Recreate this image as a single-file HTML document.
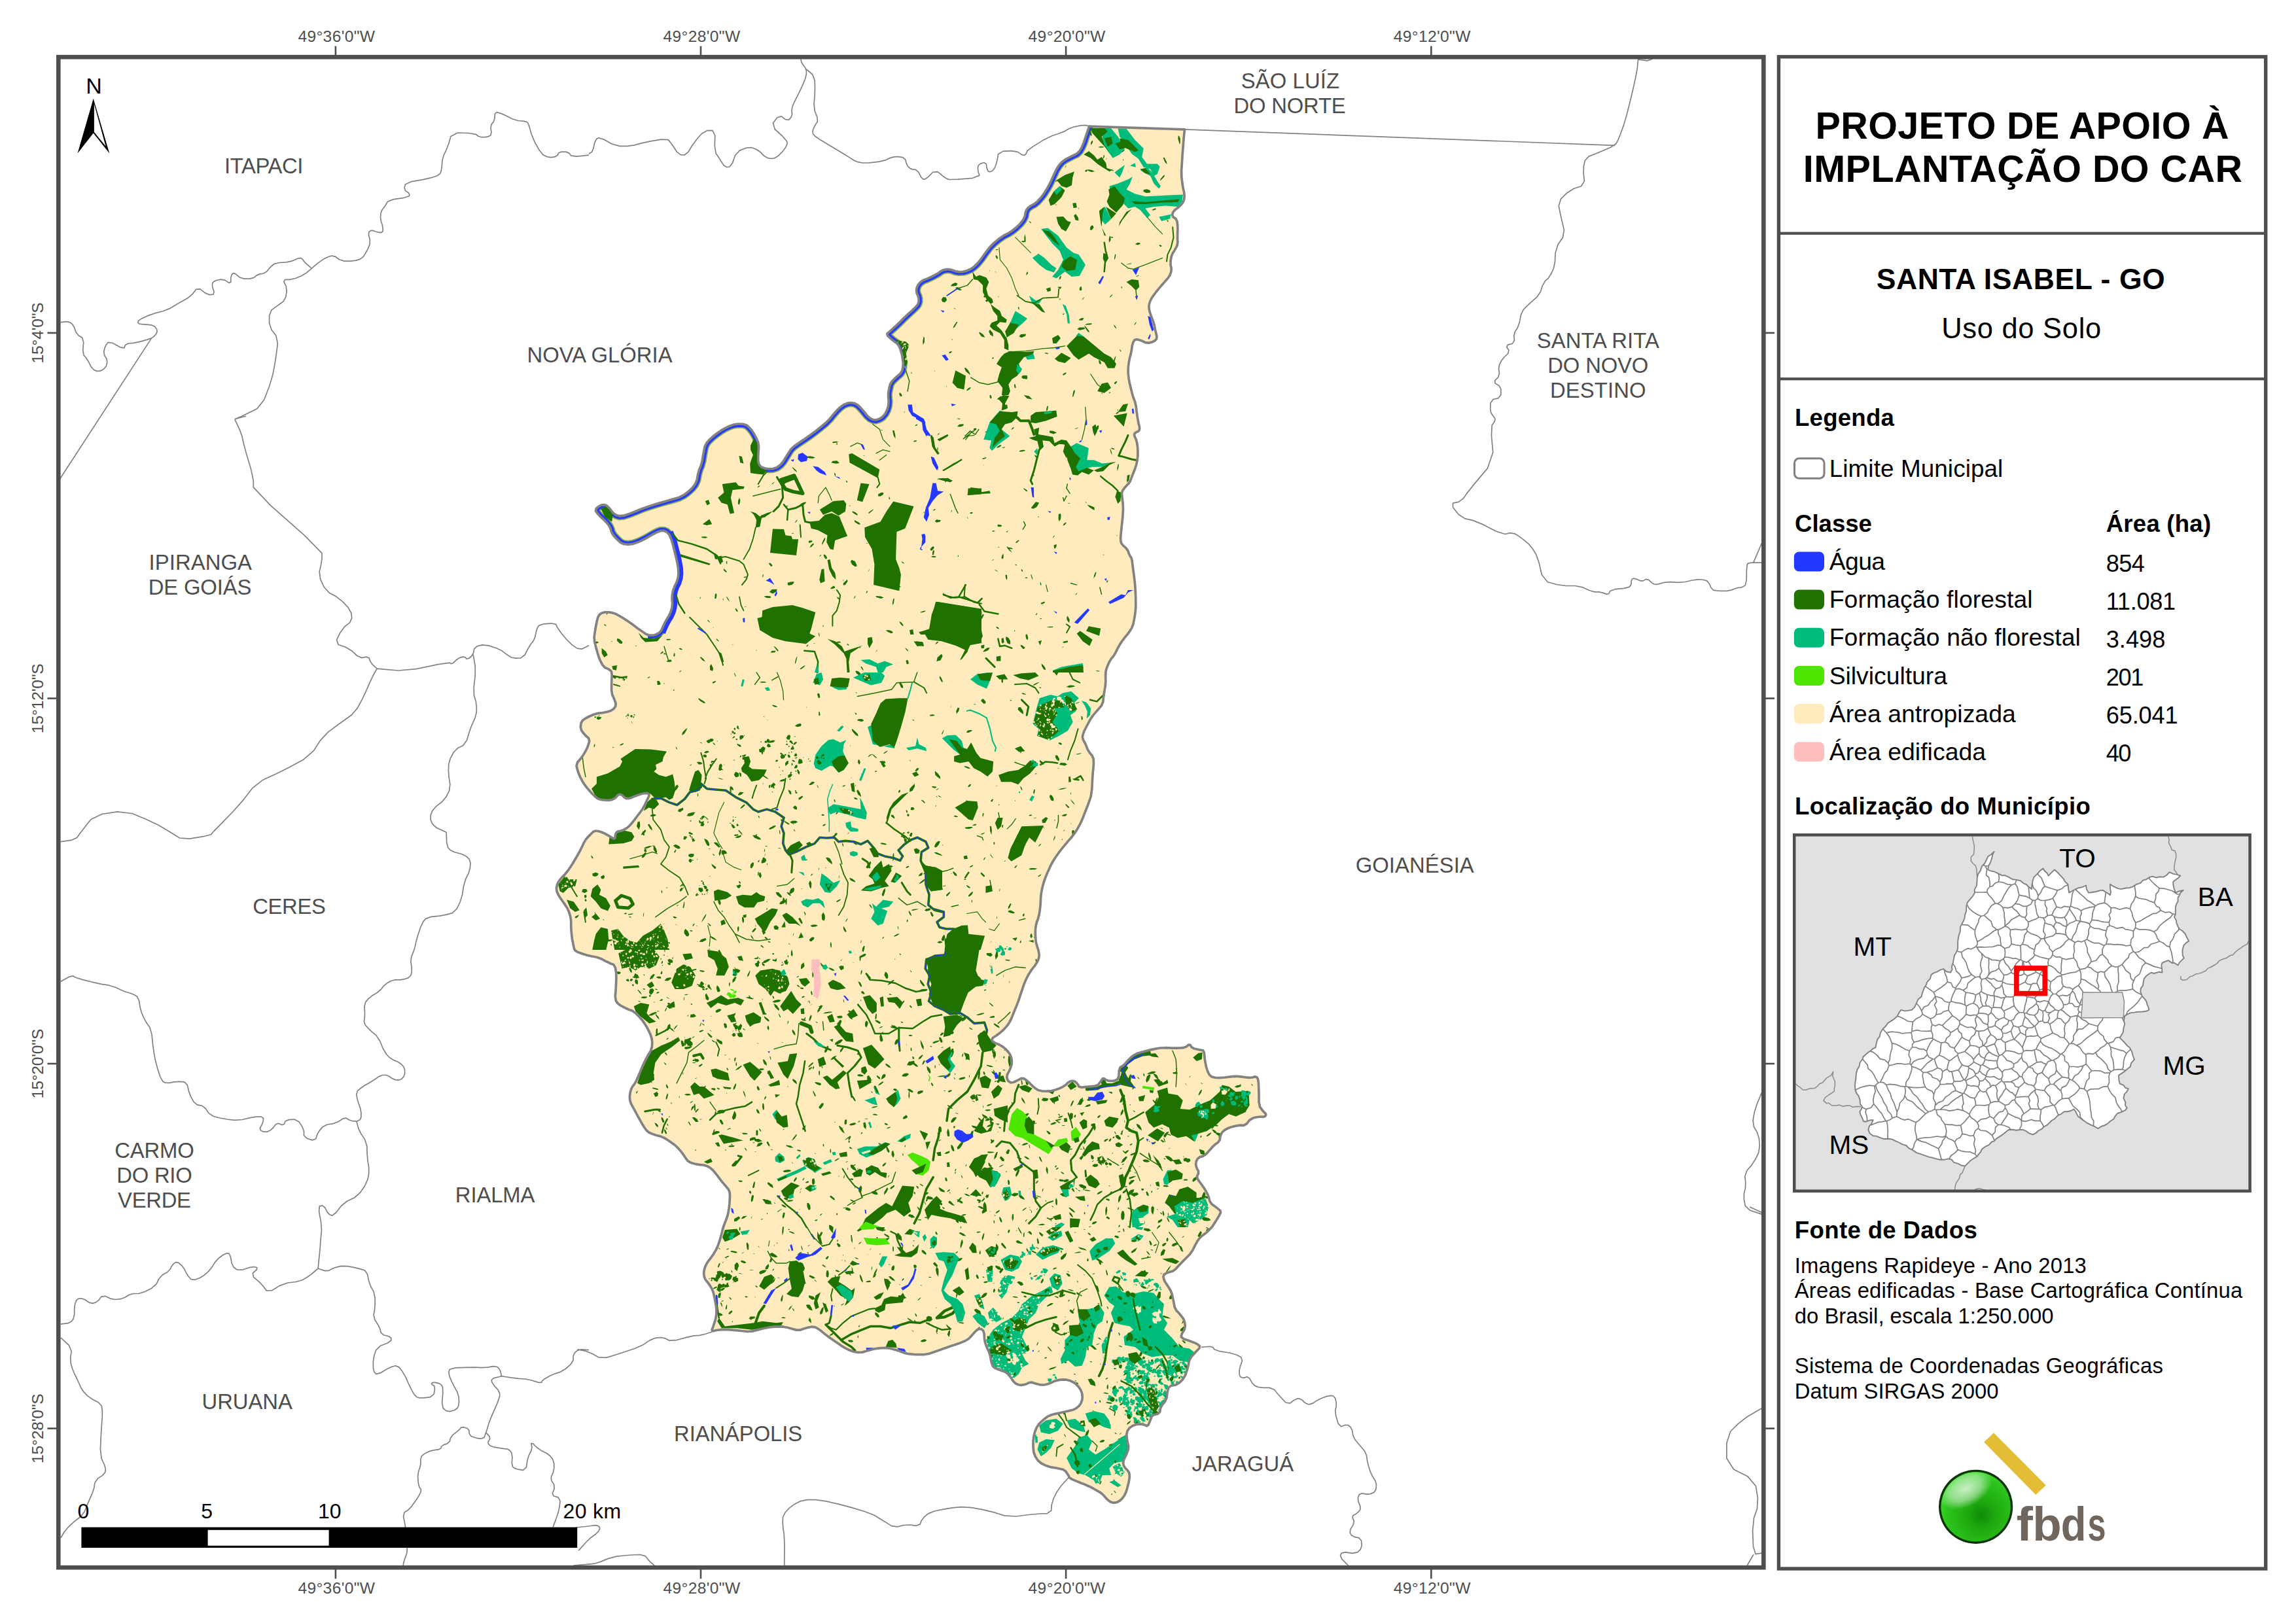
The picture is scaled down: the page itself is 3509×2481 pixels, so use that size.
<!DOCTYPE html>
<html><head><meta charset="utf-8"><title>Santa Isabel - GO - Uso do Solo</title>
<style>html,body{margin:0;padding:0;background:#fff}body{width:3509px;height:2481px;overflow:hidden}svg{display:block}</style></head>
<body>
<svg width="3509" height="2481" viewBox="0 0 3509 2481" font-family="Liberation Sans, sans-serif">
<rect width="3509" height="2481" fill="#fff"/>
<defs><clipPath id="mapclip"><rect x="89" y="87" width="2606" height="2309"/></clipPath>
<path id="bnd" d="M1664.7 193.1l145.8 4.7-1.6 16-.9 11.9-1 13.1-.7 11.7-.7 10.5 .2 9.8 1.1 9.1 1.3 7.9 1.5 6.5 .5 5.9-.7 5.2-2 4.6-3.3 3.9-3.9 3.6-4.5 3.3-3 3.6-1.2 3.9 1.3 3.3 3.9 2.6 2.2 4.2 .7 5.9 .2 6.8-.3 7.9 0 6.5 .3 5.3-.9 4.5-1.9 3.9-2.3 4-2.6 3.9-2 5.3-1.2 6.5 0 5.8 1.2 5.3-.3 5.2-1.9 5.2-3.6 5.5-5.3 6-4.6 5.2-3.8 4.5-4 4.9-3.9 5.3-3 4.5-1.9 3.9-1.3 4-.7 3.9 .3 4.6 1.3 5.2 2 5.9 2.6 6.5 2 6.6 1.3 6.5 1.4 5.9 1.2 5.2-.6 3.9-2.7 2.6-3.9 1.9-5.2 1.3-5.2-.6-5.3-2.6-4.6-1.6-3.8-.7-3 1.3-1.9 3.3-1.5 4.9-.8 6.5-1.3 6.6-1.8 6.5-1.3 7.2-.9 7.9 0 7.8 .9 7.8 1.1 6.5 1.3 5.3 1.3 5.4 1.4 5.6 1.8 6.1 2.5 6.5 1.7 7.1 .9 7.8 1 7.2 1.1 6.5 1 5.3 1.1 3.9 .3 3.3-.4 2.6-1.8 1.9-3.3 1.4-1.9 1.6-.7 1.9 .7 3 1.9 3.9 1.4 4.9 1 5.9 .4 6.8 0 7.9-.8 7.2-1.5 6.5-2.1 6.5-2.6 6.5-2.3 5.9-1.9 5.3-2.7 4.2-3.2 3.3-3.1 3.6-2.9 3.8-1.3 4.3 .3 4.6 .6 5.6 .8 6.5 .3 7.9-.5 9.1-.8 9.2-1.1 9.1-.8 8.4-.7 7.9 .4 5.6 1.2 3.3 2.7 3.2 3.9 3.3 2.9 4.2 2 5.2 1.8 3.6 1.5 2 1.2 4.6 .8 7.1 1.1 8.2 1.2 9.1 1 8.5 .7 7.9 .4 7.8 .3 7.9 .1 7.2 0 6.5-.5 6.6-.8 6.5-1.2 6.5-1.2 6.5-2.2 5.9-3.1 5.2-3.8 5.2-4.5 5.3-3.9 5.2-3.3 5.2-3.3 5.9-3.2 6.5-3.3 5.3-3.3 3.9-2.9 4.9-2.6 5.9-1.8 4.7-.9 3.7-.4 6.3 .2 9.2-.7 8.4-1.5 7.9-1.1 7.5-.7 7.1-2.6 6.2-4.6 5.3-4.3 4.9-3.8 4.5-3.7 5.3-3.2 5.9-3.3 6.2-3.3 6.5-1.9 5.3-.7 3.8 1 4.3 2.6 4.6 2.3 4.9 1.9 5.2 3 4.9 3.9 4.6 2.1 5.2 .3 5.9-.4 6.8-.9 7.9-.7 11.1-.7 14.3-1.6 11.1-2.7 7.9-2.6 7.2-2.6 6.5-2.3 5.9-1.9 5.2-2.6 5.9-3.3 6.5-3.6 6.3-3.9 5.8-4.6 5.9-5.2 5.9-5.2 6.2-5.3 6.5-4.9 6.6-4.5 6.5-4 6.6-3.2 6.4-3.3 7.2-3.3 7.9-2.6 7.2-1.9 6.5-1.5 6.5-1.1 6.5-.6 7.2-.3 7.9-.8 7.8-1.2 7.9-1.7 6.5-2 5.2-1.3 5.2-.7 5.3-.2 6.5 .4 7.9 .6 5.8 1 3.9 1 3.5 1.1 3 1 4.1 .8 5.2-.6 5.2-2.3 5.2-3.7 5.9-5.2 6.5-4.6 7.2-3.9 7.9-3.3 7.8-2.6 7.8-2.6 7.8-2.6 7.9-2.9 7.8-3.3 7.9-2.9 7.2-2.7 6.5-3.2 5.9-3.9 5.2-4.6 4.9-5.3 4.6-5.2 3.9-5.2 3.3-1.9 2.9 1.2 2.6 4 2.6 6.5 2.6 5.6 3.3 4.5 3.9 3.6 4 2.6 3.8 1.8 4.6 .9 5.3-.3 5.2-1.6 5.2-2.1 4.9-2.6 4.6-1 4.2 .7 4 1.9 2.9 3.3 1.9 4.2-.3 5.3-2.6 4.2-2.1 3.3-1.5 3.6 .6 3.9 2.9 4.3 3.7 4.5 4.6 4.3 3.6 3.9 2.6 5.9 1.5 7.8 .4 7.2-.6 6.5-1.8 5.9-2.1 5.3-2.6 4.2-2.9 3.3-3.4 3.6-1.9 3.9-.7 3.2 1 2.7 2.6 2 2.6 1.2 2.7 4.3 1 7.1-.7 6.9-.6 6.5-.7 4.6-1.9 2.6-3.4 2.3-3 1.9-2.9 2.3-.3 2.7 2.2 3.9 1.3 5.2 .4 4.6-.7 3.9-1.6 2.2-5.2 .4-8.5 1.9-5.2 3.6-1.9 3.7-3.3 3.8-4.6 4.3-4.3 4.6-3.8 5.6-3 6.5-1.9 7.2-2 7.8-1.9 7.2-1.5 6.5-1.1 8.5-.3 10.5 .4 8.8 0 7.2-.4 5.2-1.7 3.3-2.8 2.6 .1 1.9 3.4 4 2.3 5.8 1.2 4.6 1 3.3 .7 1.8 3.6 .4 6.5 1 7.1 1.6 7.9 2.1 6.5 2.6 5.3 3.9 3.3 5.2 1.2 6.5 .4 7.9-.7 7.2-.8 6.5-.8 6.6 0 6.5 .8 5.8 .7 5.3 .4 4.6-.3 3.8-1.1 2.8 .8 1.6 2.6 1 5.9 .4 9.1 .2 9.8 0 10.5 1.6 7.5 3.3 4.6 2.8 3.3 2.3 1.9 .7 2.2-1.1 2.3-2.5 1-3.9-.4-5.2 .5-6.5 1.3-5.6 3.4-4.6 5.6-4.6 2.6-4.5-.3-6.2 .8-7.9 1.9-6.2 2.3-4.5 2.6-3.3 2.9-1.9 3.3-1.3 3.9-.7 4.6-2.6 3.9-4.6 3.3-3.9 3.6-3.3 3.9-3.6 3.9-3.9 4-4.3 2.6-4.5 1.2-3.3 2.7-1.9 3.8-.7 4 .7 3.9 1.3 3.6 1.9 3.3 0 3.6-1.9 3.9 .3 3.9 2.6 4 3.3 4.5 3.8 5.3 3.3 5.2 2.7 5.2 2 5.2 1.2 5.3 3.3 4.6 5.2 3.8 4.3 3.3 3.2 2.6 .7 3.3-2 3.9-2.6 4.6-3.3 5.2-2.6 4.1-1.9 3-3 3.4-3.9 3.9-4.5 3.9-5.3 3.9-3.9 4-2.6 3.8-3.3 5.9-3.9 7.9-4.3 6.2-4.5 4.5-4.6 4.6-4.6 4.6-4.2 4.6-4 4.5-4.5 3-5.3 1.3-4.2 1.7-3.3 1.9-1.3 3 .7 3.8 1.6 4 2.6 3.9 3 4.6 3.2 5.2 2.3 5.9 1.4 6.5 1.3 6.6 1.2 6.5 2.7 5.2 3.9 3.9 3.5 4.3 3.4 4.5 1.9 5.3 .7 5.8-1.3 5.6-3.3 5.2-1.3 3.9 .7 2.7 3.2 2.3 5.9 1.9 5.5 2 5.3 1.9 4.2 2.3 3.3 2.6-.7 3.6-4.5 4.6-4.3 4.6-3.9 4.5-2.7 5.6-1.2 6.5-2 7.2-2.6 7.9-3.9 6.5-5.3 5.2-5.9 3.3-6.5 1.2-3.9 2.7-1.3 3.9-1 5.3-.7 6.5-2.6 5.8-4.5 5.3-2.6 5.2-.7 5.2-3.2 3.3-6 1.3-3.6 2.6-1.2 4-1.7 4.2-1.9 4.5-2.3 1.7-2.6-1.3-3.6-1-4.6-.7-5.2 .7-5.9 1.9-4.6 3.3-3.2 4.6-1.4 5.6 .7 6.5 .9 5.9 1.4 5.2-.4 5.2-1.9 5.3-2.3 5.2-2.6 5.2-1 4.6 .7 3.9 2.3 3.9 3.8 4 2.4 3.8 .6 4-.3 5.2-1.3 6.5-1.7 6.6-1.9 6.5-2.6 5.6-3.3 4.5-3.6 3.4-3.9 2.3-3.9 1-3.9-.4-3.6-1.4-3.3-2.6-3.2-3.2-3.3-4-4.3-3.6-5.2-3.2-5.9-3.3-6.5-3.3-6.6-2.9-6.5-2.6-6.5-2.6-6.5-2.7-4-2.6-1.3-2.6-1.9-3.3-2.6-3.8-3.9-2.7-5.3-1.2-6.5-1.4-7.9-1.2-7.1-2.4-6.5-3.2-5.3-4.6-3.9-5.9-2.5-6.8-.8-7.9 0-7.8 .8-7.9 1.8-7.2 2.6-6.5 3.6-5.6 4.6-4.5 4.6-3.9 4.5-3.3 5.6-2.4 6.5-1.6 6.6-1.4 6.5-1.4 6.5-1.5 6.6-1.6 5.2-2.5 3.9-3.3 3-4.2 1.9-5.3 .5-5.2-.8-5.2-2-4.9-3-4.6-3.8-3.9-4.6-3.3-4.9-2.3-5.2-1.3-5.9-.3-6.5 .7-5.9 1.6-5.3 2.6-5.2 2-5.2 1.2-5.2 0-5.3-1.2-4.5-1.4-4-1.2-3.9 .3-3.9 1.9-4.3 1.3-4.5 .7-4.3-.7-3.9-1.9-3.2-2.9-2.7-4-2.9-3.9-3.3-3.9-4.2-3-5.3-1.9-5.1-2-4.9-1.9-3.3-3-1.5-3.9-1.3-5.2-1.1-6.5-1.8-5.9-2.6-5.3-2.1-5.2-1.6-5.2-.9-5.9-.3-6.5-1.3-4.4-2.3-2.2-2.8-.6-3.3 .8-3.2 2.5-3.4 3.8-3.6 4-3.8 3.9-5.3 3.3-6.5 2.6-7.2 2.6-7.8 2.6-8.5 3-9.1 3.2-8.5 3-7.9 2.6-7.8 1.3-7.9 0-7.7-.3-7.5-.7-7-1.6-6.5-2.6-7.2-2.3-7.9-2-7.8-.8-7.9 .4-7.2 1-6.4 1.6-6.6 1.8-6.5 1.9-6.6 .3-6.5-1.2-6.6-2.4-6.5-3.2-6.5-4-6.5-4.5-6.6-4.6-6.5-4.6-5.6-4.3-4.5-3.8-4.6-3.3-4.6-2.6-5.6-.7-6.5 1.3-5.8 1.7-5.3 1.9-5.9 0-6.5-1.9-6.5-1.7-6.5-1.3-7.2-.4-7.9 .4-7.8 1-7.9 1.5-7.8 1.9-7.9 2.2-8.5 .7-9-1-8.5-.9-7.9-.8-7.8-.4-7.9 .3-6.5 .8-5.3 1.3-1.6-2 2-5.2 2-5.9 1.9-6.5 1-6.6 0-6.5-.7-6.6-1.2-6.5-1.3-6.5-1.4-6.5-2.3-5.9-3.2-5.3-3.3-4.6-3.3-3.8-1.9-4.6-.7-5.3 .7-5.5 1.9-5.9 3.3-5.9 4.5-5.8 4.3-6.2 3.9-6.5 3.3-7.2 2.6-7.9 2.3-7.8 1.9-7.9 1.8-6 1.7-4.3 1.8-4.7 1.9-5.2 1.5-5.9 1.1-6.5 .7-6.6 .5-6.5 .2-5.9-.3-5.2-1.4-4.3-2.6-3.2-3.3-4-3.9-4.5-4-4.9-3.8-5.3-3.7-4.6-3.3-3.8-3.9-3.3-4.5-2.6-5.6-1.6-6.5-.7-5.9-1-5.2-1.3-3.9-1.7-2.6-1.9-2.9-3.6-3.4-5.2-3.9-5.2-4.5-5.3-4.9-4.6-5.3-3.8-5.2-3.7-5.2-3.2-6.2-2.7-7.2-1.9-5.9-2-4.5-1.9-3.9-3.3-3.3-4.5-3.3-5.3-3.3-5.8-3.6-6.6-3.9-7.2-3.4-6.2-2.9-5.2-1.6-5.2-.4-5.3 .5-5.2 1.2-5.2 2.3-4.9 3.4-4.6 2.9-5.2 2.6-5.9 2.9-6.8 3.3-7.9 3.3-7.2 3.3-6.5 3.2-5.9 3.3-5.2 1.8-5.9 .4-6.5-.7-5.9-1.6-5.3-2.5-5.8-3.4-6.6-3.6-5.8-3.8-5.3-4.6-5.2-5.3-5.2-5.2-3.6-5.2-1.9-5.9-2.7-6.5-3.3-4.6-3.6-2.6-3.8-1-6.6 .7-9.1 .5-9.2 .4-9.1-.3-8.5-1.1-7.9-2.7-4.8-4.6-1.7-6-2.9-7.4-4-7.8-2.8-8-1.4-6.5-1.6-5-1.4-4.5-1.6-4-1.4-3-1.5-2.1-1.5-1.3-2.2-.7-3-.9-4.8-1.4-6.5-.9-7.1-.7-7.9-.3-7.2 0-6.5-1-6.6-2-6.5-2.6-5.9-3.3-5.2-3.6-5.2-3.8-5.3-3.1-5.2-2.3-5.2-.6-4.9 .9-4.6 1.8-4.2 2.6-3.9 3.6-4.3 4.5-4.6 4.3-5.2 3.9-5.9 4-6.2 3.8-6.5 3.6-6.2 3.3-5.9 2.9-5.9 2.7-5.8 3.2-5.3 4-4.5 3.7-3.9 3.5-3.4 3.9-1.3 4.4 .7 4.4 1.3 4.5 2 4.4 2.3 4.2 2.6 3.4 1.9 2.6 1.4 1.5-1.4 .4-3.8 .8-3 1.4-2 2.6-1.3 3.9-.7 4.3-1.6 4.5-2.6 4.3-3.6 3.8-4.5 4-4.9 3.9-5.3 4-5.2 3.9-5.3 3.2-5.5 2.7-5.9 2.3-4.9 1.9-3.9 0-2.6-1.9-1.4-2.6-.4-3.4 .4-4.2 1-5.2 1.6-5.2 2-5.3 2.3-4.2 1-3.3-.4-2.9-1.7-2.6-3-2.6-1.3-2.7 .3-2.3 1.5-1.9 2.7-3 2.1-3.8 1.8-5.6 .6-7.2-.4-5.2-.9-3.3-1.2-3.9-3-4.6-4.6-4.2-4.6-3.9-4.5-3.7-4.9-3.3-5.3-2.9-5.5-2.6-5.9-1.9-5.9-1.4-5.8 1.4-5.3 3.8-4.5 3.3-4.3 2.7-3.9 2.6-4.6 2.6-5.2 1.9-5.2 1.4-5.3-1.3-4.2-4-3.3-3.5-3.9-3.4-4.6-1.3-5.2 .7-5.9 2.6-4.4 4.6-3 5.6-3 6.5-2.8 6.6-1.8 6.5-.7 6.5-1.3 6.5-1.9 4.6-3 2.6-3.8 .6-4-1.3-3.9-1.8-4.6-2.3-5.2-1.2-6.5 0-7.9 .2-7.8 .4-7.9-.8-5.1-2-2.3-3.3-2.1-4.6-1.9-3.9-4.3-3.3-6.5-2.6-6.6-1.9-6.5-2-7.1-2-7.9-.7-6.8 .7-5.9 1-6.6 1.3-7.1 1.3-6.2 1.4-5.3 2.2-3.9 3.3-2.6 4.9-1.3 6.5 0 5.9 1 5.2 1.9 7.2 4 9.1 5.8 8.5 5.9 7.9 5.9 6.9 4.9 5.8 3.9 5.6 2 5.2 0 4.9-1.3 4.6-2.7 3.3-3.6 1.9-4.5 2-4.3 1.9-3.9 2.6-4.6 3.3-5.2 2.6-5.9 1.9-6.5 .7-6.6-.7-6.5 .4-6.5 1.3-6.5 2.3-6.6 3.3-6.5 1.9-6.5 .7-6.5-.4-7.2-1.3-7.9-1.6-7.8-1.9-7.9-2-7.8-2-7.9-2.3-6.8-2.6-5.9-3.6-3.9-4.5-2-4.9 0-5.3 2-5.9 3-6.5 3.8-6.5 3.6-6.5 3.3-6.6 2.6-6.5 2-6.2 .7-5.9-.7-4.9-1.9-3.9-3.4-4-3.9-3.9-4.5-2.6-4.6-1.2-4.6-2.3-4.6-3.3-4.5-4.6-4.9-5.9-5.3-4.2-4.5-2.7-4 .7-3.5 3.9-3.3 4-2 3.8-.6 3.3 .6 2.7 2 3.6 3.9 4.5 5.9 4.9 3.5 5.3 1.4 6.5-.7 7.8-2.6 8.5-3.3 9.1-3.8 9.8-3.6 10.5-3.4 9.8-2.9 9.1-2.6 9.2-2.6 9.1-2.6 8.2-3.9 7.2-5.3 5.9-5.5 4.5-5.9 2.9-6.8 1.3-7.9 2-7.2 2.7-6.5 2-7.2 1.2-7.8 1.4-7.2 1.2-6.5 2.7-5.6 3.8-4.6 5.3-4.9 6.5-5.2 6.6-4.6 6.5-3.9 6.6-3.1 6.5-2.2 6.8-1 7.2 .3 5.6 1.7 3.9 3.4 4 4.5 3.8 5.9 3.3 6.2 2.6 6.5 1 7.2-.7 7.9-.3 6.8 0 5.9 1 4.6 1.9 3.2 3.3 2.5 4.6 1.5 5.5 .7 6.5-.3 5.9-2.1 5.3-3.9 4.5-5.3 3.9-6.4 3.7-5.9 3.2-5.3 4-4.2 4.5-3.3 6.2-4.2 7.9-5.3 7.8-5.5 7.9-5.9 7.8-6.2 7.9-6.5 6.5-6.6 5.2-6.5 5.2-5.9 5.3-5.2 5.5-3.8 5.9-2.3 5.5-.7 5.3 1.1 4.9 2.8 4.5 4.5 4.6 5.3 4.6 5.8 4.6 4.2 4.5 2.3 4.9 .4 5.3-1.8 4.6-3.1 3.9-4.6 2.9-5.5 1.9-6.5 .7-6.6-.7-6.5 0-5.4 .5-4.3 1-4.7 1.2-5.2 2.7-4.6 3.9-3.9 4.3-4 4.5-3.8 3-4.6 1.2-5.3 .4-5.9-.7-6.5-.9-5.8-1.4-5.3-1.6-4.9-1.9-4.5-3.3-4-4.6-3.2-4.6-3.8-4.5-4.1-1-3.3 2.6-2.3 4.3-3.8 5.8-5.3 6.3-5.9 6.4-6.5 6.9-6.5 7.2-6.5 4.9-4.9 2.6-3.4 1.3-3.9 0-4.5-1-4.3-1.9-3.8-.7-4.3 .7-4.6 1.9-4.3 3.3-3.8 4.2-3 5.3-2 5.9-2.6 6.5-3.3 5.6-3.2 4.5-3.3 4.9-1.9 5.3-.7 5.5 .8 5.9 2.2 5.9 1 5.9-.3 5.8-1.4 5.9-2.6 5.5-3.9 5.3-5.3 4.9-5.9 4.5-6.5 4.6-6.2 4.6-5.9 6.2-6.2 7.9-6.5 7.2-4.9 6.5-3.3 6.5-4.2 6.5-5.3 5.6-5.5 4.5-5.9 2.6-5.5 .8-5.3 1.6-4.2 2.6-3.3 3.9-2.9 5.2-2.6 5.2-4.2 5.3-6 4.9-6.5 4.5-7.2 3.9-7.2 3.4-7.1 3.2-7.2 3.3-7.2 3.9-6.2 4.5-5.3 5.6-4.2 6.5-3.3 5.9-2.9 5.3-2.6 4.2-4.2 3.3-5.9 2.9-6.9 2.6-7.9 2.4-7.2z"/><clipPath id="muni"><use href="#bnd"/></clipPath></defs>
<g clip-path="url(#mapclip)">
<g fill="none" stroke="#828282" stroke-width="1.7" stroke-linejoin="round">
<path d="M900 237.2l-6.5 .7-12.8 1.3-8-1.3-2.9-3.8-4.9-2-6.9 0-4.2 1.7-1.6 3.5-3.9 2.3-6.3 1-6-1-6-2.9-6.3-7.9-6.9-12.7-4.9-11.8-2.9-10.7-2.5-6.1-1.9-1.4-4.9-1-7.9-.6-8.8-2.7-9.8-5-7.8-3.4-5.9-1.9-3.1 2.4-.4 6.9-1.8 5.4-3.1 3.9-1.1 5.4 1 6.9-1.2 4.4-3.3 1.9-4.7 1-5.8 0-5-1.5-3.8-2.9-10.6-1.8-17.3-.5-10.3 5.4-3.3 11.3-3.7 9.6-3.8 7.9-2.3 8.3-.6 8.8-1 6.6-1.3 4.2-5.1 3.7-8.9 2.9-13 3-17.3 2.9-9.3 4.3-1.3 5.5 1.4 4.2 4.4 2.9 1.9 2.8-.4 2.5-8 2.5-15.7 2.3-9.3 3.6-2.9 5-3 4.4-2.9 3.8-1.7 4.9-.4 5.9 .8 5.9 2 5.9 .9 5.1-.2 4.5-2.3 2-4.3-.5-4.3-1.1-4.3-1.6-3.5 .3-2.5 2.1-.3 4.7 1.9 7.3-.4 7-3 7-3.2 6.1-3.5 5.5-4.9 3.7-6.3 2-8 1-9.8 0-7.8-2.3-6-4.5-5.8-1.3-5.9 2-5.9 2.9-5.9 4-5.3 4-4.9 4.3-2.5 2.2M476.3 410.4l-2.4-2.2-5-4.3-3.9-4-2.9-4-3-1.6-2.9 .5-4.4 1.7-5.9 2.7-8.3 1.7-10.8 .6-7.4 1.8-3.8 2.9-4 3.9-3.9 5-4.9 2.9-5.9 .9-4.9 2.2-3.9 3.3-6.4 1.7-8.8 0-7.1-2.4-5.6-4.9-3.9-1.2-2.3 2.5-1.2 4.5 0 6.5-2.9 1.3-6-4-6.3-1.2-6.9 1.3-4.4 2.2-1.9 2.9 .3 5.2 2.5 7.5-1.4 3.9-5.6 .4-6.6-2.7-7.9-6-6.3 .5-5 7-6.8 5.8-8.8 5-9.3 5.3-9.8 5.9-10.8 4.4-11.7 2.9-10.8 3.7-9.8 4.5-5.2 3.7-.6 2.7 2 1.7 4.4 .6 6.2 .6 7.9 .6 5.4 2.4 2.9 4.4 .5 3.8-1.9 3.6-2.5 2.9-2.9 2.3-7.4 2.9-11.7 3.3-9.8 2-7.9 .6-4.6 2.4-1.4 4.4-6.4-1-11.3-6.3-7.2-1.1-2.9 3.8-2.2 5-1.3 5.8 1 5.5 3.2 4.8 .9 5.4-1.5 5.9-3.5 4.4-5.2 2.9-5.2 .5-4.8-1.9-4.4-4.9-4-7.9-3.7-5.9-3.5-3.8-1.3-7.9 1-11.8-2.2-7.3-5.3-3-4.1-5.3-2.9-7.9-3.4-5.1-3.9-2.3-4.7-.8-5.5 .7-2.8 .4M231.3 517.4l-140.3 215.6M476.3 410.4l-2.9 2.4-6 5-7.3 4.2-8.8 3.5-8.1 1.8-7.5 0-1.9 3.4 3.4 6.9 1 7.8-1.5 8.8-3.5 6.4-5.3 3.9-6 4.4-6.9 5-3.4 8.3 0 11.7 3.4 10.3 6.9 8.8 2.4 12.2-1.9 15.7-2.5 15.7-2.9 15.8-5.4 18.1-7.9 20.5-10.8 13.7-13.7 6.9-10.2 4.9-6.9 2.9-3.4 1.5M900 235.2l1.5-1 2.9-1.9 2.5-5.4 1.9-8.9 2.7-5.4 3.3-1.9 7.9 2.4 12.3 6.9 12.1 3.4 11.7 0 10.8-1.5 9.8-2.8 13.7-3 17.7-2.9 10.4 .4 3.3 4 4.5 6.1 5.5 8.5 5.7 4.4 5.8 .4 5.9-4.7 5.9-9.8 6.8-9.3 7.9-8.9 8-4.6 8.3-.4 3.9 7.9-.4 16 1.7 11 4 5.9 3.9 6.1 3.9 6.2 4.4 3 4.9-.4 4.4-5.9 4-11.3 6.8-7.7 9.8-3.9 8.3-.7 6.9 2.5 6.4 4.2 5.8 6 5.9 3.4 5.9 .9 5.4-1.2 4.8-3.2 5.5-5.4 5.8-7.5 2.5-5.7-1-3.9-6.4-7.4-11.7-10.7-2.7-9.5 6.3-8.3 6.3-1.8 6.5 4.8 5 .4 3.5-4 1.5-4.6-.6-5.3 .7-5 1.9-5 3.9-8.3 6-11.7 4.7-10.3 3.5-8.9 1.7-6.9 0-4.9-1.7-4.7-3.5-4.5-2.2-3.8-.8-3.4-.4-1.6M1232.4 105.8l3.2 2.7 6.2 5.5 3.4 8.9 .3 12.1-.4 12-1.1 11.7 1.2 10.8 3.8 9.8 .3 6.9-2.8 3.9-2.5 4.7-2 5.5 .5 4.5 2.9 3.2 8.8 6.1 14.8 8.9 12.2 7.3 9.8 5.9 7.9 4.9 5.9 3.9 6.3 2.7 6.9 1.3 10.8-.2 14.7-1.7 9.7-2.2 4.9-2.5 4.9-1.8 5-1 5.5 0 6.3 1 3.9 3.4 1.6 5.9 2.3 4.4 2.9 2.9 4 1.7 4.8 .4 4.5 3.9 3.8 7.5 3.5 3.5 2.9-.4 4.9-3.7 6.9-7.1 7.3-.3 7.9 6.5 5.9 3.9 3.9 1.4 13.2-.3 22.5-1.9 10.3-4.2-1.9-6.2-.5-5.1 .9-4 3.2-2.7 5.5-1.6 3.3 2.4 1 6.5 1.7 4 2.3 1.3 2.7-.5 2.9-2.3 2.5-3.7 1.9-4.9 1.8-6.8 1.5-8.8 7.4-4.6 13.1-.4 9.5 1.7 5.9 4 3.9 1.1 2-1.5 1.5-2.3 .9-2.9 8.4-6.4 15.6-9.8 13.8-6.8 11.7-4 8.9-3.7 5.8-3.5 7.9-2.8 9.8-1.9 6.8-.5 4 1 1.9 .5M1810.5 197.8l657.9 24.5M2503.6 90.9l-.5 4.7-.9 9.5-2.5 13.5-3.9 17.6-4.4 18.6-5 19.6-4.8 16.7-5 13.7-3.8 9.5-3 5.4-7.8 5.3-12.7 5.5-11.3 4.7-9.8 3.9-5.9 6.4-1.9 8.8-.3 10.5 1.3 12.1-4.9 7.9-11.1 3.5-10.3 6.4-9.5 9.2-3.4 10.8 2.5 12.3 2.8 12.4 2.9 12.3-2.1 11.6-7.3 10.8-3.9 12.3-.6 13.6-2.3 11-3.9 8.3-4.1 6-4.5 3.9-4 6.9-3.3 9.8-5.6 8.3-7.9 6.9-6.8 6.3-5.9 6-3.9 8.3-1.9 10.7-3 8.4-3.9 5.9-1.7 6.6 .6 7.5-3.1 4.6-6.9 1.7-1.7 3.4 3.2 4.8-1.2 5.2-5.9 5.5-4.4 5.8-2.9 5.8-1 6.4 1 6.9-1.9 5.9-5 4.8 .5 4.3 5.9 3.5 2.9 5.8 0 8.3-3.9 5.1-7.9 1.9-4.1 5.4-.3 8.9 1 6.2 2.3 3.5 1.2 1.7M2503.6 90.9l13.8 2 7.8-2.7M358.7 640.7l2.7 5.7 5.2 11.3 3.5 9.6 1.5 7.9 4.5 16.7 7.5 25.5 3.7 17.6 0 9.8 26.2 27.9 52.3 46.1 26.2 26.9 0 7.9-1.3 9.3-2.5 10.7 1.4 11.5 5.5 12.1 8.1 9 10.8 5.9 9.6 7.5 8.5 9 4.7 8.4 .9 7.9-3.2 6.9-7.5 5.8-6.6 8.8-5.9 11.5 2.5 7.6 10.7 3.5 9.6 5.7 8.5 7.8 7.5 3.1 6.7-1.5 4.1 1.7 1.5 4.8 3.3 4.8 4.9 4.5 2.4 2.2M358.7 640.7l17.6-4.7M576.2 1022.1l10.8 1 21.6 1.9 27.4-2.4 33.4-6.9 17.8-2.6 2.3 1.6 3.5-1.5 4.5-4.5 4.7-3.1 4.8-1.5 3.7 .5 2.3 2.5 3.5-.6 4.5-4 2.7-4.9 1-5.8 4.4-4 7.9-1.9 9.8 1 11.7 3.9 8.4 3.9 4.9 3.9 4.9 3.4 4.8 3 6.4 1.2 7.9-.3 6.4-4.9 4.8-9.5 4.5-7.2 3.8-4.8 2.7-6.4 1.4-7.8 2-5.7 2.5-3.5 7.2-2.3 11.7-1 6.9 1.8 1.9 4.5 5.4 7.7 8.8 10.7 8.3 8.1 7.9 5.5 7.4 1 7.1-3.5 3.5-1.8M576.2 1022.1l-2 3.4-3.8 6.9-4.9 10.3-6 13.7-6.3 13.3-6.9 12.7-8.8 10.3-10.7 7.8-12.1 8.8-13.3 9.8-11.8 12.7-10.2 15.8-15.9 13.7-21.5 11.7-20.6 10.3-19.6 8.9-16.2 12.7-12.7 16.7-16.7 18.9-20.5 21.1-10.3 10.6M723.2 1000.6l1 5.9 2 11.7 0 14.7-2 17.7 .3 12.7 2.5 7.8 1.3 8.3 0 8.9-2.3 9.3-4.5 9.8-4.2 11.3-3.8 12.7-5.9 8.4-7.9 3.8-6.4 6.4-4.8 8.8-2.7 9.3-.4 9.8 .7 10.3 1.7 10.8-1.2 9.8-4.4 8.8-6.5 7.9-8.8 6.8-5.9 6.9-2.9 6.9 0 6.8 2.9 6.9 6.4 5.7 9.8 4.5 4.9 2.2M92.9 1286.7l5.7-.9 11.3-1.7 7.7-3.6 3.9-5.5 7.1-9.3 10.2-12.9 16.9-8.3 23.5-3.7 22.8 2.7 22.1 9.2 17.5 8.3 12.7 7.5 11 6.7 9.2 5.8 15.2 1.2 21.1-3.5 11.6-3 2-2.3 1-1.2M2282.2 636l1 1.5 1.9 2.9-1 4.1-3.9 5.4-.8 15.6 2.3 26.1-8.3 24.3-19 22.5-12.4 15.5-5.9 8.4-7.1 5.1-8.5 1.8 0 6.3 8.5 10.7 10.1 6.7 11.7 2.5 15.9 6.5 20 10.4 13.7 4.2 7.5-1.9 7.1 1.2 6.9 4.3 7.1 5.3 7.5 6.5 6.1 7.3 5 8.3 4.6 13.1 4.2 18.1 9 11 13.8 3.8 13.9 2 14.1 0 12 2.4 9.8 4.6 8.1 2.4 6.5 0 6 1.2 5.5 2.3 3.7-.9 1.9-4 7.7-2.8 13.5-1.4 7.9-1.9 2.2-2.3 1.1-3.2 0-4.1 1.2-2.6 2.3-1 4.1 .9 5.9 2.7 4.9 .1 3.9-2.5 4.3 .9 4.5 4.3 3.9 2.4 3.2 .3 5.1-.9 7-2.1 9.3-.7 11.7 .8 11.3-.9 10.7-2.5 8.4-1.2 5.9 .2 4.7 .8 3.5 1.3 3.2 3.9 3 6.5 3.6 3.7 4.3 .7 6.6 .4 8.8 0 7.4-1.2 5.9-2.3 4.9-1.4 3.8-.3 3.7-1.3 3.3-2.2 1.8-8.5 .2-14.6 .8-8.4 1.3-1.9 5.8-1 10.2 0 5.1 0M2680 859.4l12.6-29.4M682.1 1272l.2 5.4 .4 10.8 1.9 7.3 3.5 4 6.7 3.2 9.8 2.5 7.4 3.5 4.8 4.2 2.2 6.1-.6 7.9-2.4 8.3-4.4 8.8-3.1 10.8-1.9 12.7-3.5 11.5-4.9 10.2-6.8 6.4-8.8 2.5-10.8 2-12.7 1.3-8.4 3-3.9 4.5-4 8.2-3.8 11.7-3 10.3-1.9 8.8-2.5 7.8-2.9 6.9-.8 7.8 1.3 8.9 0 6.9-1.3 4.8-3.7 3.6-5.8 2.1-6.9 1.1-7.8 0-6.9 1.9-5.8 3.6-5 4.4-3.8 4.8-5.9 5-7.9 4.8-5.9 4.9-3.9 4.9-1.7 6.9 .6 8.9-.2 7.3-.9 5.9 1.6 5.4 4.4 4.8 5.5 5.5 6.9 5.8 5.9 8.9 4.8 11.7 5 8.3 4.8 5 5.9 3.9 6.9 2.9 5.2 3.5 3.5 3.8 1.8 4.9 0 6-1.8 4.7-3.5 3.5-4.3 1.5-4.8-.6-5-2.1-4.8-3.5-4.9-1.7-5 .2-5.8 2.4-6.9 4.8-7.3 4.5-7.9 4.6-6 4.2-4.4 3.9-1.4 5.4 1.3 6.9 2 6.8 2.5 6.9 1.3 6.8 0 6.9-1.8 4.2-3.5 1.6-1.7 .8M544.9 1714.2l-2.4-.3-5-.6-4.4-1.6-3.9-2.5-5.4 1-6.9 4.5-7.8 2.9-8.8 1.4-6.9 3.4-4.8 5.5-3.7 6.1-2.3 7-5.4 1.9-8.5-2.9-4.2-4.5 0-5.8-2.4-6.9-5-7.9-6.8-3.7-8.8 .4-5.4 2.4-1.9 4.5-3.4 1.1-5-2.3-4.4 1.5-3.9 5.2-4.4 3.9-5 2.3-4.9 0-4.9-2.3-.9-3.7 2.9-4.8 1.8-4.9 .6-5-3.4-2.4-7.5 0-9.6 1.5-11.7 2.9-11.8 .8-11.8-1.3-10.8-2-9.8-2.5-7.4-4.9-4.8-7.3-5.9-4.2-6.9-1.2-5.5-4.7-4.4-8.3-3.1-8.5-1.9-8.8-4.7-4.7-7.5-.6-7.6 .5-7.9 1.6-5.8-.2-4-2-3.9-6.9-3.9-11.7-3.2-11.8-2.3-11.7-2-13.8-1.5-15.6-3.2-11.3-5-6.9-4.1-7.3-3.3-7.9-2.5-8.8-1.5-9.8-2.8-6.2-3.9-2.5-5.9-2.5-7.8-2.3-7.8-3.2-7.9-3.8-9.8-3-11.7-1.9-13.7-3-15.8-3.9-9.8-3.2-3.8-2.3-6.2 1.3-8.5 4.8-4.2 2.5M544.9 1714.2l1 3.6 1.9 7.3 4 8 5.8 8.8 3.2 10.3 .3 11.7 1 10.8 1.6 9.8 0 9.3-1.6 8.9-4.4 9.8-7.3 10.7-9 7.8-10.7 5-9.3 7.5-7.9 10.2-5.8 4.4-3.9-1.3-3.8-4.1-3.5-6.9-3.9-2.9-4.4 .9-.6 8.4 2.9 15.6 1 12.8-1 9.8-.7 8.1-.4 6.5-.2 3.2M2692.6 1669.9l-2.7 6.4-5.2 12.7-3.7 12.3-1.9 11.7 1.5 9.8 4.8 7.9 3 9.8 .9 11.7-1.9 10.8-5 9.8-5.8 8.8-6.9 7.9-2.9 8.8 1 9.8-.5 8.8-1.9 7.8 0 8.8 1.9 9.8 7.1 6.9 12.1 3.9 6.1 2M489.2 1907.7l-3.1 31.4M486.1 1939.1l-3.4 2.9-6.9 5.9-6.9 4.9-6.8 3.9-9.9 2.8-12.6 1.5-12.3 4.4-11.8 7.3-8.3 .2-5-6.9-6.5-6.8-8.2-6.9-1.2-6.1 5.9-5.2 .7-3.3-4.5-1.2-7.7 1.2-10.7 3.5-7.8-.2-5-3.8-3.2-6.7-1.6-9.5-2.4-4.9-3.4-.3-5 2.2-7 5-5.8 6.3-5 7.8-5.3 6.6-5.9 5.2-6.8 4.3-7.9 3.1-5.8-.6-4-4.5-3.4-5.2-2.9-6-3.9-5.2-5-4.5-4.2-.9-3.5 2.5-3 3.8-2.3 4.8-4.6 4.5-6.9 3.8-5.3 5.9-4 7.9-7.3 6.6-10.8 5.6-9.3 2.7-7.9 0-6.8 2-5.9 3.8-6.8 2.4-7.9 .8-7.8-1.4-7.9-3.8-5.8 .8-4 5.3-4.3 3.4-5 1.6-5.4-1.3-5.9-4.1-5.3-2-5 .2-3.4 2.8-1.9 5.2-1 7.1 0 8.9-1.5 6.6-2.9 4.2-5.2 2.7-7.5 .9-3.7 .5M486.1 1939.1l3.4 1.2 6.9 2.3 5.8-.2 5-2.7 6.3-2.4 7.9-1.9 9.8 .2 11.7 2.3 8.9 2.2 5.8 1.9 4 5.9 1.9 9.8 3.1 8.8 4.4 7.9 2.1 9.3 0 10.7-.7 8.8-1.3 6.9 1.8 7.4 4.9 7.8 3.1 6.5 1.3 5.4 4.4 3.6 7.5 1.9 3.7 2.8 0 3.5-5.4 4-10.8 4.2-6.8 6.4-2.9 8.5-1.5 9.1 0 9.8 1.5 6.4 2.9 2.9 6.3-1.4 9.8-6 7.9-3.7 5.8-1.5 5.4 2.4 5 6.5 4.9 8.6 4.9 10.8 4.4 8.8 3.8 6.9 4 4 3.9 1.1 6.9 0 9.8-1.1 5.6-4.5 1.3-7.9-.9-4.9-3.4-1.9-.6-1.7 1.9-1.4 3.9 0 5.9 1.4 3.7 2.6 1.6 4 .2 8.8-1.2 13.7 1.6 8.9 4.6 3.9 5.7 .9 6.8-1.9 4.5-3 1.9-3.9 .8-5.9-.4-7.8-2.5-7.8-4.5-7.9-3.9-7.8-3.3-7.9-1-6 1.4-4.4 9-2.4 16.7-.6 13.2-.1 9.8 .4 9.3-.5 8.8-1.4 5.9 .8 2.9 2.9 2 3.9 1 4.9 .5 2.5M766.4 2103.7l-3.9 1-7.9 1.9-3.4 3 .9 3.9 3.3 4.9 5.5 5.9 2.7 5.3 0 5-3.7 10.7-7.5 16.8-5.2 13.2-2.9 9.8-2.5 7.3-1.9 5-4.4 1.9-6.9-1-5.4-1.5-3.8-1.9-2.2-3.5-.4-4.8-2.9-3.3-5.5-1.6-3.8 .5-1.9 2.5-4.1 3.7-6.4 5-3.7 4.8-1.1 5-3.6 3.4-5.8 2-3.4 2.5-.7 2.8-4.1 2-7.5 1-6.2 1.7-4.9 2.3-3.9 2.5-2.9 2.5-1.5 4.7 0 6.9-1.2 6.3-2.3 6-.8 7.8 .7 9.8 1.7 6.4 2.5 2.9-.7 4.9-3.8 6.9-5 7.3-5.8 7.9-5.4 5.4-4.9 2.8-1.3 6.9 2.3 10.8 2 14.2 1.6 17.7-.7 12.7-2.9 7.9-1.8 5.7-.6 3.4-.3 1.8M766.4 2103.7l5.4 .8 10.7 1.6 10.3 1.2 9.8 .7 9.8 2 9.8 3.1 5.4 .3 1-2.5 3.9-3.2 6.9-3.9 7.8-3.5 8.8-2.9 8.3-4.9 7.9-6.9 3.9-6.4 0-5.9 2-4.9 3.9-3.8 6-1.7 8 .5 4 .3M742.8 2190l1.8 1.9 3.5 4 .5 3.9-2.5 3.9 .2 3.4 2.9 2.9 5.9 2.2 8.8 1.4 6.9 1 4.8 .5 3.8 2.3 2.5 3.9 1 6.4-.6 8.8 1.2 5.6 2.9 2.3 5.4 1.8 7.9 1.2 4.7-4.6 1.5-10.4 2.5-8.2 3.3-5.9 1.2-5.8-1-5.9 2.5 0 5.8 5.9 6.9 4.9 7.9 3.9 5.9 4.5 3.9 4.9 1.9 6.3 0 7.9-1.5 6.8-2.9 5.9 .5 5.8 3.9 6 .5 6.3-2.9 6.9 1.9 4.4 6.9 1.9 2.9 5.4-.9 8.9-2 8.8-2.9 8.8-2.5 6.8-1.9 5-1 2.4M92.9 2044.9l4.2 3.9 8.5 7.9 3.5 8.8-1.4 9.8 .5 8.8 2.3 7.9 3.2 7.8 3.9 7.9 3.4 7.3 3 6.9 4.3 6.3 5.9 5.9 7.4 5.2 8.8 4.5 4.9 5.4 1 6.3 0 9.9-1 13.8-1 16.6-.9 19.6 1.7 14.2 4.2 8.9 2 6.8-.4 4.9-3.9 4.9-7.5 5-4.4 6.3-1.3 7.9-2.7 8.3-3.9 8.8-4 9.3-3.9 9.8-5.8 7.8-7.9 5.9-6.8 5.9-5.9 5.9-4.7 5.8-3.5 6-1.8 2.9M1088.2 2035.9l-3.9 1.3-7.9 2.5-7.8 1.6-7.9 .6-11.7 2.5-15.8 4.3-10.7 .4-5.9-3.3-6.8-1.3-7.9 .8-8.8 3.6-9.8 6.5-12.8 5.8-15.6 5.3-14.8 4.8-13.6 4.1-11.8-.6-9.8-5.6-9.3-3.7-8.8-1.9-4.4-1M1635 2256.6l-4.4 4.9-8.8 9.8-6.8 9.8-5 9.8-2.7 9.3-.6 8.8-6.4 4.6-12.1 .4-15.9 1.5-19.6 2.5-17.6-1.1-15.8-5-16.6-4.1-17.7-3.2-15.7-1-13.6 1.3-13.7 2.2-13.8 2.9-9.7 3.9-6 5-4.1 5.3-2.3 5.9-5.9 2.2-9.4-1.3-9.6 .5-9.8 2.3-8.8-1.2-7.9-5-8.8-5.4-9.8-5.9-14.7-5.8-19.6-5.9-19.6-5.2-19.6-4.5-16.2-2.2-12.7 0-10.8 2.2-8.8 4.5-7.6 5.7-6.5 6.9-3.5 7.3-.3 7.9 .6 8.8 1.5 9.8 .7 15.5-.2 21.1-.1 10.6M880.4 2335l4.9-.5 9.8-1 7.9-1 5.8-.9 4.4 .5 2.9 1.9 .5 2.9-1.9 4-4.4 4.3-6.9 5-7.3 6.8-7.9 8.9-3.9 4.4M876.5 2393l5.9-.5 11.7-.9 8.9-.8 5.8-.6 8.9-2.8 11.7-4.8 11.8-3.2 11.7-1.4 12.3-1 12.7-.5 8.3 2.1 3.9 5 4 4.2 3.9 3.4 2 1.8M1836.1 2059.4l4.2-.4 8.4-.7 5.2 1.3 1.9 3.2 8.4 2.9 14.6 2.3 10.9 3 6.8 3.5 2 5.7-2.9 7.9-1.5 6.8 0 5.9 1.5 3.7 2.9 1.6 3.5 0 3.8-1.6 4 2.6 3.8 6.9 4.4 4.4 5 2 7.3 1 9.8 0 7.4 2.9 4.8 5.9 5.9 6.5 6.9 7.3 6.4 1.2 5.9-4.7 4.9-2.3 3.9 0 4 2 3.8 3.9 4 2.2 3.8 .3 5-1.7 5.8-4 6.9-3.4 7.9-2.9 6.1-1.2 4.3 .6 2.9 3.4 1.5 6.3 0 6.1-1.5 5.9 1 8.8 3.5 11.7 4.7 4.6 5.9-2.5 4.7 .2 3.5 2.9 2.5 5.2 1.3 7.5 3.1 6.7 5 5.9 4.9 5.8 4.9 5.9 2.9 6.8 1 7.9 2 8.3 2.9 8.8 3.4 7.4 4 5.8 1.6 6.4-.6 6.9-3 4.6-5.2 2.3-6.1 .5-6.9-1.3-4.4 1.8-1.9 4.8 .5 5.9 2.9 6.9 0 5.4-2.9 3.8-3.7 3-4.2 2-1 3.4 2.3 5-1 5.8-4.2 6.9-1 5.3 2.3 4 4.6 2.6 6.9 1.4 3.7 4.4 .6 7.5-2 5.9-4.5 4.2-7.7 1.5-10.7-1.4-6.2 1.3-1.6 3.9 2.4 5.2 6.5 6.5 3.3 3.2M2692.6 2152.7l-7.5 4.4-15.2 8.9-13.4 10.3-11.7 11.7-5.9 17.7 0 23.5 10.8 17.1 21.5 10.8 12.3 14.7 2.9 18.6-1 16.2-4.8 13.7-2 19.1 .9 24.5 3.7 11.8 6.2-1 3.2-.5M2680 2376.2l-9.8 16.8M2674.2 1845l18.4 8.6"/>
</g>
<use href="#bnd" fill="#ffebbe"/>
<g clip-path="url(#muni)">
<polyline points="1664.7,193.1 1663.6,196.3 1661.3,202.8 1658.9,210.0 1656.3,217.9 1653.4,224.8 1650.1,230.7 1645.9,234.9 1640.6,237.5 1634.7,240.4 1628.2,243.7 1622.6,247.9 1618.1,253.2 1614.2,259.4 1610.9,266.6 1607.7,273.8 1604.3,280.9 1600.4,288.1 1595.9,295.3 1591.0,301.8 1585.7,307.8 1580.5,312.0 1575.3,314.6 1571.4,317.5 1568.8,320.8 1567.2,325.0 1566.4,330.3 1563.8,335.8 1559.3,341.7 1553.7,347.2 1547.2,352.5 1540.7,356.7 1534.2,360.0 1527.0,364.9 1519.1,371.4 1512.9,377.6 1508.3,383.5 1503.7,389.7 1499.2,396.2 1494.3,402.1 1489.0,407.4 1483.5,411.3 1477.6,413.9 1471.8,415.3 1465.9,415.6 1460.0,414.6 1454.1,412.4 1448.6,411.6 1443.3,412.3 1438.4,414.2 1433.9,417.5 1428.3,420.7 1421.8,424.0 1415.9,426.6 1410.6,428.6 1406.4,431.6 1403.1,435.4 1401.2,439.7 1400.5,444.3 1401.2,448.6 1403.1,452.4 1404.1,456.7 1404.1,461.2 1402.8,465.1 1400.2,468.5 1395.3,473.4 1388.1,479.9 1381.2,486.4 1374.8,492.9 1368.5,498.8 1362.7,504.1 1358.4,507.9 1355.8,510.2 1356.8,513.5 1361.3,517.6 1365.9,521.4 1370.5,524.6 1373.8,528.6 1375.7,533.1 1377.3,538.0 1378.7,543.3 1379.6,549.1 1380.3,555.6 1379.9,561.5 1378.7,566.8 1375.7,571.4 1371.2,575.2 1366.9,579.2 1363.0,583.1 1360.3,587.7 1359.1,592.9 1358.1,597.6 1357.4,602.0 1357.5,607.4 1358.2,613.9 1357.6,620.4 1355.7,626.9 1352.8,632.4 1348.9,637.0 1344.3,640.1 1339.0,641.9 1334.1,641.5 1329.6,639.2 1325.0,635.0 1320.4,629.2 1315.8,623.9 1311.3,619.4 1306.4,616.6 1301.1,615.5 1295.6,616.2 1289.7,618.5 1284.2,622.3 1278.9,627.5 1273.7,633.4 1268.5,639.9 1262.0,646.5 1254.1,653.0 1246.3,659.2 1238.4,665.1 1230.6,670.6 1222.7,675.9 1216.5,680.1 1212.0,683.4 1208.0,687.6 1204.8,692.9 1201.1,698.8 1197.2,705.2 1192.7,710.5 1187.4,714.4 1181.5,716.5 1175.0,716.8 1169.5,716.1 1164.9,714.6 1161.6,712.1 1159.7,708.9 1158.7,704.3 1158.7,698.4 1159.0,691.6 1159.7,683.7 1158.7,676.5 1156.1,670.0 1152.8,663.8 1149.0,657.9 1145.0,653.4 1141.1,650.0 1135.5,648.3 1128.3,648.0 1121.5,649.0 1115.0,651.2 1108.4,654.3 1101.9,658.2 1095.3,662.8 1088.8,668.0 1083.5,672.9 1079.7,677.5 1077.0,683.1 1075.8,689.6 1074.4,696.8 1073.2,704.6 1071.2,711.8 1068.5,718.3 1066.5,725.5 1065.2,733.4 1062.3,740.2 1057.8,746.1 1051.9,751.6 1044.7,756.9 1036.5,760.8 1027.4,763.4 1018.2,766.0 1009.1,768.6 999.3,771.5 988.8,774.9 979.0,778.5 969.9,782.3 961.4,785.6 953.6,788.2 947.1,788.9 941.8,787.5 936.9,784.0 932.4,778.1 928.8,774.2 926.1,772.2 922.8,771.6 919.0,772.2 915.0,774.2 911.1,777.5 910.4,781.0 913.1,785.0 917.3,789.5 923.2,794.8 927.8,799.7 931.1,804.2 933.4,808.8 934.6,813.4 937.2,818.0 941.1,822.5 945.1,826.4 949.0,829.8 953.9,831.7 959.8,832.4 966.0,831.7 972.5,829.7 979.1,827.1 985.6,823.8 992.1,820.2 998.6,816.4 1004.5,813.4 1009.8,811.4 1014.7,811.4 1019.2,813.4 1022.8,817.3 1025.4,823.2 1027.7,830.0 1029.7,837.9 1031.7,845.7 1033.6,853.6 1035.2,861.4 1036.5,869.3 1036.9,876.5 1036.2,883.0 1034.3,889.5 1031.0,896.0 1028.7,902.6 1027.4,909.1 1027.0,915.6 1027.7,922.1 1027.0,928.7 1025.1,935.2 1022.5,941.1 1019.2,946.3 1016.6,950.9 1014.7,954.8 1012.7,959.1 1010.8,963.6 1007.5,967.2 1002.9,969.9 998.0,971.2 992.8,971.2 990.2,971.2" fill="none" stroke="#1f7200" stroke-width="13" stroke-linejoin="round" opacity="0.55"/>
<polyline points="1664.7,193.1 1663.6,196.3 1661.3,202.8 1658.9,210.0 1656.3,217.9 1653.4,224.8 1650.1,230.7 1645.9,234.9 1640.6,237.5 1634.7,240.4 1628.2,243.7 1622.6,247.9 1618.1,253.2 1614.2,259.4 1610.9,266.6 1607.7,273.8 1604.3,280.9 1600.4,288.1 1595.9,295.3 1591.0,301.8 1585.7,307.8 1580.5,312.0 1575.3,314.6 1571.4,317.5 1568.8,320.8 1567.2,325.0 1566.4,330.3 1563.8,335.8 1559.3,341.7 1553.7,347.2 1547.2,352.5 1540.7,356.7 1534.2,360.0 1527.0,364.9 1519.1,371.4 1512.9,377.6 1508.3,383.5 1503.7,389.7 1499.2,396.2 1494.3,402.1 1489.0,407.4 1483.5,411.3 1477.6,413.9 1471.8,415.3 1465.9,415.6 1460.0,414.6 1454.1,412.4 1448.6,411.6 1443.3,412.3 1438.4,414.2 1433.9,417.5 1428.3,420.7 1421.8,424.0 1415.9,426.6 1410.6,428.6 1406.4,431.6 1403.1,435.4 1401.2,439.7 1400.5,444.3 1401.2,448.6 1403.1,452.4 1404.1,456.7 1404.1,461.2 1402.8,465.1 1400.2,468.5 1395.3,473.4 1388.1,479.9 1381.2,486.4 1374.8,492.9 1368.5,498.8 1362.7,504.1 1358.4,507.9 1355.8,510.2 1356.8,513.5 1361.3,517.6 1365.9,521.4 1370.5,524.6 1373.8,528.6 1375.7,533.1 1377.3,538.0 1378.7,543.3 1379.6,549.1 1380.3,555.6 1379.9,561.5 1378.7,566.8 1375.7,571.4 1371.2,575.2 1366.9,579.2 1363.0,583.1 1360.3,587.7 1359.1,592.9 1358.1,597.6 1357.4,602.0 1357.5,607.4 1358.2,613.9 1357.6,620.4 1355.7,626.9 1352.8,632.4 1348.9,637.0 1344.3,640.1 1339.0,641.9 1334.1,641.5 1329.6,639.2 1325.0,635.0 1320.4,629.2 1315.8,623.9 1311.3,619.4 1306.4,616.6 1301.1,615.5 1295.6,616.2 1289.7,618.5 1284.2,622.3 1278.9,627.5 1273.7,633.4 1268.5,639.9 1262.0,646.5 1254.1,653.0 1246.3,659.2 1238.4,665.1 1230.6,670.6 1222.7,675.9 1216.5,680.1 1212.0,683.4 1208.0,687.6 1204.8,692.9 1201.1,698.8 1197.2,705.2 1192.7,710.5 1187.4,714.4 1181.5,716.5 1175.0,716.8 1169.5,716.1 1164.9,714.6 1161.6,712.1 1159.7,708.9 1158.7,704.3 1158.7,698.4 1159.0,691.6 1159.7,683.7 1158.7,676.5 1156.1,670.0 1152.8,663.8 1149.0,657.9 1145.0,653.4 1141.1,650.0 1135.5,648.3 1128.3,648.0 1121.5,649.0 1115.0,651.2 1108.4,654.3 1101.9,658.2 1095.3,662.8 1088.8,668.0 1083.5,672.9 1079.7,677.5 1077.0,683.1 1075.8,689.6 1074.4,696.8 1073.2,704.6 1071.2,711.8 1068.5,718.3 1066.5,725.5 1065.2,733.4 1062.3,740.2 1057.8,746.1 1051.9,751.6 1044.7,756.9 1036.5,760.8 1027.4,763.4 1018.2,766.0 1009.1,768.6 999.3,771.5 988.8,774.9 979.0,778.5 969.9,782.3 961.4,785.6 953.6,788.2 947.1,788.9 941.8,787.5 936.9,784.0 932.4,778.1 928.8,774.2 926.1,772.2 922.8,771.6 919.0,772.2 915.0,774.2 911.1,777.5 910.4,781.0 913.1,785.0 917.3,789.5 923.2,794.8 927.8,799.7 931.1,804.2 933.4,808.8 934.6,813.4 937.2,818.0 941.1,822.5 945.1,826.4 949.0,829.8 953.9,831.7 959.8,832.4 966.0,831.7 972.5,829.7 979.1,827.1 985.6,823.8 992.1,820.2 998.6,816.4 1004.5,813.4 1009.8,811.4 1014.7,811.4 1019.2,813.4 1022.8,817.3 1025.4,823.2 1027.7,830.0 1029.7,837.9 1031.7,845.7 1033.6,853.6 1035.2,861.4 1036.5,869.3 1036.9,876.5 1036.2,883.0 1034.3,889.5 1031.0,896.0 1028.7,902.6 1027.4,909.1 1027.0,915.6 1027.7,922.1 1027.0,928.7 1025.1,935.2 1022.5,941.1 1019.2,946.3 1016.6,950.9 1014.7,954.8 1012.7,959.1 1010.8,963.6 1007.5,967.2 1002.9,969.9 998.0,971.2 992.8,971.2 990.2,971.2" fill="none" stroke="#2438ff" stroke-width="9.5" stroke-linejoin="round"/>
<polyline points="1021.5,814.4 1022.8,817.3 1025.4,823.2 1027.7,830.0 1029.7,837.9 1031.7,845.7 1033.6,853.6 1035.2,861.4 1036.5,869.3 1036.9,876.5 1036.2,883.0 1034.3,889.5 1031.0,896.0 1028.7,902.6 1027.4,909.1 1027.0,915.6 1027.7,922.1 1027.0,928.7 1025.1,935.2 1022.5,941.1 1019.2,946.3 1016.6,950.9 1014.7,954.8 1012.7,959.1 1010.8,963.6 1009.8,965.9" fill="none" stroke="#2438ff" stroke-width="15" stroke-linejoin="round"/>
<path d="M1648.5 319.9l-.6-.8-.1-1.4 .4-.6 .4 1.7zM1175.8 905.1l4-4.1 7.8-.3-.6 3.6-6 3.2zM1655.1 722.1l-.8-1.5-.9-2.8 .2-2 1.1 2 .8 3zM1592.7 925.4l.8-.2 1.5 0-.3 .4-1.3 .1zM1269 900l1.4-1.9 3.7-2.6 1.8 1.2 .3 2.1-4.9 1.5zM1313.2 990.9l.9-1.2 1.9-.4-1.3 1.4zM1410.6 527.3l-.4-5.2 1.4-7.8 1.4 2.1-.1 6.7zM1033.2 887.3l.3-.8 1.1-1.3 1.9-.4 .5 .9-1.3 1.4-1.6 .3zM1502 996.4l3.1-3.6 3.6-2.6 4.1-.1-2.2 3.6-4 2zM1645.4 402.9l-1.7 .3-2.5-1.6-1.2-1.6 1.8-.2 2.4 1.5zM1350.7 913.5l-4.4 1.4-7.1-1.9-.8-2.1 7.6 .6zM1477 597.4l1.1-2.5 3.2-2.5 2.5-.3-1.2 2.4-2.8 2.1zM1682 557.2l-2.1-1.7-.8-4.9 2.1 .4 1.8 3.7zM1646.2 503l3.7-2.5 7.6 0 .4 2.4-7.8 1.9zM1452.9 1082l-.1-1.6 .5-1.8 .1 1.8zM1446.9 592.5l-.4-1.3 .1-2 .5 1.9zM1516.1 857l.9-1.4 1.8-.7-1.1 1.6zM1317.6 747.3l1.4-2.3 2.6-2.2 .1 1.9-1.6 2.1zM1370.1 572.3l-1.8-1.1-2-3.4 1.4 .3 2.2 2.1zM1734.8 373.3l3.6-2.2 3.3 0 1.2 1.6-4.2 1.7zM1157.6 745l.4-.8 1.5-1.7 1.2 .1 1 0-1.3 1.5-2.1 1.1zM1455.6 519.9l-.7-.5-.7-1.3 .5-.1 1.1 1.2zM1430.2 960.9l-1.3-.5-.6-5.8 1.2-2.6 1.2-2.5 .6 5.5 .4 5.9zM1285.4 982l-2.6 .8-4.9-.1 1.1-1.7 4.3-.5zM1566.1 369.5l-1.9 1-2.7-.7-.2-1.3 3.3-.5zM1611.4 838.7l-.5-1.9-.5-3.1 2.1-1 2.1-1 .1 3.4-1.6 2.8zM1499.4 945.5l-.6-1.5 3-5.1 1.9 .2-.6 2.5-2.1 4.1zM1078 1011.4l-4.3-2-3.8-4.4 1.1-1.1 4.1 3.4zM1115.1 919.7l-2.6-2.7-2.3-4.2 .3-1.3 3.2 4.7zM1627.7 256l-.2-.4 .8-1.5 1-1.2 .5-.1-.8 1.7-.8 1.2zM1027.5 898.5l1.1-1.4 2.6-1.3 2.4 .4-2 1.7-2.6 1.3zM989.5 955.9l1.5-2.3 4-2.2 2.3-.5 1 .6-2.1 2-3.9 2.3zM1686.3 849.6l-.3-.9 .2-1.8 .5 .2 0 1.7zM1500.5 702l2.1-1.8 4.7-1.1 .2 1.2-3.9 1.4zM926.8 957l-1.7-.5-1.1-.6-.6-.9 .1-.9 1.4 .3 1 1.2zM1565.6 991.7l-2 .4-3.3-3.7-.8-2.7 2.8 .9 4.2 3.2zM1456.3 501.7l1.5-3.8 4.1-6 1.6 .3-4.3 7.6zM1110.6 862.4l-.7-1.2 .1-2.9 .7-.7 .6 .7 .1 3zM1703.7 215.3l-2.1-1.9-1.8-5.9-.3-3.2 .8-.8 2.2 2.5 1.7 6.4zM907.3 987l-1.9-3.8-1.8-7.2 1.6 1 1.9 5.9zM1546.7 844.9l-3.6-3-2.9-2.8-1.7-3 .6-.9 2.8 2.6 2.3 3zM1658 496.7l2.4-1.8 4.7-.7 3 0 1.2 1-3.6 1.3-3.3 .1zM1542.8 493.5l2.3-1.6 3-1.2 1.9 .4-1.5 1.3-3 1zM1641.7 656.5l2.5-1.8 3.7-1.3 .2 .6-3.1 1.6zM1526.9 662.3l-2.1-.4-2.9-2.4-2-2.9 1.4-.7 2.6 1.9 1.8 2.1zM1580.3 727.9l-1.3-1-.6-2 .7-.5 1.3 1.9zM1294.8 737.4l-1.1 .2-.8-2 .1-1 1 .4 1.5 1.5zM1664 1091.3l-.7-1.6 0-1.4 .6 1.2zM1772.7 276.8l1.3-3.6 3.4-4.3 2.6-1.7-.5 2.9-3.3 3.4zM1506.9 460.7l-1.1-1.3 3.9-2.8 3.6-2.6 .6 1.5-2.1 3-3.8 3.3zM1409.7 784.7l1.6-1.2 2.2-1.2 .4 .5-2.4 1.3zM933.5 981.2l.7-.6 1.6-.9 .3 .4-1.7 1.1zM1482.1 784.5l1.4-1.4 2.8 0 .3 1.4-2.8 1.1zM1527.4 961.5l-2.9-.4-2.4-2.2 1.2-.8 2.4 1zM1717.5 307l1.4-1.2 2.6-.6 .1 1.3-2.4 .9zM1672.3 779.9l-.9-.6 .1-2.1 .1-2 .9 1.4 .3 2.3zM1272 676.4l1-1.1 4.9-.5 3.5 .4-2.4 1.4-5.8 .6zM1387.5 1015.3l-1.9-.3-1.1-4.5 1.3-1.7 2 .8 1.2 4.6zM1503.1 453.6l.9-1.8 3.3-1.1 3.5 .1-2.9 2.2-3.4 2zM1681.6 430.8l-.7 .4-2-.8 .7-.4 1.5 .1zM1088.5 1044.3l1-2 4.7-1.6-.7 2-2.7 1.8zM1591 895.2l-1.1-1.4-.3-2.2 .2-2.3 1.1 1.7 .6 2.6zM1237.4 837l1.3-2.5 2-2.6 2.9-1.4 .4 1.5-1.9 2.1-2 1.8zM1681.3 1026.1l-2.5 .4-3.8-.7 .4-.7 3.6 .1zM1557.4 514.3l2.7-3.3 7.8-.5-.6 3-6.1 2.8zM1617 679.1l6-2 6.3-.9 1.9 1-8.3 1.9zM1001.9 847.6l-2.3-3.5-1.4-2.8-.8-2.6 .7-.1 1.6 1.5 1.3 3.8zM1319.1 696.8l1-.7 1.9-.2-1.7 .9zM1562.7 873.9l-.8-.1-.8-1.5-.4-1.7 .7-.7 1.3 1.6 .5 1.8zM1376.5 889.7l-2.9 0-5.5-2.3 2.3-1.1 4 1.3zM1720.6 404.5l3.3-1 3.8-1 2.6 .3-3.1 1-3.1 .4zM1283.1 708l-5.7 .7-7.1-1.5 2.3-2.4 6.6-.5zM1546.5 1070.8l-1.4 .7-1.3-.6-.4-.8 1.7 0zM1702.3 260.7l-1.2 .7-2-1.1 0-.8 2 .4zM1384.3 792.6l-4.1 .6-5.8-3.2-1.9-4.2 5.1 .8 4.1 2.3zM1644.4 408.3l-2 .3-1-.8 1.2-.4zM1431.1 851.2l-3 1-4.3-.4-.4-1.4 5.1-.6zM1701.6 362.9l-1.2 .8-2-.1-.7-.8 .5-1 2 .4zM1566.1 883.3l1.9-.7 2.3 0-.2 1.2-2.1 .3zM1523.8 610.6l2.1-2.6 3.7-2.4 1.4 2.2-3.9 3zM1452.6 437.3l2.7-3.1 4.7-2.1 3.6 1.3-1.8 3.3-4.9 .8zM1099 980.8l-1.7-.7-1.7-1.6-1.2-1.7 .5-.6 1.8 1.2 1.3 1.6zM1309.6 865.6l-2.7 .6-4.5-3-2.4-4.5 1.4-2.9 5.3 2.3 2.3 4.6zM1199.1 774.3l.4-.6 3.1-.8 1.7 .1 .1 .5-1.5 .8-3.5 .6zM1288.9 894.8l-.2-3.1 6.2-5.9 .6 2.9-3.6 5.4zM1525 395.5l-1.5 .2-1.7-2.6-.3-2.4 1.3-.4 1.6 1.6 .4 1.8zM1310.1 1059.4l-1.6 0-1-.9 1.4-.2zM1758.4 292.2l-.9 2.3-5.9 .5-4.5-2.5 1.1-2.6 4.6-.6 4 1.1zM1783.6 251.1l-3-2.9-3-6.9 1.7-.8 3.4 6.3zM1252.6 1094.6l-1.4-1.6 .1-4.7 1.2-.8 1.1 5.3zM1629.4 1050l5.2-2.6 6.2 .4 2.5 1.5-8.3 1.9zM1554.4 864.2l-1.3 .4-1.6-1 .2-.9 1.8 .4zM989.1 1036.8l1.5-1.6 2.5-.9 .3 1-2.2 1.2zM1218.5 722l-3.5-2.2-4.4-5.1 1.2-.3 4.6 4.1zM966.7 1106.8l-1-1.6-.9-2.2 .6 .3 .9 1.7zM1398.3 651.1l.6-1.2 1.9-1.1 1.4 0 0 .7-.8 .9-1.5 .5zM1608 1104.7l1.8-1.5 2.5-1.5 .2 .5-2.5 1.8zM1628 1089.5l-.6-1.1 .1-1.4 .4-.4 .3 1.7zM1705.1 632.5l1-1.6 2.2-1.3 1.1 .4 .5 1.2-2.8 1.2zM1105.3 918l-.7-.8 .3-2.3 .7-.3 0 2.3zM1531.3 684.8l1.5-1.1 2.9-.5 .2 .9-2.8 1zM1359.3 615.8l.7-1.3 1.1-1.2-.6 1.5zM1564.1 1092.1l-4.8-3.5-3.8-4 .9-3.3 3.4-.4 3.9 6zM1127.6 935.4l-2.4-1.1-1.6-3.6 .8-1 2.9 3.1zM1658.3 262.4l.4-2.3 3-.8 .8 .9-1.9 2.2zM1362.4 608.4l-5-.6-5.6-5.5 2.3-.9 4.7 2.7zM1564.6 303.1l2.1-3.2 5.3-.9 3.2 1-1 3.1-5.9 1.5zM1570.7 978.6l-2.4-2.1-.9-4.4 .4-2.7 2.3 .5 1.2 5.4zM1517.9 514.6l-4.5-2.8-2.2-5.4 1.9-2.5 4.5 5.5zM1093.4 915.8l-1.2-1.6 .6-5.8 1.8-1.7 .9 2.8-.6 4.6zM1124.8 1034.3l-1.1-.5-1.5-3.6-.3-1.5 .8 .3 1.7 3.5zM1566.6 370.5l-1.2-1.2 0-6.6 .9-4.9 1.1 4.6 .2 6.4zM1486.3 980.6l2.2-3.3 4.5-3.3 3.9-2 .1 1.5-2.4 2.7-3.7 2.1zM1245.9 699.4l-3 1.4-5.6-.4-5.3-.8 .7-1.7 4.5-.7 4.9 .8zM1505.4 661.4l1-1.6 4-2.6 .7 .7-3.7 2.8zM1297.3 986.4l-1.1 .3-2.1-1.8 .9-.8 2.2 1.2zM1377.2 606l-1.4-.3-1.4-2.6 0-2.7 1.4 0 1.7 1.5 1.3 3.7zM1690.2 244.2l.5-1.8 1-.9-.4 1.3zM1042.2 1124l.6-3.9 4.5-5 3.3-2.3-1.9 4.1-2.9 4.8zM926.6 939.9l.4-2.3 2.8-3.4 .5 .8-1.7 3.4zM1570.3 576.7l-.8 3-6.4-1-1.9-2.3 1.6-2.5 6.8-.2zM1712.9 221.3l-2.3-.3-2.3-1.2 1.1-.6 1.9 .5zM1001.8 941.1l-.2-.5 .1-1.6 .5-1.5 .2 .4 0 1.3-.3 1.4zM1478.8 406.5l.1-.7 2.5-1.7 1.7-.8-.2 .6-.9 1.1-2.6 1.6zM1368.5 670.8l-2.8-4.9-1.8-8.1 2.8 .5 1.6 6.6zM1674.2 659.9l-2.2-.5 2.8-5.5 2.5-3.3 2.1 0-.6 4.7-2.8 3.5zM1701.4 557.3l-.6-2.4 1.7-5.4 1.3-3.5 1.7-2.1-1.2 5.9-1.3 4.3zM967.3 894.6l-4.9-3.3-5.7-5.7 1.8-.5 5.9 4.8zM1029 1056.5l0-1.5 1.1-1.7 .5 .8-.3 1.6zM1136.1 882.7l1.9-1.1 2.5-.4 .4 1.3-2.6 .4zM1552.3 830.3l.4-2 3.5-2.5 1.8 .3-3.6 3.3zM1283.6 916.4l-2-.2-1.7-1.8-1-1.8 1.9 .3 1.7 1.6zM1624.5 1109.9l-1.1-1.2-.3-3 1.1-2.6 1.9 1.7-.5 3.9zM1030.2 1004.1l-1-1.7 .8-3.7 1.5-.3 0 4.2zM1203.5 892.8l.5-2.3 4.7-1 4.7-.4-.4 2.4-2.7 2.6-5.4 .8zM1713.4 233.3l1.5-2.7 3.5-2.2 .4 1.1-2.4 2.5zM1327.2 784.6l.3-1.3 3.8-2.8 3.5-2.2-.5 1.4-2.1 2.1-4.1 3.3zM1357.4 879.5l1.6-1.8 2.6-1.8 .9 .1-2.9 2.3zM1315.1 801.8l-3.4-.2-5.7-3.8 0-2.7 7.3 3.9zM1453.4 783.5l.2-1.6 .6-1.9 .7-.2 .2 .7-.8 1.7zM1691 890.6l0-1.7 1.4-1.7 1.4 .4-1.3 2.3zM1160.9 1042.8l3.1-1 5.3 .3 2.1 1.5-7.2 .1zM1631.4 769.7l1.4-.5 2.1-.4 .7 .3-.9 .5-2.3 .3zM1242.6 983.6l1.8-.6 1.6 .1-1.5 .6zM1568.5 1061.8l-2.4-.1-2.7-.5-2-1.3 .6-.7 2.1 .2 2.7 1.1zM1672.4 777.6l-1.6 1.6-5.6-3.8-3.9-4 5.5 1.5 5.7 2.6zM1557.8 689.3l1.8-.8 3.2-.7 4.2 .3-.9 1.2-3.1 1-5.2 .2zM1137.3 928.3l.6-.6 2-.7 .9-.2 .2 .2-1 .6-1.3 .5zM1478.6 936.4l1.9-1.1 3.3-1-.3 .7-2.7 1zM1651.5 444.6l-1.9-1.6 .8-4.1 2.2-1.1 .9 5.2zM1263.4 854l-1.5 .7-2.5-3.5-.8-3.2 1.5-.5 2.4 1.9 1.7 3.3zM1544 985.1l-4.5-1.8-2.4-6.2 .4-4.2 3.7 2 3 5.2zM1523.1 684.9l.9-1.8 3-2.3 2.5-.8 .8 .7-1.7 2.2-3 1.3zM1522.7 417.2l-1.3-1.4-.4-1.2 1 .8zM1596 1082.4l0-3.1 .7-3 2-2.6 .7 2.8-1.6 3.7zM1335 1115.5l1-1.5 1.5-1.5 2.2-1.3 .4 .8-1.6 1.8-1.9 1.2zM1578.4 886.5l-1.5-2.6-1.7-5.4 1-.6 1.9 5.6zM1577.4 313.5l1.1-1.2 2.4-1.4 1.8-.7-.1 .6-1.1 1.1-2.1 .9zM1460.7 472.8l-2-.7-1.3-1.4 1.9 .5zM1531.4 854.5l-.9-2 .7-2.9 1.9-3.3 .7 3.5-.4 3.8zM1667.3 221.7l-.2-2.2 .6-3.1 1.4-1.2 1-.1 0 2.3-1.3 2.6zM1643.8 909.3l-.3-.4 1.2-1.6 1.1-.7 .8-.2-1.2 1.6-1.2 1.6zM1582.9 940.4l.2-1.5 1.7-2 .5 1.1-1 1.7zM1284 823.2l-3.4 .9-4.7-.9-2.7-2 3.1-.9 6.3 .3zM1341.9 758.6l.3-3 4.2-2.5 2.8-.4 1.3 1.2-1.4 2.9-3.9 1.9zM1188.5 1080.7l-2.9 .3-2.9-.8-1.7-1.2-1.2-1.6 3.5 .5 2.8 1zM1717.4 245.4l-1-.3-.5-1.5 .6-.3 .8 1zM1616.8 420.4l-.6-1.7 .4-1.7 .5 1.7zM1612.3 313.2l1.7-1 1.2 .7-1.1 .7zM1708 627.9l-.3-1.3 .8-.9 .7 1.2zM1551.7 593.6l-1.1-1.5-.7-2.2 .2-2.5 1.3-.4 .7 2.6 .6 2.8zM1165.4 883l-.1-2 .5-2.8 .7-.5 .4 1-.5 2.8zM1177.5 997.2l2.1-2.2 3.6-.3 2.5 .6-1.6 1.9-3.5 .6zM1252.6 1067l-1.9-.3-1.8-5.3 1.3-2 2.2 1 .9 4.6zM1479.9 793.4l-1-.8-1.3-2.5 .5-.1 1.4 2.2zM1802.9 221.1l-1.3-4.7-1.3-4.4 .5-5 1.5 1.4 1.5 3.2 .1 6.4zM1429 1093.7l-3.8 .9-4.3-.1 .5-1.8 4.5-.8zM1735.7 423.1l1.7-1.3 2.8-1.1 .8 .5-3.3 1.6zM1461.6 1091.2l-.2-4.7 2.4-4.8 2.7 .7-1.7 5.3zM1258 958.7l-.6-1.2 .4-1.8 .8-.1 0 1.9zM1081.6 821.8l-4.1 1-5.1-.9-.4-1.5 6.1-.3zM1209.9 815.9l1.1-.8 1.4-.4 1 0 .6 .4-1.4 .5-1.6 .5zM1703.2 586.7l-.4-1.5 2.7-2.3 1.6-.1-.2 1.6-2.2 2.9zM1380.8 956.8l-2.2-.4-2.9-3.5-1.3-3.2 3 1.5 2.6 3.2zM1235.5 828.9l1-2.3 4.1-.4 1.5 1.4-4.4 2.4zM1648.5 337.2l-4.8-.7-2.6-7 2.8-2.5 3.9 5.5zM1550.4 965.6l-.4-1.5 1-.9 .5 1.3zM1624.1 573.4l.5-1.9 3.8-2 1.5 .3-.7 1.5-3.1 2.3zM1232.4 988.4l.3-1.1 1.1-1.3 1.5-1 .2 .8-.7 1.2-1.5 1.4zM1718.7 215.8l-.2-1.1 .6-1.6 1-1.2 .4 1.4-.9 2.1zM1620.2 1097.8l.7-2.8 3.8-4.4 3.3-2.4 1 .7-2.5 3.7-3.6 3.9zM1591.4 1051.2l-.9 .7-2.2-.4 0-.9 2.4-.2zM1586.1 701.9l-2-1.9-2-2.1-1.4-2.9 1.4 .7 1.6 1.1 1.5 2.7zM1708.2 819.5l-.8-.2-1.4-1-.1-.5 1.7 1zM1444.3 737.3l-.1-1.6 1-2.2 1.1-1.5 1-.1-.3 2.2-1.4 2.7zM1585.7 790.4l1.2-.7 1.2-.1 .2 .6-1.3 .6zM957.9 1037.4l-1-.1-1.9-1.2 .1-1.4 1.5 .2 1.7 1.5zM1380.3 1051.7l-3.1-.5-3.4-7.9 2.5-.9 3.7 6zM1785.5 339.2l-1.2-.3-1.1-2.5 .7-.7 1.8 2.2zM1376.6 897l-.6 .4-2.3-.2-1.3-.9 1.6-.5 2.3 .5zM1553.9 641.9l.9-.7 1.4-.7-.1 .4-1.1 .6zM1439.4 1122.6l-.1-1.3 1.4-2.9 1.8-3.2-.2 2-.6 1.8-1.3 3.3zM1381.5 631.6l.3-1.9 1.1-1.4-.3 1.7zM1620.6 376l-2.1 .6-3.5-.5-1.6-2.3 2.6-1 4 1.2zM1467.9 640.5l-1.4 .5-2.9-.5-.6-1.1 3.5 .4zM1311 787l-1.3 .8-3.9-2.2-3.4-2.7 .6-1.4 4.1 1.5 2.7 2.2zM1003.9 932.9l-1.5-.7-2-2.7-.2-1.5 1.3 .5 1.7 2.6zM1686.4 242.5l-.9-.7 1.3-4.3 1-.6 .4 1.4-.9 2.8zM1388.3 996l-2-1.4-2.6-2.8 .2-1.3 1.5 .9 2.2 2.4zM1516.2 548.2l.1-.7 1-1.4 1 .2 .5 .4-.4 1.1-1.8 1.1zM1428.1 568.6l0-1.2 1-1.1-.3 1.4zM1323.7 907.3l0-1.5 .7-1.7 1-.6 .8-.1-.3 1.5-1 1.1zM1667.1 352l-1.4-1.4 .8-4 2.4-2.3 1.7 .9 .9 3.1-2.6 2.9zM1707.5 228.2l1.6-.7 1.6-.5 1.4 .6 0 .7-1.4 .5-2.2 .2zM1233.4 1081.7l-.7 0-1.1-1.1 .2-.2 1.1 .7zM1618.6 427.9l.4-3.5 1.5-2.7 1.4 .2-.8 3.9zM1703.9 686.7l-1.9 .5-2.7-1-1.7-1.2 1.7-.5 2.8 .9zM1623.5 390.9l-.4-1.8 .2-2.6 .4 .3 .2 2.2zM1365.1 967.1l-3.2 1.2-4.4-2.1-4-2.5 4.3-.7 4.9 1.4zM1393.1 571.7l-.6-1.3 0-1.7 .6-.2 .4 1.9zM1162.2 789.9l1-2.2 4.1-1.2 3.4 0 1 1.7-2.6 2.6-4.4 0zM1178.6 912.9l-1.7 1.3-5-.3-3-1.2-.8-1.4 4.2-.2 4.7 .2zM1599.2 958.6l5.3-.8 4.9-.1-.3 1.2-4.7 .4zM1267.2 809.6l-1.9 .3-2.6-.8-.7-1.2 4 .4zM1705.8 501.7l-.3 .6-2.6-3.3-.8-2.2 .5-.2 1.6 1.6 1.9 2.9zM1664.7 508.2l-2.3-1.3-4.3-6.2-.9-3.5 3.5 3.7 3.6 4.8zM1577.7 1048.5l3.2-3.1 5-2.2 2.7-.1-6.5 4zM1297.5 773.9l.9-.9 1.2-.4 .8 .2-1.8 1zM1488 655.9l.4-.9 2.1-.6 2 .5-.2 1.1-1.5 1-2.9 .1zM1634.1 952.2l-3.2-3.9-.8-4.1 1.5-2.9 3.2 6.1zM1588.8 946l1.1-.8 1.9-.2-.1 1-1.6 .5zM1451 971.8l-.8-.9-.6-1.6 .6 .2 .9 1.2zM1619.8 459l-.7-1.5 .6-1.4 .6 .1 .3 1.3zM1668.7 207.8l-2.8-1.3-1.7-5.9 .7-3 3.5 6.8zM1482.9 573.3l-3.4-2.9-3.2-2.7-2.5-4.9 1.9-.8 3.7 3.6 2.3 3.8zM1531.2 347.9l-1.7-1-1.8-1.5 .7-.1 1.9 1.1zM1319.7 1024.6l-.8 .2-2.9-3.7-.3-1.9 0-1 2 1.8 1.6 3.2zM1462.9 652l3.2-3.2 6.4-.6 .2 2.3-5 1.9zM1349.3 819.8l-.6-.7 .3-1.6 .8-.5 0 2zM1096.4 855.3l-3.6-.8-1.4-6.3 1.8-2.8 3.4 6.3zM1673.2 261.9l-5 1-5.4-2-.4-1.9 5.8 .7zM1535.6 568.7l-.4-1.1 1.5-1.7 1.4 .1 .4 .7-.5 1-1.4 1.5zM1279.1 680.5l-.8-.8 .3-2.3 .7-.6 .6 .7-.3 1.9zM1189.3 995.2l-1 .4-3-3.9-3-4 2 .8 2.3 1.9 3 3.7zM1505.4 515.8l-5.3-1.4-3.8-5.1 .7-1.8 5.4 3.4zM1214.9 1015.1l.2-3.2 1-4.2 1.3-3.2 1.2-1.3-1 4.9-1.2 4.9zM1252.4 973.6l-1-2.3-.6-3.5 .7-.9 1.2 4.5zM1069.4 915.4l0-1 .8-1.8 .8 .4-.7 1.9zM1089.3 960.7l.8-1.8 .8-.7-.3 1.1zM1156.2 995.7l-.5-1.2 .3-2 .4 2zM1121 985.8l-1.3-.1-1.4-.3 .2-.2 1.6 .1zM1491.8 1077l-1.4 .2-2.5-.2 .3-.5 2.5 0zM1426 849.3l-1.1-1.6 .3-4 1.3-2.5 1.3-.1 0 3.2-.6 2.7zM1538.7 886.8l-1.5-2.5-.7-4.8 1.3-1.3 1.4 1.3 .1 4.1zM1406.9 936.4l-.3-.7 4.6-1.8 3-.3 .7 .5-3 1.6-3.9 .9zM1395.7 675.3l1.8-1.7 3.3-.6-.1 1.6-2.6 1zM1624.5 803.6l.8-2.6 3.3-2.6 1.3 .9-2.8 3.4zM1623.9 982l2.3-1.7 5.6-.7 .4 2.1-5.8 1.4zM972.7 942.9l1.8-2.1 4-2.5 3.4 .9 1.7 1.4-4.1 2.2-5 1.6zM1179 740.8l1.5-2.1 2.9-2.3 .2 .7-2.3 2.3zM1397.7 1101.3l-1 .5-2.4-1 .2-.9 2.3 .7zM1476.9 1119.7l1.8-2.9 4.8-1.1 2.8 1-5.9 3.2zM1526 455.2l-.4-1.4 0-1.5 .4 .1 .3 1.4zM1287.7 888.1l.6-1.2 1.1-1.2 .3 .6-.9 1.1zM1736.2 536.1l-.6-.8 1.8-1.2 1.9-.9 .5 .9-1.3 1.4-1.6 1.2zM1374.1 574.7l-.6-1.6 1-1.5 .4 1.7zM1714.5 441.1l-.9-1.2-.1-2 .8 .1 .7 1.7zM1287 1112.5l-1.1-.3-1.3-.7-.5-.7 .8 0 1.4 .9zM1171.6 1101.9l.9-1 1.3-1.1 .1 .5-1.2 1zM1432.6 665.1l.8-1.5 2.4-1.9 .3 .6-2 2.2zM1504.7 712l-1.4-.7-.8-.9 1.1 .5zM1660.7 769.5l-1.3-1-.7-1.7 1.6 1.1zM1349.1 657.8l-1.9 .4-1.2-.7 1.3-.5zM1320.6 1101.6l-3.9 1.6-6.9-2 2-1.9 5.5-.4zM1527.9 836.8l-1.2 .2-1.9-.6 .5-.3 1.4 .1zM1733.6 497.3l.3-2.1 1.8-2.4 1.3-.2-1.8 3.1zM1432.9 689.4l-.6-2.5 .4-2.6 .9-1 .1 3.8zM1179.9 865.5l-1.4 .5-3.1-3.5 0-2.1 2.2 .4 3 3.4zM1545.4 657.2l.9-1.9 1.7-1.7 1.3-.4 .9 .1-1.2 1.5-1.4 1.1zM1619.6 1070.4l-.8-.9-.6-1.7 .1-1 1.2 2.5zM1323.8 831.1l.8-.9 1.9-.2-.1 .5-1.4 .6zM1368.8 1108.1l-2.2-.1-1.8-4.6 1.8-.4 2.6 3zM1365.2 585.8l-.9 2.1-5.8 .1-3.7-2.6 1.1-2.1 3.7-1.3 4.3 1.9zM1683.7 602.4l0-1 .9-1.5 .4 .9-.4 1.2zM1602.5 540.5l-1.3 .7-2.6-.4-2.3-1 2.1-.8 2.6 .7zM1382 861.4l-1.8-.1-2.8-2.5 1.1-.4 2.3 1.4zM1525.8 874.4l-2.4-1.1-1.8-1.1-1.8-1.8 2.3 1.1 2 1.2zM1215.3 799.2l-.2-.7 1.4-2.3 1.4-1.6 .8-.1-1 2.3-1.4 1.6zM1237.9 969.1l-2.3 .1-4.2-3.2-.4-2.2 5.6 3.3zM1431.3 1011l1.4-6.1 6.3-5.5 1.6 3.7-3.3 6.3zM1570.4 751.2l-2.2-.2-4.5-4.3 2 .1 3.5 2.3zM1422.5 841.4l-1.1-1.6 2.4-3.2 2.5-1.4 1.5 .9-.9 2.9-2.5 2.5zM1256.4 833l-.3-2.6 2.2-5 1.7-3 1.3-.6-.6 3.9-2.2 3.7zM1598.2 1024.1l-2.9-.7-3.2-5.1-.6-3.9 3.4 2.7 2.5 3.6zM1613.5 277.7l-.5-.8 1.6-1.2 1.3-.9-.2 1.4-1.4 1.6zM1639.6 607l-.6-1.8 1.5-7.2 1.8-2.6 .5 3.2-2 6.6zM906.6 983.7l2.5-1.7 2.5-1.4 2.6 .4 .6 1.2-2.6 1.2-2.6 .5zM1537.8 813.5l.4-1.1 2.4-1.1 0 .8-1.7 1.6zM1224.8 967.9l0-2.1 1.2-2.2 .6 1-.2 2zM1692.2 222.8l-1.5 .4-2.6-2.6 .3-1.5 1.6 .5 1.8 1.6zM1516 812.3l.7-.8 2.1-.6 1.4 .3 .5 .6-1.6 .8-2.1 .1zM1111.3 875l-2.9-.8-2.7-3 .4-1.9 3.5 3zM1008.9 1000l1.6-2.5 2.4-1.9 1.3 1.3-2.6 2zM1678.3 224.9l3.7-1.2 4.6 .2 .3 1.4-4.9 .5zM1531.7 803.8l-2.5 1.4-3.8-.2-1-1.4 .5-1.8 4.4 .4zM1521.4 382.3l1.4-1.3 2.1 .1 1.1 .5-2.6 .8zM1222.7 1023.2l.6-1.7 4.2-3 3.1-1.5-.6 1.4-1.8 1.8-3.5 2.6zM1364 925l-.1-3.8 1.3-5.8 1.2-1 .4 1.9-1 6.2zM1707.4 720.1l0-5 1.2-5.3 1.4-.4-.7 6.4zM1531.3 1043.8l-.9-1.5 .2-4.2 1.3-4 1.2 3.5-.3 5.8zM1618.6 797.1l-1.1-4.2 .3-6.6 2.6-1.6 1.3 3.1-.7 5.9zM1623.9 481.3l.6-1.3 1.8-.9 .5 .8-1.5 1.1zM950.4 984.1l-3-.3-4.5-4.2 .3-3.5 3.6 .6 4.7 4.7zM1723.4 211.5l-2.7 .6-4.4-2.1-1.6-2.2 .8-.9 2.5 .1 4.5 2zM1671.3 883.9l.8-4.4 2.1-4.9 1.4 .3-1.7 5.8zM1643.2 1075.6l2.3-1.4 4.8-1.5-1.2 1.4-3.3 1.5zM1359.9 763.3l-1-.1-.5-1.8 .2-1.2 .6-1 .8 1.7 .3 1.4zM1615 661.6l-4.9 1.9-6.4-2.3 .8-3 5.8 .7zM1085.4 952.2l-1.9-1.4-1.9-1.8-.3-1.5 1.4 .5 1.6 2.2zM1490.1 980l-4.4-2.4-4.5-2.6-2-4.9 3.5 .6 3 .7 4 4.5zM1506.2 1075.3l-2.7 .5-4.3-4.4 1.3-2.6 2.7-.2 3.2 3.9zM1252 850.7l.7-1.2 1.1-1.1 1-.5 .3 .3-.3 1-1.8 1.4zM1037.9 1027.6l.8-1.1 1.2-1.2 .9-.2 .5 .2-.8 .9-1.6 1.3zM1576.4 341.1l-1.4-.1-2.1-2.1-.4-1.3 3 2.2zM1425.6 780.7l.9-1.1 1.8-1.3 1.4-.2 .1 .5-.8 1.1-2.1 .9zM970.8 988l.8-.7 1.6-.5 .5 .2-2 .9zM1775.2 376.8l-1.4 .8-2-2-.5-1.3 1.4-.1 2.5 1zM1713.8 537.9l-1.4-.6-1-1.7-.4-1.5 1.3 .7 .9 1.4zM1568.3 421.2l.2-2.1 .3-2.2 1.6-1.7 .5 1.2 .3 1.6-1.5 1.6zM1169.3 1096.2l-1.5 0-1.1-.5-.1-.5 1.5 .2zM1470 443.2l-2.6 .9-5-1.9-2.3-2.2 1.3-.8 2.5-.1 3.2 1.8zM1621.6 1084.5l4.6-1.4 6.7-.1 1.4 1.4-8.4 1.1zM1623.2 990.1l.4-.7 1.6-1.1 .4 .5-1.6 1.3zM1214.8 1109.5l3.9-2.4 4.4-1.4 1.6 1.9-.7 2.3-5.5 1.4zM1221.8 773.3l2.2-3.4 4.7-2.2 3.8-.2-2.5 3-4.3 3zM1326.5 874.1l.2-.9 1.1-1.8 1.1-1.7-.2 1-.4 1-.8 1.3zM1532.2 983.7l-1.5-2.4-.1-5.4 3-1 1 7.1zM1089.1 1025.7l-3.9-1.5-.4-5.9 2.1-3.4 3.2 6.8zM1653.6 458.7l.6-1.6 2-2.1 1.2-.9-.7 1.4-1.4 1.8zM1018.1 999.9l-1.3 .6-1.7-.2-1-.7-.1-.7 1.2-.6 1.6 .7zM1694.8 601.5l.3-1.4 1.4-1 .7 .4-1.1 1.4zM1695 370.7l-.4-4.7 1.3-5.8 1.5 1.9 .2 5.2zM1450.3 540l.5-1.9 2.5-1 1.8-.1-.9 1.6-1.8 1.5zM1590.9 923.6l-.1-1.8 4.4-2.1 1.8 .2-.3 1.7-3.6 1.9zM1760.6 321.4l1-1.4 4.1-1.5 1.4 .7-1.2 1.3-3.4 1zM1599.5 628.9l-.5-3.5 1.4-4.7 1.5-.1-.6 5.3zM1428.8 796.7l2.3-2.5 6.5 .8-.6 2.5-5.6 1.3zM1286.3 1114.6l-.8 .1-1.3-1.6 .8-.2 1.2 .8zM1557.3 473.2l-.7-.3-.7-2 .1-1.7 .7-.3 .9 1.6 .2 2zM1538.8 625l-1.4-1.7-.6-4 1.1-1 1.3 .8 .9 4.4zM1627.1 226.5l2.9-3.9 4.4-3.5 2.8 .6 .2 2.7-6.2 4.3zM1464.4 851.3l-.8-.7 .4-1.8 .7-.2 .3 1.9zM1609 822.3l.1-1 1.6-2.1 1.2-1.1-.2 1.4-1.7 2.1zM1365.3 1112.9l0-1.1 1.5-1.3 1.2-.4-.3 1.2-1.3 1.3zM1703 397.5l0-3.4 1-4.8 1.2-1.3 .1 2.4-.8 4.2zM1512.5 415.3l-.2-1.5 .5-1.7 .1 1.8zM1548.1 839l-1.3 .5-3.8-.8-1.9-1-.1-.7 2.3-.2 3.4 1.2zM1440.3 1043.2l-1.9-1.6-2.8-5.8 .8-2.4 2.2 2.8 2.1 4.8zM1315 1032l-2.4 .1-3.1-2.2-2.3-3.3 1.7-1.3 3.4 1.3 3 3zM1304.6 915.5l.8-2.3 1.9-2.7 .3 .9-1.2 2.5zM991.3 970.7l-.8 .5-1.3-1.8 0-1.2 .2-1 1.3 1.4 1.3 1.5zM1311.7 1125.7l-4.1-2.3-3.2-3.5-2.7-3.9 .8-2 4.2 3.8 4.3 4.2zM1042.7 993.3l-1.3 .1-2.1-.6-1.8-1.5 .8-.5 1.8 0 2.5 1.5zM1699.8 696l-2.2-4.3-1.4-5.6 1.2 .8 1.6 4.1zM1129.2 772.1l-1.4-2.6 .4-4.6 1.7-4 1.6 3.8-.8 4.5zM1277 728.3l-.9-1.3-1.1-1.9 .2-1.8 .8-.3 1.1 1.7 .1 2zM1077.9 1075l-2.2 .1-5-3.1-3.1-3.1-.2-1.9 5.1 3.1 4 2.5zM1695.6 455.1l.9-2 2.9-2.6 1.2 0-3 3.3zM1429.4 984.8l.8-1.8 1.5-1.4 1.8-.9 .8 .8-1.5 1.6-1.5 1.2zM1648.6 489.2l1.7-1.8 3.1-1.5 3.2 .3-1.1 1.8-1.2 1.7-3.3 .1zM1018.3 1011.1l2.7-1.8 3.7-1.1 1.8 1.2-.3 2.2-5.2 .5zM1309 1092.4l-1.3-.1-1.4-2.7 1.4 .1 1.6 1.4zM983 867.4l0-1.9 1.2-3 2.7-2.9 .4 2.1 .5 2.6-3 2.3zM1653.9 1100.7l-1.2-.7-.1-2.4-.2-2.8 1.4 .3 1 2-.1 2.4zM1017.8 977.8l2.1-1 3.6 0 2.1 .9-2.5 .8-3.3 .3zM1495.9 427.2l-.6 .1-.8-1.9 .4-.9 .3-.9 .8 1.4 .4 2zM1338.6 996.9l.4-1.5 1.3-1.9 .8-.3-1.5 2.6zM1514.4 609.5l-1.6-1.5-.4-3.1 1.1-1.5 1.4 1.3 .8 3.1zM1586.7 1339.9l-.1-.8 2.4-1.7 2.1-1.1 .1 .7-1 1.6-3.1 1.9zM1315.4 1490.3l.1-2.8 .3-2.6 1.4-2.6 .4 1.4 .2 1.8-1 3.1zM1083 1253.3l-2.8-1.9-2.4-1.9-1.1-1.5 1.6 .6 3.2 2.6zM934.7 1445.8l-1.1-.8-.4-1.9 1-.4 .9 1.8zM1086.3 1339.8l-1.1 .1-1.5-.7 .1-.3 1.4 .3zM979.5 1276.8l2.1-4.2 4.5-4.5 1.3 2.1-3.8 4.8zM1373 1211.7l-.2-1.4 1.4-2.2 1.8-.5 .1 1.8-1.6 2.1zM1031.1 1209.4l0-3.9 1.6-4.2 2.9-2 1.3 3.1-2.8 4.5zM1209 1369.4l-1.8-.3-2.8-2.2-2.1-2.8 1.4-.4 2.5 1.2 2.1 2.6zM1315.3 1441.6l0-1.3 .7-2.4 .7-.8 0 1.1-.6 2.6zM1085.8 1451.6l-1.5 .2-1.7-.6 .1-.7 1.8 .3zM1540.6 1390l.4-3.9 3.2-5.4 1.4 1-2.2 5.5zM1105.5 1177.5l-3.2-.8-3.4-2 1-.9 3.6 1.3zM1616 1175l1.8-.7 1.1 0-1 .7zM1108.1 1169.6l-.9 0-1.2-.8 .2-.3 1.3 .4zM1142 1493.7l.6-3.9 3.4-6.3 .5 1.5-1.9 6.1zM960 1398.4l.3-1.1 5-.9 2.2 .1 .2 .6-2.3 1-3.1 .4zM983.2 1401.6l-.4-1.3 .3-2.3 .3-2.1 .7-.6 .1 2.4-.5 2.2zM1519.5 1291.6l-.8-1.2-.3-1.7 .5-1.8 1 .3 .5 1.6-.3 1.5zM1609.9 1285.5l.1-1.8 .9-3.2 1.6-3.7 0 2 0 2-1.6 3.1zM889.3 1243l-2 .5-3.8-.4-3-1-.2-1 3.8 .4 2.6 .6zM1259.6 1480.9l-1.3-1.1-2.9-3.5-1.6-3.8 .6-.9 3 3.4 3.4 5.7zM1123.1 1280.5l4-2.6 6.2-1.3-1.6 3.1-3.8 1.3zM1340.5 1159.5l-3-1.7-3.2-3.1-1.7-2.2 2.1 .9 4.3 3.5zM997.1 1269.7l-3.8-3.3-3.4-6 2.2-.8 3.9 5.3zM1024.4 1442.6l-1.6-.1-1.7-1 .1-1 .8-.7 1.8 1.3zM985.3 1491.5l-1.5-.4-.5-1.8 1.7 .8zM1492.1 1551.5l3.7-1.6 3.8-1.1 5-.6-1.3 1.5-3.2 1.3-5.7 1.3zM1429.5 1208.5l1.4-1.2 1.3-1 2.3-1.3 .4 .5-2.1 1.6-1.9 1zM1579.6 1251l1.4-.8 3.2-.7 0 .6-3.3 1zM1437.1 1190.7l-3.7-2.5-3.8-3.1-.8-3.5 .1-3 4.4 3.7 3.8 5.1zM1288.7 1294.5l-1.2-2.4-.5-3.7 1.1 .6 1.1 2.9zM1044.3 1388.1l-.8-.6 1.1-5.3 .9-4.2 .6 1 .1 3.2-.9 5.5zM1094.1 1327.5l-1.8 .7-3.6-4-1.6-4 4 2.7 3.2 2.6zM1310.7 1221.6l-1.4 .7-3.2-.8-1.2-1.9 2.3-.6 2.5 1.3zM984.7 1277.2l-2.1-.4-.8-3.7 .3-2.5 2 1.6 .9 2.7zM1075.9 1151l2.2-2.8 4.1-.4 1.6 1.6-4.3 2zM1121.6 1276.7l2.1-1.1 4.8-.1-.7 1.7-4.4 .9zM933.6 1257.7l-1.6 .2-1.4-.5 1.4-.3zM1040 1296.3l-3 1.5-4.7-2-3.5-3.4 4.1-1.7 5.2 2.8zM1162.4 1342.6l-2.5-3.1 .6-5.4 2.1-.3 1.3 5zM1518.1 1312.4l-2.4-2.4-2-2.4-.9-1.9 1.6 1 2.4 3.1zM916.1 1444l2-1.2 2-.5 1.5 .2-1.1 1-2.3 .7zM1172.9 1293.6l-1.2 .7-2-.5 .2-.9 1.9 0zM1100.9 1294.9l-2.5 .6-4.2-3.8-3.3-3.2 1.5-1 3.6 .6 3.1 3.9zM1531.8 1265.5l-.7-1.1 .4-2.8 .9-.9 .9 .6-.6 3.1zM1515.3 1276.2l-2.2-5.8-.3-8 2.3 1.2 .8 6zM1052 1431.3l-2.9-.1-3.6-4.6 .2-4.2 1.7-2.7 4 3.7 2 5.2zM1433.1 1218.5l-1.6-.3-1.3-1.1 1.7 .2zM1128 1215.6l.2-1.9 2.9-3.1 2.7 .3 3 .2-3.4 3.3-3.3 1.3zM1127.6 1424.6l-.5-2.9-.3-2.7 1-2.7 1.2-.1 .6 2.9-.7 3.8zM1473.4 1344.3l.1-.6 1.8 .1 1.6 .2-.1 .6-1.4 .4-2.1 0zM1585.2 1471.5l-1.3 0-1.4-3.7 .1-2 1.6 .8 1.9 3.9zM1293 1424.7l-1.4-.1-2.6-4-.2-2.7 .3-2.1 2.6 3.7 1.9 3.9zM1115.2 1507.4l-.8 .4-.4-4 .6-1.4 .5-1.4 .8 2.6-.4 2.8zM1193.6 1475.9l.5-1 2.4-.9 1.2 .5-.9 1-2.1 .8zM1429.9 1233.5l-.3-1.6 .9-1.5 .3 1.7zM1038.6 1355.4l2.5-2.8 3.4-2.5 .7 1.6-3.2 2.7zM1386.1 1409.1l-.3-.7-.1-1.5 1.2-1.7 .5 1.3 .4 1.1-.8 1.8zM1194.2 1519l-5.2-1.6-2.9-5.6 1.4-2.7 4.6 4.6zM906.5 1403l-.2-.5 1-1.9 .5-.4 0 .6-.7 1.7zM1404.4 1514.2l4.9-2.1 6.8-.3 1.9 1.7-8.2 1.4zM1525.7 1230.3l.6-.7 1.5 .3 0 .6-1.5 .5zM1224.1 1481.5l-.1-2.7 .6-4.4 3.5-3.2 1 2.6 .5 3.2-3.1 3.2zM1347.6 1349.7l-1.7-1.6-2.3-6.3 1.5 0 2.3 5.3zM1445.6 1447l-1.5-3.3-.7-7.1 1.1-3.6 1.7 3.5 .1 6.6zM1229.5 1400.1l.7-1.4 1.1-1.8 .5 .1-1.2 2.3zM996.1 1211.7l-2.8-1.8-2.2-4.4 .5-3.5 3.4 .1 2.1 6.6zM1592.9 1257.8l-.5-4.4 5.9-4.5 3.3 1.8-4.2 7.2zM1228.2 1511.3l-1.2 .9-3-.6-1.8-1.5 2.3-.6 3 .6zM1348.4 1369.7l-.7-2.2 2-6.2 3-3.8 .3 4.5-2.5 7.4zM868.5 1356.8l-5.9-2-4.6-4.1 1.7-1.3 5.8 2.3zM1548.5 1436l2-1.3 1.8-.9 1.3 .4 .4 .6-.9 1.3-2.1-.2zM1306.6 1202.4l-.1-.6 .8-1.8 .7-.8 0 1-.9 1.9zM1572.4 1246.7l.6-.8 1.9-.6 1.9 .1 .2 1-1.7 .8-2 .1zM1468.2 1459.3l-1.2-.6-.6-1.7 .6 0 1 .9zM1055.2 1483.7l3.9-1.8 3.8-.9 1.9 .4-1 1.3-4.9 1.4zM1210.3 1462.2l-1.5-2.5 .1-5.2 1.2-2.9 1 3.6 .6 4.2zM1627.7 1304.4l-2.7-.4-3.8-2.3 .9-1 4 1.6zM1428.3 1205.8l-.6-1.8 .3-1.9 .7-.7 .1 2.5zM1030.7 1303.3l-.6-.7 1.2-2.3 1.6-1.9 .5 1.1-.6 1.8-1.2 2.4zM1480.1 1370.6l-.2-1.7 2.8-3.2 3.6-2.9 .7 1.7-2 3.3-3 2.5zM1086 1298l-1.4 0-1.4-.5 .1-.6 1.8 .2zM1528.2 1571.7l-4.6-1.9-3.7-2.7-1.5-2.4 2.1-.3 5.7 3.9zM1313.5 1169.1l-2.5-3.3 .4-4.4 1.9-.2 1.6 4zM1168.4 1308.9l.2-1.5 .9-2.4 .5 .3-.8 2.5zM911.4 1398.4l-.6-.1-1.8-2.1-.7-1.5 .3-.4 1.4 1.4 1 1.6zM936 1143.2l.5-.9 1.5-.8 .3 .8-1.2 .9zM1365.2 1324.7l-3.7 1-3.7-.4 .8-1.7 3.5-.8zM983.7 1297l3.3-2.2 4.8-1.5 5.3-.5-4.4 2.6-5.6 2zM1588.9 1390.1l1.1-2.4 3-3.4 1 .7-3 4.3zM1100.4 1384.1l-2.5-3.4-.7-3.8 .7-2.9 2.4 1.4 1.5 5.2zM1086.3 1415.4l-1.3 0-2.4-2.3-1.3-2.3 2.3 1.2 3.1 2.4zM1236.1 1200.1l2.2-2.8 3.1-2.5 2.4 .4 1.3 .8-2.2 2.2-3.5 1.9zM1195.5 1371.6l-3.2 .3-5-4-1.8-4.2 4.4 .3 4 4.4zM1287.4 1202.4l.5-1.1 1.9-.8 1.5-.3 .9 .5-1.5 1.3-1.7 .3zM1073 1136.5l-.8-.1-1.5-.6-.9-1-.2-.6 1.8 .8 1.5 .9zM1277.8 1245l-.6-1.2 1.5-2.2 1.4-1.2 1.2 0-1 2.2-1.1 1.7zM976.6 1268.5l-3.6-5.2 1.5-6.8 3.2-1.1 .7 6.8zM1272.3 1279.3l.4-1.2 1.8-1 .5 .8-1.4 1.4zM1595.8 1168.8l-4.2-.9-2.8-3.6 .4-2.6 4.4 3.3zM1001.7 1469.5l-2.8 .5-5.2-1.2-1.6-2.6 3.4-.5 5 1.6zM923.7 1406.2l-1.6 .4-1.1-1.2 1.5-.1zM1600.1 1381.9l-.8-1.6 .5-6.1 1.1-1.7 .3 3.1-.4 3.7zM1644.3 1153.1l2-.9 4.1-.8 2.6 .1-1.8 1.1-5.6 1zM1253.7 1544.8l-1.1 .5-1.9-.9 .4-.8 1.8 .3zM1151.9 1436.2l-1.8-1.2-2.2-2.9-.9-2.6 2.1 1.2 2 3.4zM1367.7 1467.4l-.3-.8 .2-1.4 .5 .1 .2 1.5zM1207.3 1256.4l3.3-1.7 5-.3 3.8 1.9-3.6 2.1-6 .3zM1190.9 1381.4l2.1-3 4.4-2.3 3.5-.2 .7 1.5-2.4 2.5-5.4 2.7zM1016.1 1456.2l-.6-1.7-.5-2.9 .1-3 .7 .3 .7 2.4-.1 3.2zM965.6 1486.9l-2-1-1.6-3-.6-2.6 .8-1.7 2.4 2.6 1.2 3.4zM1650 1192.2l-1.2 1.2-7.4-.9-2.5-2.1 4.1-.5 5.8 .9zM1503.8 1514.1l.1-.9 1.8-.8 1.7 .3-.4 1-1 .6-1.4 .3zM1382 1290.3l.6-3.3 1.4-3.6 .8 .1-1.2 4zM1177.9 1440.5l-2.1 .3-2.3-.7 .4-1.2 2.5 .2zM1439.3 1219.3l-2.2-.7-2.4-1-1.2-1.4 1.7 .1 2.5 1.6zM1217.5 1494.3l.5-.9 1-1.2 1.5-.5 .5 .5-1.4 1.2-1.2 .8zM1373.1 1420.9l-.9-1.4-.3-2.7 .2-1 .7 .1 .4 3zM1503.4 1314.7l-.1-1.2 1-1.9 1.1-.8 .9-.2-1 1.8-.8 1.8zM1149.1 1425.1l1.3-3 3.6-3.5 1.7 .4-.7 1.9-3.1 3.8zM1226.1 1358.9l-1.2 .2-1-.5 1.1-.3zM1456.2 1534.1l-.8-.4 .5-2.7 1.1-1.6 .6 .5 .1 1.7-.6 2.4zM1099.7 1178.2l-1.6-1.9 1.2-7.2 2.7-1.8 1.9 2.7-1.7 7.4zM879.3 1228.5l0-2.2 5.2-3.4 3.6-.1 2.8 .7-4.5 3.5-5 2.3zM1610.5 1224.6l-4.1-1.2-2.6-5.8 1.2-2.6 2.7 .9 2.4 4zM936.3 1280l-.1-1.2 .7-2 .6-1 .2 1-.7 2.4zM1514.5 1225.4l-.1-1.9 2.6-2.3 1.1 1.1-1.7 3.1zM1067.5 1440.8l-1.1-.7-1.3-1.3 .5-.1 1.2 1.1zM959.8 1247.3l-1.7 .3-4.1-4.2-.7-2.6-.4-2.3 3.6 2.8 4.2 4.6zM1220.1 1222.6l.8-3.1 4.8-3 1.8 1.2-4.3 4.4zM910.7 1335.4l-.6-1.1-.6-1.7 .5 .3 .5 1.3zM1362.9 1521.1l-1.4-.1-1.8-.2-1.3-1.1 .9-.4 1.2 0 1.3 .8zM1168.1 1302.5l-.4-1.1 .8-3.3 .8-.3-.4 3.8zM1035.2 1145.8l-1.4-.8-.8-2-.4-1.8 1.3 1.4 .8 1.3zM1163.4 1283.6l-4.4-.3-5.6-2.6-3.4-4 4.9-.1 6.1 3.6zM1234.3 1532l.6-1.6 1.4-.5-.6 1.3zM1259.2 1156.4l-.7-.8 1.1-3.1 1.2-.6 .5 1.2-1.1 3zM1313.9 1246.8l1.9-.9 1.6 .7-1.6 .6zM1120.9 1208.2l-3.2-1.5-1.5-3.6 1.4-1.1 2.9 2.7zM1034.3 1385.3l.1-1.1 2.1-1.5 .1 .8-1.2 1.4zM888.3 1143.2l1.8-2.4 3.1-2.6 2.7-.9-1.3 2.4-3.9 2.8zM1250.1 1415.1l-3.7 1.3-5.3 .6-2.6-2.1 3.7-1.4 4.7-.1zM982.3 1221.5l1.7-.5 1.4 .3-1.4 .4zM1231.1 1398.8l-1.2-1.3-1.3-3.3 1.1-.5 1.7 3.4zM1077.6 1485.1l-3.6 .9-4.4-1.2-.2-1.8 4.9 .4zM1206 1191.1l.8-.6 1.5-.2 .9 .4 0 .4-.9 .4-1.9 .3zM1215.5 1270.8l-1.7-.5-1-1.7 .4-.7 1.5 1.2zM1206.6 1366.1l.2-2.7 1.5-4.5 4.4-2.2 1.4 2.2-.8 4.2-4.2 3zM1310.5 1291.8l-2.4-.4-3-2-1.7-2.1 2.3 .3 2.9 2.2zM1059 1423.4l-1.4 .3-1.6 0-1.8-.9 .7-.9 1.6 0 1.2 .6zM1403.7 1339.6l1.2-2.5 1.8-2.2 2.7-1.1 .4 1.7-.4 2.3-3 1.3zM973.4 1223.3l-2.1 0-2-.3-.4-.5 2.5 .2zM1183.1 1527.1l-1.9-1.4-.7-2.7 1-1 1.6 2.8zM1011.9 1365.6l-1.1-1.7-.2-3 .9 .2 1 2.6zM1501.8 1248.9l-.4-3.1 .6-2.7 1.6 0-.4 3.2zM912.3 1405.2l-1.5 .7-1.3-.7 1.3-.7zM1431.5 1204l-2.3 .4-3.7-.4-1.9-1.7 2.8-.4 3.9 .5zM1271.9 1321.2l-3.9-2.7-3.4-3-2.5-4.6 2.4-.2 3.6 1.4 3.3 5.3zM879 1403.3l-.4-1.8 3.2-1.8 3.1-1.4-1.1 2.7-3 2.6zM989.7 1206.7l-2.6-1.5-2.6-2.7 1-1 2.9 2.6zM1068.4 1439.7l3.2-3.8 6.6-1.8 1.4 2.7-6.2 3.1zM1309.1 1249.1l-1-2.4-.7-4.8 1.1-2.9 1.2 3.7 .8 5.1zM1316.2 1218.3l-4.8-3.5-2.3-5.9 2-1.8 3.7 5.3zM1026.3 1467l.9-1.5 1.3-1.5 1.2-.9-.7 1.3-1.4 1.7zM1461.8 1521.5l-2.2 .3-2.4-5.4-1.2-5.3 2.1-1.5 3.3 4.9 2.1 5.5zM1355.6 1496.4l-1.9-1.5-2.3-4.6 1.7-5.1 2.7 2 1.4 3.3 0 4zM1622.4 1247.1l2.2-1.7 3.1-.8 3.3-.2-1 1.5-1.3 1.7-3.6 .1zM1564.3 1179.4l-.1-.4 1.4-1.2 1.3-.8 .4 .2-1.1 1.2-1.4 1zM1035.2 1403.1l-1.6 0-2.4-1.1-1.9-.8 .3-.3 1.7 .2 2.1 .9zM1010.1 1494.3l.2 1.4-4.1 0-2.3-1.1-.9-1.3 3.4-.7 3.8 .5zM1058.5 1415.7l.3-1.4 .6-1.3 1.3-1.3 1 .5-1 1.7-.9 1.7zM1413.7 1227.4l-.7 .7-2.7-2.5-2.8-2.6 1.6 0 2.1 .7 2.3 2.5zM1053.9 1255.3l1.6-1.4 1.6 .5-1.1 1.3zM1353.4 1166.3l-2.7 1.3-3.8-1.1-3.1-2.2 3.4-1.1 5.1 .3zM1623.4 1284.6l-.7-1.1 .4-1.8 .8 1.7zM1621.4 1318.1l-1.5-2.3 1.8-4.5 1.9-1.4-.7 5.6zM924.1 1223.9l1.3-1.7 2.1-.8 1.7-.1 .9 .8-1.6 1.4-2.3 .8zM917.5 1268.5l-1.2 .3-2.1-.2-2.1-1.6 .5-1.4 2.7 .2 2.3 1.6zM1582.9 1435l-.9-.4-1.4-1-.6-.9-.1-.6 1.3 .6 1.4 1.4zM1483.5 1175.2l-4.4-.5-5.9-2.7 2.2-1 4.7 1.4zM1171.6 1391.1l-.3-.9 .7-2.7 .8 .3-.4 2.9zM1636.8 1215.1l-.6-1.2-.2-2.1 .3-.6 .5 .6 .4 2.1zM1154.8 1417.1l-.4-1.3 .4-1.7 .5 .5 0 1.1zM1251.1 1204.5l-1.4-1.1-1.2-2.8 .4-.6 1.6 2.6zM1262.6 1327.6l-.7-.4-.7-1.3 .1-.7 1.2 1.6zM1512.2 1555.6l1.5-1.6 5.1-1.2 1.5 1-.6 1.6-4.9 .6zM1292.4 1409l-.2-.8 1.5-2.7 1.6-1.7 .2 .7-.9 1.9-1.5 2.4zM1235.4 1161.6l-.3-.8 .3-1.8 .8 .1-.2 1.9zM1307.6 1348.5l-2.5-.4-4.7-2.1-2.2-2.9 .7-1 3.6 1.1 3.8 3.1zM1524.8 1201.9l-1.2 .2-1.8 0 .4-.4 1.6-.3zM1172.9 1436l-2.1-.5-1.7-1.3-.6-1.4 1.2-.9 3 2.2zM1390.3 1210.7l-.2-4.6 4-4.7 3.8-3.3 .3 4.2-3.7 6.4zM1641.6 1278.8l-2.8-1.1-.7-6.7 1.1-2 2.3 .1 .4 5.8zM1496.9 1579.9l.9-.9 2.5-.6 .6 .5-.8 .6-2.1 .8zM1482.4 1357.5l-1.2-.1-2.7-1.3-1.3-2.1 .1-1.2 2.8 1.8 3.2 2.1zM1303 1189.1l-1.8 .2-1.6-.4 1.6-.2zM1229.7 1314.4l.9-.8 2.5 0 1.2 .6-1.1 .6-2.2 .2zM1642.9 1230.3l-2.5-1.7-2.8-3.5-2-3.5 3.2 3 2.5 2.8zM981.1 1311.4l0-2.9 2.9-3.8 2.8-1.9 1.1 1.2-1.3 2.9-2.8 3.9zM872.4 1300.7l.1-1.8 .9-1.7-.2 1.9zM1367.3 1251.4l-2.2-1.2-2.7-1.7-.8-2.8 1.5-.2 2.2 .5 2 3.2zM1078.9 1506.4l-.4-1.3 0-1.5 .4 .1 .2 1.3zM1003.8 1303.7l-2.1 0-2.9-5.2 0-3.4 .4-3.2 3.4 4.6 1.6 4.9zM1284.2 1469.1l.8-1.1 1-1 .8-.4 1.1-.5-1.5 1.4-1.4 1.4zM1364.5 1316.5l-.5-4.2 .6-6.3 1.4-2.4 .4 3.4-.3 6.6zM1543.5 1468.5l-1.7 .3-3.5-.3-1.9-1.1 .1-.6 2.4 0 4.7 .6zM1239.2 1358.7l-1.8-2.6-1.4-5.5 1.2-3 1.2-1.5 1.9 4-.2 5.4zM1083.9 1293.3l-3.2-1.1-2.5-4.9-2.3-5.2 3.1 .9 2.9 1.9 2.2 4.8zM1119.6 1502.4l-.2-4.3 3.7-5 2.5 .7-2.5 5.8zM1013.4 1413.6l.5-1 .8-1.1 .3 0-.8 1.3zM1290.1 1532.9l-.7-1.4-.8-3 .5-1 .7 1.6 .4 2.1zM1532.9 1494.5l.3-2 .7-2.5 .4 .4-.6 2.4zM1049.5 1247.2l2.4-3.6 5.3-1.7 4.9-.5-.9 2.7-2.3 2.5-4.7 1.1zM1167.5 1448.9l-1.7-.4-1.8-1.3-1.8-1.8 .7-.9 2.2 1.3 1.2 1.3zM1207.2 1260.2l-3.1 .1-5.1-3.7-1.5-2.6 7 3.7zM1105.2 1191.7l-2.3-.1-3.7-1.3-1.9-1.2 2.1 .2 3.7 1.2zM1165.2 1529.7l-.5-1.9 .4-1.7 .4 1.6zM1480.7 1157.8l-1.3-1.2-2.4-2.7-2-3.8 1.7 1.2 1.8 1.9 2.8 3.9zM958.2 1396.5l-1.3 .7-2.1 .2-1.1-1.1 1.6-.7 1.9-.1zM1610.2 1317.6l1.2-.8 1.5-.4 0 .7-1.3 .6zM1237.4 1438.5l-.4-2.5 3.5-3.3 2.5-.1 1.5 .7-.9 2.9-3.8 3zM1439.5 1292.8l.6-.9 1.4-.6 .3 .3-1.2 .8zM1033.3 1403.2l-1 .7-2.5-.6-.9-1.3-.5-1.2 2.3 .4 2 1zM1158.7 1338.9l-.6-1.6 .1-2.3 .5-2.1 .9-.6 .2 2.7-.2 2.8zM1295.2 1275.3l.5-1 1.7-1.8 1-.5-.7 1.1-1.5 1.6zM1256.9 1262.7l1.4-2.3 3-.9 .9 .8-2.5 2.1zM948.4 1202.1l-.9 .2-1.6-.8 .5-.7 1.5 .6zM1063.8 1415.8l1-.9 1.6-.2-1.3 1.1zM1446.1 1369.9l-.1-1.9 4-3.7 2.6-1.3-1.1 2.7-3.3 3.8zM1471.5 1554.4l-1.8-.3-2.8-1.2-1-1.3 1.8 .2 3.1 1.4zM1499.3 1498l-2.1-.8-2.5-2.1-.3-2.4 1.1-.5 1.8 1.5 1.9 2.2zM1239.7 1163.5l-1.5 .2-2.1-.3 .2-.5 2.3-.1zM1518.4 1504.4l-.9-1.2 .1-2 .5-.3 .5 1.9zM1279.4 1555.3l.1-2.1 6.3-.7 2.1 1.9-2.2 2-4.8 .2zM1092.1 1308l-.9 .1-1.5-1.4-.8-1.4 1.4 .2 1.6 1.6zM1035.2 1413.3l-.7 .3-1.8-.3-1.2-.2 .1-.2 1-.2 1.4 .3zM1190.8 1194.2l3.1-2.3 4.2-1.2 1.7 .9 .1 1.9-5.6 1.2zM1576 1434.2l-1.7-2.6 .6-3.5 1.8-1.2 1.3 4.8zM1391.4 1164l-.8-.8-.4-1.4 .6-.4 .8 1.5zM1173.6 1135.2l3.6-2.8 3.8-1 3.8 .7-2.6 2.7-4 .7zM1603.9 1389.2l.7-.8 1.6-.5 1.8-.1-.5 .9-.8 .8-2.1 .4zM1480 1446.7l-2.7-.9-5.1-3.3-3.1-3.2 1.9 .4 2.9 1.6 4.1 2.9zM1462.6 1339.2l-3.5-.9-2.9-4.5 .8-2.1 4.8 4zM1622.8 1137.9l-1 .5-2.2-.4-1.8-1.6 .3-1.4 2.6 .2 2.1 1.5zM1259.9 1246.1l-.8 .6-2 .2-2-.9 1-.9 1.3-.6 1.9 .8zM886.4 1152.8l.1-3.1 1.6-5 2-.5 .5 2.1-1.8 6.1zM1333.5 1389.1l-2.6-2.4-2.4-3 .3-1.4 1.5 .9 1.7 2.6zM946.7 1185.7l-1.2 1.4-4.1-1.4-.7-1.7 1.4-1.1 3.5 1.3zM1225.4 1524.5l.2-1 3-.9 1.1 .7 .2 .6-1.3 .6-2.7 .9zM1393.3 1400.5l-2.9-2.6-1.7-4 .8-1.8 2.7 4.4zM1550.6 1326.9l0-1.3 2-2 2-1.4-.5 2-2.3 2.5zM1505 1507l.9-.4 1.8-.1-.1 .3-1.5 .2zM1317.3 1508.5l-2.2-.6-2-3.5-1.7-4.4 3.4 1.7 2.1 4.2zM1226.6 1378.6l-.1-1.2 1.5-.8 .4 .6-.7 1.1zM926.3 1438l3.3-1.8 6.6 .1-1.3 2-4.9 .9zM1438.9 1333.6l-1.4-1.4 .3-1.7 .9 1.3zM1487.7 1439.1l-1.7 1.7-5-1-.5-1.6 5.6-.9zM1196.8 1179.9l-.9-1.4-.4-1.7 .7 .3 .8 1.3zM965.6 1402.2l-1.3 .1-1.7 .1-.9-.7-.7-.7 1.8-.1 1.5 .7zM1160.4 1250.9l-1.1-1.5-.5-2.3 1.2 0 .8 2.1zM1276 1483.5l-3.4 .5-4.3-2.3-2.5-2.3 3.3 0 3.4 1.6zM993.4 1247.2l1.2-1.4 4.3-1.2 3.4 .7-.1 1.4-3.1 1.3-3.6 0zM1559.8 1152l-.6-2.1 1-2.8 1.1-1-.5 3.7zM1326.3 1156.9l1.3-1.5 2.4-1.8 1.8-.7 1.6-.2-2.7 2-2.9 2.1zM1321.5 1518.6l-.9 1.5-3.3-1.6-1.2-1.6 .2-1.2 2.2-.7 2 2.1zM1366.2 1431.7l.3-1.3 4.6-2.7 2.5-.5 .7 .5-2.4 2-3.3 1.5zM1303.1 1471.7l.8-.3 1.6 .1-.3 .3-1.5 .2zM1207.8 1443.4l-1.3 .2-1.5-.6-.1-.7 1.9 .3zM1165 1179.7l1.3-.7 2.2-.2 1.6 .1-1.4 .7-2.1 .3zM1191.9 1513.6l1.3-1.4 4.5 0 1.9 1.2-1.9 1.2-4.1 .2zM1481.5 1325.5l1.7-1.6 2.7-1.5 1.4 .3-.7 1.4-3.1 1.6zM1625 1270.5l.7-1.3 2-.7-1.3 1.7zM1440.9 1308.4l-5.6-1.3-4.5-1.6-3.4-2.6 3.6-.1 6.3 2.6zM1201.6 1383.5l-1.2-2.8 .4-7 1.6-.1 .2 6.8zM1124.8 1482l-1.1-1-1.1-1.4-.7-1.5 1.2 1 1.2 1.7zM1093.6 1370.3l.9-1.4 1.5-1.6 .7 .1-1.8 2zM1166 1199.8l-.3-1.8 .5-1.7 .3 1.7zM1300 1141.5l-.5-1.6 .1-1.2 .5 1.1zM1517 1460.1l-3.3 2.4-5.6-2.5-.4-3 7-.3zM1412.8 1391.7l2.8-2.4 6.8-1.1-.7 3-5.4 1.7zM1440 1354.9l1.7-.7 2.5-.7 1.8 .2-.6 .6-1.4 .4-1.9 .2zM1617.2 1207.2l3.9-1.6 4.9-1 4.8-.2-4.6 1.6-4.4 1zM1522.8 1405.2l.1-1.6 .3-1.7 .7-1.3 .1 1.4-.5 1.9zM1410.8 1336.3l1.3-1.6 2-1.8 1.3 .5 1.4 .2-1.7 1.5-2.4 1.2zM1475.3 1266.2l-.5-1.4 6.2-.8 5.6-.1-.8 1.6-4.1 1.6-4.7-.2zM1133 1141.2l-2.8 .2-3.4-2.6-.6-2.1 5.6 2.1zM1349.8 1152.4l1.6-2.1 3.3-2 2.3-.8-1.8 1.9-2.9 2.2zM1631.1 1168.6l-3.8 2-8.4-1.6 2-2.9 6.6 .1zM1196.6 1257.1l-2.1-1.5-1.4-2 .3-1.1 1.1 0 1.7 2.2zM1174.7 1190.9l-3.3-.8-4.9-3.3-4-3 0-1.4 5 2.8 4.2 2.8zM930.3 1226.4l1.1-.6 1.3-.2 1.1 .3 .8 .7-1.9 .3-1.6 .2zM1521.7 1467l-1-6.1 2.1-7 2.3 2.6 .1 5.4zM1054.4 1170.3l0-.7 2.2-1.2 .6 .2-.2 .7-1.7 1zM1324.7 1327l-1.3-1.6 3.3-5 3.6-3.8 1 2-1.3 3.9-3.3 4.9zM1099.6 1308.6l-1.2-3.6 1.5-4.7 1.8-4 .3 4.3-.4 4.3zM1367.6 1571.5l-1.1 .7-3-3-1.4-2.7 2.8 .9 2.5 2.7zM1445.7 1535.1l.5-1 2-1.1 1.5-.4-1 1.2-1.8 1.1zM920.1 1240.9l-1.2 .1-1.5-.9 .7-.5 1.4 .3zM1374.3 1537.3l2.1-3.3 5.8-5-.1 2.5-4.3 4.5zM1523.4 1583.1l-1.1-1.8 .7-1.3 1 1.1zM1611.9 1255.5l-.5-1.5 .6-1.7 .6 1.7zM1276.7 1226.6l-1.1-.8-1.3-3 .7-.9 1.1 .5 .6 2.6zM1587.3 1293.7l.1-1.2 2.4-2.3 1.5-.6-.6 1.5-2.1 2.1zM1527.4 1362.8l-.2-1.1 .4-2.2 .8-.9 0 1.5-.3 1.9zM1580.2 1214l-1.2-2.6 1.3-4.7 1.5 .3-.3 4.1zM1467.7 1466.2l-2.8 .4-2.7 .4-3.3-.4 .4-.8 3.2-.1 3-.1zM1359.4 1327.9l.3-1.2 2.1-.4 1.4 .1-.8 1-1.7 .7zM1565.9 1292.7l.7-.7 1.4-.6 .3 .4-1.4 .8zM1563.6 1400.9l-1-1.8 1.6-2.4 1.6-.2-.4 3.4zM1559.4 1442l-.8-1.9 .6-1.9 1.2-.8 .3 3.1zM1282 1342.7l-.2-1.4-.1-1.3 .4-1.7 .5-.1 0 1.9-.1 1.6zM1173.2 1379.4l-1.3-.7-.6-1.2 1.3 .5zM905.9 1312.4l-1.2-.4-1.1-2.5 0-2.4 1.7 2.1 1.3 2.1zM1211.9 1430.7l.2-1.9 1-2.6 .3 .7-.6 2zM1581.3 1183.7l1.2-1.2 1.5-.8 .7 .7-1.8 1.2zM1551.1 1225.3l.1-1.4 .8-1.1 0 1.4zM1437 1583.1l.1-1.7 1.7-2.3 2-.5 1.8 .1-1.6 2.6-2.3 1.7zM1342.9 1571.8l2.4-1.9 3-1.1 1 .6-3.5 1.9zM1384.2 1326.4l1-1.3 1.7-1 2-.3 .8 .8-1.9 1.4-2.3 1zM1251.7 1330l-.8-1.8 .3-1.7 .9 1.5zM1464.5 1248.9l-2.8 .1-2.6-.2-1.3-1.6 2-.6 2.5 .7zM1175 1267.5l1.2-1.9 3.5-1.9 4.9-2.1 1.2 1.5-4.4 3.1-4.3 1.7zM1192.3 1275.9l-1.1-2.1-.2-3.6 .3-2 .8 1.7 .3 2.9zM1152.9 1281.2l-.2-1.6 1.3-2.5 1.5-1.4 1.8-.9-1.1 3.3-1.9 2.2zM1479.9 1202.9l-.5-1.4 2.4-2.4 2.4-.4-.8 2.4-2 2zM1459.6 1484.8l-.7-1.8 2.9-2.8 2.4-.9-.1 2.4-2.5 2.5zM1392.4 1391.4l3.2-1.3 4.2-.6 4.3-.1-3.5 1.3-5.4 1.2zM1439.6 1438.5l-.7-3.1 1.5-3.6 2.3-3 1.5 1.6-.2 3-1.5 4.5zM927.9 1233.8l-.8-.6 .2-1.9 .1-2 .9 0 .3 1.9 0 2zM1165.7 1472l1.5-3.1 5.8-2.6 4.8-.6-3.2 3.6-5.2 2.8zM1095.9 1437.7l-3.4-.9-4.2-2.1-3.1-2.8 .1-1.5 4.4 2 3.5 2.6zM1270.4 1448.9l-.8-1.2-.9-4.1 .6-2.9 .8-.9 .8 3.9 0 3.4zM1018 1357.4l.6-.9 1.4-.1 .5 .5-1.4 .5zM1196.9 1382.1l-1.3-4 1.4-6.6 2.1 2.6 .6 4.9zM947.7 1446.7l2-4.3 5.3-4.2 3.4 1.1-2 3.4-3.7 2.8zM947.7 1139.4l-.3-1 2.5-1.4 2.6-.9 .6 1-2.1 1.7-2.1 .7zM1240.9 1521.2l-1-1-.7-2.9 .4-2.6 1 .6 .7 2 .4 2.8zM1562.2 1208.6l-1.6-2.1-1.7-4.5 1.8 1 1.6 3zM1315.6 1530.4l-.6-.6 .4-1.6 .6-.4 .2 2zM907.8 1142.2l-.2-1.5 .4-2.5 1-.9 .6 1.1-.8 3.2zM978.1 1213.1l.3-.7 2.3-.7 2.2-.3 .4 .6-1.9 1.1-2.2 .1zM1241.8 1494.5l-.7-4.5 .7-6.7 3.1-3.4 .6 5.3-1 6zM1182.2 1266l-.6-1-.6-2.3 .1-1.3 .7 1.7 .6 1.9zM1131 1357.1l-1.9 .1-2-1.5-1.6-1.5 .4-1.1 2.2 1 2.4 1.3zM1222.6 1509l-1.5-.2-2.5-1.4-.7-1.3 .5-.3 1.3 0 1.9 1.7zM894.2 1271.3l-3 .4-5.5-1.7-4.8-1.7-.3-1.4 5.7 1.3 4.6 1.2zM1225.9 1412.7l-2.4-2.2-3.4-6.1 1.4-1.1 1.7-.1 3.4 7.1zM1636.3 1260.5l0-.7 .8-1.8 .3 .2-.6 1.8zM1238.9 1339.3l.8-2.1 1.6-2 .8 1.2-1.2 1.7zM1590.4 1455l.4-1.5 1.1-.6-.3 1.2zM983.8 1151.3l1.6-1.3 3.4-1.1 2.4 .6-1.3 1.7-4.5 1zM927.9 1447.5l-4.6-1.1-3.8-3.8-.9-3.7 6.8 4.6zM1356.4 1506.1l2.8-4.4 5.8-3.6 2 .3-5.6 5.3zM1486.1 1262.1l1.5-1.4 2-1 1.9 .1 1.2 .8-2.4 1.3-1.9 .2zM1035.9 1240.3l1.5-3.4 6.3-2.1 .8 2.9-5.1 3.7zM1240.8 1482.4l1.4-3.7 6.9-.5 2.7 1.9-1.2 3.2-6.9 1.9zM950.2 1189.6l-1.8-.8-2.5-2.7 1.3-1.1 2.9 2.7zM1348.4 1435.2l.6-2 1.4-1.7 .5 .8-.7 1.9zM1071.9 1409.9l1.9-4.4 2.1-4 3.1-4.4 .4 1.2-1.6 4-3.1 4.4zM1486.8 1574.1l-1.9-.1-2.8-1.9-1.1-1.1 .9-.5 3.4 2.1zM1001.3 1293.9l-1.4 .1-1.6-.2-1-.7 0-.5 1.3-.1 2 .6zM1093.2 1138.9l-1.9-.7-1.6-1.9-.3-1.1 1.1 .2 1.8 1.6zM1518.4 1538.5l-2.3-.8-4.3-4.1 .4-1.1 4.9 3.8zM1314.7 1469.6l-1.1-1.8 0-3.4 .3-2.1 1-1.8 1 3.3-.5 3.2zM1066.9 1217.9l-1-1.9 .1-3 .9-.2 .4 2.9zM1303.6 1546l0-.9 .7-1.5 .6 .3-.6 1.6zM1104.1 1394.2l-.7-.6-.4-1.8 1-.1 .9 1.7zM1618.2 1163.8l-3.2-2.5-2.1-3.6 .3-3.2 3 .3 2.9 5.5zM1412.5 1507.7l-1.6-.1-3.8-4.8-1.3-3.9 .7-1.3 3.4 3.6 3.4 5.1zM1425.5 1401.6l-2.1-1.5-1.9-6 2.4 .1 2.9 5.2zM1259.4 1407.7l-3.2-2-.5-6.9 2.5-4.4 2.5 4.9 .2 4.6zM1103.6 1464.4l-2.6-2.3-1.7-3.6-2-5.3 2.2-1.4 2.9 5.3 2.5 4.9zM1131.2 1236.6l1.7-3.4 3.1-2.8 1.9-.8 .8 1.5-4.1 3.6zM1432.3 1440.4l3.3-1.8 3.3 .4 1.6 1.8-4.8 1.1zM1392.9 1486l-.7 .2-.8-1.6-1-1.8 1.1 .6 .8 .7 .9 1.3zM1135.3 1276.7l-3.4-2.6-3.6-4.3 .8-1.2 4.2 4.5zM1455.1 1336.1l-.8 .2-1.4-.6-.1-.3 1.6 .1zM1398.5 1178.4l.9-2 2.2-2.5 2 .4 .9 .8-1.3 1.8-3 2.3zM1147 1326.7l-.3-1.8 .4-3.7 3.3-3.2 1.8 1.4-.7 4.2-2.9 4zM1634 1235.1l-1.7-.2-3.7-4.2-.4-1.9 2.1 1.2 3.7 3.4zM1551.3 1395.2l-2.7 1.4-4.3-1-3.8-1.7 1-1.8 3.5-.5 3.1 1.6zM1073.7 1167.1l-2.4 1.4-3.8 .1-1.2-1.8-1.3-1.7 3.1-.7 3.3 .9zM1355.3 1290.7l-1.8 .7-6.2-.8-2.1-1.7 2.8-.7 5.5 1.3zM1353.5 1259.4l.1-2.3 1.8-3.6 1.2 .4-1.3 4.1zM962.7 1193.5l-.3-.9 1.6-1.3 1.8-.1 .3 .9-1.3 1.1-1.6 1.1zM1534.8 1316.7l.4-.8 1.3-.3 .6 .3-1.5 1.1zM1452.1 1504.6l.5-1 1.6-.6 1.1 .5-2.1 1.2zM950 1251.3l.7-.8 1.8-.6 .5 .2-2.1 1.4zM1135.7 1411.1l-1.1-2.3-.6-3.1 .1-4.1 1.5 .2 1.5 3.1-.2 4.7zM1404.3 1351.5l2.1-2.8 4.1-3.5 3.7-1.9 1.4 .4-3.7 3.6-4.3 3zM1318.3 1454.6l-.8-1.1 .5-4.3 2.3-3.5 1.3 .8-.5 4-1.5 4.8zM1278.1 1378.6l.4-1.2 3.1-2 3.4-.9-.3 1.3-2.3 1.7-3.5 1.8zM1212.2 1260.4l-.4-.9-.1-1.8 .4-1.6 .7 1.2 0 2.4zM1572.2 1327.9l3.9-1 4.7 0 4.7 .9-3.4 1.5-7.5 .2zM899.7 1224.1l.4-1.2 1-1.5 .8-.6 .5 0-.5 1.2-1.2 1.7zM1439.8 1593.9l-2.4-.9-2.2-5.1 .4-2.7 2.4 1.1 2.6 5.2zM1477.4 1226.6l-.6-.2-.3-2 .6-1.2 .6 .3 .5 .9-.3 1.6zM1194.4 1297.4l-1.9-.1-3.4-.9 .4-.6 3.1 .8zM1513.4 1440.2l1.2-.6 1.1 .1-1 .5zM1438.4 1512.3l.2-1.6 .4-1.6 .2 .5-.2 1.2zM1634.5 1305.6l-1.8 .5-4.7-1.9 .1-1.4 5 1.4zM1543.2 1503.1l-.3-.3-.4-1.8-.1-1.2 .2-.5 .6 1.4 .1 1.5zM1499 1275.8l1.3-1.5 4.6-1.8-.5 1.3-3.4 1.9zM1117.2 1215.2l-.9-3-.9-4.5 .2-5.3 1.1-.4 .9 5.8-.1 3.9zM992.8 1497.3l1.7-4.5 3.8-3.8 2.7 .8-3.9 5.9zM1272.4 1279.9l2.3-3.1 2-3.3 2.4 .1 .9 .6-1.3 2.3-3.5 3zM1393.8 1540.6l-1.7 0-2.2-2.9 1.2-1.1 2.3 2.4zM1352.1 1172.1l-1.7 1.1-3.7-5.2 .2-3.3 1.5-.4 2.3 2.2 3.1 4.7zM1312.7 1463.7l2.6-2.8 6-3.1 2.8 1-2.3 2.6-5.3 2.3zM1336.8 1179.3l.9-.8 2.5-.2 .1 1.2-2.6 .6zM895.9 1231.9l-5.3-3-2.8-4.3 1.2-2.8 4.6 4.5zM1227.6 1159l-.2-.7 .6-1.4 .3 .1-.2 1.6zM1429 1295.7l-1-2.5 2.5-4.6 3.7-3 2.8 .9-2.6 5.1-2.5 2.8zM1485.4 1379.9l-.7-1 .1-2 .3-1.1 .5-.4 .5 1.4-.3 1.5zM1376.9 1460.1l-.8-.1-1.2-.9-.1-1.1 .4-.5 1 .6 .7 1.2zM1351.6 1134.7l.9-2.2 2.7-1.9 .4 .8-1.8 2.4zM1315.7 1184.5l1-1.2 1.1-.5-.6 1.1zM1596.5 1266.5l-1.2-.8-1.2-1.3 .5-.3 1.2 1.3zM1469.5 1561.5l1-3.6 3.2-4.5 3.8 .2-1.2 3.8-3.2 2.8zM1026.9 1687.8l-1.5-1 0-1.9 1.3 1.2zM1390.1 1629.3l-2-1.8 1.2-5.1 2 1.8 .9 3.5zM1003.9 1582.7l-1.5-2.9 .1-5.1 .8-2.6 1.8 .7 0 7.2zM1456.3 1695.1l-3.3-.8-5.1-4 .9-1.2 5.3 3.2zM1247 1792.4l-2.5-.2-3.8-3.7 .2-3.4 1.5-.9 3.2 1 1.8 4.7zM1104.4 1594.6l-1.5-.5-1.8-3 .7-.6 2.1 2.4zM1194.2 1594l1.2-1 1.7-.1-1.4 .9zM1045.9 1587l0-1.3 .8-1.5-.1 1.7zM1203.6 1566.2l-.1-2.2 .4-2.4 .9-1.3 .6 1.1-.9 2.9zM1051.4 1599.6l-1-3 .3-4.1 2-3.6 .9 4.3-.4 4.1zM1415.2 1837.3l-.1-2.7 2.4-4.2 1.7-1.3-2 6.4zM1111.1 1726.9l1.2-1.1 1.6-.9 1.4-.3 .1 .4-1 .9-2.4 1.4zM1497.4 1606.8l-1.1 .1-1.3-.6-.7-.9 .3-.5 1.2-.2 .9 1.1zM1411.6 1604.6l-3-3.9-1.6-6-.4-5.1 2.7 4.6 2.4 5.5zM967.6 1655.2l-1.4-.7-.9-3.3 1-1.1 1.2 1 .4 2.4zM1516.1 1714.4l-2.4-.3-1.2-4.1 1.1-2.3 2.6 4.3zM1307.5 1837.4l-1.8 0-4.3-1.3-1.8-1.5-.5-1 3.1 .7 4.2 1.9zM1005.4 1723.2l-2.5-1.8-2.7-5 2.7 .6 3 3.3zM986 1602.8l-1.9-.3-1.4-1-.4-1.2 2.3 1.2zM1185.1 1840l-.8 .2-1-1.3 .1-.8 1.4 1.1zM1029.2 1592.6l-1.7-.9-.8-1.5 1.6 .7zM970.3 1562.8l-3.6 2.3-6.6-2.5-1.3-3.3 8.2 .8zM1289.7 1801.7l-.5-1.8 .5-2.6 .7-2 .3 2-.2 2.5zM1061.7 1648.8l.9-.6 2.4-.7 .1 .5-2.5 1zM1223.1 1848.2l-1.3 .3-1.4-.3 1.4-.3zM1364.3 1769.2l-.6-1.2 .2-2.2 .5-.4 .2 2.3zM1196.4 1727.6l.6-1.7 1.3-.3-.3 1.3zM1452.4 1824.7l-1.2-.9 .1-2.1 1.2 1.6zM1519.6 1653.7l1.1-1.1 3.5-.7-.1 .7-3 1.4zM1468.8 1746.4l-1.1-1.6-1-3.5 1.2 .7 1.3 2.7zM1379.7 1710.3l.8-2.5 4.1-3.3 2.2 1.5 0 2.6-4.4 1.8zM1421.9 1756.3l-.3-.9-.2-1.3 .3-.2 .3 1.5zM979.9 1524.4l1.6-1 3.4-.1 4.1 .3-.2 1.4-3.3 1.2-5.1-.4zM973.7 1638.1l-.9-.4 .6-2 1.1-1.3 .8 .4-.3 1.6-.5 2zM1475.9 1621.3l-.1-2.1 .6-4.5 1 .4-.6 4.3zM1459.3 1794.2l-.3-1.4 1-1.5 .8 .2-.3 1.9zM1141.5 1759.6l-2.2-2-1.7-2.7 1.1-.2 2.2 2.2zM1027.1 1542.1l-1.5-.5-.6-1.7 1.5 .9zM1305.7 1817l.4-1.8 1.1-.9-.1 1.5zM1505.4 1829.3l1.9-1.7 2-1.1 2.5-.7-1.1 1.7-3.2 1.7zM1018 1681.3l-.5-2.8 1.2-4.3 1.5-3.3 .9 2.5-1.4 5.9zM1172 1628.9l-4-2.3-2.2-5.8 1.5-1.7 4 5.2zM1445.2 1667.6l-1.9 .7-1.4-.7 1.4-.6zM1242.5 1811.7l-1.6-3.5 .1-5.5 3-1.8 1.2 3.6 0 4.7zM1382 1839.6l-2.2-1.1-2.4-2.7 1.5 0 2.4 1.6zM1304.4 1802.5l-1 1.5-3-.6-2-1 2-1 2.3 .2zM1140.2 1555.8l2.2-3.5 3.5-2.5 4.4-.7-1.3 3.8-5 3.1zM1459.7 1650.4l-1.3-1.3-.8-1.9 .5-.5 1.5 2zM1380.5 1766.7l-.8-.3-.4-2-.2-1.4 .7 .2 .5 .9 .6 1.7zM1120.6 1666l.3-3.4 3.4-6.8 .9 2.3-2 6.2zM1179.1 1644.3l-1.1 .2-3.7-2-1.7-2.3 0-1.2 3.3 2.1 2.8 2zM1201.6 1836.2l3.8-1.6 6.6-.3-.8 1.7-5.3 .9zM1112.5 1752.5l3.1-1.6 7 .2-.9 2-5.7 .5zM1209.8 1744.1l2.7-4.8 5.1-6.1-.1 2.7-3.4 4.8zM1162.6 1864.5l.8-1.1 1.9-.4 1 .3-2.2 1.1zM1357.3 1719.2l-1.3 .9-2.7-.5-1.3-1.4-.3-1.4 2.5 .3 1.7 .9zM1112.6 1556.7l2.3-3.6 4.5-2.5 5.3-2.3-1.4 3.2-1.6 2.7-4.1 1.3zM1106.8 1613l.9-.5 2 .1 0 .6-1.8 .1zM1438.5 1601.4l.7-.4 1.5-.5 1.3 .2-.5 .5-.8 .4-2.1 .4zM1464.7 1702.6l-.7 .4-3.1-1.1-1.3-1 2.1 .3 2.4 .7zM1302.8 1558.6l-3.7-1.9-2.4-2.9-.5-2.1 1.8-.7 4.2 4.1zM1516.2 1746l-1.2-.9-1.1-2.1 .6-1.8 1.6 .8 1.2 2.9zM1007.2 1665.5l-3.2 .5-7.5-2.3 1.6-1.1 5.9 1.1zM997.2 1704.5l.1-1.3 .7-1.8 1-1.7 .2 .6-.4 1.5-.7 1.3zM1313.5 1823.5l-1.5-3.4 1.2-4.9 2.7-3.2 1.6 3.6-1 5.8zM1093.4 1546.6l1-2.3 5.2-2.2 3 1.4-2.3 2.6-4.9 2.2zM1058.3 1536.1l-1.6-.1-1-1.3 .1-1 1.9 .9zM1490.1 1684.2l-1.1 .4-2.7-1.1-1.4-.7 1.4-.1 2.6 .6zM1249.4 1548l-.1-2.7 2.3-4.8 3.1-4.2 1.4 1-1.9 4.8-2.3 3.6zM1172.9 1856.6l-1.1-1.1 .2-1.7 1.3 1.2zM1019.9 1613.7l-1.8-1.3-1.4-1.4-1.4-2.4 1.5 .5 1.5 .4 1 2.3zM979.5 1531.2l-1.4 .3-2.7-.6 .5-.8 2.3 .4zM1346 1564.2l-2 .8-5.1-3.1-1.6-3 4.1 1.2 3.6 1.9zM1120.8 1711.9l-2.2-3.4 2-5.3 1.7-5.2 1.9 2.8 1.1 3.1-1.2 5.6zM1205.4 1631.9l-1.6-3.6 .4-6.4 1.5-.6 1.1 7zM1222.1 1824.1l.3-1.2 1.4-2.2 .4 .3-1.3 2.4zM1111 1672.7l-.6-1.2-.1-1.3 .4 0 .5 1.2zM1237.6 1849.5l-2.2-.3-2-5.2 0-5.1 2.4 0 2.5 3.8 .4 4.9zM1434.9 1744.5l.5-1.4 1.8-1.2 1.1 0-1.9 2.1zM1302.9 1841.6l1-1.9 3.3-1.8 .8 1.3-2.9 1.9zM1160.1 1635.2l1-1.8 3.5-.2 2.7 .4 .1 1.5-2.5 .9-2.6 .1zM1087.9 1733.6l2-2.5 4.8-2 4.5 .2 .7 2.2-4.6 1.8-4.5 1.5zM1291.8 1719.3l-1.3-1.9 .5-5.1 2-1.3 1.4 1.8-.6 5.5zM1215.7 1582.5l-1.8-.5-2.8-3.8-.7-3.4 1.2-.9 2.5 2.9 1.3 3.2zM1453.4 1716l.2-3.1 3.2-4.2 3.1-.8 2.4 .2-2.4 3.9-3.4 3.7zM1361.7 1632.7l-3.9-1.3-4.1-3.2-.6-2.4 2.7 .8 3.9 2.6zM1112.8 1726.2l.9-.7 2.7-1 .7 .4-.2 .7-2.9 .6zM1520 1640.1l-1.4-.8-.7-3 .7-.8 1.8 3zM1301.2 1784.5l2-2.4 3.5-2.4 1.3 .3-4 3.4zM1168.2 1680.9l-.2-1.2 .7-2.1 1.6-2 .9 .7-.6 2.3-1.3 1.5zM1055.4 1721.1l-1.7-2.3-2-3.1 .4-1.5 1.4 1.2 2.1 3.8zM1159.8 1666.7l-1.5-.2-1.5-3.1 .1-2.7 1.3-.7 1.7 2.3 1.3 3.7zM1347.7 1579.1l.2-.8 1.4-1.1 .8 .6-1.5 1.6zM1348.5 1783.4l.8-3.3 3.5-2.7 2 .4-3.2 4.1zM1242.2 1634.4l-.3-1.7 1.3-3.2 1.1 1.5-.7 2.5zM1016 1546.3l0-1.2 1.2-2.5 1.8-3.1 0 1.6-.3 1.9-1.7 2.5zM1297.1 1743.2l-.6-2.3 2.4-4.7 1.6 1.3-1.7 3.9zM1380.2 1563.4l-1.5 .4-1.8-1.1-.1-1.2 2.8 .4zM1499.5 1788l4.9-3.4 6.5 1.1 1.6 3-7.5 1.8zM1116 1835.1l-1.9 .1-3.9-1.7-1.3-.9 1.3-.2 4.4 1.5zM1470.9 1801.2l-.7-.8-1-2.1-.7-2.4 .8 .8 1 .9 1 2.9zM1368.8 1571.8l-2 .2-4.8-1.1-1.4-2 3.4 .3 3.9 1.1zM1283.7 1609.1l.4-3.5 2.6-3.6 2.4-2.8 .3 2.7-2.9 5.1zM1187.5 1853.2l1.3-1.6 2.6-1.9 2.7-1.7 .9 .1-3 2.4-2.6 2zM1378.4 1645.1l.8-2 3.6-2.4 4-.1 2.5 1.6-4.2 3.4-4.5 .2zM1449.7 1737.5l-1.7-1.1-.9-5.5 .7-2.8 1.1-3.4 1.9 5.3 .5 6.4zM1211.6 1779.1l-.4 0-.7-1.9-.2-1.1 .3 .1 .5 .8 .7 1.7zM1044.7 1529.4l-.1-1.4 .7-3.1 .7-1.1 .2 1.2-.7 3.3zM1341.8 1659.6l2.5-3.3 4.5-3 1.9 .7-5 4.2zM1139.8 1677.5l-2-2.8-2-5.2 .1-1.9 1.3 .8 1.9 5.5zM1134.6 1860.3l1.4-1 3.5-.6 1.9 0 .7 .4-2 1-3 .2zM1428.9 1633.5l-.5-2.3 0-2.3 .7-.8 .6 .9 .2 2.7zM1396.1 1669.5l-2.6 .4-4.7-2.1-2.1-3.1 3.6-.3 4.2 2.8zM1095.8 1699.5l3-2.5 6-.4 4.1 2.2-3.5 2.9-6.1-.2zM1228.6 1560.2l-.2-1.4 1-2.4 1.6-1.9 .1 2-1.5 3.2zM984.1 1641.1l-1.5 .3-2.9-2 .1-1.4 1.6 .3 2.2 1.2zM1193 1555.7l-1.7-1.5-1.4-3.7 .2-1.6 2.7 4.6zM1457.8 1724.5l-.8-.8 .8-2.4 1.3-.1 .8 .9-1 2.3zM1454.6 1616.2l-2.9-2.5 .7-6.3 1.8-4 2.7-.7 .9 5.2-1.2 4zM1023.5 1527l-1.8-.5-2.2-1.3-1.5-1.2 1.8 .6 2.1 1.1zM1462.6 1837.6l1.1-3 4.6-4.4 2.1 .2-5.1 6.8zM1236.7 1560.9l-.2-2.7 1.2-4.1 1.7-2.6 1 .5-.1 3-1.8 4.2zM1463.5 1757.3l-.9-3.3 3.8-5 3.6-3.4 2.3 1.2-2.5 4.8-2.7 3.6zM1413.3 1826.6l.7-2.8 3.9-1.6 1.4 1.2-3.1 2.8zM1247.5 1764.2l-1.3-.4-1.3-1.1 0-.4 1.7 .9zM1050.8 1554.5l-.1-1.6 .7-1.4 .9-.1-.5 1.8zM1468.5 1859l2.9-2.5 4-.8 1.5 1.1-4.3 1.6zM1315.4 1733.6l.5-1.1 .8-1.4 1.1-.2 .8 .2-.9 1.3-1.4 1.2zM1020.4 1664.2l-1.6-2-1.2-2.7 .7-2.2 1.7 2 1.3 2.8zM1087.9 1576.5l-1.7-.2-1.9-1.1 .2-.3 2.1 .5zM1022 1707.8l.7-1.3 1.9-.2-1.3 1.4zM1409.6 1627.9l.1-2.9 2.4-4.2 2 .9-2.3 4.3zM1507.7 1722.4l2.7-2.5 4-1.4 4.4-.5-2.7 2.8-4.8 1.6zM1099.1 1702.5l-.1-.9 1.2-1.8 1.5-.6 .6 .6-.2 1.6-2.1 1.5zM1474.8 1870.1l-3.3-2.2-2.3-4.1 1.1-1.7 4.3 4.3zM1088.2 1553.9l-1.8 .1-1.2-.5 1.3-.1zM1085.1 1672.4l.6-1.3 1-1 .4 .2-.9 1.4zM1122.5 1623l-.3-2.1 .1-2.6 1.2-1.7 1 .1 0 2.3-.7 2.8zM1278.8 1574.2l.3-1.8 .9-1.7-.2 2zM1483 1741.3l-.8-6.2 2.5-5.6 3.2-1.5-1.3 8.3zM1504.8 1697.1l4-1.1 4 .1 .8 1.6-5.2 .7zM1536.6 1635.9l-1.8 .5-2.4-.3 .2-.8 2.4-.2zM1178.3 1620.8l-1.3-2.6-.7-2.9 .9-.9 1.1 3.6zM1269.3 1762.2l-.8-.9 0-3.2 .5-2.6 1 1.9 .2 4zM1527.4 1648l-1.7-3.2 .9-5.5 1.6-.8 1.6 .9-.6 4.8zM1238 1534.5l-1.2-1.9-.4-2.9 .6-.2 .9 2.7zM1213.5 1806.9l-.2-2.8 1.6-2.7 2.2-2.4 .7 2.7-2.1 3.3zM1500.4 1674.7l-2.2 .6-2.5-.4-2.3-1 2.2-.8 3.2 .4zM1459.6 1790.6l-.3-1.5 1-2.2 .8-.4 .3 .8-.6 2.3zM1246.5 1676.2l-1.5-.7-2.4-5.7-.1-2.9 2.1 3 2.1 4.3zM1174.7 1575.2l-2.1-3 .1-3.3 1.7-1.1 1.2 3.9zM1068.4 1577.6l1.2-1.5 2.4-1.4 2.1-.2 1.8 .4-3 1.8-2.8 1.2zM1205.1 1662.1l-1.3-.8-.6-1.4 1.3 .9zM1156.1 1760.8l-1.6 .1-1.4-.7 1.5 0zM1148 1862.9l-.1-.9 .7-1.9 .8-.9 .1 .9-.9 1.9zM1428.6 1838.4l-.8-.8-.2-1.9 .6 0 .6 1.6zM1359 1762.5l-2.7-1.9-2.8-8 2.9 1 3 5.6zM1145.8 1741.7l1-1.8 3.5-1.3 4.2 .1 .5 2.3-3.9 1.8-4.9 1.3zM1408.3 1864.8l-1.2 .7-3.4-.2-1.2-.9 1.8-.5 2.7 .1zM1146.9 1524.6l-1.6-.5-1.3-1.9 .9-.7 1.5 1.5zM1176.1 1561.6l-3-.8-3.4-3.1-2-2.6 .3-1.5 3.4 2.1 3.5 2.9zM1336.9 1792.3l-.6-2.1 .9-3.2 1.4 .1-.4 3.4zM1201.6 1846.3l-2.7-.8-2.7-1.5-2.1-2.3 1.3-.5 2.4 .8 2.8 2.1zM1447.5 1822.1l0-1.2 2-1.9 2.1-1.1 .2 1-1 1.6-1.8 1.1zM1459.7 1592.4l-1 .9-2.2 .2-1.2-.7-.3-.9 1.6-.5 2.1 .1zM1508.5 1786.5l2.5-1.5 4.2-1.2 2.9 1.8-.8 1.6-2.5 1.3-3.3-.7zM1329.7 1866.7l-2 0-3.7-.8-.2-.8 .7-.6 3.9 1.2zM1001.4 1532.2l-1.6 .4-1.3-.6 1.4-.6zM1404.9 1849.7l-1.8-1.2-1.4-3.7 .8-.3 2.5 3.1zM1152.5 1557.9l-1.1-.2-.7-2.8 .2-2 1.2 1.8 1.1 2.4zM1123.3 1636.3l4.5-4.2 5.6-3.6 .1 1.8-4.9 4.2zM1274.1 1715.8l1.8-.5 1.2 .2-1.1 .6zM1415.4 1841.8l-1.4-1.3-1.7-3.1 .5-.7 2 3.3zM1494.9 1651.2l-.5-4.7 1.1-6.4 2.4-3.9 0 5.4-.7 5.3zM1125.1 1563.1l-3.3-3.5-2.1-6.6 1.2-1.7 3.1 6.5zM972.1 1671.5l-.2-1.3 1.6-2.2 1.2-.8-.3 1.5-1.1 2.5zM1481.2 1647.6l-.3-1.3 .1-1.5 .6-1.8 .4 1.6-.2 1.9zM1082.2 1529.6l-3.4-2.1-1.2-6.2 1.9-3 4.1 7.6zM1403.6 1619.4l1.2-3.4 4.4-3.6 1.6 .5-3.9 5.4zM1422.2 1640.4l-1.9 0-3.2-5.1-.9-5.6 2.7 1.7 2.4 2.6 1.1 4zM1031.4 1577.8l-5.1-3.1-3.9-4.4 1.1-.4 4.1 3.1zM1389.3 1679.4l-1-3.6 .5-6 1.2-2.2 .3 8.4zM1523.3 1719.2l1.4-1.4 2.3-.2 .3 .9-2.1 1.3zM1309.5 1790.1l-5.3-1.9-3.9-3.7-.8-3.4 3.2-.9 4.3 4.9zM1382.5 1754.3l.1-1.4 .2-1.4 .7-1.1 .5 .2 .2 1.2-.9 1.4zM1147.9 1824.7l-1.1-.2-1.9-1.3 .2-1.9 .6-1.2 2 1.2 .5 2.3zM1148 1837.6l-.4-3.9 1.3-5.6 2.1-1.9 1 2.6-1.4 7zM1492.3 1597.5l.5-3 3.7-2.3 1 1-2.3 2.8zM1044.7 1599.5l-2.3 .3-1.3-4.6-.5-4.6 2.6 .2 1.8 3.4 1.5 4zM1018.8 1588.8l-.4-.5 1.5-1.3 1.5-.7 .5 .6-1.2 1.3-1.6 1.2zM1252.2 1694.2l-1-1.9 4.6-5.9 3.1-.2-.5 3.2-4.2 5.7zM1424.4 1600.2l-.9 .2-1.5-.4-1.3-.8 1.4-.3 2.1 .5zM1467.2 1868.5l-.9-1.8 .7-3.2 1.1-.8 1.1 .8-.6 3.4zM1062.3 1699l-1.3-1.9-.4-7.7 1-2.7 1.2 2.8 .1 6.1zM1132.9 1862.3l1.3-1.4 2.1-1.9 2.6 .4 .5 1.4-2.2 1.5-3 1zM1455.3 1863.4l-.2-1.7 .7-2.8 .5-1.3 0 1.6-.3 2.4zM1120.7 1566.3l.4-.8 2.8-1.4 2.3-.6-.5 .9-1.6 1-2.2 .9zM1346.6 1650.2l.9-3.8 1.5-3.5 2.9-1.1 1.6 1-.5 3.2-3 2.4zM967.2 1566.9l-3-.7-3.2-3.7 1.6-.7 3.5 2.2zM1089.5 1735.2l-.8-.6 1.1-4.2 1.5-3.8 1.3-.4-.8 4.7-1.2 4.1zM1077.6 1510.5l-4.3 .1-6.7-3.1 3.4-1.7 5.3 1.1zM1347.4 1592.7l-2.6-2-.5-6.5 1.6-4.5 2.2 4.6 1.5 6zM1055.8 1697.9l.8-3 .8-2.6 2.3-2 1.1 1-1 2.6-1.6 1.9zM1161 1702.7l-3.7-1.6-1.5-4.6 1.2-1.6 3 3.7zM1104.1 1596.7l-3.7-1.1-4.8-4.4-.5-3 3.2 .8 5.1 4.2zM1365.5 1769.5l-3-3.9 .3-5.1 2.1-1.8 2 6.1zM1404 1816.5l-1.4 .5-1.7-2.2-.8-2 2 .2 1.6 1.9zM981.1 1520.9l-3.9-3.7-2.8-3.7 .8-.8 3.8 3.9zM1003.4 1545.9l.8-.4 3-.3 .6 .6-1 .4-2.7 .1zM1061.9 1759.1l.6-1.2 1.5-1 .3 .8-1.1 1.3zM1333.6 1670.7l-1-.2-1.5-2.3 .9 0 1.4 1.4zM1043.6 1643l-.3-.7 0-2.2 .5-.8 .3-.3 .2 1.2-.2 2zM1521.4 1718.2l1.4-.8 1.5-.3 .1 .6-1.5 .8zM1307.2 1683.6l-1.4-.9-2.5-3.8-.9-3.9 1.4 .6 1.9 2.4 2.1 4.5zM1500.3 1714.2l-1 .1-3.1-2.9-1.6-2.7 .9-.3 2.4 1.3 3.1 3.8zM1447.3 1806l-2.4-1.1-.8-4.4 2.1-.4 1.6 3.4zM1196.7 1863l-1.1-3.2 1.5-6.3 2.6 .6-1 6zM1125.6 1630l-1.2-1.8 .2-3.7 1.2-.5 .4 3.7zM1018.4 1733.4l-1.2 .1-2-4.7 0-2.7 1.1 .4 1.3 1.8 1.6 3.9zM1456.9 1759.9l-1.6-1.4-1.7-4-.3-4.6 1.9 .6 2 3 1.5 5.7zM1007.8 1558.5l-3.4-2.8-2.7-4.4 .4-1.5 4.4 4.8zM1067.8 1630.6l.6-2.1 4.5-2.5 .9 1.5-3.8 3.1zM1176.6 1839.2l-3.2 .5-6.2-3.8-1.9-2.9 3.4 0 5.5 3.2zM1019.9 1576.1l-.6-3.5 1.6-5.7 2.9-1.7 1.1 3.1-2.4 5zM1448.4 1669.1l2-2 3.7-1.1 .4 1.8-3.4 1.9zM1152.1 1527.1l-2.7 .3-4.9-.9-4.8-2 2.6-.5 2.9-.3 4.2 1.7zM1258.9 1752.9l-1-1.1-.4-1.9 .4-1.1 .5-.1 .8 .8 .1 1.9zM1350.9 1826.8l.6-4.8 4.3-7 1.7 2.4-3 5.9zM1292.4 1776.8l.5-.9 2.2-1 .6 .8-2.2 1.1zM1311.2 1715.9l.3-1.1 1.6-1.3 1.1-.1 .6 .3-1 1-1.1 .6zM1395.2 1583.3l-2.3 .4-2.1 .6-2.2-1.2 .8-1.1 2-.3 1.9 .5zM1176.5 1753.1l-2.5-2.2-2.4-4.1 .6-1.7 1.8 .1 2.1 4.6zM1112.8 1636.4l-1.5-.9-.9-2.6 .5-1.1 2 2.8zM1157.5 1635.9l-1.8 1.9-4.7-.9-2.5-2.1 2.5-2 6 .3zM1230.7 1808l1.5-1.6 2.7-.9 1.2 .5-.1 1.4-3.2 1zM1504 1848l-3.9 0-5.9-3.6 2.3-.9 4.8 1.4zM958.7 1613l.3-1.4 2.1-1.8 1.8-1.4 .6 .5-1.6 1.8-1.5 1.3zM1323.2 1726.3l-3.2-3.6-.7-6.3 3.1-1 1.5 6zM1236.1 1635.9l-.2-1 .5-1.6 1.2-1.3 .9 .3-.5 1.8-1 1.4zM1257.7 1549.2l3.5-1.7 5.5-.9 3.8-.1 2.1 .8-5.8 1.2-4.2 .7zM1302.9 1756.4l-2.3-.3-2.5-.9 .1-1.1 .8-1 2.5 1.6zM1054.2 1686.3l1.5-1.7 3-1.7 .3 .8-2.7 2zM1252.9 1857.9l1-1.4 1.3-.9 1.8-.7-1.1 1.5-1.5 1.6zM1062.8 1700l-.4-.8 2.8-3.2 1.8-1 1.5-.5-1.7 2.8-3.6 3.7zM1201.3 1635.1l-.9-2.1-.4-3 .6-.1 .8 3.1zM1153.6 1747l-1.6 .3-1.8-.2 .5-.7 1.6-.3zM1371.3 1572.2l-2.4 .4-5-1.4-.4-3.1 3.2-.5 3.8 2.3zM986.6 1613.1l.1-1.5 2.2-3 1.6-.9 1.5-.5-1.3 2.6-2.6 2.6zM999.8 1644.5l-2-.8-.6-2.2 .7-.9 1.8 1.8zM1093.7 1665.8l-2.1 1.1-5-2.2 1.5-1.5 4.5 .4zM957.9 1479.8l-.9-.4-1-1.6 .7 0 1.2 .9zM1182 1816.3l-5-2.5-4.4-4.5 1.5-2.4 6.4 4.3zM1319.8 1644.5l-2.3 1-3.6-.1-3.3-.9-.2-1.6 3.4-.9 4 1.1zM1212.7 1754.8l-5.8-.5-5.9-2.8 1.3-1 6.2 .9zM1105 1719.3l-2.3-.8-2.7-4.2-.1-2.5 1-.5 2.1 1.3 2.5 4.3zM1069.5 1569.4l.1-2.5 2-4.4 .2 1.5-.8 3.2zM1110.1 1758.9l-1.1-.1-1.3-1.2 .6-.7 1.4 1zM1190.3 1544.9l-1.8-1.6-1.1-2.6 .8-1.5 1.5 1 1.3 2.5zM1020 1726.8l-1-.4-1.6-1.9 0-1 1 .3 1.1 1.8zM1324.1 1570.7l-2-2.3-.1-4.5 1.2-2.8 1.8-.5 1.8 2.9-1.1 4.2zM1443.9 1822.6l-2.8-.4-4.2-1.8-1.9-3.2-.2-2.5 4.8 2.8 4.1 2.8zM1180.4 1841.1l-.7 .2-2-.6-.8-.5-.3-.4 1.4 .3 1.9 .4zM1007.8 1529.9l1.2-1.2 1.7-1.4 2 .1 .5 .9-1.7 1.4-2.1 .3zM1413.2 1786.9l-1.7-1.4-1.5-2.2-.4-1.1 .9 .4 2 2.4zM1371.8 1775l-1.2 0-2.1-1-.5-1 1.3 .3 1.4 .7zM1385.8 1598.6l-.4-1.3 .2-1.7 .5 1.7zM1279 1857.4l-.7-.4-.1-1.6 .7-1.1 .7 .1 .5 1.1-.3 1.9zM1459.3 1643.8l-.2-1.4 .4-1.6 .6-.2-.1 2.1zM1252.4 1644.2l-1-1.7-.3-4.3 1.1-2 1 2.1-.2 3.9zM1190 1545.1l-2.5-2.5-3.2-3.4-1.8-5.4 2.7 1.6 2.6 1.9 2.4 5.2zM1179 1839.5l-2.9 1.6-5.9-.9-2.2-3.4 .5-2.4 4.2-.7 5.4 2.6zM1467.9 1877.9l-.2-.9 .4-1.6 .9-1.1 .2 1.3-.5 2.2zM1092.8 1706.5l-.5-3.5 .6-4.3 1.6 .5-.1 4.3zM1443.4 1763.8l2.6-2.9 5.5-1.3-.4 2.3-3.7 1.9zM1045.6 1673.3l4.5-1.6 4 .5 1.9 1.8-6 .7zM1047.3 1598.6l-1.2-1.6-.5-2.7 .9-1.9 1.3-.3 .8 2.2-.3 2.5zM988.8 1540.6l-.4 1.1-2.5-.3-.3-1 .3-1 2.3 .3zM1456.6 1580.4l-2.5 .6-4.2-3.3-.9-4.2 2-1.1 3.6 1.5 3.2 4.3zM1297.7 1719.7l2.6-2.1 4.8-1.4 3.6 .9-2.6 2.4-5.1 .9zM1360.1 1817.6l1-2.3 4.4-3.3 1.8 .1-.6 1.8-4.2 3.6zM1401.7 1670.9l1.6-2.6 4.6-1.4 3.2 .3-1 2.7-6.1 2.8zM1238.3 1536.5l1.2-.8 1.1-.5 .5 .1-1.5 .9zM1010.3 1700.3l-2.8-.6-3.3-3.1-1-2.1 2.3 .7 2.9 2.4zM997 1656.2l-3.5-2.6-3.4-5.2 .8-.7 4.1 4.3zM1459.1 1843.5l-3.9-1.2-5.5-3.6 .1-2.5 2.2-.8 4.3 4.6zM1142.6 1733.7l-2.2 .4-3.5 .1-2.4-1.3-.2-1.1 3.3 0 4.3 .5zM1280.1 1568.4l-.8-3.7 4.9-5.9 2.3 2-2.6 7.1zM1238 1635.6l.3-2 1.1-2.5 1.1 0 .6 .9-1.6 2.1zM1201.9 1827.6l-2-.3-2.9-1-1.6-1.2 1.6-.2 4.2 1.6zM1487.6 1724.3l-.8-1.5 .5-1.3 .7 1.2zM1330.4 1652.1l1-1.5 1.7-.7-.9 1.7zM1275.9 1597.2l.7-3.3 5-3.4 3.9-1.7 2.9 .6-3.7 4.5-4.9 2.5zM1134.4 1806.6l-1.7 .5-2.9-.7-1.7-1.8 2.6-.2 3.8 .4zM1297.9 1747.2l-.7-.7-.9-1.5 .7-1.1 .7-.9 1 1.6-.1 1.9zM1029.5 1573.7l.7-1.5 1.9-2.9 1.9-1.5 2.1-1.4-2.6 3.8-2.9 3.3zM1269.3 1620.4l1.5-2.5 4.2-3.5 3.7-.3-2.9 3.4-3.5 2.3zM1465 1870.1l-3.5-2.1-1.2-4.3 1.8-1.2 2.8 3.5zM1122 1867.3l.1-4 6.9-4 2.4 2.6-5.5 4.8zM1415.3 1831.6l2.5-3.3 6.7 1.8 2.4 3.3-7.9 0zM1470.1 1615.9l-.2-1.9 1.5-3.4 1.1 .4-1.1 3.4zM1204.4 1834l-2.7 .8-3.8-2.3 1.1-2 4.4 .9zM1393 1607l-1.3-1.5-.1-3.8 1.2-.2 .9 3.6zM1110.2 1571.6l-2.5-.2-1.8-5.9 2.1-1.7 2.1 1.6 1.1 4zM1204.2 1879.9l1.1-1.1 1.8 .3-.1 .7-1.3 .4zM1477.3 1818l.6-1.7 1.4-1.1 .9-.2-.1 .9-1.2 1.7zM984.3 1546.9l-2.4-2.1-2-4.5 1.4 .5 2.2 2.8zM1105.7 1533.6l-.8-.5-.3-1.6 .4-.3 .6 1.3zM1186.9 1772.1l-1.3 .3-1.7-.1 .5-.5 1.4-.3zM968.7 1561.5l-2.4-2.6-.7-5.9 1.8-3.1 2.1-1.9 2.2 4.4-1.4 5.1zM1196.2 1790.5l3.3-1.7 5.9-.9 3.5 1.2-.5 1.3-3.4 1-6.1 .7zM1159.8 1595.6l-1.6-.2-1.7-.9 1.9 .2zM1249.8 1563.8l-.6 .2-1.4-.7-1-1.1 0-.8 1.7 .8 1 1zM1379.5 1857.5l-1-1.1 0-1.5 .6-.1 .6 1.2zM1331.3 1693.4l4.1-1.9 5.1-.6 1 .8-5.9 1.9zM1068.9 1711.9l.9-.7 1.7-.8 .9 0 .8 .1-1.5 .7-1.6 .5zM1072.6 1507.5l-3.6-.3-3.7-1.9 0-1.3 4.2 1.3zM1396.1 1619.3l-1.4-1.4-.5-2.7 1.5-.3 1.8 2.8zM973.6 1573.6l.6-2 1.6-2.7 1.4-.1 .1 1.5-2 2.3zM1347.8 1751.6l-1.7-.3-2.8-2.2-.9-2.4 2.7 1.3 2.9 2.1zM1139.5 1575l-1.9-.4-1.3-.8-1.5-1.4 1.8-.1 1.5 1.3zM1273.3 1885.7l-3-3.4-2.9-3.8-.5-5.9 3.3 .6 3.5 2.8-.5 4.9zM1045.4 1520.9l2.3-1 3-.2 .8 1.1-3.5 .4zM1482.9 1828.7l-2.2-.2-3.4-.7-3.2-2.3 .6-1 3.8 .9 3.1 1.9zM1356.6 1800.2l.7-1.5 .7-1.4 .9-.6 .6-.2-.6 1.4-1.3 1.5zM1257.1 1633.1l-.7-.5-1-2 .6-.5 .8-.1 .7 2.4zM1494.4 1838.2l1.1-.6 1.3-.5 1.9 .3-.7 .9-1 .8-1.7-.3zM1077.1 1567.8l-2.1-.8-2-2-.4-1.1 3.2 2.1zM1275.3 1775.4l1.8-2.6 4.9-2.6 .8 .8-4.2 3.1zM1333.6 1793.3l-1.6-.4-2.2-.9-1.5-1.4 .1-.7 2.2 .7 2 1.5zM1056.2 1496.2l-2 .2-3.3-3.5-.8-2.5 2.2-.5 4.4 4.3zM1119.9 1750.5l-1.4 0-1.6-1.3 .7-.8 1.6 .9zM1038.7 1678.9l-.9-1.4-.1-2 .4-.7 .6 2.3zM1471.6 1839.4l-2.8 0-4.7-3.4-2.1-2.8 3.4 .7 5.5 2.9zM1398.9 1825.7l-1.9-1.1-.5-2.3 .8-.9 1.7 2zM1341.7 1826l-3.6 .3-4.5-1.5-2-3.1 3.5-.9 5.5 2zM1417.8 1861.2l-1.5 1-2.7-.5 0-1.4 2.6 .1zM1354.7 1725l1.4-1 2.1-1.1 2.4-.3 .3 .8-2.1 1.2-2.6 .6zM1217.3 1692.6l-.5-.7 .3-1.4 .5-.2 .4 1.7zM1231.9 1560.4l-1.9 .1-3-.3-2.7-2 .5-1.3 3.5 .8 2.9 1.4zM1255.1 1657.9l-2 1.4-4.2-1.5-2.1-1.4-1.9-2.3 4.7 .5 4.7 1.1zM985.8 1512.5l-.9 .4-1.6-.4-1-.8 1.1-.7 2.4 .5zM1276.2 1834.2l-2.3 0-5.5-4.5 .1-1.7 1.7-.3 4.9 4.1zM1475.5 1783.5l.2-1.6 .6-1.3 .7-.5 .6 .6-1.1 1.9zM1446.5 1646.8l.9-3 2.7-3.2 2.6-.1-.3 2.7-3 3.1zM1321.4 1710.4l1.5-.4 2.9-.2 .5 .5-.8 .4-2.4 0zM1227 1727.5l-1-2.4 3-3.7 2.7-1.5-2.1 6.8zM1497.5 1725.2l-2.9 .9-5.3-1.4-3.6-2.3-.7-2.2 5.7 1.4 5.8 1.1zM1180.3 1531.5l3.6-2.2 5.9-1.4 3.9 1.1-2.7 2.6-7.1 1.1zM1224.2 1759.5l-1.5 .7-3.2-.9-1.4-.9 .8-1.1 4.2 1zM1330.3 1649l-2.3-1.1-1.8-1.4-.2-1.1 1-.4 2.1 2zM1286.3 1725.9l1.1-1.5 1.7-1.1-1.1 1.8zM1046 1603l.5-2.4 5.9-.7 5.5-1-1.3 2.3-3.3 1.8-4.4 .9zM976.3 1633.5l-4.4-.3-5.9-6.1 3.4-1.9 6.9 3.8zM1367.7 1597.2l-.4-3.2 2-4.2 3.1-1.7 .8 3.4-2.5 4.6zM1018.2 1628.1l-1.4-.7-2.2-2.8 1-.3 2.6 2.3zM1223.3 1819.6l.1-1.5 .8-1.5 .7-.2-.7 1.8zM1128.1 1575.7l-.8-4.7 4.4-6 2.5 2.6-1.8 6zM1076.1 1663.9l-.4-1.6 1.6-2.4 1.6-.1-1.4 3.1zM1182.2 1758.4l-2.2-.3-1.8-.7-.5-.8 2.5 .7zM1300.2 1850.1l-2.8 .8-5.5-1.8 .6-2.3 1.7-1.4 5 2zM1015.3 1499l3.7-4.1 6.2-1 .7 2.2-5.1 3.4zM1488.1 1728.1l3-2.4 5.1-2.3 2.4 .3-1.2 1.9-5.7 2.2zM1108.9 1743.4l-.2-.8 .7-1.8 .8-1.9 .5 .5-.4 1.7-.7 1.7zM1295.6 1788.6l-.7-1.6 .8-2 .7 2zM1218 1657.4l-4.6-3.1-2.4-3.4 1-2 4.9 3.5zM1166.7 1697.1l-1.1-2.2-.6-3.5 .4-4.6 1.7 0 .8 4.5 0 4.5zM1341.9 1704.6l-2.3 .5-3-.4-3.2-.8 1.4-.8 2-.5 3.1 .8zM1290.8 1742.8l2.6-2.4 2.9-2.2 3.2-1.7 .9 .4-3.4 2.5-3.4 2.4zM1087.9 1585.9l-1.2 .4-3.4-3.1-2.5-3.9 1.7-.1 3 2.3 3.3 3.6zM1424.9 1594.5l2.2-2.3 5.7-1.4 4-.5-2.7 2.1-6.1 2.5zM1302.8 1549.1l-3-.1-3.9-3.8 2-.8 3.3 2zM1130.5 1881.6l-1-2 .6-3.7 1.4 .4 .2 3.3zM1315.3 1611.6l-2.1 1-3.6-.6 .6-1.7 3.3-.2zM1099.1 1516.6l-2.9-.7-1.4-5.6 1-4.2 3.1 3.1 1.9 5.1zM1335.2 1612.2l-1.1 .8-2-4.5-1.3-3.6 1.3-.2 2.1 2.7 1.1 3.1zM1329.7 1656.1l-2.4-1-2.1-4.9 .1-5.2 2.5-1.1 3.2 4.4 .2 5.6zM1165 1744.2l-5.9 1.9-5.8-1.9-.6-3.4 7 .2zM1300.7 1655.9l-1.9 0-1.5-.5 1.6-.1zM1373.6 1851.8l.1-1.4 .3-1.5 1.2-1.2 .5 .7-.1 1.4-.9 1.3zM1335.8 1823.3l.8-2.2 .7-2.1 2-1.1 .3 1.4-.5 1.5-1.5 2zM1403.2 1631l-3.3-.7-3.8-3-3.1-2.9 .7-1.3 3.8 1.6 4.2 3.4zM1411.3 1813.3l-1.6-.2-2-1.2-2.1-1.6 .3-.8 2.4 1.1 2.3 1.5zM1226.2 1804.5l.5-1.8 1.9-2.1 1 .1-1.8 3zM1508.9 1761.5l1-1.3 4.9 .2 3.2 .3 1.6 1-4.4 .8-4.5-.1zM1260.6 1609.6l-.6-3 2.1-4.4 1.9-2.9 1.9-.6 .1 4.2-3 5zM1245.2 1866.2l.4-1.1 2-.8 1.9-.1-.4 1-.9 .9-1.7 .4zM948.3 1487.6l-.7 1.1-3 .5-1.7-1.5-1.6-1.8 3.5-.8 3.8 .8zM1425.9 1660.4l-1.4-.9-1.6-2.4 .2-2 1.8 1 1.6 2.9zM1291 1732.8l-3.5-2.2-3.2-3.8-2-4 .5-2.3 4.2 3.7 2.3 4.5zM1288.7 1846.9l-.2-.5 2.6-.7 1.8-.1 1 .4-2.6 .8-2.5 .6zM1093.1 1593.2l-2.4-.3-2.6-1.9-.2-1.6 3.7 2zM1151.3 1816.2l-1.3-1.1 1.3-5.5 1.5-3.6 1.1 .5-.2 3.8-.9 4.8zM1163.1 1729.8l-.7 .2-2-2.9-.3-1.6 .4-.4 1.3 1.2 1.6 2.9zM1235 1631.5l1.1-2.3 4.3-4.1 2.8-1.3-.6 2.3-5.4 4.7zM1507.7 1691l2.2-2.5 6.2-1.6-.4 1.6-4.2 2.1zM1129.9 1737.3l-.7-1.3-.3-1.3 .7 1.2zM1436.2 1628.6l-1.3-1.1-.2-1.3 1.1 .7zM1156.2 1752.9l2.1-4.8 5.1-1.8 2.5 1.7-4.5 3.8zM1338.4 1558.5l-1.1-2.1 1.1-6.9 1.5 .2-.2 6.6zM1345.1 1649.7l-2.3-.7-2.8-3.3 .1-2.1 2.1 1.3 2.8 2.4zM1057.4 1587.4l.9-1.7 2.4-1.5 1.3 0-2.7 2.3zM990.4 1552.6l5.2-3.7 6.3-2.1 2.3 1.5-8 4.1zM1021.1 1721.1l-.6-.2-1-1.4-.3-1.9 .9 .2 .8 1.4 .5 1.4zM1398.5 1860.9l-5.1 .9-5.6-3.3 2-2.5 5 1.2zM1010.7 1489.2l-1.3-.6 .9-2.8 1.2-1.6 .8 1.8-.4 2.8zM1281.8 1799.6l-.2-1.7 .6-1.1 .4 1.2zM1309.2 1787.7l1.1-1.4 1.7-.7-1.2 1.3zM1247.2 1597.3l.9-1.8 1.4-.9-.7 1.5zM1014.6 1716.2l-2-.6-2.2-5.7 .9-2.3 2.1 1.8 1.8 4.5zM1371.3 1666.8l-2.3 1.2-4-2.1 1.2-1.8 3.7 .5zM1465.2 1649.5l2.7-1.9 5.7-1.3 1.8 1-1 1.6-6.8 1.8zM1077.6 1672l-.7-3.8 .9-4.3 2 .7-.4 3.9zM1432.6 1732.8l.1-.7 1.4-.7 1.7-.6-.4 .9-.5 1-2 .8zM1100.6 1664.9l-2.2 .7-2.3-1.4-.6-1.6 3.2 .8zM1057.8 1624.8l.9-.6 2.4-.1 2.3-.1 0 .6-1.9 .6-2.4-.1zM1067.4 1714.9l-4.4 0-5.3-6.6 3.4-.6 4.4 3zM1385.9 1628.2l3-5.1 8.4-1.7 .6 4-6 3.4zM1116.3 1619.1l-1.2 .3-1.4-.5 1.4-.3zM1432.1 1646.1l3.8-1.3 5.1-.7 4.6 0-.6 1-4.1 .8-3.7 .3zM1164.6 1550.2l2.7-1.5 3.7 .1 .4 2-3.8 .3zM1902.1 1699.6l.8-.5 2.2-.4-.2 .4-1.7 .6zM1813.9 1659.5l-1.2-1.2-1.4-1.8 .2-.4 .5 .2 1 1.5zM1615 1843l-1.7-2.4-.3-6.1 1.2-3.6 1.5 3.7 .3 5.2zM1574.5 1846.9l-1.2-1.1-.2-1.3 .9 .9zM1760.9 1749l1.3-2.4 3.7-1.6 .5 1.5-2.8 2.8zM1534 1605.9l1.3-1.4 2.6-1.3 .1 .6-2.2 1.7zM1725.7 1737.1l-1 .6-1.4-.6-.2-.6 1.8-.2zM1674.4 1636.9l-1.4-1.1-1.5-3.1 .3-1.4 1.3 1.2 1.3 2.6zM1519.5 1618.7l-2.2-5 1.4-6.6 2.8 .2 .5 6.5zM1826.6 1870.7l-.8-2.1-.4-3.6 .9 .9 .7 2.8zM1731.1 1821.4l-1.4 .7-2.2 0-1.4-.6-.6-.8 2-.4 2.5 .3zM1887.8 1703.4l-2.2-2.2-1.3-6.7 .5-2.7 1.7 2.6 2.1 6.1zM1735.1 1700.1l-1.4-.3-1.9-1.8-.3-1.3 2.9 2.1zM1859 1732.9l-3.1-1.1-4-5.1 3.5 .3 3.5 2.7zM1680.8 1766.2l-.6-1.6 .2-1.4 .5 1.2zM1505.5 1712.8l1.3-1.8 3.6-1.7 3 1.2-2.2 2.5-3.6 .6zM1930.8 1682.4l-1.7-.5-2.8-4.1-.8-2.5 .5-.6 2.1 1.9 2.4 3.7zM1851.8 1726.2l.1-3.7 3.7-5.5 1.8 .6-2.8 5.8zM1862.3 1721l-2 .7-5.9-.5-2.4-1.5-.1-.9 3.3-.2 5.2 1.1zM1592.5 1776.9l-2.1-2.4-2.2-4.2 0-2.6 2 1.6 2 4.7zM1832.6 1803.2l-1.8-2 4.9-3.2 4.2-2.2 1.7 2-2.3 4-4.7 2.7zM1792.7 1801.5l-1-3.9 1.5-3.8 1.9-.2-.3 4.4zM1795.7 1639.1l.9-1 1.8 .4-1.5 .9zM1853 1700.8l-1.1-.7-1.2-2-.3-1.3 1.1 .2 1.4 2.5zM1888.5 1696l.3-2.1 3.4-2.5 1.5 1.2-3.1 3.1zM1727.1 1766.3l1.1-2.1 5.4-2.3 5.5-1.6-3.1 3.3-6.3 2.7zM1574.2 1755.8l-1.1-1.9-.7-4.5 .8 .4 1 3.5zM1719.2 1716.6l-.8-1.5-.1-2.3 .5-.8 .4 2.8zM1641.6 1667.1l.7-1.1 2-1.8-.3 1-1.3 1.3zM1640.2 1870.3l-.6-.8 .6-1.8 .6 .5 0 1.3zM1870.1 1801.6l-.5 1.2-5.2-2-3.9-1.9-.7-1.7 5.4 1.7 4.3 1.4zM1791.2 1695.8l-1.9-.4-2.7-1.7 0-1.1 1-.4 2.4 1.9zM1566.1 1706.2l-.8-1.7 3.3-2.1 2.5-.8 1.5 .9-2.1 2.5-3 2.4zM1727.7 1786.2l-1.5-.2-1.5-1.8 .6-.3 1.3 .9zM1612.8 1878.4l-2 0-2.6-1.4 .9-.9 3 .4zM1726.6 1689.9l.2-1.3 1.4-.6-.5 1.4zM1872.2 1737l-3 1.5-5.6-1.7-5.2-3 1.1-2.8 5.9 1.4 5.6 1.4zM1762.1 1857.1l-2.5-4.4-.3-6.1 1.9-3.2 2.7 2.3-.5 5.9zM1769.4 1869.8l.8-3.8 5.4-2.7 .9 2.2-3.2 3.1zM1869.7 1684.3l-.2-.4 .4-1.6 .7-1.5 .5 .1-.4 1.8-.6 1.5zM1615.3 1649.5l3.5-1.5 4.7-1.1 1.8 .5-2 1.1-4.8 1.3zM1615.3 1802.7l-1.5-.1-1.3-.4-.2-.4 1.8 .3zM1777.9 1726.2l-1.2 0-2.1-1-1.5-1 .4-.4 1.6 .5 1.8 .9zM1519.2 1772.7l.7-5.7 2.9-5.8 2.1-.1-2.1 7.7zM1696 1863.1l-1.2 .8-3.9-1.9-.1-1.7 1.3-1.1 3.7 2.4zM1644.8 1873.2l-1.1 .5-1.8-1 .5-.7 1.7 .2zM1592.7 1821.7l0-1.4 .4-2 .9-2.1 .3 .8 .2 1.5-1 2.7zM1522.2 1859l-1.8-.5-1.4-1.6 1.9 .7zM1793.6 1774.3l-4.3 1.2-5.7-4-3-4.6 5.5 .4 4.3 3zM1727.8 1826l4.3-2.5 5.9-.6 2.1 2.6-2.7 2.1-5.6 1zM1853.7 1758.1l1.7-1 2.1 .1-1.8 1zM1613.1 1712.6l2.3-1.2 3.7-1 3.7-.1-2.4 1.8-5.6 1.3zM1656.6 1748.2l-.6-1 1.4-3.1 1.9-1.4 .7 .7-.6 2.2-1.7 3.1zM1606.8 1867.3l-1-1.1-.2-2 .8-.2 .6 1.8zM1576.6 1851.3l-1-.6-1.2-.8-.6-.9-.2-.7 1.4 1 1 1.1zM1643.1 1853.6l-2.5-.7-3.4-2.5-3.9-3.9 1.7-.7 3.9 2.7 3 2.7zM1501.8 1653.9l1.3-1 1.7-.6-1.4 1.2zM1610.3 1845.3l-.9 0-1.4-.9-.9-.9 1.1 0 2 1.1zM1776.2 1856.6l-1.5-.5-1.8-2.7 1-.1 2 1.8zM1649.9 1689.2l-2.3-2.3 3.1-6.1 4.3-3.3-.1 5.7-2 5.1zM1758.3 1745.6l-1.9-.3-1-1.2 1.5 .2zM1697.5 1650.3l-.9-.2-1.5-1.8 .2-.7 .9 .5 1.2 1.3zM1530.1 1724.6l-1 .3-1.7-.5-1.1-.9-.2-1 1.9 .3 1.7 .9zM1611.3 1688.7l-.7-1.8 0-3.5 .4-2.6 .6 .7 .5 1.8-.2 3.5zM1759.3 1773.6l-1.9-1.8-2-4.9-.5-4.2 1.2-.8 2 4.3 1 3.9zM1549.2 1715l-.7-.9-.6-1.3-.3-1.5 .6 .1 .8 .9 .6 1.9zM1652.8 1813.6l0-.8 1-1.3 1.5-.2 .3 .9-.4 1.3-1.9 1zM1734.8 1828.2l-.4 1.5-3.4-2-.9-1.8-.6-1.9 3.1 1.5 2.2 1.5zM1576.3 1854.4l-.4-1.5 .7-2.6 .5 .9 0 1.8zM1505.8 1850.3l-2.8-1.1-.5-7.6 2.2-4.5 2.7 4.5 .5 6.6zM1556.6 1767l1.1-1 1.6 0-1.3 .8zM1900.6 1673.1l1.8-2.1 3.4-2.5 1.2 .2-.5 1.2-3 1.9zM1729 1791l-1.1 0-2.9-2-1-1.6 1.9 .6 2.2 1.8zM1569 1738.5l.9-2.1 3-2.2 2.9-1.4 0 1.3-1.7 1.9-3.5 3.1zM1724.7 1867.2l1.5-.5 1.8-.2 .3 .6-2.1 .4zM1803.1 1824.5l-.6-1.3 .5-3.1 2-1.5 .8 1.1 .1 2-1.4 2.2zM1711.2 1787.2l1-1.2 1.9-.8 1 .6-2.3 1.2zM1536.6 1792.1l.7-1.2 1.7-1 .1 .9-1.1 1zM1800.2 1640.4l-3 1.3-3.4-.3-2.1-1.3 2.2-1.1 3.4-.1zM1562.4 1620.3l-1.5-3.5-.5-7.2 1.3-1.7 1.5 1.5 .4 7.5zM1573.6 1772.3l-3.2-.4-2.7-1.4-2.7-2.4 2.9-.3 3.6 2.2zM1785.2 1860.2l-.3-2.2-.1-2.9 .5-1.3 .6 1.3-.1 3.5zM1620.7 1717l-2-.2-3.9-2.5-3-2.7 3.7 1.3 3.7 2.4zM1776.3 1657.1l-1.5-.6-.7-3.6 1.5-.4 1.7 3.3zM1636.2 1692.1l.5-4.3 2.5-5 2.1-.2-2.4 6.1zM1834.8 1739.2l-.6-1.2 1.2-2.1 1.3 0-.7 2.7zM1770.7 1649.9l-1.9-.4-3.5-3.2-2.8-4.5 1.8-.6 3.8 2.1 1.9 4.3zM1634.8 1757.1l1-1 2.2-.4 1.3 .4-1 1-2.3 .6zM1805.5 1727.8l-.1-1.2 .7-1.4 1-.9 .4 .6-.1 1-.9 1.9zM1634.6 1779.5l.8-1.6 1.4-.4-.6 1.4zM1547.6 1866.5l-1.3-4.7 .8-5.5 1.7-.9 .5 6.6zM1654.7 1757.2l-1.3 .1-1.9-.4-1.2-.7 1.3-.3 2.3 .6zM1887.5 1647.9l-1-1-.7-1.4 .5-.7 1.3 1.7zM1655.7 1819.6l-.3-1.6 1-2.9 1-2.1 .8-.1 0 2.3-1.3 3.7zM1572.1 1818l1.2-1.3 1.2-.4-.9 .9zM1519.4 1611.3l-1.7 .3-1.5-3.5-.4-2.9 2.4 1.7 2.2 2.9zM1521.4 1809.3l1.1-1 1.8-.2-1.4 1.1zM1599.2 1837.4l-1.6-1.4 .3-1.7 1.1 1.1zM1566.1 1834.1l-3.2-1-4.1-2.1-2.2-3.4 1.3-1 3.5 1 3.5 3.7zM1707.6 1640.8l-1 0-.4-2.6 .9-.6 .8 .7 .5 2.1zM1570.8 1659.2l-2.4-1.2-.9-4.2-1-4.2 2.2 .3 2.6 2 .3 4.4zM1631 1827.8l-1 2.2-6.3-1.5-3.9-3.3 3-1.1 3-1.2 6.1 2.6zM1878.3 1796l-1 .6-2.2 .7-2.4-1.3 .2-1.6 2.9 .1 2.6 .1zM1524.2 1655.1l-.8-2.1 3.9-4.8 2.6 .1-.6 2.8-2.9 4.1zM1696.5 1835.2l-2.7 .2-4.2-1.8 1.8-1.7 3.5 1.1zM1781.5 1772.2l-1.2 .2-1.8-1.1-.3-1 2.7 .9zM1678.4 1781.5l-1.6 1.8-3.9 .6-3.6-1.3 1.1-2 2.6-1.3 4.5 .1zM1578.8 1724.5l-.3-1.6 .4-1.2 .5 1.3zM1642 1708.6l-.7-2.2 2.1-2.9 .9 1.2-.3 2.6zM1832.2 1674.6l-.8-.9 2-4.9 2.3-2.7 1.4-.3-1.1 4.2-2.3 3.1zM1544.9 1826.8l4.8-3.4 6.6 .5-.8 3-5.2 2.2zM1799 1638.1l-1.5-2.2-.7-2.8 .5-.5 1.2 2.7zM1540 1700.4l1.5-.7 2.8-.5-.3 .6-2.3 .6zM1779.8 1692.7l1.2-.7 3-.6 1.4 .2-.2 .4-1.2 .5-2.4 .3zM1553.7 1647.8l1-3.6 3.1-4 2-1.2 .2 1.9-3.2 4zM1657.4 1856.6l-.6-.9-.1-2.1 1-.8 .8 .9-.3 2.2zM1639.6 1861.1l-2.2-1.7-2.5-2.8-.6-2.3 .2-1.2 2.5 1.7 2.7 4.5zM1715.4 1734.6l-1.1 0-2-1 0-1.2 1.3 .3 2 .8zM1601.4 1657.4l3.6-1.1 3.6-.3 3.9 .8-4 1.1-3.9 .5zM1779.7 1746l-2.2 .2-3-1.9-.8-2.1 2.4 .3 1.9 1.5zM1582.3 1832l.9-1.6 2.8-.4-.4 1.3-1.6 1.2zM1787.5 1868.7l-2-1.8-1.6-3-.9-3.3 2.2 1.7 1.7 3.6zM1819.2 1705.6l.5-2.1 1.1-2.5 .1 1-.5 1.8zM1625.9 1794.4l-.6 .5-2.6-1.6-1.8-1.9 1-.2 1.8 .8 2.4 1.6zM1721.8 1763.8l-2.6-.6-3-3.1 .2-1.6 4 2.9zM1647.1 1818.6l-1-.3-2.4-1.9 0-.7 .7 0 2.1 1.9zM1589.7 1876.5l1.9-.6 1.1 0-1 .5zM1770 1850.2l-1.1-.7-1.2-1.4 .7 0 1 .9zM1601.5 1629.3l.5-1.7 4.7-3.8 4.2-2.7-2.4 3.5-4.6 3.5zM1822.1 1805.8l.8-2.7 1.8-2.7 2.9-1.1 2.3 .6-1.9 3.6-3.6 3zM1605.4 1733.9l-2.7 0-2.3-3-1.3-2.4 2.6 .5 3.2 2.2zM1651.2 1820.7l-.8 .5-1.9-1.1-1.5-1.2 1.8 .1 1.6 .8zM1672.4 1640.2l-.9 .7-2.8 .1-1-1.1 1.5-.8 2.5 .3zM1802.8 1839l-.6-1.5 0-2.4 .5-.4 .3 2.5zM1888.6 1753.6l-4.3-2.1-3.3-1.9-4.3-3.5 1.6-.6 3.9 1.4 4 3.6zM1718.7 1762.6l1.8-2.7 4.2-2.1 .1 1.8-2.9 2.8zM1562 1659.1l-.9-2.7-.5-3.3 .7-2.9 1 3 .7 3.9zM1660.9 1682l2.2-3 5.2-.9 2.1 2.3-6 2.7zM1637.1 1711.6l-3.2-2.2 .8-6.3 2.3-2.2 2.8 1.5-.2 6.3zM1559.9 1635.2l-.7-.9 .5-1.8 .6 .3 0 1.4zM1886.3 1759.8l-3.1-2.8-1.6-5.5 2.7-3.3 2.8 7.5zM1709.3 1838.8l-.4-4.5 1-4.9 1.7-2.5 1.6-1 .3 4.1-1.7 5.5zM1726.5 1750.8l.5-1.3 1.8-1.3 1.7-.1 0 1-1 .9-1.5 .9zM1875.1 1693.4l-1.2-2.2 .7-4.8 2.1-1.4 1.3 2-.2 6.5zM1514.1 1783.7l-2.1-.4-1.7-4.1 .5-2.2 1.9 1.5 1.8 3zM1745.1 1728.3l-3.5-2.3-3.5-3.7-1.6-4.5 2.5 .8 2.6 1.4 2.5 4.2zM1740.5 1858.1l-1.1-1.3-.8-1.6-.1-.7 .4 .2 .9 1.6zM1510.3 1697.1l.3-.7 2 .1 2 0-.9 .6-1 .4-1.7 .1zM1850.8 1865.3l-5.1 1.3-6-.5-3.3-3.3 3.7-2.5 7.3 1.6zM1676.3 1825.7l1.5-2.5 4.8-2.5 2.1-.1-.5 1.7-5 3.1zM1740.4 1783.7l1.1-.6 1.3-.3 .1 .3-1.3 .7zM1778.8 1859.6l-1.9-3.4-.4-4 1.4-1.4 1.6 5.2zM1862.8 1739.7l-.5-1.6 .4-2 .6-1.3 .5 1.1-.3 2.1zM1709.7 1876.5l-.2-1.6 .3-1.7 1-.7 .9-.1-.2 1.6-.6 1.4zM1777.8 1677.9l0-1.8 1.1-2.1 1.2-.8 1.4-.8-1 2.5-1.3 2.1zM1791.3 1691l-.4-.9 1.1-2.3 1.3-1.6 .5 .7-.3 1.7-1.2 2.4zM1712.6 1705.8l.2-4.6 2.8-5.7 1.6 2.3-1.4 4.5zM1778.7 1737.7l-.4-2.2 3.1-3.5 2.5-1.7 2.8-.6-2.7 4.3-3.3 5.1zM1562.1 1771.7l-2.8 .4-4.4-1.9-.9-1.5 5.5 1.3zM1731.4 1726.7l.1-1.5 1.3-1.3-.5 1.7zM1622.3 1720.6l1.8-.7 3.5 .2-.3 .7-3 .3zM1679.3 1684.9l-1 .7-2.1-.2-1.8-.9 1.3-1.1 3.1 .4zM1501.1 1855.2l-.5-3 2.6-4.7 4.5-3.5 .2 3.9 .5 3.4-4.1 2.8zM1645.8 1689.6l2.5-3.6 4.7-3.1 3.8-2-1.4 2.8-4.9 3.5zM1730.5 1665.7l.2-2 1.1-2.4 1.4-.5 .7 .3-.2 1.5-1.5 1.8zM1782.6 1792l.4-.6 2-1.1 .6 .2-.3 .5-2 1zM1612.2 1871.5l1.1-1.4 1.5-.4-.8 1.3zM1603.3 1864.5l.7-1.5 3.5-1.3 3.4-.7-1.3 1.7-1.5 1.1-3.1 1.3zM1534.5 1775l-3-.1-3.8-5.1 2.2-2.6 4.8 4.8zM1767.9 1878.9l.4-2.2 2.5-3.3 1.7-.3 1.1 0-.9 2.2-2.3 1.8zM1502.9 1693.8l-.5-1.1-.5-2 .4-1.3 .6 1.6 .2 1.5zM1790.7 1736.3l-3.8-.8-3.3-1.5 .2-1.2 3.9 1.3zM1684 1778.3l.2-1.3 2.6-1.4 1.6-.2 .5 .6-1.5 1.1-1.9 1.2zM1581.9 1833.9l-1.7-1.5-1.5-3.1 .2-1.2 2.5 3.6zM1586.4 1831.6l-.5 .4-2.9-.3-1.9-.5 .3-.3 1.7-.2 3.5 .3zM1555.9 1749.3l1.3-.8 1.8-.5 .1 .4-1.6 .6zM1591.6 1681.5l3-3.5 7.9 1.3-1.6 3.4-5.4 .8zM1699.8 1714.2l2.5-1.6 2.7-.8 .6 .8-3 1.5zM1518.5 1631.1l-4.4 .2-6.4-2.3 .3-1.2 6.7 1.1zM1905.5 1739.9l-2.2-4.2-1.3-4.3 .6-5.2 2.8-.1 1.5 4.9 .4 5zM1632.6 1634l-.2-1.6 .5-2.3 .7 0-.2 2.6zM1891.2 1762.2l-1.2-.5-1.6-1.1-.6-1.2 1.4 .7 1.8 1.1zM1843.7 1736.8l.7-1.5 2.9-2.3 4.1-1.9-.8 2-2 2.1-3.6 2.1zM1526.7 1784.3l1.2-1.5 3.7-2 2.4-.6-1.7 1.6-3.3 1.8zM1677.2 1709.1l.2-2.3 2.5-1.8 2-.6-.4 2-2.1 2.4zM1521.7 1643.7l-1.9-.6-2.3-1.9-2.2-2.7 1-.8 2.8 1.5 1.8 2.6zM1607.4 1864.8l-3.5-.6-4.5-1.9 1.1-1.2 4.1 1.6zM1782.6 1687.6l.9-1.5 1.5-1.9 1.6-1.2-.1 .7-.8 1.4-2 2.1zM1765.3 1686.7l-.5-1.4 1.7-4.4 1.8-3.3 .6 .9-.4 2.9-1.8 4.9zM1909.4 1724l3.1-.9 3.6-.8 2.5 .5 1 .6-3.2 1-4.4 0zM1725.4 1801.3l.5-1.6 6-1.7 4.9-.3-4.6 2.6-5.6 2.3zM1725.7 1875.3l-.9 .6-1.4-.9 .2-.7 1.6 0zM1642.3 1822.4l-2.5-1.6-2-2.8-1.4-2.7 .3-1.9 3 2.7 2 3.5zM1601.1 1795.2l-1.7-3.4-.9-3.4 .2-2.8 1-2.3 1.9 4.1 0 4.2zM1846.6 1831.8l-2.6 .4-3.9-3.1 2-1 3.8 1.2zM1664.1 1875.8l.1-.5 1.8-.7 1.1 .1 .9 .2-1.8 .7-1.4 .4zM1903.6 1744.5l-.4-1.6 .4-1.8 .7-.2 0 2.1zM1741.6 1649.7l-1.7-1-1.3-1.2-.6-1.5 1.5 .7 1.3 1.3zM1736.9 1793.4l-1.2 .1-1.7-.6-.8-.6 .9-.1 1.9 .5zM1758.1 1813.5l-.5-1.2 .7-1.7 .3 1.7zM1802.4 1861.7l-1.6 .7-2.9-.3-1-.8 1.3-.5 2.9-.1zM1803.3 1731.8l.6-1.7 1.2-1.6 .6-.1-1.2 2zM1786.4 1756.2l.5-1 1.3-.7-.7 1.4zM1712.7 1741.8l-3 .2-3.6-2.5-1.5-2.7 .8-1.6 3.4-.3 3.8 4zM1521.4 1854.7l1.5-2.4 4.6-2.7 .2 1.7-3.4 2.9zM1604.2 1664.4l.9-4.7 5.1-4.7 1.3 2.6-2.8 5.4zM1667.2 1720.6l.6-2.3 4.5-1.3 1.8 1.2-.2 2.2-4.7 1.7zM1786.5 1813.6l-3.5 .8-5-.7 .2-2.1 5.5 .1zM1542.5 1811.2l-1.7-.3-.5-3.7-.3-3.1 1.5-.7 1.6 2.8 .1 3.1zM1815.7 1840.7l-.1-2.8 3.7-5.4 2.6 1.8-3.7 5.1zM1566.8 1867.8l.3-1.7 1.9-2.2 1-.2-1.7 3.1zM1650.8 1772.1l-1.4-1.6 4-3.9 2.1 0-.1 2.3-2.8 4.4zM1833.2 1831l1.3-.9 2.1 .3 .3 .6-2 .4zM1757.4 1775.8l-4.1 1-5-.8-2-2.7 3.3-1.1 4.5 .9zM1567.4 1710.5l0-1.7 .8-1 .1 1.3zM1685.8 1779.9l-.9-3.3-.1-4.1 .6-2.5 1-1.5 .4 4 .2 4.9zM1520 1606.4l-1.2 .2-2.5-1-1.3-2 2.4 .1 2.8 1.4zM1892.3 1691.5l-.3-1.4 2.7-1.1 1.3 .4 .5 1.5-3.2 1.7zM1583.9 1849.3l.4-.9 1-1.1 1-.6-.4 1-1.3 1.7zM1570.4 1634.2l.5-1.7 4.3-2.5 2.4 0 2.6 .1-3.3 2.8-3.7 .8zM1533.9 1618.1l-.7-1.2 .8-1.9 1.3-.5-.1 3zM1812.4 1860.4l-3.5-1.6-3.5-2.3-3.6-3.1 .8-.8 4 2.3 4.9 3.3zM1713.3 1777.9l2.3-5.5 4.9-4.7 2.6 1-4.7 6.7zM1585.3 1629.3l-1.3 .5-1.9-.2-1.4-.3 1.2-.5 2.4-.1zM1829.6 1691.1l1.2-1.2 2.3-1.1 1.5-.3 .7 .3-1.9 1.1-2.1 1zM1586.9 1616.5l-.3-1.1 .4-1.2 .4 0 .1 1.4zM1505.3 1643.5l-1.9-1.3-.8-2.3 .1-1.8 1.6 .2 1.4 3zM1894.2 1658.4l1.7-1.1 1.2 .8-1.1 .7zM1707.9 1849.6l.1-1.6 1.4-2.6 .9 .6-1.1 2.8zM1753 1642.1l2.7-2.3 5.2-2 3.8 0 1.9 1-4.3 2.6-4.9 .4zM1620.1 1676.8l-1.1 0-1.2-1.4-.2-1.1 .3-.8 1.3 .5 1 1.7zM1700 1671l-.8 1-2.6-1.2-2.3-1.5 2.3-.6 3.3 .9zM1521.2 1622.4l.6-.7 1.4-.9 .5 .1-1.6 1.2zM1838.6 1656.5l-1.5 .2-2-1 .2-.4 1.8 .4zM1531.5 1868.8l-2.1-.9-2-4.4-.2-2.2 .4-1.5 2.2 2.4 1.5 3.9zM1693.6 1640.5l-2.2-.1-2-1.5 .9-.7 1.7 .7zM1586.3 1872.3l3.2-.9 3.8-.8 2 .6 2.3 .7-4 1-4.7 .1zM1694.8 1745.1l.1-2.3 2.4-2.9 1.2 1.3-1.4 3.2zM1604.8 1715.7l-1.5-1.7-1.1-2.8 .7 0 1.5 2.3zM1519.5 1870.2l-1-1.5 0-3.5 1.1 .6 .7 2.8zM1612.3 1784.6l-.1-1.4 1.2-1.5 1.3-.8 .2 1.5-1.2 2.1zM1907.3 1743.6l-3.3-3.4-3-6.4 2.3-1.4 2.2 1.4 1.5 4.5zM1695.1 1827l.6-2.4 2.5-3.5 1-.2-.2 1.2-1.8 2.9zM1713.8 1734.9l-.4-1.8 .5-3.5 1.2-1.2 1.4-1.6-.7 3.7-.7 3.5zM1538.8 1764.3l-1.5-2.5 3.2-4.7 2.8 .4-1.6 6.3zM1567 1687.8l-2.7-2.9-2.2-2.6-.9-2.9 .1-2.2 3 3.6 1.8 3.7zM1582.6 1809.5l1-2.7 2.6-2.4 1 .6-2.1 3.3zM1773.5 1652.2l-.9 .2-1.7-.9 .3-.5 1.6 .4zM1667.3 1820.5l-3.3 .2-4.8-.5-2.2-1.1 2.1-.6 5.7 .9zM1561.8 1851.1l2-2.4 2.8-1.9 2.4-1-.9 1.7-3.7 2.8zM1699.4 1764.2l0-.7 1.1-1.6 .8-.5-.3 1-.9 1.4zM1618 1804.2l1.8-1.6 3.4 .3 3.3 1.2-2.3 2.1-4.4-.4zM1687.3 1744.6l.5-1.9 3-1.5 1.9-.4 1.3 .6-2.1 1.7-2.8 2.3zM1625 1806.1l1.3-2.2 3.5-1.3 3.1 .1 .7 1.6-2.5 2.1-4 .9zM1712.9 1809.3l-1.4-2.4-.5-2.3-.1-3.4 1.8-.3 1.2 3.1 0 3zM1609.9 1657.7l-1.3-1.5-1.1-2.5-.2-1.2 .7 .4 1.2 2.6zM1852.4 1815l1.6-.7 1.6 .5-1.5 .6zM1567.1 1667.5l2.3-1.5 3.1-1.2 2.7-.3-1.7 1.5-4.2 1.5zM1551.5 1618l-4.3-1.4-5.1-3.5 2.9-.4 4.6 1.6zM1668.4 1871.5l1.9-3.5 4.8-1 1.5 1.2-4.1 3zM1820.2 1832.6l-1-.7-.3-2 1.2 1.6zM1575.8 1736.9l-1.6-.3-1.5-.7-.4-.6 .8-.1 1.7 .7zM1752.2 1655.1l-1.1-3.6 1.7-6.1 3.8-3.5 1.9 1.8-1.3 4.5-1.7 3.8zM1690 1858.5l-.6-3.5-.2-5.1 1.1-5 1.4-.1 .6 5.2-1 6zM1548.7 1688.2l-.7-.6-.6-1.3 .5-.4 .9 1.4zM1696.8 1812.9l-.8 .5-1.5-.5 0-.6 1.6-.1zM1666.4 1635.1l.5-2.2 2-2.2 2.3-.8-.9 2.3-1.8 2.6zM1619.8 1705.7l-1.5-.8-1.2-1.7 .6-.8 2.1 1.7zM1513.4 1747.6l2-3.1 2.5-2.2 1.6 .5-.3 1.7-2.6 2.9zM1668.9 1775.4l.6-.9 1.6-.2 .6 .5-1.7 .9zM1724.3 1730.1l1-1.7 3-2.1 .9 1.4-3 2.1zM1721 1833.7l1.7-1.5 2-.8 2.7-.2-1.4 1.9-3.3 1.4zM1500.1 1837l.4-1.8 2.1-2.4 2.8-1.7-.9 2.7-2.7 2.7zM1723.1 1814l-1.5 .4-1.4 .5-1.3-.6-.1-.7 1.3-.7 2.1 .3zM1705.5 1734.2l-1.4-1.6-1.1-2.3 1-.6 1.5 2.5zM1657.5 1758.3l-1.4-1.8-1.3-4.6 1.4 1 1.3 3zM1715.8 1823.7l0-1.8 3-2.5 2.4-.6 .7 1-1.4 2.1-3 2.4zM1672.8 1728.7l-1.8-4.5 .6-4.3 2-2 1.2 6.7zM1518.5 1712.7l-1.7 0-4.6-3.9-.5-1.7 2.1 .5 3.8 3.2zM1672.1 1754.4l1.1-.9 1.7 .1-1.4 .9zM1710.9 1685.6l1.5-4.6 1.9-4.7 4.4-3.4 .7 2.9-1.6 3.8-3.4 5.2zM1561.1 1750.8l3.4-2.9 4.9-1 2.2 1.3-5.9 2.5zM1591.7 1830.3l-1.6 .2-3.8-1.2-2.5-1.1 .1-.6 2.7 .5 2.6 1zM1851.3 1811.5l2.1-3.6 4.8-4.2 1 2.1-4.1 4.1zM1797.8 1711.1l-.4-1.1 0-2 .5 .1 .4 2zM1635.5 1877.5l.7-2.3 2.5-3.1 1.1 .8-2.2 3.9zM1514.1 1783.9l-.6-1.2 1.1-1.5 .9 0-.1 2.3zM1534.4 1707.5l-3-3.6-2.4-6.4 2.6-2.9 2.7 3.5 1.1 4.6zM1725.8 1654.6l-1.7-2.3 1-5.6 1.4-3.1 2.2-2.2 0 5.6-.7 5.8zM1511.7 1852.2l1.5-.7 1.2 .2-1.1 .6zM1700.7 1740l-.3-1 1.6-1.7 1 .2 .4 .9-1.8 1.9zM1646.8 1656.6l1.8-4.8 3.9-5.2 2.5 .2 1 2.3-4.9 5.8zM1817.6 1647.2l.2-1.2 1.1-1.6 .5 .3-.8 1.8zM1605.1 1718.9l2.2-1.8 4.3-1.9 3.2 .7-2.6 2.3-4.7 1.4zM1886.7 1661.6l3.5-2.3 5.9-.9 .7 2.4-6.1 1.9zM1852.3 1809.8l-1.3-.7-.3-1.1 .9 .5zM1715.9 1688.7l-.3-1.4 2.5-3.2 2.6-1.2-1.2 2.9-2.1 3zM1808.3 1804l1.8-1.6 3.8 0 1.5 .7-.9 1.3-3.8 .4zM1767.8 1688.9l-1.8-.5-2.2-3-2.3-3.5 1.1-.8 2.8 3 2.8 3.3zM1510 1709.3l-3.8 .7-4.5-3.9-1-3.3 6.8 3.3zM1637 1765.5l-.5-1-.4-1.8 .4 .5 .5 1.3zM1800.7 1838.3l-1-.7 1.8-4.7 1.9-3.2 1 .4-.3 3.4-2.1 4.3zM1580.6 1657.2l-.6-.9 .6-1.5 .8-.4-.2 1.9zM1636.6 1626.4l-2.3-2-.1-5.1-.1-6.3 2.5 2.7 1.4 3.2 1 5.9zM1735.9 1851.9l-6.2-1.9-7-3.2 2-1.1 6.2 2.5zM1657.9 1691.9l2.8-2.3 5-1.9 1 1.3-.5 1.5-4.6 1.6zM1768.3 1818.3l.2-.9 1.5-1.2 1.1-.2-.6 1.1-1.3 1.2zM1833.3 1772.3l-1.6-1.4 .3-1.4 1 .8zM1617.3 1708l1-.9 2.2-.9 3.7-.8 0 1.3-2.7 1.6-4.1 .8zM1808 1718.8l-.9-.6 .2-2.3 1-1.3 1.1 0 .3 1.8-.5 2.3zM1715.4 1865.4l-2.1-3.2 0-5.9 1.6-5.3 2.6 .5 1.2 5-.6 6.5zM1660.2 1816.5l-3.3 .4-5.9-2.1-2.4-3.8 4.4-.7 6.9 3.2zM1777.4 1701l1.6-2.1 2.2-2 .4 .6-2 2.1zM1858.6 1816.1l-.5-.6 0-1.8 .4 .1 .4 1.6zM1838.5 1833.3l-2.7-1.5 2.1-6 2.3-4.4 2.3 3.5-1.5 6.7zM1857.8 1761.6l-.4-1.3 1.7-2.5 2.2-.5 2.1 .1-2.4 2.7-2.1 2.6zM1588.1 1751.5l-.7-.9 .3-2 .9 .1 .1 1.8zM1660.6 1803.6l.5-1.7 1.5-1.4-.7 1.9zM1722.1 1826.5l2.1-3.5 4.1-3.9 5.1-1-.6 3-2 2.9-5.1 2.9zM1714.2 1780.8l1.4-1.3 2.2-.7-.2 .9-1.6 1.1zM1914.4 1659.9l-.8-.4-1-1.6-.3-1.2 1 .5 1.4 1.9zM1552.5 1799.3l-.4-3.6 3-7.3 2.6-1.5 .3 3.3-2.6 6.1zM1791.4 1805.9l-2.3 .3-3.8-1.1-1.8-1.4 2.7 .1 3 .7zM1884.3 1765.1l1.1-1.6 1.4-.4-.6 1.5zM1748.7 1645.2l-.9-.9-.6-1.9 .5-1.6 .8 .1 .7 1.3 .3 2.2zM1796.6 1720.5l-.2-2.9 1.9-3.3 1.8 .8-1.5 3.3zM1780.6 1746.5l-.9-1.6-1.1-3.1-.4-3.1 1.4 2.1 1.3 4.4zM1667.4 1631.5l-1.4-.4-.6-4 .9-2.8 1.5-.7 1.1 3.3-.7 3zM1547.4 1688.1l-1-1.2-.7-1.4-.2-1.2 .8 .5 .9 1.9zM1733.7 1861.7l-.5-1.4 .5-2.1 1.1-1.1 1 0 0 1.9-.9 1.5zM1613.8 1788.1l.2-1.7 2.8-1.7 1.4 .7-2.7 2.3zM1632.3 1641.2l-3.1 .5-4.9-.7-1.8-1.1 1.3-1 5.6 .9zM1679.5 1655.7l2-3.1 5.9-3 1 1.4-5.2 4.1zM1524.2 1731.8l.7-1.4 1.3-1.3-.8 1.6zM1725 1809.6l.8-2.2 2.8-2.9 3.8-1.1 1.6 1.4-3.2 3.2-4.5 3.5zM1571.1 1727.6l-1.8 .3-1.7-.4-.1-.6 1.9 0zM1779 1685l-5.3-1.4-3.7-3.2 1.2-2.4 5 2.4zM1617.5 1634.3l-4 .7-3.8-.8-2.1-1.8 2.2-1.5 5.6 .7zM1680.5 2269.5l-.2-2 1.5-2.6 1.7-1.4-.1 2.1-1.2 2.4zM1756.6 2031.1l-.8 .7-1.8-1.3-.9-1.1 .4-.7 1.4 .1 1.7 1.2zM1432 1887.2l-1 .3-1.4-2.2 .1-1.9 .7-1.3 1.5 2.3 1.3 2.5zM1632 1989.4l.6-1.3 1.4-1.4 .8 .4-.2 .9-1.3 1.2zM1717.5 1883.2l-.7-1.2-.7-2.8 .7-1.8 1.1 1.7 .5 3.6zM1778.6 2118l-.8-.9-.5-1.8-.1-1.4 .7 1.2 .5 1.5zM1618 1978.5l-1.3 .1-1.9-1 .4-.6 1.9 .6zM1696.3 2184.3l-1.2-2.4 .2-4 .8-1 1.2 .5 .1 4.7zM1457.5 2000.4l2.7-2 4.4 .4 4.4 .3-.1 2.2-4.2 .6-4.5 .4zM1284.2 1905.9l-2.9 .4-2.4-4.4 1.1-2.1 4.5 3.3zM1262.5 1925l-.8-1.8 2.7-2.7 1.5-.5 .7 1.3-2.1 3.5zM1235.4 1916.9l-.9-.3-.9-1.7 .7-1 1 .4 .5 1.8zM1103.8 1998.2l-1.6-3.1-1.5-3.5 1.1-.7 1.1 1 .9 3zM1193.9 1990l-.8-3 1.1-4.1 1-2.2 1.6-1.6-.4 4.2-.5 4.7zM1140.5 1930.4l-2.8 .9-4.2-1.6-1.8-1.9 2.1-1.1 4.6 1.4zM1608.3 2066.5l-3.1-2-4.2-4.9 1-1.2 4.1 4.7zM1776.2 1904.5l.1-1.9 3.1-2.3 3.4-.5-1 2.2-1.1 1.6-2.9 1.7zM1291.4 1985.5l-.7-.1-1-1.9-.2-1.6 .6-.2 1 1.2 .3 1.5zM1231.4 1962.6l-1.2-.7-1.7-1.9-.1-1.9 1.7 1.3 1.8 2.2zM1240.7 1954.9l.2-1.6 .7-1.7 1-1.1 0 1.4-.8 1.8zM1492.5 1883.9l1.1-1.2 2.7-.3 2.2 .3-.2 1-2 .5-2.4 .5zM1575.3 2008.7l-.6-1.4 .3-2 .7 1.9zM1378.5 1896.8l-5.9-2.5-2.5-7.2 2.7-2.6 5 5.9zM1630.3 1888l-.9-1.2 .3-1.5 .9 1.2zM1564.7 1890.7l-.8 0 0-3.8 .9-3 .9 .1-.1 3.5-.2 3.1zM1666.1 2058.9l.2-2.3 .8-2.9 .9-.4-.8 3.8zM1276.1 1997.3l-.9-.1-1.3-1.4 .6-.2 1.2 .8zM1711.4 2148.3l0-1.5 3.2-2.5 2.6-.5-1.7 2.5-2.4 2zM1540.1 1954.2l-2.3 .7-2.8-.6-.3-1.1 3.1 .1zM1621.3 1925.7l-.4-3.5 4.8-4.8 4.7-2.4-1.5 5-4.1 4.9zM1143.2 1982.5l-1.3 .8-2 .3-1-1-.7-1 2-.2 1.7 .3zM1712.1 2040.2l-1.2-.1-1.1-1.1-.6-1-.2-1.1 1.7 .9 .9 1.2zM1109.9 1910.3l.6-.8 1.9-.9 1.8-.4-.5 .7-.8 .8-1.7 .5zM1658.2 2245.9l-2-3.3-.6-4.4 1.7-.9 1.4 4.7zM1361.9 1961.7l-2.4 1.5-5.4-3.1-2-3.3 1.4-1.5 3.6 .4 3 3.1zM1476.7 1889.6l-5.3-.6-6.1-4 2.3-1.2 5 2zM1650 1979.8l-1.9-.2-2.4-1.4-.3-1.8 .2-1.4 2.2 .9 1.6 2zM1364.2 1942.3l-1.8-.8 .3-4 1.5-2.2 2.1-1.3 .9 3.8-1.2 3.7zM1702.3 2092.9l-.1-.9 1.7-.9 1.1 .2 .2 .5-.3 1.1-1.6 .1zM1264.1 1952.8l-1.5-2 0-4.1 .8-4.5 2.2-.2 1.2 4.5-.6 5.5zM1584.2 2056.8l.3-1.8 1-2.3 1.3-1.4 0 1.8-1.3 2.8zM1786.8 1985.3l.6-3.1 3-4.2 3.1-.2 2.1 .5-1.1 3.8-5.1 4.1zM1545.3 2049l-.2-.5 1.7-1.9 2-1.7 .5 .4-1.9 2.1-1.5 1.5zM1686.2 1930.9l-4.2-1.1-5.6-3.5-2.9-3.7 4.7 1.4 5.6 3.5zM1634.2 1944.7l-1.9-.2-1.4-1.3 1.9 .2zM1661.1 1911.7l-4.4-.9-5.7-1.6-3.4-3.1 5.7 1.3 4.7 1.7zM1783.3 2134.2l-1.2-.1-1.8-5.7-.3-2.9 .4-1.2 1.6 3.7 2.2 5.5zM1364.9 1913.7l-.7-2.8-.2-3.3 .8-3.2 1.1 2.7 .1 4.7zM1279.7 1898.2l-.6-1.2 .4-1.8 .9-.3 .4 2.5zM1092.9 1957.1l0-1.6 1.6-3.3 1.4-2.7 .3 .8-.4 2.1-1.6 2.9zM1757.5 2151.8l.4-1.2 1.4-1.4-.8 1.8zM1775.8 1947.7l-1-.3-1.6-1.1 .9-.2 1.3 .6zM1619.2 2053.7l-.9-.2-.8-1.1 .4-.3 1.1 .8zM1649.2 2034.6l-.6-4.8 0-4.9 .8-3.3 1.2 1.8-.2 7.8zM1563.5 1900.8l-3.2 .5-5.7-1-1.6-2.3-.2-1.3 3.2-.8 4 2.7zM1234.9 2044.4l-.7-1.3-.4-2.3 .5-1 .6 1.4 .5 2.1zM1692.1 2023.3l-1.1-1.9 .1-2.5 1.2-.8 .8 3.5zM1169.5 1940.6l.5-3.9 4.2-4.8 1.2 3.2-2 4.8zM1653.4 1981.5l-1 .1-1.2-1.3-1.2-1.5 1.2 .2 1.1-.1 1.2 1.7zM1834.3 1973.8l0-1.1 1.4-1.3 1.2-.5-.4 1.3-1.1 1.5zM1334.9 1951l1.1-5.3 4.2-7.2 .3 3.1-2 4.7zM1625.3 1909.9l-1.7 .6-2.4-.7-.8-1.2 .8-1.2 3.2 1zM1721.9 2178l1-2.7 3-2.6 2.6-.9-1.4 2.7-2.2 1.9zM1790.6 2092l-1 .3-2.6-.3-1.1-.6 1.5-.2 2 .3zM1368.4 1958.4l-4.7-1.4-3.7-3-1.9-2.9 3-.1 4.3 3.4zM1724.9 2207.4l-2.6 0-2.6 0-.6-.6 .8-.4 2.6 .4zM1246.1 1953.7l-3.5 .8-5.9-3 .6-2.5 5.7 2.3zM1731.7 2046.7l-.1-.9 .7-1.9 .6-.7 .5-.3-.5 1.4-.6 1.3zM1768.9 1979.4l.5-.9 2.1-1.2 1.2 .1 0 1.1-2.8 1.2zM1359.1 1890.8l-1.1 1-3.6-2.1-2.6-2-.7-2.2 4.4 2 3 1.7zM1105 2010.3l-3.7 1.5-4.5-2.1-3.7-2.2 3.6-1.1 5 1.2zM1761.7 1988.6l-.5-2 1.1-1.7 .2 1.9zM1531.8 1958.3l.7-3.2 2.9-4.6 1.8-.3-.1 2.1-2.6 4.1zM1659.3 1880l-1.9 .1-1.8-.9 2-.3zM1728.2 2211.5l-.2-.7-.2-1.9 .4 .5 .2 1.4zM1730.9 2110l-2 0-3.7-2.1-1.6-1.7 2.2 .2 3.5 1.9zM1660.2 2063.6l-.4-1.3-.4-1.9 .6-1 .5 1.3 .2 1.9zM1432.7 2039.2l-1.2-.7-.4-2 1.7 1.2zM1206 1912.7l-.9-1 0-2 1-.3 .4 2.1zM1556.2 1983.4l-2.3 .4-3.6-.2-2.8-1.2 .7-.7 2.7 .1 3 .5zM1224.5 1968.4l-1.3 .2-2.5-.9-1.9-1.1 0-.8 2.5 .7 1.6 .8zM1252.5 1891.1l-.3-2.8 2.6-5.1 2.7 .5-2.6 5.9zM1241.1 1920.3l1.1-1.5 1.6-.5-1 1.3zM1177.7 1929.8l-1.7-1.1 1.4-4.8 1.7-2.2 1.5 2-1.3 4.5zM1432.7 1936.4l-2.3-.2-4.2-3.9 .5-2.1 2.1-.6 4.1 4.5zM1645.1 2111.5l-1.5 .2-1.3-1.4 1.9 0zM1554.7 2041.3l.9-1.9 1.4-1.4 1.8-1.3 1.3 .4-1.9 2.1-1.7 1.6zM1101.8 1989.7l1.4-1.3 2.8-.7-.2 1-2 .8zM1806.1 1892l1.2-1.3 1.6-.9 1.2-.2-.7 .9-1.8 1.3zM1309.5 1881.7l2.1-2.4 4.3-3 4.7-.8-.2 1.9-3.2 2.6-5.3 2.4zM1522.8 1916l-.7-1-.3-1.2 .7 1zM1692.5 1949.8l-1.3-1.4-1.1-5.3 .3-2.7 1.4 2.6 1.5 5.3zM1660.4 2210.9l-1.6-.4-2.4-2.2 .4-.6 2.4 1.7zM1608.2 2199.4l-.6-.3-.6-1.6 .1-.6 .9 1.7zM1453.2 2048.6l-1.2-.6-.5-1.6 1.3 1zM1420.6 2025.6l-1-.3-.4-2.9 .2-1.3 .8 .8 1 2.8zM1304 1947.7l-1.6-2.5-.7-4.8-.3-3.8 1.6 2.4 1.1 5.4zM1500 2010.5l-6.4-2-5.1-6.1 3.1-1.8 6.5 3.5zM1178.4 1963.1l.5-2.2 2.5-3.6 3.7-3.7-.7 2.7-1.2 2.6-2.7 2.7zM1736.8 2110.4l1.1-.8 1.3-.7 1.2 .1 0 .5-.8 .8-2 .7zM1154.6 1984.6l-.9-1.5-.1-1.5 .8 1.3zM1337.7 1898.2l-.1-3.4 2.6-3.8 1.4 .1-1.4 4.5zM1843.1 1880.4l1.9-1.7 3.5-1.5 3.8 .7 .1 2-3.3 1.6-4.8 .7zM1803.9 2035l.3-3.2 4.9-4.2 2.5 1.8-4.4 5.3zM1107.6 1922.9l.9-1.4 2.9-1.3 2.4-.7 .5 .7-1.7 1.6-2.7 .6zM1617.7 1983.5l-.7 .9-2.6-1.1-2.2-1.1 .2-1.1 2.5 .6 1.9 .8zM1618.9 2071l-.9-.9-.5-1.1 .9 .9zM1740.9 2098.8l-1.4 .2-2.2-1.1 .3-.9 2.3 .8zM1108.4 1881.6l.7-1 1.4 .1-.9 .9zM1652.5 1970l-1.7-.5-1.2-.7 1.4 .3zM1641.7 1915.6l2.4-1.2 4.4-1 2.4 .2 1.8 .5-3.8 1.2-3.5 .1zM1286.4 1927.7l.1-.9 .8-1.5 .2 .2-.4 1.6zM1728.4 2024.4l1.1-.8 1.5-.1-1.2 1zM1663.2 2064.5l-1.3-1-.3-5 0-4.4 1.5 3.4 .7 4.9zM1564.2 1964l-3.9 1.6-6.3-5.5 3.5-1.6 4.9 1.9zM1129.7 1887.4l-4.1-.3-5.6-4.6-.4-2.5 6.7 4zM1611.6 2032.1l.8-1.3 1.4-1.4 2.2-.8 .1 1.1-.9 1.5-2.6 1.6zM1558.2 1991.4l-1 .6-2.1 0-.7-1.1 1.1-.6 2.2 .2zM1608.7 1940.5l1.7-2 3.5-1.1 1.7 .7-4.3 2.3zM1150.5 1916.4l1.7-.5 1.6 .5-1.6 .4zM1432.6 1999.4l-1.6 0-1.6-.4 1.6-.2zM1214.5 1886.2l-3.2-.7-5.5-2.5 1.2-1 5.9 2zM1736.5 2193.3l-2.7-4.5-1.7-6.8 2.6-1.5 3.2 8.2zM1593.6 1889l-.9 1.4-3.5-3.4-1.2-2.6 .6-1.2 2.7 1.9 3.4 2.7zM1183.7 1905.6l-.3-1.8 .4-1.6 .3 1.6zM1602.5 2093.7l2.5-2.1 5-1.7 3.9-1 .4 .8-3.1 2.1-5.7 1.9zM1528.4 1946.7l-1.2-2.6 2.1-3.8 2.4-2 2 2.3-2.9 4.1zM1739.3 2060.8l-1.9-1.6-1-6.2 1.3-2.3 1.8 2.3 .5 4.9zM1173.7 2029.4l-.4-1.4 .1-1.2 .5 1.1zM1762.2 1905.1l1.8-2.1 3.5-1.4 .2 1.6-2.7 1.4zM1571.6 1914.4l-2.1-2.2-1.1-3 .8-1.3 2.6 3.7zM1465.5 1927.6l-.8 .2-1.7-.1-.8-.2 .5-.3 2.3 0zM1680.3 2204.6l1.5-2 3.1-1.6 2.9 .2 .6 1.4-2.4 1.8-3.2 .7zM1312.2 1924.7l-1.7 .1-2.6-1-1-.9-.7-.9 2.3 .5 2.5 1zM1498.8 1984l1.6-3 3.5-3.9 4.5-1.2 0 2.4-2 3-4.6 3zM1635.6 1951.6l-3-.3-3.4-4.4 2.2-.7 3.9 2.4zM1145.9 2018l1.5-2.4 4.3-2.7 2.7-.8-1.2 2-4.4 3zM1450.4 2044l-2.6-4.1 1.7-5 2.6-2-.2 6.2zM1676.4 2063.1l-3.7-.2-5.2-4.3-1.1-3.1 3.6 1.1 3.5 2.8zM1531.3 1977.4l-2.3-.8 1.1-4.9 1.5-4.8 2.8 .1-.2 5.3-.6 4.7zM1420.6 2013.8l-1.1 .3-2.3-.6-.8-.6 1.3-.1 2 .2zM1762.4 1911.7l-1.2 .1-1.4-.5-.8-.6-.4-.7 1.5 .1 1.6 .7zM1599.6 1996.4l2.3-1.9 4.3-2.6 2.7 .1 1 .5-2.9 2.2-6 2.5zM1765.8 2031.6l-4.9-1.8-2.2-6.9 2.5-1.8 3.8 5.2zM1569.2 1982.9l-1.8 .6-2.7-1.1-.1-1.3 1-.6 2.6 .8zM1675.1 2055.8l1.1-1 2.4-.9 1.8-.6 0 .6-1.5 .8-2.2 1zM1681.7 2086.7l-.4-1.3 .5-1.3 .4 1.4zM1769.8 1987.2l-2-5 2.9-7.6 3.3 .1-.3 8.6zM1502.8 1960.2l2.4-1.5 3.6-.2 1.3 1-1.3 1.1-3.6 .9zM1678.5 2254.6l1.2-1 3.5-1.4 3.2 .3-.3 1-2.5 1.4-3.7 .2zM1573.7 1948.9l-.3-1.9 1.7-1.8 .7 .8-.6 1.6zM1213.9 2004.2l-1.3-.7-1.3-1.9-1-2.4 1.9 1.5 1.6 2.1zM1242 2003.3l-4.2-.7-4.1-3.6-1.9-3.9 2.3-.8 3.6 .1 2.3 4.4zM1650.3 2180.1l-3.2-.9-2.4-4 1.6-.8 3.1 2.4zM1583.6 1908.5l-.2-1.7 1.1-.9 .2 1.3zM1588 1909.4l-1.5-.4-2.3-2.3 .9 0 2.1 1.3zM1577.2 1887.5l-3.5-.9-1.8-3.9 1.2-1.1 3.3 2.3zM1234.5 1904.6l.8-.7 1.6-.7 .9 0-.8 .7-1.8 1zM1537.6 1909.2l-3-1.7-4.4-5 .2-2.4 2.4 .3 4.4 5.8zM1749.2 2029.5l-2.1-.6-1.4-2.4 0-1.6 2.4 2.4zM1239.9 2022.8l-2.3-2.1-2.1-2.5 .8-2 .7-2.2 2.2 2.7 .5 2.9zM1128.2 1937.1l-1.6-.5-1.3-2.7-.6-3.6 2-.3 2 2.5 .5 3.4zM1644 2100.7l-.9 .7-2.2-.6 .2-.7 2-.2zM1228.7 1943.2l-4.2-3.7-3.6-5.7 1.4-4.7 4.5 2 3.2 7.1zM1495 1955l-1.3-.4-1.9-2.8 .2-3.2 1.5-.3 1.7 2.6 .7 3zM1304.1 2051.1l-2.8 .7-3.4-.4-1.9-2 .9-1.2 2.3 .1 3.7 .5zM1119.1 1945.2l-.8-.3-.9-1.7-.1-1.6 1.2 1 1.1 1.8zM1605.8 2182l1.8-3 6.2-1.6 0 2.3-4.6 3.4zM1266.9 2043.1l1.5-2.6 2.1-1.7 1.6-.8 1.6 0-1.3 2.4-2.5 1.1zM1754.2 1975l1.5-2.1 7-2.7 1.2 .9-6.4 3.3zM1673.9 2161.9l-2.9 1.5-5.8-1 .6-2.7 5.4 .4zM1418.5 1952.7l1.9-.9 2.7 .3 .2 .9-2.6 .1zM1377.6 1913.9l-.8-3.3 1.5-4.4 1.6-2.5 .3 3.1-.6 4.2zM1679 2170.7l.3-1.3 1.5-1.5 1-.1 .5 .3-.5 1.1-1.3 .9zM1812.3 2053.6l-2.6-.7-3.7-3.8 2.2 0 3 1.9zM1700.3 1900.6l-.2-1.4 0-1.7 .4-1.7 .3 1.8-.1 1.5zM1704.2 2262.8l-.5 .2-1.6-.3-1-.6-.2-.4 1.3 0 1.9 .7zM1281.1 2060.6l-.8-1.3-.5-4.4 .7-2.3 .9 2.6 .4 4.2zM1677.4 1992.4l.4-.3 1.6 0 1.2 .2-.2 .2-.8 .4-1.9-.2zM1829.7 1983.8l-.6-.4 1.8-2.2 1.3-1 .9-.1-.9 1.9-1.7 1.6zM1408.7 1965.7l-.8-.1-1.6-1.2 .9-.1 1.4 .5zM1520.9 1920.8l-4 .8-5.3-2.2 .6-1.5 5.5 .4zM1744.1 2195.5l3-2.1 3.5-1.7 3.7-1.1-.5 1.2-2.7 1.5-2.9 1zM1574.4 1999l-.6 0-1.1-3.3-.3-2.8 .6-.1 1.2 2.4 .9 3.8zM1248.3 1959.6l-.6 0-1.9-1.7-1.3-1.4 .1-.5 1.7 1.1 1.4 1.6zM1415.4 1918.3l-3-1.5-3.7-3.1 0-3.1 3.2 .9 3.7 3.9zM1501.1 1896.5l-.5-4.4 2.4-6.6 1.5 .1-1.2 6.6zM1460.9 1985.3l.4-6 1.5-5.8 .9 .6-.5 6.4zM1204.6 2003l1.5-3.1 2-2.8 1.5-.3-.1 1.5-2.2 3zM1195.8 1888.6l-.6-5.5 .8-7.9 2 .3-.6 7.9zM1641.7 1973.5l-3.7-.1-5.9-1.9 1.4-.7 4.5 1zM1658.7 2197.1l-.6-2.4 2.1-5.7 3.6-4.1 .6 2.7-1.1 3.7-2.3 5.1zM1567.9 2011.4l.2-2.1 .7-2.4 1.5-.5 1.2-.3-.2 2.2-1.7 1.4zM1278 1955.1l-.8-.5-1.4-3.3-.1-2.5 .7-.1 1.1 2.3 .9 3.2zM1514.7 1942.7l-1.2-3.3 1.5-4.8 2.4 .6-.3 4.9zM1803.3 1996.7l.5-1.1 2.7-1.9 1.8-.6-.5 1.3-3.8 2.7zM1134.1 1947.4l-1.4 .2-2.5-.5-1.4-.6 .1-.3 1.3-.2 2.4 .7zM1706.6 2192.2l-.8 0-1.5-1-.9-1.2 1.3 .1 2 1.4zM1654.7 2127.4l-4.8 .1-6.1-1.9-.1-1.7 6.9 1.2zM1792.5 2111l-1.7 .5-1.2-.6 1.2-.4zM1188.7 1901.5l-1.1-.6-1.2-1.6 .1-.6 1.9 1.7zM1754.5 2171.5l-1.6-.8-1.2-2.6 1.1-.5 2.2 2.3zM1245.9 1985.9l-4.4 1.2-5.2-3.5-.2-3.5 7.4 1.9zM1586.4 2067.3l.4-1.5 1.8-1.9 .1 .8-.9 1.6zM1089.5 1970.6l2-2.7 3.2-1.3 1.9 .9-3.7 2.2zM1692.7 2253.8l2.8-.7 3 .1-.1 .6-2.7 .3zM1681.6 2143.8l-.8 .1-.7-1.8-.1-1.6 .9-.1 1.1 1 .4 2.1zM1555 1881.9l-1.5-.2-1.6-.9 1.9 .2zM1574.3 1884l-1.1 .6-2.6-.1-.5-.8 1.2-.3 2.1-.2zM1752.1 1969.8l-1.7 .1-3.5-.7-3.8-2.8 2-.8 3.3 .5 3.5 2.3zM1720.7 2218.7l.6-1 1.8-1.1 1.5 .1 .2 .5-1 1.1-1.6 .2zM1101 1909.5l-1.3-.1-2.3-1.7 .6-.4 1.9 1.1zM1693.8 2001l-.9-.4-.7-1.7-.6-1.8 .7-.2 1.1 1.2 .7 1.9zM1734 2032.5l3.1-4.1 4.8-3.8 .6 1.9-3.9 3.6zM1395.4 2020.3l-4.1-1.1-4.1-3.1-.7-1.8 5.7 3zM1133.2 1916.4l1.3-1.4 2.1-1 .7 .1-2.3 1.6zM1757.2 2015.2l-1.6 .2-4.1-5.6-2.1-4.2 3.8 3.3 4.3 4.6zM1692.6 2123.7l-.9-1.1-.1-3.5 .9-2.2 1-.6 .4 3-.2 3.5zM1097.4 1937.8l-.6-1.3 1.8-4.8 1.6-1.3 .4 2-2 4.6zM1459.9 1927.6l3-2.6 3.7-1.6 4.1-.6-.4 2-2.4 2.1-4.8 1.6zM1710.5 1892.3l-3.2 .4-4.3-2.1 1.4-2.1 4.5 1zM1180.6 1942.5l-.1-.9 1-1.5 1.3-1.2-.1 1 .1 .9-1.3 1.4zM1311.1 2045.6l-.5-1.3 .1-1.8 .7-1.8 .5 1.9 .1 2zM1667.1 1888.1l-.9 .5-2.2-1.5-1.6-1.9 .7-1 2.3 1 1.2 1.7zM1689.6 1904.3l-4.7-.3-6.3-1.1-2.1-2.6 4.1-.1 5.1 1.7zM1311.9 2028.3l0-1.2 1.9-1.2 .7 .7-1.4 2zM1540.7 1884.8l-.6-1.5 1-3 1.9-.8 .5 2-1.2 3zM1696.6 2138.1l-1.6-2.6-1.2-3.1 1.1 .3 1.3 2.5zM1672.1 2157.1l-1.5-.1-1.3-.5-.1-.5 1.8 .3zM1759.1 1881.2l-4.7 1.3-6.2-2.3 .2-2.8 7.3 .5zM1110.5 1924.7l-1.1-1-.9-1.2 .4 0 1.1 1zM1817.1 2008.1l-2.1-.1-3.4-1.4-1.3-1.6-.5-1.1 3 1 2 1.4zM1206 1979.4l-1.2-.8-.7-2 .6-.3 1.1 1.6zM1253.7 2009.6l-.7-3.6 2.7-5.8 3.2-3-.5 4.7-1.7 6.1zM1375.9 1964.9l-1.5-1.1-.5-1.6 1.3 1.1zM1711.3 2192.4l0-.5 1-1 1.1-1 .4 .3-.7 1.2-1.6 1.6zM1458.3 1938.8l-.2-1.3 .3-1.7 1-1.4 .4 1 .2 1-.7 1.9zM1113.6 2008.7l0-1.8 3-2.8 2.5-.9 .1 2.2-3.8 3.6zM1757.3 2122.5l-.6 .3-1.7-.9 .2-.5 1.6 .5zM1669.5 1947.8l.6-.8 2.2-.6 1.3 .3-1 .9-2 .5zM1323.1 1959.3l2.8-1.2 3.2-.7 2 .9-1.1 1.7-4.7 .3zM1347.3 1880.7l1.9-.9 2.7-.6 2.1 1-2.2 1.3-2.8 0zM1502 2040.5l.7-1 1.3-1.1 0 .5-.9 .9zM1624.2 2024.9l.8-1.6 2.9-2.7 3-1.3 2.9-.7-4 4-4.5 2.9zM1451.2 1923.2l.3-1 2.9-1.2 3.5-.7 .4 1.2-3.2 1.5-3.3 1.1zM1733 2184.7l4.9-2.1 4.4 .1 1.3 1.8-5.7 1.7zM1680 1975.3l-2.4-1.9-2.9-5.4-.6-4 1.7 .9 2.1 1.6 1.3 4.7zM1504.6 1952.5l-1.2 .7-1.4-.8-.5-1 2 .1zM1275.4 1957.5l.4-1.1 1.6 0 .8 .6-1.7 .8zM1781.2 1946.8l1.8-4.3 3.5-5.3 3.3-3.1-2.2 4.7-2.8 4zM1753.9 1923l-.6-.5 .1-2 .9-1.1 .6 .6 .1 1.1-.2 2zM1160 1946l1.4-2.7 4.8-1.7 5.5-.2-2.8 3.9-6.6 2.6zM1708.5 2002l-1.3-1-.6-1 1.1 .6zM1765 2094.9l3.1-5.3 4.8-5 1.8 0-5.1 6.6zM1201.1 2014.6l-2 .6-2.3 0-2.5-.4 .5-.9 1.8-.6 2.5 .5zM1343.7 1918.2l.7-1.3 1.4-.8 .3 .3-1 1.3zM1292.6 1929.3l-.8-1.1-.8-1.5-.2-1.1 .7 .7 .9 1.9zM1396.2 2036l-.5 0-1.3-1.4-1.1-1.4 .8 .4 .8 .3 1.3 1.6zM1620.1 1983.8l-.5-6.5 4.1-7.1 2.1 3.3-1.2 5.3zM1526.3 1976.1l-1.3-4.1 2.9-4.4 2.7-.2-.9 6.1zM1326.8 1918.2l-.9-.7-.4-1 .8 .7zM1385.4 1984.1l-4.8 1.6-8.2-2.6 .9-3.1 8.3 .8zM1531.7 2017.4l.7-1.9 1.5-2 .4 .4-1.1 2.1zM1759.7 1903.4l-1.7 .1-1-3.5-.9-2.9 1.3-.5 1.9 2.1 1.4 3.3zM1118.9 2021.5l-.3-1.4 1.3-.8 .1 1.5zM1596 2076.5l1-1.6 2.3-.4 .8 .9-2.2 1.4zM1579 1951.5l1.7-1.2 2.1-.7 2.3-.3 .2 .9-1.9 1.1-2.5 .5zM1246.4 2038.9l-.6-.2-1-1.4 .3-.1 1.2 1zM1638.5 2006.6l.3-2.1 2-3.4 1.3-1.3 .1 1.5-2 3.3zM1300.2 1950.3l-.9-.7-.9-1-.8-1.8 1.1 .4 1 .4 .7 1.8zM1288.9 1920l-1-1.3 0-1.2 .8 .8zM1517.3 1962.2l.9-.6 1.9-.2-.5 .5-1.3 .4zM1210.4 1997.6l-.2-1.5 .5-1.4 .2 1.5zM1431 2037l-.5-2.1 1.3-3.8 1.6-.4-.7 5.2zM1746 2185.1l-.9-2.7 .6-5.6 1.1-3.3 .8 3-.6 5.3zM1523.2 1913.2l-2.2-2.5 .7-4.8 .5-4.8 2 1.8 1.7 2.6-.5 5zM1703.6 2235.2l.1-2.8 1.4-4 1.1-.4-1.3 4.6zM1502.3 1934.3l-.6-1.4 .3-1.7 .6 1.7zM1360.8 1933.1l-.3 .3-1.6 0-.9-.3-.9-.5 1.9 .1 1.4 .1zM1262.8 1937.4l-3.1-.9-3.5-2.3 1.1-1.2 3.3 1.9zM1607.8 2185.6l-1.1-.9 1-3.3 1.3-.2 1.2 .6-1.3 2.8zM1144.8 1941.7l2.5-.5 2.6-.3 2.1 .3-2.2 .5-2.8 .3zM1713.4 1973.6l-1.7-1.5-1.9-3.6-.9-2.3 .1-.9 1.9 2.1 1.9 3.9zM1331.8 1942.4l0-3.1 .8-3.5 .6 .6-.3 3.1zM1806.5 1912.8l-1.5-1.2-1.8-3.1 .8-.5 2.2 3zM1117.4 1986.9l-1.2-.7-.8-1-1.1-1.7 .8-.8 1.4 1.6 1.4 1.5zM1144 1910.9l-2.3-1.3-.8-5.8-.2-4.1 1.5-.2 2 3.1 .1 4.4zM1661.9 1928.3l-.9-1.7 1.3-3.3 1.1 1.3 .3 2.8zM1372.2 1920.8l2.2-3.5 5.8-5.6 .7 2.1-5.2 5.7zM1700.2 2145.1l-2.8 .8-4.8-.7-2.7-1.3 2.3-.9 5.4 .8zM1305.1 1909l.3-1.1 1.2-.7 .4 .4-.8 1zM1789.7 2015.4l-5.5-.2-5.3-1.3-3.4-2.1 3.5-.8 5.5 1.9zM1689.4 2108.5l.8-1.3 1.3-1 1.4-.4 .5 .5-1 1.2-1.5 1zM1758.2 2131.6l-2.8-1.3-1.2-7.6 1.9-2.1 2 2.8 1.6 5.3zM1531.5 2051.1l.8-1 1.9 .1-1.4 1.4zM1708.1 2200.4l1.1-.9 2.5-.9 .2 1-2.6 1.2zM1420.7 1908.8l1.2-1.6 1.7-.9 1.1 .8-2.1 1.4zM1682.8 2048.1l-1.7-.5-2.3-1.6-.5-1.6 1.8 .4 2.3 1.7zM1668.9 2015.6l-1.1 1.7-5.3 .1-2.1-1.8 1.8-2 4.9 .8zM1105.9 1951.5l-.3-.7 3.9-2.2 4.1-1.8-.2 1-3.3 2.2-3.3 1.6zM1218.2 1918.3l2.2-2.1 2.2-1.9 2.3-.6 .2 .8-1.8 1.5-2.8 2zM1644.9 1884.8l-1.9-.4-1.3-.9 1.7 0zM1669.3 2082.1l-1.2 .3-1.7-.5-.9-.7 1-.4 1.9 .5zM1809.9 2074.2l1.4-1.3 1.1-.3-.6 1zM1719.1 1987.9l1.3-2.5 1.9-1.6 1.3-.4-2.3 3.1zM1273.9 1962.3l-.7-3-.2-2.3 .6-3.5 1.7 .6 .6 2.9-.7 2.7zM1710.8 2087.8l-2.5-1.5-2.2-3.4 .1-1.4 3.6 3.6zM1832.4 1891.3l-2-2.1 2.3-4.7 2.3-2.8 1.9 2.5-2.2 5zM1401.4 2012.7l-1.8-.7-1.4-3.4 1-1.1 2 3.2zM1434.1 1951.4l-2.8-4.2-1.3-6.3 1.3-4.8 3 3.8 .2 5.8zM1562.1 1886.9l-3-2.8-3.3-6.8 .5-1.6 4 6.6zM1559.2 2064.3l-.2-4.1 1.2-5.3 1.2 0-.7 5.4zM1617.1 2027.5l-2.1 .6-5.4-3.1-1.1-2.4 2.8 0 5.9 2.8zM1742.3 2073.6l-1.5-1.5 1.8-4.5 2.1-2.9 .9 1.7 .4 2.4-1.7 4zM1305.8 1945.9l-5.4 1.4-6.5 .7-3.2-3.5 5.3-1.5 6.6-.6zM1598.5 1916.4l-.8 .1-1.4-1 .1-.4 1.5 .6zM1508.1 2025.6l.6-1.3 1.5-1.4 1.2-.6 1 0-1.2 1.6-2.1 1.8zM1568.7 2068.7l-2.3 .1-3.6-.6-1.8-1.2-.2-.9 2.7 .4 2.6 .9zM1707.6 1883.6l1.2-1 1.9-.6 1.5-.1 .1 .6-.9 .9-2.1 .2zM1283.8 1943.8l-2.5 .6-4-1.2-.3-1.2 .8-.9 3.6 1.1zM1468.3 1908.5l-.8-3.7 1-6 1.7-4.3 1 1.6 .6 3.2-1.6 4.7zM1262.1 2057.1l.6-1.6 3.1-3.7 2.4-.5 1.5 0-2.3 2.9-3.6 2.6zM1537.2 1968.7l.9-.5 2.1-.1 .7 .4-2.7 .4zM1634.2 2158.4l-1.4-.4-1.5-.8 .5-.1 1.2 .5zM1525.2 1971.2l1.1-1.9 2.3-2 1 .4-.4 1.2-2 1.8zM1704.1 2252.8l-.1-.7 1.5-1.6 1.7-1.1 0 .9-.9 1.3-1.6 1.6zM1627.1 2041.7l-1.3-1.3 0-2.4 .6-1.7 1.3 1.2 .2 2.4zM1806 2024.1l.8-2.9 1.5-3.2 1.8-1 .5 1.8-2.5 3.5zM1643.6 2050.1l1.2-.8 1.1-.2-.9 .7zM1783.2 2138.8l-2.1-1.6-2.2-3.7 1.8-1.6 3 4.3zM1555.9 2058.9l-.8-.9 2.1-4.8 3.1-5 1 1.4-2.2 5-1.9 4zM1285.6 1995.2l-.2-.6 2.4-1.3 1.8-.8 .9 .2-2.3 1.5-2.2 1.5zM1497.7 1917.6l-1.1-1.2 .3-2.6 .5-1.5 1.1-1.1 .1 2.6 .1 2.5zM1627.2 2013.8l.7-1.1 1.1-.3-.5 1.2zM1406.8 2050.5l1.6-1.7 4.2-1.8 2.6 .9 1.3 1.1-2.9 2.1-4.7 .3zM1226.2 1911.1l-.9-1.6-.7-2.4-.2-2.3 .5-.9 1 2.8 1 3.6zM1842.7 1896.5l-.3-1.4 .3-3 .7-1.3 .3 1.7-.4 2.4zM1473.6 2022.8l-2.3 .6-6.8-1.5 1.8-.8 4.9 .4zM1704.6 1996.5l-1.9-1.3-1.8-1.5-.4-1.7 .2-1.3 2 1.6 1.5 2.3zM1318.7 1960.7l-2.3-2.4-2.1-5.3-.4-2.9 .1-2.3 2.6 3.7 2 5.9zM1791.1 2105.3l-.8-1.1 .4-3 1-.5 .9 .6-.5 3.2zM1160.5 1907.2l-.5-.2-1.3-1.9 .1-.6 .6 .4 1 1.5zM1530.8 1941l-5.2-.2-4.3-3.7 .3-2.9 6.6 2.4zM1622.6 1915.4l-1.2-1.4-.2-2.8 1.1 .6 .8 1.7zM1126.6 1943l-3.8-3.1-.2-6.6 1.9-2.1 3.3-.1 .2 6.7zM1648.9 2208.6l-4.4-.2-4-5.1 2.3-1.6 6 2.3zM1710.5 2041.7l-.6-1 .5-1.8 .6 .5 .2 1.4zM1760.4 2140.8l-.9-1.2 .6-1.9 1-.9-.1 2.5zM1127.1 1914.9l-3.1 .5-7.2-1.6 .5-2 7.7 1.2zM1597.1 1916.6l-3 .7-1.4-5.7-.3-3.4 1.5-2.7 2.8 4.2 1.6 4.3zM1343.8 2014l-3.3-.7-3.1-3.7-.2-2.6 1-.9 2.3 1.1 2.9 3.2zM1329.8 1911.6l-.2-1 .6-2 .6-.8-.5 2.7zM1587.3 1901.8l-1.8-1-.9-6 1.1-2.6 1.5 3.3 .9 3.9zM1648.3 2115.5l-1.1 .3-1.8-.8-1-1 0-1 1.8 .2 1.8 1.2zM1452.2 2031.1l-1 1-3.5-3.5-1.1-2.2-.8-2.5 3.6 3.3 3.5 2.9zM1539.8 2039.1l1.1-2.5 2.7-3.3 1.9-.8-3.7 5.6zM1803 2044.7l.9-1.3 2-1.2 2.2-1.2-1.6 1.7-2.1 1.7zM1191.5 1954.1l-.5 .1-1.6-.7-1.2-.7 0-.3 1.3 .2 1.3 .9zM1311.9 1902.3l1.2-2 1.7-1.4 1.8-.7-.7 1.6-1.9 1.5zM1399.7 2022.4l-1-.6-1.5-2.5 0-1.8 1.5 1 1.2 2.8zM1398.3 1896.9l-1.6 .5-2-.7 2-.4zM1741.8 2071.1l1.2-1.2 2 0-1.5 1.5zM1188.5 1921.4l-3.6 .8-6.6-1.9-2.1-3.7 3.9-1.5 5.7 3.4zM1698.2 2285.1l0-1 1.7-1.1 .2 1-.9 1.3zM1104.4 1931l0-.8 .6-1.7 .7 .1-.6 2zM1809 2063.4l-2.2 .2-4.6-5.3-1.1-4.5 4.3 3.1 4.7 4.7zM1731.1 2022.8l-1.5-1.7-.4-5.6-.2-5.1 1.4-.9 1.3 5.3 .3 5.7zM1847.3 1877.7l-1.3 .3-2.3-.5-.8-1 1.2-.4 1.9 .8zM1757 1918.2l-1.1 .1-2.7-3.3-1.1-2.2 .4-.6 2.1 1.6 2.2 2.9zM1591.5 1962.1l-1-1.5 1.4-3.8 2-2.6 1 1.2-.2 2.6-1.5 2.6zM1640.4 2007.9l-2.1-.2-3.6-3.4 .5-2.6 2.7 .7 3.2 3.6zM1806.8 1912l-1.2 1-1.4-4.6-.9-3.9 1.6 .6 1.6 2.4 .9 3.3zM1798.8 1994.4l-1.5-.7-1.1-1.5 1.6 .9zM1790.6 1904.2l1.5-2.8 7.9-2.7 .4 3.2-7 3.7zM1783.9 1897.9l-1.2-.8-.1-2.8 1-1.9 1.3-.5 .7 2.5-.6 2.5zM1333.8 1953.2l1-3.5 2.8-4 1.4 2.2-1.9 4.1zM1829.3 2051.6l-2.1-1.2-1.9-1.2-1-2.1 .9-.7 1.9 1.3 2 2.1zM1630.7 2083.2l-2.3 .7-3.9-2-.9-1.7 1.5-1 3.8 2zM1523.9 1888.4l.9-1 2-.7-.1 1-1.4 .7zM1348.1 1900.4l2.9-3.8 3.3-3.3 3.6-1.4 1.6 .8-3.3 3.4-4.7 4zM1683.1 1933.4l-2.6-.7-1.7-4.3 2.3 0 1.9 2.4zM1773.7 1919.9l.7-5.4 3.4-4.9 3.4 .9-2.5 7.4zM1402.6 1987.9l.6-1.5 3.2-2.9 1.1 .3-3.4 3.7zM1629.4 2079.2l1.7-1.3 3.1-.3 3.4-.2 0 1.2-2.5 1.3-3.7 .1zM1742.5 2021.5l.8-1 1.4-.1-.9 1zM1688 1895.2l1.4-1 2.9-.3-.3 1-2.6 1.3zM1694.4 2209l2.8-1.6 6.1-1.5 3.9 2.6-4.7 2.2-6.3 .5zM1723.4 2243.7l-.2-2.1 1.4-3.7 .7 .8-.3 3.9zM1109.6 2002.2l-.9-2.4 1.6-5.2 .9 .4-.1 5zM1732.6 2175l.5-2.3 5.6-.5 2 1.3-1.2 2-4.5 .4zM1628.8 2196.9l-1.3-1.4-1.2-2.3 .2-.8 .8 0 1.4 2.9zM1302.7 1900.4l-1.8-3.8-.7-8.9 1.6 .5 1.1 7.2zM1626.8 2162.4l-1.8-1-.5-2.8 1.2-.9 1.4 2.6zM1750.5 1947.9l-1.7-1.8-1.6-3.1 1.3-1.1 1.9-.5 1.3 4.5zM1694.7 2130.6l-2.8 .3-3.3-.7-2.7-1.2 2.7-.5 3.5 .8zM1459.7 1916.1l1.1-1.6 2.6-1.7 .9 .7-2.8 2.2zM1801.5 2076.4l-2-2.3-2-3 .6-1.6 1.5 1.1 2.1 3.4zM1493.5 2031.4l.9-1.2 2.1-1.9 1 .3-.1 1-2.5 1.5zM1619 1982.5l-.9-1.7 4.5-2 3.5-.4 2.1 1.1-4.1 2.7-3.2 .7zM1157.6 1968l-.9-.1-1.3-.7-1.2-1.6 .9-.5 1.6 .8 1.3 1.3zM1518.3 1975.6l-.5-1.3 .3-2.6 1.4-1.9 .9 .9 .8 1.8-1.5 3.3zM1624.3 2069.6l.5-.5 1.8-.2 .8 .5 .5 .4-1.3 .5-1.8-.2zM1378.4 1958.3l.3-2.2 1.8-2 1.3 .2-1.5 2.8zM1631.3 2036.7l1.3-.6 1.8 .4-1.7 .8zM1689.2 2046.5l.8-.5 2.2 .1 0 .8-2 0zM1529.8 2016.9l.1-1.2 .7-1.5 .7-.7-.1 1-.6 1.3zM1712.1 1917.7l-1.2-1.3 .5-2.8 1.1-.5 .4 3zM1636.9 2064.4l-2.4 .9-5.5-2.5-2.9-2 .2-1.3 3.5 0 3.7 2.6zM1396.6 1905.5l-1.2-.2-.4-1.7 .6-.5 1.1 1.3zM1728.6 1915.1l.6-2.1 3.7-3.1 5-2.8-1.6 3.1-1.1 2.4-4.7 2.8zM1742.6 2058.3l-.6-2.1 1.6-4.6 3.3-3.4 .8 2.4-.2 3.2-2.8 5.4zM1715.6 2059.2l-2.3 .1-3.4-1.7 .7-.9 3 1.1zM1675.7 2169.2l-5.2-1.5-4.8-5.7 2.9-1 5.5 3.1zM1658.4 1950l-1.6-1-1.2-1.5 1.8 .9zM1733.5 2209.7l-.6 .7-1.6-.5-1.7-.8 1.5-.6 1.8 .5zM1691.9 2175.2l-1-.7-1-1.8 .6-.1 1 1.4zM1522.4 1928.8l.2-1.8 .7-1.3-.1 1.5zM1648 1960.7l-1-.7-1-1.2-.5-1.3 .5-.1 1 .8 .8 1.4zM1705.7 2282.7l-1.8-1.2-1.6-2.6 .5-.4 2.2 2.2zM1144.3 2016l2.5-3.6 5.6 .2 1.7 2.4-5.3 1.4z" fill="#1f7200"/>
<path d="M1687.7 195.7l10.4 .5 10.5 12.5 10.4 18.3-7.8 9.2-10.5 5.2-7.8-10.4-9.2-14.4 1.4-10.5z" fill="#00bc7b"/>
<path d="M1666.8 195.7l20.9 0 5.2 5.2-9.2 7.8 4 13.1 7.8 10.5-11.8-13.1-14.3-15.7zM1687.7 211.4l10.4-2.7 2.6 10.5-7.8 5.2z" fill="#1f7200"/>
<path d="M1708.6 196.2l13 .8 13.1 17 13.1 13-2.6 13.1 7.8 10.5 15.7 0 3.9 3.9-3.9 11.7-5.3 2.7-5.2-10.5-10.4-2.6-7.9-13.1-10.4-7.8-10.5-15.7-7.8-10.5z" fill="#00bc7b"/>
<path d="M1711.2 211.4l13.1 2.6 15.6 15.7-5.2 2.6-13.1-5.3-7.8-5.2zM1704.7 219.2l9.1-2.6 7.8 9.1-10.4 2.6zM1656.3 236.2l7.8-5.2 7.9 6.5 5.2 6.5 6.5-3.9 6.6 9.2 1.3 7.8 9.1 2.6-5.2 2.6-10.4-6.5-7.9-5.2-10.4-9.2z" fill="#1f7200"/>
<path d="M1703.3 263.6l15.7-11.7-3.9 11.7-3.9 7.9zM1726.9 253.2l7.8-3.9 1.3 6.5zM1742.5 259.7l10.5-3.9 7.8 7.8 7.9 13.1 5.2 7.8-2.6 3.9-7.9-7.8-5.2-11.7-10.4-5.3z" fill="#00bc7b"/>
<path d="M1742.5 258.4l7.9-1.3 7.8 9.1-7.8-1.3zM1614.5 275.4l13.1-7.9 14.3-5.2-2.6 9.2-1.3 11.7-7.8 3.9-7.9-2.6-3.9-5.2zM1602.7 305.4l7.9-13 9.1-7.9 7.9 6.6-5.3 10.4-10.4 10.5-6.6 2.6z" fill="#1f7200"/>
<path d="M1610.6 292.4l9.1-7.9 3.2 4.7-7.9 8.9z" fill="#00bc7b"/>
<path d="M1639.3 310.7l5.2-.8 1.4 7.3-5.3 .8z" fill="#1f7200"/>
<path d="M1695.5 284.5l13.1-3.9 15.7-6.5 6.5-3.9-3.9 10.4-5.3 9.2 13.1 6.5 15.7 3.9 26.1-1.3 31.4-1.3-1.3 10.4-6.6 7.9-18.3-1.3-18.3 1.3-13 2.6 7.8 10.5-5.2 3.9-10.5-11.8-7.8-5.2-10.4 2.6-10.5-10.5-5.2-5.2-10.5 0z" fill="#00bc7b"/>
<path d="M1694.2 289.8l9.1-5.3 7.9 10.5 7.8 7.8-2.6 10.5-10.4 11.7-10.5-9.1-3.9-7.9 3.9-10.4zM1729.5 307.5l20.9 1.6 26.1-2.4 26.1-2.3-2.6 4.7-23.5 .5-26.1 2.4-15.7 0z" fill="#1f7200"/>
<path d="M1682.4 321.1l6.6-5.2 6.5 13.1 2.6 5.2-9.1 9.1-5.3-6.5z" fill="#00bc7b"/>
<path d="M1690.3 315.9l15.7 10.4-15.7 17 7.8-9.1-5.2-11.8zM1679.8 322.4l7.9-6.5-2.6 10.4-1.4 20.9 6.6 13.1-2.6 0-5.3-18.3zM1729.5 319.8l-5.2 5.2-9.2 11.8-5.2 9.1 1.3-6.5 10.4-15.7z" fill="#1f7200"/>
<path d="M1771.3 331.6l18.3-4-1.3 6.6-13.1 3.9z" fill="#00bc7b"/>
<path d="M1614.5 331.6l10.4-.6 6.6 7.1 5.2 1.3-3.9 7.8-3.9 6.6-6.6-3.9-5.2-7.9z" fill="#1f7200"/>
<path d="M1591 349.9l10.4-1.3 15.7 11.7 13.1 18.3 10.4 7.8 7.9 2.7 10.4 15.6-9.1 17-11.8 1.3-10.4-7.8-13.1 10.4-6.5-2.6 9.1-10.4 7.8-15.7-5.2-13.1-10.4-10.4-10.5-13.1z" fill="#00bc7b"/>
<path d="M1593.6 351.2l10.4 2.6 7.9 9.1 7.8 13.1-10.4-7.8-10.5-10.5zM1624.9 399.5l10.5-7.8 10.5 5.2-2.7 15.7-13 1.3-7.9-6.5z" fill="#1f7200"/>
<path d="M1577.9 394.3l9.2-6.5 9.1 6.5 10.5 10.4 7.8 5.3-3.9 6.5-11.8-3.9-10.4-7.9z" fill="#00bc7b"/>
<path d="M1687.7 370.8l2.1 13 3.1 10.5-3.9 6.5-1.3 14.4" fill="none" stroke="#1f7200" stroke-width="2.5" stroke-linejoin="round" stroke-linecap="round"/>
<path d="M1686.4 386.4l5.2 2.7 1.3 6.5-4.7 5.2-2.6-5.2z" fill="#1f7200"/>
<path d="M1678.5 432.2l6.6-10.5 2 1.3-6 11.8zM1730.8 412.6l10.4-3.9-5.2 11.7z" fill="#2438ff"/>
<path d="M1713.8 402.1l10.5 7.9 7.8 1.3 18.3-6.6 26.1-10.4" fill="none" stroke="#1f7200" stroke-width="1.3" stroke-linejoin="round" stroke-linecap="round"/>
<path d="M1721.6 430.9l7.9-3.9 10.4 1.3 1.3 10.4-5.2 5.2-6.5-6.5z" fill="#1f7200"/>
<path d="M1736 443.9l1.3 13.1" fill="none" stroke="#1f7200" stroke-width="1.5" stroke-linejoin="round" stroke-linecap="round"/>
<path d="M1734.7 453.1l4.7-1.3-2.1 6.5z" fill="#2438ff"/>
<path d="M1438.9 457.5l2.6-3.6 4.2 .5 1.5 4.2-3.1 3.6-4.2-1zM1486.4 415.2l5.3 7.8 5.2-2.6 10.5 3.9 3.9 6.6-3.9 10.4 2.6 10.5 6.5 5.2 1.3 5.2-3.9 2.6-6.5-7.8-5.3-10.4 0-10.5-7.8-7.8-6.5-1.3zM1513.9 464.8l6.5 5.3 7.9 5.2 2.6 7.8 7.8 5.3-1.3 5.2-9.1-1.3-5.3 5.2 7.9 7.8 7.8 11.8 2.6 10.5 0 7.8-6.5-2.6 0-13.1-6.5-10.4-10.5-5.3-5.2-5.2 2.6-5.2 9.1-3.9 0-6.6-6.5-7.8z" fill="#1f7200"/>
<path d="M1572.7 451.8l10.4 7.8 10.5-3.9-5.2 7.8-10.5 1.3z" fill="#00bc7b"/>
<path d="M1554.4 451.8l13.1 9.1 13 2.6 13.1-7.8 23.5-1.3 1.3-13.1" fill="none" stroke="#1f7200" stroke-width="1.8" stroke-linejoin="round" stroke-linecap="round"/>
<path d="M1598.8 441.3l6.5-2.1 .8 5.3-5.2 1.5zM1615.8 438.7l6.5-.5-1.3 3.6zM1577.9 463.5l10.5 1.3 9.1 13.1-5.2-1.3z" fill="#1f7200"/>
<path d="M1551.8 475.3l18.3 11.8-6.6 6.5-9.1 7.8-10.5 7.9-5.2-2.6 5.2-13.1z" fill="#00bc7b"/>
<path d="M1543.9 493.6l13.1 2.6-7.8 13.1-10.5 6.5-2.6-9.1z" fill="#1f7200"/>
<path d="M1623.6 464.8l5.3 2.7 5.2 15.6 .8 11.8-3.4-1.3-1.3-13.1z" fill="#00bc7b"/>
<path d="M1754.3 483.1l3.9 1.3 5.2 19.6-2.6 2.7-3.9-10.5zM1754.3 517.1l3.4-6.5 1 2.6-2.6 6z" fill="#2438ff"/>
<path d="M1630.2 528.9l18.3-18.3 7.8 3.9 15.7 13.1 15.7 13 10.4 5.3 7.9 10.4-2.7 6.5-10.4 0-5.2-9.1-15.7-7.8-7.9-5.3-15.6 9.2-7.9-6.6z" fill="#1f7200"/>
<path d="M1644.5 513.2l4-4.5 7.8 5.8z" fill="#00bc7b"/>
<path d="M1611.9 548.5l10.4-9.2 14.4 7.9-9.1 7.8-10.5-2.6zM1608 517.1l9.1-5.2 3.9 5.2-6.5 7.8-5.2 0z" fill="#1f7200"/>
<path d="M1613.2 531.5l6.5-1.3-.5 3.1-5.2 .8z" fill="#2438ff"/>
<path d="M1534.8 540.6l9.1-3.9 23.6 1.3 13-1.3-2.6 6.5-13.1 2.7-7.8 10.4 3.9 10.5-6.5 7.8-7.8 5.2-5.3 7.9 2.6 10.4-2.6 6-10.4 0 1.3-11.2-7.9-10.5 2.7-10.4 3.9-10.5-7.9-5.2 6.6-10.4z" fill="#1f7200"/>
<path d="M1567.5 545.9l11.7-5.3 2.6 7.9-11.7 1.3zM1554.4 556.3l7.8 7.8-5.2 7.9-3.9-5.2z" fill="#00bc7b"/>
<path d="M1460.3 566.2l15.7 8.4-2.6 20.9-10.5-2.6-7.3-7.8z" fill="#1f7200"/>
<path d="M1439.4 543.2l5.2-1.3 5.3 7.9-4 1.8zM1437.3 474l6 1.3-1.8 2.6z" fill="#2438ff"/>
<path d="M1683.7 586.4l9.2-1.9 5.2 8.4-10.4 7.8-10.5-2.6zM1368.9 519.7l15.6 2.6 5.3 5.3-5.3 13 2.6 13.1-3.9 10.4-2.6-18.2-2.6-15.7z" fill="#1f7200"/>
<path d="M1379.1 533.8l-.6-.6 .9-1.9 .8-1 1-.5-.3 1.9-.9 2zM1384.3 562.9l-.6 .2-.8-.5 .3-.6 1 .3zM1382 529.5l1.3-.8 1.5 .6-1.4 1zM1385.6 550.2l-1.4 .4-1.3-1 1.1-1 1.3 .1zM1384 532.9l-.9-1.3 1.1-1.1 .5 1.3zM1382.2 560.4l.6-.8 .8 .1 .4 .6-.9 .4zM1378.7 523.5l-.6-1.9 2.1 0 .5 2.2zM1377.6 525.5l0-1 1-1.1 0 1.6zM1386.4 547.2l-1.2 .2-.8-1.3 1.5 .1zM1382.6 562.2l.2-.8 1-.3-.3 1zM1379.9 523l.1-.8 .7-.2-.1 .8zM1371.8 523.2l.2-1.1 1 .4-.1 1zM1385.4 550.2l-1.7-.6-.1-1.6 1.1-.4 1.6 .8zM1380.4 526.5l1.3-1.2 1.4-.3 1.8-.1-.3 1.3-.8 1.3-1.9-.3zM1384.5 538.2l-.7-.5 .2-1 .7 .6zM1387.2 528.9l.6-1.2 1.9-.7-.1 1.4-1.1 1.3zM1382 528.5l-1 0-.8-.6 .3-.5 1.1 .1zM1379.7 546.8l.1-1.2 1.3-1.5 .2 .9-.5 1.4z" fill="#ffebbe"/>
<path d="M1447.2 451.8l15.7-10.5 15.7-5.2 7.8-9.1" fill="none" stroke="#1f7200" stroke-width="1.5" stroke-linejoin="round" stroke-linecap="round"/>
<path d="M1447.2 451.8l15.7-10.5" fill="none" stroke="#2438ff" stroke-width="1.5" stroke-linejoin="round" stroke-linecap="round"/>
<path d="M1527 378.6l1.3 18.3 10.4 13.1 7.9 15.6 5.2 15.7 5.2 10.5M1551.8 362.9l10.4 10.5 13.1 13" fill="none" stroke="#1f7200" stroke-width="1.2" stroke-linejoin="round" stroke-linecap="round"/>
<path d="M1541.3 538l26.2-1.3 26.1-3.9 18.3-1.3 15.7-2.6" fill="none" stroke="#1f7200" stroke-width="1.3" stroke-linejoin="round" stroke-linecap="round"/>
<path d="M1483.8 577.2l13.1 7.9 13.1 2.6 15.6-4" fill="none" stroke="#1f7200" stroke-width="1.5" stroke-linejoin="round" stroke-linecap="round"/>
<path d="M1666.8 572l10.4 15.7 10.5 7.8" fill="none" stroke="#1f7200" stroke-width="1.3" stroke-linejoin="round" stroke-linecap="round"/>
<path d="M1753 331.6l13.1 15.6 10.4 10.5" fill="none" stroke="#1f7200" stroke-width="1.2" stroke-linejoin="round" stroke-linecap="round"/>
<path d="M1792.2 347.2l1.3 15.7-3.9 15.7-5.2 10.5-1.4 10.4" fill="none" stroke="#1f7200" stroke-width="2.0" stroke-linejoin="round" stroke-linecap="round"/>
<path d="M1384.5 566.8l5.3 15.6-2.7 15.7" fill="none" stroke="#1f7200" stroke-width="1.5" stroke-linejoin="round" stroke-linecap="round"/>
<path d="M918.3 777.8l9.1-3.9 9.2 13-1.3 10.5-10.5-6.6zM1103.8 739.9l20.9-2.6 4 5.2 9.1 1.3-1.3 3.4-17 1.8-2.6 11.8 5.2 23.5-6.5 1.3-3.9-14.4-9.2-2.6-5.2-7.8 9.1-7.8zM1073.8 801.3l10.4-7.8 4 7.8-7.9 1.8zM1147 681.1l5.2-10.5 6.5 9.2-.5 10.4-.8 17 3.9 7.9 10.5 3.9-5.2 6.5-11.8-1.3-7.8-1.3-.8-14.4 4.7-13-3.9-7.9zM1129.4 696.8l4.5 1.3 2.6 10.4-5.2-1.3zM1077.7 766l5.2-2.1 2.1 6-4.2 2.7z" fill="#1f7200"/>
<path d="M1194 733.4l19.6-6.6 13.1 27.5-14.4-2.7-11.8-3.9-5.2-7.8-1.3-6.5" fill="none" stroke="#1f7200" stroke-width="5.5" stroke-linejoin="round" stroke-linecap="round"/>
<path d="M1191.4 732l22.2-7.3 3.9 7.3-17 6.6-5.2 5.2zM1297.2 694.2l5.2-1.3 41.9 24.8-2.7 13-43.1-23.5zM1315.5 738.6l13.1 1.3-10.5 27.4-8.3-2.6zM1252.8 779.1l20.9-13.1 15.7-1.3 3.9 5.2-1.3 11.8-10.5 6.5-10.4-6.5-13.1 5.2zM1237.1 797.4l14.4-1.3 9.1-9.2 10.5-2.6 11.7 5.2 12.3 30.1-18.8 6.5-2.6 14.4-5.2-1.3-5.3-10.5 1.3-10.4-14.3-7.9-10.5-2.6zM1365.2 766.5l31.3 7.4-13.1 33.9-6.5 2.6-6.5 2.7-1.3 41.8 5.2 13 2.6 10.5-2.6 24.8-39.2-9.1 1.3-31.4-3.9-23.5-10.5-18.3-.7-14.4 24.3-9.1 9.1-15.7zM1180.9 808.4l17 .7 2.6 9.2 9.2 1.3 1.3 4.7 9.1 0-3.1 24.6-40-4zM1180.9 928l30.1-3.1 15.7 4.4 19.6 6.6-6.6 26.1-2.6 6.5 9.2 4-14.4 11.7-31.4-3.9-19.6-5.2-19.6-11.8-3.9-18.3 7.1-1.8 .7-9.9zM1431.8 919.7l68.2 11 0 52.2-19.9 3.9-1.3 9.2-9.1 11.7-2.6 1.4 7.8-15.7-15.7-7.9-20.9-7.8-20.9-2.6-3.9-10.5 6.5-2.6 4-23.5zM1039.8 847l45.7 14.4-1.3 2.6-44.4-13zM1255.4 870.6l3.9-1.4 1.3 19.6-6.5 2.7-1.8-5.3zM1264.5 856.2l4-1.3 2.6 13 5.2 7.9 1.3 10.4-5.2-5.2-5.2-10.4zM1147 781.7l7.8 2.6 6.5 5.2 10.5-5.2 9.1-2.6-6.5 5.2-10.5 5.3-2.6 13-6.5 1.3 1.3-11.7-3.9-7.9z" fill="#1f7200"/>
<path d="M1187.5 729.4l7.8 13.1 1.3 18.3-6.5 13.1-7.9 7.8" fill="none" stroke="#1f7200" stroke-width="3" stroke-linejoin="round" stroke-linecap="round"/>
<path d="M1028 815.7l7.9 10.4 20.9 5.3 23.5 7.8 15.7 10.4 5.2 11.8" fill="none" stroke="#1f7200" stroke-width="2.5" stroke-linejoin="round" stroke-linecap="round"/>
<path d="M1098.6 852.3l10.5-1.3 20.9 6.5 6.5 5.2 6.5 15.7-2.6 7.8-6.5 7.9" fill="none" stroke="#1f7200" stroke-width="2" stroke-linejoin="round" stroke-linecap="round"/>
<path d="M1096 851l6.5-1.4 2.6 9.2-4.4 2.6z" fill="#1f7200"/>
<path d="M1033.3 909.7l3.9 13.1 9.1 14.4" fill="none" stroke="#1f7200" stroke-width="2.5" stroke-linejoin="round" stroke-linecap="round"/>
<path d="M1054.2 943.7l13 13.1 13.1 13.1 10.5 15.6 10.4 15.7 3.9 15.7" fill="none" stroke="#1f7200" stroke-width="2" stroke-linejoin="round" stroke-linecap="round"/>
<path d="M1097.3 996l5.2 2.6 3.9 13.1-3.9 0z" fill="#1f7200"/>
<path d="M1154.8 806.5l-3.9 17-5.3 15.7-9.1 15.7" fill="none" stroke="#1f7200" stroke-width="1.8" stroke-linejoin="round" stroke-linecap="round"/>
<path d="M1197.9 771.2l6.5 7.9-1.3 15.7" fill="none" stroke="#1f7200" stroke-width="2.5" stroke-linejoin="round" stroke-linecap="round"/>
<path d="M1204.4 779.1l11.8-2.6 10.5-5.3 1.3 15.7 2.6 10.5 6.5 1.3" fill="none" stroke="#1f7200" stroke-width="3" stroke-linejoin="round" stroke-linecap="round"/>
<path d="M1222.7 802.6l1.3 18.3" fill="none" stroke="#1f7200" stroke-width="2" stroke-linejoin="round" stroke-linecap="round"/>
<path d="M1250.2 768.6l1.3-10.4 10.4-13.1 5.3 10.5 3.9 9.1" fill="none" stroke="#1f7200" stroke-width="1.3" stroke-linejoin="round" stroke-linecap="round"/>
<path d="M1150.9 758.2l15.7-3.9 15.6-4 10.5-2.6" fill="none" stroke="#1f7200" stroke-width="1.5" stroke-linejoin="round" stroke-linecap="round"/>
<path d="M1158.7 739.9l7.9-13.1 5.2-5.2" fill="none" stroke="#1f7200" stroke-width="2" stroke-linejoin="round" stroke-linecap="round"/>
<path d="M1130 912.4l2.6 13 3.9 7.9" fill="none" stroke="#1f7200" stroke-width="1.8" stroke-linejoin="round" stroke-linecap="round"/>
<path d="M1278.9 901.9l5.2 7.8-1.3 10.5-3.9 13.1-6.5 7.8 0 15.7M1442.2 909.7l17 4 15.7-1.3 13.1 7.8 12 2.6M1474.9 894.1l-1.3 18.3" fill="none" stroke="#1f7200" stroke-width="2" stroke-linejoin="round" stroke-linecap="round"/>
<path d="M1220.1 694.2l6.6-1.9 7.8 5.8-1.3 6.5-9.2 1.8-4.7-4.4zM1242.3 712.4l7.9 1.4 10.4 7.8 2.6 5.2-10.4-3.9-5.2-3.9zM1208.4 703.3l5.2-1.3-1.3 3.9zM1276.3 728.1l6.5 1.3 1.3 3.2zM1425.3 738.6l5.2 0 2.6 11.7 9.1 1.3-9.1 5.3-7.8 9.1-6.6 10.5 1.3 10.4-3.9 10.5-4.4-6.6 3.1-14.3 6.5-15.7zM1387.4 618.4l6.5 0 1.3 11.7 17 10.5 3.9 15.7 6.5 9.1-2.6 1.3-7.8-7.8-2.6-15.7-15.7-7.8-5.2-7.9zM1422.6 698.1l4 1.3 6.5 14.4-1.3 5.2-6.5-10.5zM1408.3 817l5.2-1.3 0 13-5.2 5.3 1.3-10.5zM1170.5 887.5l6.5-3.9 6.5 10.5-6.5-4zM1183.5 909.7l3.4-6.5 1.1 3.9-2.6 4.7zM1135.2 945l3.1-.5 0 7.1-2.6-.6zM1234 783l4.4-.8-.8 3.4zM1315.5 679.8l3.9 .5 2.6 7.3-2.6-.5z" fill="#2438ff"/>
<path d="M1067.2 960.7l10.5 6.5" fill="none" stroke="#2438ff" stroke-width="2" stroke-linejoin="round" stroke-linecap="round"/>
<path d="M1425.3 669.3l2.6 15.7 5.2 7.9" fill="none" stroke="#1f7200" stroke-width="3" stroke-linejoin="round" stroke-linecap="round"/>
<path d="M1440.9 719l15.7-10.5 13.1-5.7-7.9 5.7-15.6 9.2zM1433.1 671.9l14.4-7.8 1.3 2.6-13.1 7.9zM1433.1 732l15.7-1.3 6.5 4-9.1 1.3zM1479.6 746.4l20.4 0 0 9.2-21.2 1.3zM1264.5 976.4l11.8 3.9 10.5 7.8 3.9 7.9 6.5-2.6 20.9-6.6-18.3 11.8-2.6 13.1 1.3 16.4-3.9 0-1.3-21.7-3.9-7.8-13.1-13.1zM1326 975.1l6.5-1.3 1.3 7.8-5.2 9.2-2.6-6.6zM1390 963.3l5.2-1.3 1.3 7.9-5.2 0zM1396.5 980.3l13.1 1.3 2.6 5.2-10.5 1.3zM1404.4 965.9l14.3-2.6-2.6 6.6-9.1 0z" fill="#1f7200"/>
<path d="M1229.3 994.7l15.6 1.3 5.3 15.7-1.3 16.4" fill="none" stroke="#1f7200" stroke-width="2.5" stroke-linejoin="round" stroke-linecap="round"/>
<path d="M1315.5 1009.1l13.1-1.4 13 6.6 10.5-3.9 13.1 5.2-10.5 3.9-5.2 8.6-7.9 0-2.6-8.6-15.7-5.2zM1244.9 1028.1l4-13.8 2.6 13.8z" fill="#00bc7b"/>
<path d="M919.6 990.8l6.5 5.2 2.6 5.2-5.2 3.9-3.9-6.5zM975.8 967.2l7.8 7.9 15.7 1.3 13.1-5.2-7.9 9.1-18.3 1.3-6.5-6.5z" fill="#1f7200"/>
<path d="M1015 988.1l3.9 13.1 2.6 7.9" fill="none" stroke="#1f7200" stroke-width="1.5" stroke-linejoin="round" stroke-linecap="round"/>
<path d="M935.3 1018.2l7.8-1.3-1.3 7.8-5.2-1.3z" fill="#1f7200"/>
<path d="M1333.8 648.4l10.5 7.9 5.2 15.6 10.4 10.5M1299.8 682.4l10.5-5.2 7.8 2.6M1339 692.9l10.5-5.3 10.4 2.6M1344.3 703.3l10.4-7.8" fill="none" stroke="#1f7200" stroke-width="1.3" stroke-linejoin="round" stroke-linecap="round"/>
<path d="M1474.9 666.7l7.9-7.8 7.8 5.2 5.2-7.8M1472.3 670.6l9.1-6.5" fill="none" stroke="#1f7200" stroke-width="1.5" stroke-linejoin="round" stroke-linecap="round"/>
<path d="M1341.6 729.4l2.7 10.5-4 5.2" fill="none" stroke="#1f7200" stroke-width="2" stroke-linejoin="round" stroke-linecap="round"/>
<path d="M1400 635.4l10.5 3.9 3.9 6.5-1.3 10.5 5.2 9.1-2.6 1.3-5.2-9.1-1.4-11.8-9.1-5.2zM1423 698.1l4.4 1.3 6.6 14.4-.6 5.2-7.3-10.5zM1409.1 817l5.3 1.3 0 10.4-6.6 7.9 2.7-10.5z" fill="#2438ff"/>
<path d="M1407.8 836.6l-1.3 2.6 2.6 1.3" fill="none" stroke="#2438ff" stroke-width="1.5" stroke-linejoin="round" stroke-linecap="round"/>
<path d="M1503.2 671.9l9.2-26.1 15.6-18.3 7.9 2.6-5.2 26.2 12.5 10.4-17.8 13.1-9.1 9.1-3.9-3.9 2.6-11.7z" fill="#00bc7b"/>
<path d="M1512.4 645.8l15.6-17 18.3 1.3 9.2-1.3-1.3 9.2-7.9 7.8-10.4 2.6-5.2 7.9 5.2 10.4-13.1 10.5-6.5 7.8 3.9-15.7 7.8-10.4-5.2-10.5zM1525.4 609.2l7.9-5.2 9.1 1.3-6.5 11.8 2.6 7.8-7.8 2.6 1.3-10.4zM1575.1 635.4l7.8-5.3 15.7-1.3 15.7-1.3 1.3 9.2-17 6.5-15.7 3.9-7.8-1.3z" fill="#1f7200"/>
<path d="M1594.7 630.1l14.4-2.1-2.7 3.4-9.1 1.9z" fill="#00bc7b"/>
<path d="M1564.6 604l7.9 1.3 5.2 5.2-7.8-1.3z" fill="#1f7200"/>
<path d="M1554.2 638l5.2 5.2 13.1 0 5.2 13.1 2.6 7.8" fill="none" stroke="#1f7200" stroke-width="4" stroke-linejoin="round" stroke-linecap="round"/>
<path d="M1572.5 669.3l10.4-2.6-2.6-10.4 7.9-2.6-1.4 10.4 9.2 1.3 13.1 2.6 2.6 9.2 10.4-5.3 7.9 1.4 6.5 9.1-3.9 10.5-2.6 7.8-5.3-10.5 2.7-10.4-7.9-1.3-7.8 3.9-7.9-7.8-10.4-1.3 1.3 9.1-6.5 3.9-2.7-11.7-7.8-2.7z" fill="#1f7200"/>
<path d="M1636.5 682.4l9.1-5.2 18.3 7.8-2.6 18.3 10.5 0 13 5.2 11.8-1.3-11.8 6.6-15.6 0-10.5 2.6-10.4 3.9-9.2-3.9-3.9-13.1-2.6-10.4z" fill="#00bc7b"/>
<path d="M1630 690.2l6.5-7.8 6.5 10.5 7.9 7.8-6.6 13.1 4 6.5 13-5.2 10.5 3.9-7.9 6.5-10.4-3.9-6.5 5.2-7.9-1.3-2.6-9.1-5.2-13.1zM1671.8 719l13-5.2 11.8-6.6 9.1-1.3-10.4 5.2-9.2 9.2-9.1 1.3z" fill="#1f7200"/>
<path d="M1588.2 677.2l5.2 5.2-5.2 5.2-4 15.7-3.9 15.7-5.2 15.7 2.6 5.2" fill="none" stroke="#1f7200" stroke-width="3" stroke-linejoin="round" stroke-linecap="round"/>
<path d="M1580.3 690.2l5.2-5.2 .6 11.8z" fill="#00bc7b"/>
<path d="M1575.6 745.1l4.2 0 .5 15.7-2.6-1.3z" fill="#2438ff"/>
<path d="M1575.6 776.5l7.3-9.2 5.3 1.3-4 6.6-5.2 2.6zM1478.4 755.6l5.2-10.5 10.5 1.3 1.3 6.6 17-2.7 1.3 4-14.4 .7-19.6 1.9zM1431.4 732l10.4-1.3 14.4 4-3.9 2.6-13.1-3.2zM1708.4 630.1l7.8-11.7 7.8-1.3-3.9 11.7zM1701.8 635.4l20.9-4-5.2 20.9zM1669.2 652.3l5.2-3.9 2.6 10.5-3.9 7.8-2.6-6.5z" fill="#1f7200"/>
<path d="M1657.4 649.7l3.9-9.1 0 9.1zM1679.6 658.4l4.7-.8-1.5 4.4zM1729.8 624.9l2.6-.5 .8 7.8-2.6 0zM1648.3 675.9l5.2-4-1.3 4z" fill="#2438ff"/>
<path d="M1658.7 622.3l1.3 18.3-2.6 15.7-3.9 15.6" fill="none" stroke="#1f7200" stroke-width="1.3" stroke-linejoin="round" stroke-linecap="round"/>
<path d="M1641.7 951.6l20.9-21.5 2.6 2.6-18.2 21zM1694 920.2l19.6-11.8 6.5 1.3 3.9-7.8 7.9 0-7.9 3.9-6.5 7.9-20.9 9.6zM1692.2 790.8l4.4-.7-.8 4.7-3.1 0zM1610.4 843.1l5.2 1.3-1.3 2.6zM1687.5 884.9l3.9-.8-.8 4.2zM1610.4 933.8l5.2 2.1-1.3 2.1zM1601.2 781.2l5.2 .5-1.3 2.6zM1453.6 617.1l7.8 1.3-6.5 2.6zM1633.9 730.7l2.6-.5-.5 4.5z" fill="#2438ff"/>
<path d="M1645.6 968.5l5.3-3.9 18.8 13.1-4.5 9.9-10.4-7.3zM1660 964.6l3.9-7.3 18.3 3.4-2.1 11.2zM1430.1 919.7l66.6 11 3.9 5.2-2.6 18.3 3.9 18.3-3.9 7.8-14.4 3.9-5.2 11.8-7.8 10.4-2.7 1.3 7.9-14.3-15.7-6.6-20.9-6.5-20.9-2.6-5.2-9.2-9.2-1.3 10.5-3.9 7.8-2.6 2.6-20.9z" fill="#1f7200"/>
<path d="M1441.8 908.4l10.5 5.3 13-1.3 10.5-18.3M1465.3 912.4l13.1 3.9 15.7 5.2 6.5-6.5M1496.7 924.1l7.8 10.5 20.9 3.9" fill="none" stroke="#1f7200" stroke-width="2.5" stroke-linejoin="round" stroke-linecap="round"/>
<path d="M1609.1 1024.7l13-5.2 32.7-5.7 1.3 8.3-47 6z" fill="#00bc7b"/>
<path d="M1609.1 1025.3l26.1-5.8 19.6-2.6 1.3 11.2-47 0zM1522.8 1003.8l6.6-1.3 0 7.9-6.6 0zM1586.8 980.3l5.3-1.3-2.6 7.8z" fill="#1f7200"/>
<path d="M1724 665.4l-3.9 9.2-6.5 13-3.9 9.2M1709.7 696.8l6.5 1.3 13.1 3.9 6.5 1.3" fill="none" stroke="#1f7200" stroke-width="3" stroke-linejoin="round" stroke-linecap="round"/>
<path d="M1707.1 750.3l6.5 2.7-1.3 13-3.9 3.9-4-10.4z" fill="#1f7200"/>
<path d="M1682.2 728.1l7.9 6.6 10.4 7.8 7.9 7.8" fill="none" stroke="#1f7200" stroke-width="2.5" stroke-linejoin="round" stroke-linecap="round"/>
<path d="M1722.7 726.8l4-1.3-1.4 9.2-3.3 2.6z" fill="#1f7200"/>
<path d="M1525.4 976.4l2.6 11.7 7.9-1.3 10.4 4" fill="none" stroke="#1f7200" stroke-width="2.5" stroke-linejoin="round" stroke-linecap="round"/>
<path d="M1499.3 986.8l5.2-1.3-.5 5.3-4.2 .5z" fill="#1f7200"/>
<path d="M1507.1 1006.4l7.9 7.9 5.2 5.2" fill="none" stroke="#1f7200" stroke-width="3" stroke-linejoin="round" stroke-linecap="round"/>
<path d="M1400 980.3l10.5 1.3 1.3 6.5-9.2-1.3z" fill="#1f7200"/>
<path d="M1630 954.2l5.2 3.9-5.2 9.1" fill="none" stroke="#1f7200" stroke-width="2" stroke-linejoin="round" stroke-linecap="round"/>
<path d="M1624.7 760.8l1.3 5.2 4-7.8M1631.3 739.9l-1.3 6.5 5.2 7.9M1452.3 755.6l3.9 10.4 3.9 10.5 3.9 7.8" fill="none" stroke="#1f7200" stroke-width="1.5" stroke-linejoin="round" stroke-linecap="round"/>
<path d="M1441.8 719l18.3-10.5 9.2-5.7" fill="none" stroke="#1f7200" stroke-width="2.5" stroke-linejoin="round" stroke-linecap="round"/>
<path d="M1423.5 666.7l2.6 15.7 7.9 10.5" fill="none" stroke="#1f7200" stroke-width="3" stroke-linejoin="round" stroke-linecap="round"/>
<path d="M1434 671.9l14.3-6.5" fill="none" stroke="#1f7200" stroke-width="2" stroke-linejoin="round" stroke-linecap="round"/>
<path d="M1475.8 671.9l7.8-10.4 7.9-5.2" fill="none" stroke="#1f7200" stroke-width="1.5" stroke-linejoin="round" stroke-linecap="round"/>
<path d="M1478.4 666.7l10.5-1.3" fill="none" stroke="#1f7200" stroke-width="1.2" stroke-linejoin="round" stroke-linecap="round"/>
<path d="M1564.6 797.4l2.6 5.2-3.9 6.5" fill="none" stroke="#1f7200" stroke-width="1.5" stroke-linejoin="round" stroke-linecap="round"/>
<path d="M1598.6 894.1l2.6 10.4" fill="none" stroke="#1f7200" stroke-width="1.2" stroke-linejoin="round" stroke-linecap="round"/>
<path d="M1680.9 898l2.6 10.4M1636.5 891.5l9.1 2.6" fill="none" stroke="#1f7200" stroke-width="1.5" stroke-linejoin="round" stroke-linecap="round"/>
<path d="M904 1205.7l7.9-7.8 0-10.5 17-5.2 18.2-10.5 4-7.8-2.7-3.9 22.3-14.9 23.5 .5 24.8 3.1-5.2 8.7-1.3 6.5-10.5 5.2 1.3 6.5-3.9 4 7.8 5.2 10.5 2.6 10.5-3.9 2.6 11.7 1.3 13.1-3.9 11.8-5.3 2.6-5.2-3.9-15.7 2.6-7.8-7.9-11.8-1.3-11.7 4-9.2 4.7-6.5-.8-5.2-6-5.3 .7-3.9 5.3-7.8 3.4-14.4-.8-6.5-2.6zM1053 1208.3l3.9-13.1 5.2-15.6 5.3-2.6 5.2 7.8-1.3 13.1-1.3 10.4-7.9 2.6zM930.2 1290.6l1.3-10.4 9.1 2.6 1.3-9.2 13.1-3.9 10.4 2.6 4 6.6-4 6.5-13 3.9zM983.7 1239.7l5.3-13.1 5.2-5.2 9.1 1.3 3.9 6.5-7.8 7.9-7.8-2.7zM1132.7 1174.3l5.2-7.8-1.3-9.1 7.8-1.4 2.7 7.9-2.7 7.8 5.3 3.9 22.2 .8-3.9 8.4-7.9 7.8-11.7 2.1-6.6-9.9-7.8-5.2z" fill="#1f7200"/>
<path d="M1326.1 1111.6l9.1-5.2 0 26.1 11.8 9.2 15.6-3.9 5.3 6.5-34-6.5z" fill="#00bc7b"/>
<path d="M1331.3 1106.4l6.5-13.1 7.9-18.3 7.8-6.5 19.6-1.3 14.4 0-3.9 20.9-6.6 23.5-6.5 20.9-3.9 10.5-6.6-5.2-15.6 3.9-10.5-9.2-1.3-13z" fill="#1f7200"/>
<path d="M1387.5 1067.2l3.9-13.1 2.6-10.4" fill="none" stroke="#00bc7b" stroke-width="2" stroke-linejoin="round" stroke-linecap="round"/>
<path d="M1243.7 1167.8l2.7-14.4 9.1-13 10.5-9.2 7.8-1.3 10.5 5.2 9.1-3.9-3.9 6.6-1.3 10.4 3.9 10.5 4.7 7.8-7.3 10.5-7.9 3.9-7.8-9.2-5.2-1.3-13.1 7.9-9.1-4z" fill="#00bc7b"/>
<path d="M1271.2 1163.9l10.4-7.9 9.2-1.3 6 11.8-7.3 10.5-7.9 3.9-7.8-9.2zM1254.4 1156.1l2.3-2.8 3-.9 .3 1.9-2.1 2.1zM1253.5 1158.8l-.4 .6-1.5-.2 .2-.8 1.3-.2zM1254.5 1164.7l-1.3 1.1-1.9-.9 .9-1.6 1.5 .1zM1256 1160.6l-.4-1.1 .5-1.3 .7 .2-.1 1.3zM1251.2 1158.6l-1.2 1.5-2.7-.7-.5-2.1 1.7-1 2.1 .7zM1256.4 1158.7l-1.8 .1-.2-1.5 1.3-.2zM1258.2 1160.5l-.1-2.1 1.9-.2 .4 2.1zM1254.1 1168.1l-2.2 1.3-2.4-2.3-1.2-3.2 2-2.6 3 2.5 2.7 2.3z" fill="#1f7200"/>
<path d="M1264.7 1235.8l9.1-6.6 20.9 3.9 20.9 4-1.3-18.3 3.9 7.8 6.6 15.7-1.4 10.4-13-2.6-15.7-5.2-15.7-3.9-10.4 3.9z" fill="#00bc7b"/>
<path d="M1281.6 1234.4l15.7 2.7 7.9 7.8-15.7-1.3z" fill="#1f7200"/>
<path d="M1288.1 1237.7l-.9-.5 .6-1 .8 .8zM1299.7 1241.1l-.2-.6 .8-.5 .3 .4-.4 .6zM1301.9 1241.4l-1.4 .6-1.7-.5 .7-1.7 1.7 .1zM1299.8 1244.7l-.1-2.1 1.4-1.9 .8 .9-.5 1.7zM1290.2 1237.6l-.8-.2-1-.5 .3-.4 1 .5zM1296.1 1239.4l.5-1.7 1.6 .3 .5 1.1-1 1.4zM1299 1243.9l.7-.7 1.3 .2-.1 1-1.3 .2z" fill="#ffebbe"/>
<path d="M1292.1 1258l7.8-2.6 1.3 9.1 10.5 2.6 0 3.9-11.8 0-6.5-6.5z" fill="#00bc7b"/>
<path d="M1272.5 1199.2l-3.9 9.1-3.9 13.1 1.3 15.7 1.3 18.3 0 15.6" fill="none" stroke="#00bc7b" stroke-width="1.5" stroke-linejoin="round" stroke-linecap="round"/>
<path d="M1384.9 1143l14.3-2.6 2.6-13.1 2.7 10.5 10.4 5.2 1.3 5.2-14.4-3.9-13 2.6z" fill="#00bc7b"/>
<path d="M1268.6 1048.9l2.6-11.8 13.1-1.3 14.3 1.3-2.6 13.1-11.7 2.6z" fill="#1f7200"/>
<path d="M1271.2 1050.2l23.5 .8-1.3 3.1-11.8 .6zM1242.4 1043.7l5.3-13.1 7.8-2.6 2.6 10.5-5.2 9.1z" fill="#00bc7b"/>
<path d="M1243.7 1038.5l6.6-2.7 2.1 9.2-6.8 1.8z" fill="#1f7200"/>
<path d="M1303.9 1035.8l16.9-7.8 26.2 0 5.2 5.2-5.2 10.5-15.7 3.9-15.7-6.5z" fill="#00bc7b"/>
<path d="M1318.2 1033.2l10.5-2.6 2.6 9.2-9.2 1.3z" fill="#1f7200"/>
<path d="M1329 1038.7l-.8 1-1.6-.4-.2-1.4 1.8 .1zM1323 1034l-1.7-.2 .3-2 1.7-.2 .6 1.5zM1325.8 1032.8l-.1-.6 .9-.5 .3 .3-.6 .7zM1323.2 1036.9l-1.8 .1-1.3-1.3 .9-1.1 1.6 .6zM1325.4 1035.6l-1.7-1.7 1-2 1.2 1.6zM1326.6 1034.5l-1.1 .5-1.1-1.4 .4-1.2 1.9 .9zM1329.1 1039.5l-.9-.1-.8-1.2 1.3-.6 .8 1z" fill="#ffebbe"/>
<path d="M1132.2 1048.9l2.6-10.4 3.1 .5-2.6 10.4zM1168.7 1051.5l5.8-1.3 2.6 5.2-5.2 .8zM1279 1116.9l7.9-7.9 2.6 2.1-6.6 7.1zM1313 1192.6l7.8-18.3 2.6 .6-7.3 19z" fill="#00bc7b"/>
<path d="M1394 1182.2l6.5-2.6 4 5.2-6.6 2.6zM1299.9 1197.9l5.3-1.3 1.3 14.3-4.5-1.3zM1365.3 1226.6l13-11.8 10.5-3.9-13.1 13.1-13.1 13.1-3.9 13-2.6 7.9-1.3-7.9 3.9-13z" fill="#1f7200"/>
<path d="M996.8 1221.4l13.1-1.3 13 6.5 11.8 3.9 11.7-9.1 7.9-10.5 10.4-2.6 6.6-5.2 0-5.2 9.1 7.8 13.1 1.3 15.7 1.3 15.6 10.5 15.7 7.8 10.5 10.5 7.8 3.9 13.1-3.9 13 3.9 13.1 9.1-3.9 13.1 3.9 10.4-1.3 15.7 3.9 10.5 5.3 6.5 10.4-3.9 15.7-7.8 13.1-5.3 7.8-9.1 10.4 .8 11.8-.8 6.5 6.5 10.5-1.3 13.1 1.3 10.4 3.9 10.5-5.2 7.8 9.2 7.8 10.4 10.5 3.9 13.1 2.6 10.4 4 3.9-6.6-6.5-9.1 7.8-7.9 10.5-7.8 10.4-3.9 13.1 6.5 3.9 9.2-10.4 6.5-1.3 13.1 7.8 18.2 0 18.3 5.2 15.7-1.3 15.7 9.2 7.8 12 2.7" fill="none" stroke="#1f7200" stroke-width="3.6" stroke-linejoin="round" stroke-linecap="round"/>
<path d="M996.8 1221.4l13.1-1.3 13 6.5 11.8 3.9 11.7-9.1 7.9-10.5 10.4-2.6 6.6-5.2 0-5.2 9.1 7.8 13.1 1.3 15.7 1.3 15.6 10.5 15.7 7.8 10.5 10.5 7.8 3.9 13.1-3.9 13 3.9 13.1 9.1-3.9 13.1 3.9 10.4-1.3 15.7 3.9 10.5 5.3 6.5 10.4-3.9 15.7-7.8 13.1-5.3 7.8-9.1 10.4 .8 11.8-.8 6.5 6.5 10.5-1.3 13.1 1.3 10.4 3.9 10.5-5.2 7.8 9.2 7.8 10.4 10.5 3.9 13.1 2.6 10.4 4 3.9-6.6-6.5-9.1 7.8-7.9 10.5-7.8 10.4-3.9 13.1 6.5 3.9 9.2-10.4 6.5-1.3 13.1 7.8 18.2 0 18.3 5.2 15.7-1.3 15.7 9.2 7.8 12 2.7" fill="none" stroke="#2438ff" stroke-width="1.0" stroke-linejoin="round" stroke-linecap="round"/>
<path d="M1201.9 1299.8l6.6-7.9 13-6.5 5.3 6.5-7.9 7.9-13 6.5zM1232 1289.3l5.2-2.6 3.9 3.9-5.2 3.4zM1328.7 1297.2l7.8-2.6 5.2 7.8 1.3 7.8-7.8 0zM1407.1 1315.5l7.8 7.8 15.7 2.6 9.4 5.2 0 28.8-17.2 2.6-7.9-10.5 1.3-13zM1327.4 1339l9.1-13.1 10.5-10.4 2.6 10.4 9.1-5.2 3.9 10.4-10.4 15.7 6.5 7.9-11.7 2.6-15.7 5.2-15.7-1.3 7.8-6.5 13.1-4-2.6-6.5z" fill="#1f7200"/>
<path d="M1332.6 1340.3l7.8-7.9 5.3 9.2-7.9 6.5zM1318.2 1359.4l13.1-3.4 15.7-2.7-1.3 3.4-14.4 4.5z" fill="#00bc7b"/>
<path d="M1361.3 1348.1l7.9-14.4 9.1 5.3-10.4 10.4z" fill="#1f7200"/>
<path d="M1368.2 1345.9l-1.3-2.3 1.6-2 2 0-.1 2.9zM1369.8 1342.8l.4-3 2.8-.1 .7 2-1.2 2.1zM1373.2 1340l-1.5 .4-1.9-1.8-.2-1.4 1.3-.3 2.2 1.6zM1370 1340.9l-.7-1.2 1.2-.5 1 1.2zM1373.2 1342.3l-1.2-.5-1.1-2.9 .6-1.1 1.1 1.2 1.2 2zM1366.3 1346.3l.9-2.3 2.9-.3 .9 1.7-.2 1.9-2.8 .7zM1255.5 1335.1l7.8 5.2 10.5 9.1 10.5-3.9-5.3 9.2-10.4 10.4-7.9-1.3-7.8-11.8z" fill="#00bc7b"/>
<path d="M1269.5 1354l0-1.3 1.4-1 .6 1.3-.6 1.5zM1267.2 1352l.4-.9 2.2-.1 1.4 .5-1 .9-2.1 .1zM1266 1359.2l-.4-1.9 2.2-2.1 2.2-1.4-.2 2.3-1.9 2.4zM1266.4 1351.3l-.9 .6-.9-.6 0-.9 1.1 .2zM1263.8 1355l-1.4 .2-.6-1.7-.3-2 1.5-1 1.7 1.5-.3 1.9zM1266.6 1355.1l0-.8 .6-.8 .5 .3-.2 1.2zM1268.2 1363l-3.1-2.6-1.8-4.7 2 0 2.6 3.3z" fill="#1f7200"/>
<path d="M1224.1 1378.2l7.9-3.9 10.4 1.3 7.9-2.7 7.8 5.3 2.6 10.4-7.8-7.8-10.5 0-7.8 6.5-7.8-3.9zM1332.6 1380.8l6.5 5.2 10.5-10.4 15.7 2.6-6.6 7.8-11.7 2.6 9.1 3.9-6.5 19.6-7.9 2.7-10.4-10.5 5.2-10.4zM1298.6 1302.9l5.3-1.8 6.5 1.8 .5 4.2-5.7 2.1-5.8-1.6zM1224.1 1310.2l5.3-3.9 2.6 9.2-6.5 0zM1220.2 1332.4l7.9 1.3 1.3 5.3z" fill="#00bc7b"/>
<path d="M1396.6 1298.5l3.9-1.9 5.3 3.2-1.3 4.7-5.3 .5zM1090.9 1362.5l6.5-3.1 14.4 4.4 6.5 5.2-9.1 5.3-17 2.6zM1124.8 1370.3l10.5-2.6 13.1 1.3 7.8-5.2 5.2 3.9 7.9 2.6-1.3 6.6-10.5 2.6-5.2 7.8-14.4 0-9.1-5.2zM1153.6 1404.3l13.1-7.8 13-7.9 9.2 1.3-4 9.2-7.8 10.4-5.2 10.5-5.2 7.8-2.7-7.8-6.5-7.9zM1195.4 1399.1l6.5-3.9 9.2 6.5 13 14.4-7.8-4-10.4 0-5.3-5.2zM1194.1 1417.4l5.2-9.2 1.3 9.2zM1182.3 1416.1l4-1.9 3.9 3.2-1.3 3.9-5.3-.5zM1101.3 1408.2l5.3-2.6 2.6 6.5-6.6 2.7zM1164 1422.6l6.6 2.6-3.9 3.9zM1220.2 1434.4l3.9-9.2 4 7.9zM1135.3 1399.1l5.2-1.3 0 4.4-3.9 .8zM853.1 1352l10.4-13 5.2 5.2 13.1 0-2.6 10.5-10.5 2.6-7.8 7.8-5.2-2.6z" fill="#1f7200"/>
<path d="M860.9 1356.9l1-.6 1.1 0-.9 .6zM871.8 1350.6l1-1.3 1.6 .2-1 1.2zM874.6 1353l-2.5-.1-1-1.8 .7-1.8 1.9 .1 1.5 1.3zM868.8 1345.2l.9-.7 1.5 .1 0 .8-1.3 .3zM863.2 1354.6l-1.2 .1-.5-.6 .8-.3zM869.3 1356.1l-.8-.6 .2-1.1 .7-.1 .3 .9zM864.6 1351.3l-.7 .3-.8-.6 .4-.5 .9 .1zM857.8 1350.2l-.9-.2-.4-.6 .7 0zM859.3 1354.7l0-1.4 1.1-1.6 0 2.1zM867.5 1349.4l.7-1.1 1.2-1 .8 .3-1.5 1.5zM859.4 1360.7l-1.3-.1-.6-.9 1.1 0zM857.9 1358.3l-.3-1.1 1.8-1.2 1.5-.6-.1 1.5-1.6 1.3zM865 1348.5l1-1.8 2.3-1 1.2 2.3-2.5 1.4zM864.4 1341.8l-1.1-.9 .3-1.5 1.5 .9zM876.6 1355.9l-.9-.7 .7-.9 1.2-.2 .1 1.4zM873.5 1349.5l-1.1 .4-1.2-.7 .1-.9 1.9 0zM874.3 1350.1l-1.2 .4-.3-1.4 1.2 0zM862 1355.1l1.2-1.9 1.3-.7 2.1 .5-.2 2.4-2.3 .4zM878.9 1345.7l-.6-.5 .5-1 .7 .5 .2 .9zM876.9 1347.9l-.8-1.9 .5-2.4 2 0-.1 3z" fill="#ffebbe"/>
<path d="M905.3 1358.6l7.9-6.6 5.2 7.9-2.6 7.8 10.4 5.2 6.6 11.8-3.9 7.8-10.5-3.9-7.8-10.4-7.9-7.9z" fill="#1f7200"/>
<path d="M940.6 1376.9l9.2-7.9 13 4.5 4.7 8.6-7.3 6-15.7-1.3-3.9-9.9" fill="none" stroke="#1f7200" stroke-width="5" stroke-linejoin="round" stroke-linecap="round"/>
<path d="M866.1 1375.6l10.5 2.6 9.1 13-6.5 2.7-7.8-5.3zM904 1401.7l6.6-5.2 6.5 7.8-6.5 2.6zM892.3 1391.2l3.9-3.9 1.8 11.8-4.4 5.2zM910.6 1427.8l7.8-10.4 10.5 2.6 1.3 15.7-4 16.4-20.9 0 2.6-13.8zM934.1 1422.6l10.4-2.6 7.9 10.4 10.4 7.9 10.5 2.6 9.1-10.5 14.4-7.8 13.1-10.5 5.2 10.5 5.2 13.1 2.6 16.4-83.6 0-2.6-13.8z" fill="#1f7200"/>
<path d="M1013.3 1446.5l-1-.4-.2-.8 .7 .3zM967.9 1445.7l-1.5 .7-1.7-.9 .6-1.4 1.9 .1zM1008.4 1442.2l-.3-.5 .4-.8 .7 0-.3 1zM957.6 1441.2l-1.1-.5 0-1 .8 .4zM956.9 1444.5l-1.4-1.4 1.3-1.2 1.2 1.2zM990.9 1449.3l-.2-.8 .6-.7 .5 0-.3 .9zM999.5 1437.5l-.4-.9 .5-.9 .5-.1-.1 1.1zM1017.9 1434.9l-.8 0-.4-.6 .7 0zM990.1 1437.9l-2-.2-1-1.3 1.6 0zM1013.3 1421.7l-.9-1.5-.3-1.9 1.2 .2 .5 1.6zM966.6 1449.3l-1.8-.5-.8-1.7 1.7 .6zM1011.5 1431.5l-.9 .3-.9-.3 .9-.3zM971.3 1446l.4-.7 1.1-.4-.7 .8zM944.4 1442.9l1-.5 1.1 .2-.9 .6zM954.9 1432.2l-1 1-1.3-1.3 1.5-.7zM989.7 1451.1l-1.1-.6 .7-1.6 .7 0 .3 1.2zM946.3 1448.7l.5-1.2 1.2-.4-.3 1.5zM936.6 1437.6l-.5-1.2 .7-1.8 1.3 1.2 .3 1.9zM1005.3 1432.2l-.3-1 1-1.3 .7-.1-.5 2zM996.6 1435.6l-.1-.9 1-.8 0 1.3zM960.2 1440.5l-1.2-.8-.4-1.9 .6-1.1 1-1 .7 1.8 .5 2.1zM959.8 1441.8l-2.1-.5-1.5-1.5 .9-1.6 1.9 1.7zM1005.2 1452.1l.3-.7 .8-.4 .2 .7-.5 .8zM959.4 1442l.2-1.5 1.3-.2-.1 1.3zM998.1 1429.8l-.6-1.4 1.2-.9 .5 1.4zM983.9 1443.2l.9-.9 1.1 .6-.9 1.1zM984.1 1446.6l-1.2-.4-1.4-.7-.3-1.3 .3-.8 1.4 .8 .7 1.2zM950.1 1439.5l-1.1-1.1-.1-1.7 .8 0 .6 1.2zM1020 1448.8l1-1.7 2.4 .1 .5 1.8-2.2 .7zM945.2 1422.8l-1.5-.6-.3-1.4 1.4 .4zM942.4 1440.1l.8-1 2.5-1.1 0 1.4-2.1 1.4zM1001.9 1443.4l-.5-.9 .6-1.2 1 .4-.2 1.4zM1005.1 1446.6l-1.6 .2-.7-1.5 1.2-.7 .9 .6zM977.4 1439.2l-.3-.9 .8-.8 .3 1.1zM1007.2 1424l.7-.9 1.6-.6 .1 .7-1.2 .8zM985.5 1441.1l-.3-1.2 1.2-.6 .4 1.3zM979.8 1445.4l-1.5 .1-1.1-.8 1.4-.2zM961.3 1446.2l.4-.7 .8 .1 .3 .8-.9 .6zM968 1448.6l-.8-.4 0-1.1 .8 .6zM993.2 1438.9l-.2-1.6 1.2-1.6 .2 2zM1005.3 1447.1l-1-2 .6-2.7 1.3 .3 .1 2.4zM996.6 1446.7l.1-1.3 1-.4 .6 .7-.4 1zM955.8 1445.1l-.6-1.2 .1-.9 .7-.5 .5 1.4zM1004.1 1433.4l.7-1.7 2 .7-.4 1.6-1.4 .6zM944.6 1430.7l-.9-1.7 .2-1.4 .9 1.1zM964.7 1445.1l-.3-.7 .4-.9 .4-.1 0 1.1zM1016.1 1448.2l-1.7-.4-1.2-1.7 1.1-.9 1.3 1.3zM1001.1 1446.5l-.3-1 1.9-.8 2-.5 .3 1.2-1.6 1-1.7 1.1zM1011 1415l-1.3 .6-1.6-.3 .6-1.3 1.5-.2zM959.6 1444.5l-1.3-.4-.6-1.2 .8-.3 .8 .6zM1002.8 1428.3l-1 .2-1.3-.8 .8-.5 1.1 .1zM942.1 1443.4l-2.1 .4-1.6-1.5 .9-1.8 1.8-.7 1.5 1.5zM970.4 1445.1l1.5-1.7 1.8 .6-.8 2.3zM998.8 1434.1l-1.1-1.7 .3-1.7 1.1 1.3zM1009.3 1418.8l-1.7-.4-1.3-1.5 1.6-.6 1 .8zM998.3 1431.7l.3-1.1 1.4-.1 .6 1-1.3 .7zM1002.5 1449.1l-.2-1 .4-.9 .7 .3-.1 1zM958.3 1445.7l0-1.2 1.2-1.1 1.3 .5 .5 .9-.7 1.1-1.6 1zM1009 1418.3l-.9-.4-.2-1.7 .9-.4 .7 1.7zM951.8 1434.7l-1-.8 .7-1.5 1.2 .3 .3 1.6zM1005.7 1440.7l.2-.8 .8-.3 .7 .7-.8 .8zM938.8 1428.2l-.6 .5-1.3-.6 .1-.7 1.5 .1zM981.5 1442.4l-1.1-.7-.4-1.1 1.1 .6zM1010.5 1441.2l-.5-1.1 .9-.4 .7 .9zM1006.1 1439.5l-1.2 .3-1-.9 1.3-.2zM991.2 1436.7l-1.6 .4-1.5-1.6 .7-1.5 1.6-.5 1.3 1.6zM994.4 1437.5l-.9-1.1-.2-2.1 .9-.6 .8 .7 .4 2.2zM949.9 1434.6l-.5-.3 0-.9 .4-.2 .3 .8zM993.5 1436.4l-1.1-1.9 1.1-2.3 1.9-.3 .8 1.7-.7 2.2zM940.7 1439.6l-1.8-1.2-1.1-1.4 1-1 1.6-.6 .8 2.2zM992.6 1446.1l-2.1-.1-1.8-1.3 .3-.8 2.4 .5zM935.8 1426.3l-1-.8 .6-.8 .7 .5zM942.2 1432.7l1.1-1.1 1.9 .8-1.7 1.1zM957.4 1434.9l-.9 .1-.5-.5 .6-.1zM979.4 1448.1l.8-.6 1.9-.2 .1 1-2 .3zM1018.6 1436.5l-.7 .3-.6-.6 .4-.7 .8 .3zM1010.6 1449.2l-.6-.3-.5-.9 .3-.4 .9 1zM941.9 1441.3l-.9-1.4 .3-2.5 1.5-.5 .9 1.2-.4 2.5zM968.5 1443.2l-.9-.6 0-2.2 1.2-.9 .8 1.4 0 2z" fill="#ffebbe"/>
<path d="M952.4 1324.6l23.5-1.8 1.3 3.1-24.8 2.1zM984.3 1298.5l3.3-.8 .8 4.2-3.4 .5zM1138 1125.2l-.7-.6-.2-.5 .2-.5 .7-.2 .2 1zM1130 1127.1l1.1-2.6 3.3-.8 2.6 1.5-1.1 2.9-4.3 2.1zM1130.3 1130.1l.7-1.4 2.8-1.4 .8 1.7-2.8 1.7zM1129.9 1114.7l-1.3 0-1.3-1.1 .6-.8 1.7 .6zM1127.8 1114l-1.5-.8-.2-2 .7-2.3 2 1.3 .1 2.4zM1117.5 1123.1l-.7-.7-.1-1.3 .7 .1 .6 1zM1134.3 1128.2l-.6-.4-.7-1.1 .2-.8 .4-.2 .5 .8 .2 .9zM1124.9 1131.1l-.5-.8 .4-1.3 1.1 .2 1.3 0-.2 1.5-1.1 .8zM1120.9 1122.2l.5-2.3 2.6-.5 .4 1.9-1.4 1zM1121 1120.6l-1.6 .4-1-1.6 .3-1.6 1.5-.7 1 1.2 .8 1.2zM1123.6 1116l-1.5-.6-.7-1.4 .8-1.4 1.7 .4 .3 1.5zM1127 1114.1l-.9-1 .7-1.3 1.1 .4 .6 .7-.2 1.3zM1119.2 1128.6l.6-1.6 1.8-1.3 1.6-.5-.1 1.5-2.3 1.7zM1174.7 1142.6l-3-2 1.9-4.1 3 1.5 1.6 3.5zM1165.2 1153.4l-1.1-.8-.5-3.2 1-1.8 1.1-.2 .7 2.2-.4 2.3zM1168.9 1135.5l-.5-2.6 2.6-.7 2.1 .4-.5 2-1.4 1.2zM1172.9 1135.1l-.8 .1-1.1-.3-.3-.5 .6-.1 .9 .2zM1164.1 1150.3l-3.4-.5-.8-4.2 2.1-1 3.1 2.5zM1166.8 1149.8l-.4-1.1-.2-1.4 1.4-.4 .9 1.1-.6 1.2zM1164.4 1147.9l-1.8-3.9 3.6-3 3.6 2.5-1.3 4zM1162.3 1134.6l-.2-.8 1-.4 .8-.1 .1 .5-.1 .8-1 .3zM1164.9 1146.9l.4-1 1.1-1.2 1.5 .1-.1 1-.4 1-1.4 .3zM1175.2 1135.2l-1.7 .1-1.6-2 .1-2.8 2.1-1.2 2.2 2.1 .2 2.6zM1203.7 1130.8l-2.1-2.8 2.6-4.3 2.9-.4 1 2.6-1.1 4.5zM1212.7 1138.4l.5-2.5 2.7-2 1.4 0 .5 1.3-2.6 2.8zM1215.7 1126.1l-.4 .6-.8-.2-.7-.2 .2-.5 .5-.5 .9 .2zM1208 1145.5l1.2-2.2 2.1-2.1 2 1.4 .5 2.6-3.3 .7zM1206.2 1142.1l-.8-.2-.4-1 .2-.7 .6-.6 .6 .8 .4 1zM1211.2 1135.6l-2 .1-2.6-1.1 0-2.3 2.3-.5 1.9 1.8zM1202.1 1134.6l-.6-.6 .3-1 .5-.8 .6 .3 .4 .8-.6 .7zM1210.5 1140.9l.2-.7 .9-.3 1.2 0-.3 1.1-.6 .6-1.2 .3zM1202.6 1139l-1.3-.2 0-1.6 1.2-.4 1.1-.1 .4 1.1-.3 1.3zM1213.1 1137.8l-3.4-1-2.1-2.1 .5-1.8 2.9 1.9zM1213.8 1173.8l.2-1.4 1.3-.7 1.7 .7-.7 1.7-1.4 1zM1217 1179.8l-1.1-.3-.7-.9 .7-.9 .9 .3 .6 .7zM1185.1 1164.2l.2-1.5 2-1.4 1.3 .7 .5 .9-.8 1.1-1.6 .6zM1193.9 1184.9l-.5 .1-.9-.1-.4-.5-.2-.4 1 .2 .6 .3zM1214.8 1172.8l.4-2.6 2.5-1.2 1.3 2.1-1.2 3.4zM1197.1 1153.3l-1.7 .4-2-.5-1-.9-.4-1.1 1.9-.4 1.7 1.3zM1221.5 1184.5l-2.6-3.4-.9-5 1.9 .7 2.5 3.7zM1210.1 1151l-.6-.4-.3-.9-.2-1.4 .8 .4 .6 .6 0 1.1zM1208 1183l-.3-1.4 .7-1.9 1 .1 .9 .7-1.1 1.9zM1213.6 1155.3l.6-2.1 2-1.9 1.8 1.6 .3 2.4-2.7 1.3zM1191.6 1173.6l-.7 .1-.5-.6 .2-.8 .9 0 .5 .7zM1200.4 1171l-.5-4.2 2.8-3.5 2.6-.4-1.5 5.4zM1214.5 1159.3l.6-.9 1.6-.6 1.8-.3 .1 .8-1.5 .8-1.6 .4zM1206.6 1151.8l-1-.5-.7-1.7 .8-.2 1.1 1.3zM1199.7 1157.5l-1.8 1.7-3.3 .9-2.1-3.1 1.4-3 3.1-.5 2.7 1.3zM1206.7 1158.3l-1.5-.1-1.2-1.6-.2-1.7 .8-2 2.4 1.5 1.1 2.9zM1205 1167.4l-.7-.2-.5-.8-.1-.7 .5-.1 .5 .3 .6 .8zM1219.8 1167.5l0-3.6 1.4-3.9 3.9 .7 1.1 2.5 .5 3.1-3.3 1.3zM1215.5 1164.4l-2.6 0-2.6-1.6 1-1.3 2.5 .9zM1210.8 1169.9l-.9 0-.2-1.8 .1-1.3 .7-.8 .9 1.5 .3 2.1zM1201.5 1155l-1.6-.1-.9-1.3 .9-1 1.7 .6zM1225.2 1166.9l-1 .2-.7-1 .2-.9 .9-.1 .9 .9zM1204.2 1188.7l.1-3.6 4.4-2.6 2.3 2.1-3.3 4zM1080.1 1253.1l.7-.5 1.4-.4-.3 .7-1.1 .5zM1074.2 1261.4l-.1-.9 .6-1.3 .8-.5 .3 .4-.1 .8-.6 .9zM1076.5 1259.7l-.5 .3-.7-.2 .2-.5 .8-.1zM1070.4 1261.9l.5-.9 1.3-.5 .8 .8-.1 1.2-1.7 .2zM1081.4 1257.9l-.2-1.1 .6-1.1 1.1 .2-.4 1.6zM1072.1 1253.1l-.4-1 .9-1.1 .7-.2 .8 .1 0 1.1-1 .8zM1073.1 1260.3l-.3-2.4 1.6-2.8 1.4 1-.8 2.7zM1072.4 1250.7l-.7-1.6 2-1.8 2.3-.6 1.1 1.5-1.1 2-2 .8zM1071.3 1253.7l-.6-.6-.3-.7 .2-.5 .4 .3 .5 .8zM1069.6 1255l-.6-.1-.5-.7-.4-.7 .4-.2 .6 .4 .7 .8zM1069.2 1258.6l-.7-.6 .7-1.7 .6-1.7 .8 .5 .1 1.4-.6 1.7zM1068.9 1256.8l-.7-.4 0-1.1 .5-1 .6 .5 .4 .7-.1 .8zM1072.3 1260.6l-.8-1.9 1.7-1 1.3 .9-.1 1.9zM1070.5 1252.2l-.9-.8 .7-1 .6-.5 1 .1 .1 1.1-.7 .5zM1070.1 1258.2l-.2-1 1.6-1 1.8-.5 .4 1.1-1.1 1.4-1.8 .6zM1071.6 1262.6l-1-2.4 2.5-2 2.4 .1 1 2.4-2.3 2.6zM1052.8 1274.5l-.3-2.3 2.6-.8 .6 1.9-.9 2zM1057.5 1286.4l.8-1 1-.2 .7 .6-1.2 .8zM1054.9 1273.5l-.3 .5-1.1-.3 .2-.5 1-.1zM1058.9 1286l-.8-.8-.5-1.9 1.5-1.9 1.7 .7 .5 2.1-.8 2.2zM1058.5 1275.7l-1.5 .2-1.5-.7-1.6-1.2 .4-1.5 2.2 .6 2.3 1.1zM1053.1 1277.3l.9-.9 1.7-.1 0 1.4-1.5 .4zM1046.1 1283.8l-.5-.5 .5-.6 .6-.4 .4 .5 .4 .7-.8 .3zM1047.9 1283l-1.8 .6-1.9-1.1 .6-1.7 1.3-.8 1.8 1zM1056.8 1279.4l-1.2 .5-1.2-1 .6-.9 1.3 .4zM1058.1 1286.2l1.2-1.3 1.8-.8 1.2 .1 0 1-2.7 1.4zM1057.8 1283.8l-.7-1.9 0-1.9 .5-1.9 .8 1.6-.1 2.1zM1049.8 1280.7l-1.4 1.3-1.9 .3-1.4-1.6 0-2.4 2.4 .2 2.2 0zM1108.2 1303.1l-.6-.5-.4-.9 .1-.6 .5 .4 .5 .9zM1105.8 1303.9l-.4-.7 .9-.4 .7 0 .1 .8-.7 .7zM1106.2 1302.7l-.5 .2-.5-.5-.3-.8 .9-.1 .8 .6zM1102.6 1303.4l.1-3.5 3.8-.4 2.7 1.6 2.2 3.4-4.2 1.1-3.6 1.1zM1127.7 1262.1l.5-.7 .8-.5 .3 .5-.7 .6zM1124.9 1249.9l-.8 .1-.9-.5 .4-.6 .4-.1 .8 .3zM1122.1 1265.8l-1.6 .4-2.1-3-1.1-3.8 2.6 1.1 1.7 1.2 2.3 3.2zM1120.5 1249.8l-.9-.4 .3-.9 .8-.4 .5 1zM1120 1256.4l-.7-1.5 .9-2.5 1.4 .4-.1 2.7zM1115.1 1258.3l.4-.3 .8-.1 .8 .2 .2 .4-.9 .4-1.2-.1zM1122.6 1263.5l-.4 .4-1.1-.2-.7-.5 .8-.2 1.2 0zM1128 1262.9l-2.2-.4-.2-2.5 1.2-1 1.6 1.8zM1074.3 1350.4l-.2-1 .7-1 .6 .1-.5 1.1zM1067.2 1368.6l-.5-.4-.3-.8 .7-.3 .7 .2 .2 1.1zM1063.8 1369.9l-.8-2.2 2.4-2.5 1 .9-.4 3.1zM1068.3 1354.3l-.2-.5 .8-.4 .7-.1-.2 .6-.7 .4zM1079.3 1366l.3-.4 1.2 0-.2 .5-.8 .2zM1073.4 1347.9l-.9 .2-.9-.7 .1-1 .6-.6 1 .3 .6 1zM1082.1 1365.3l-.8-.5-.6-.9 .6-.3 .7 .7zM1074.4 1368.5l-.9-.5-1-.9 0-.8 .1-.8 1 .8 .8 1.3zM1076.5 1353.3l-.7-.3-1-.4-.2-1.1 .4-.7 1.1 .8 .9 1zM1077.4 1368.1l-1.1-.2-.3-1.2 .7-.5 .8 1zM1080.1 1358.4l-2.2 1-1.8-2.2-.8-3.3 3.4 .2 2 2.2zM1074.2 1352.6l-.8-2 .9-2.6 1.3-.3 0 3.3zM1080.1 1363.1l-1.7-1.1 .8-2.8 2.4-.8 1 2.1-1 2zM1074.7 1361.9l-3.7 2.3-3.3-2.9-.1-4.5 5.9 .6zM1180.8 1203.9l.2-1 1.6-.6 .7 1.1 .6 .8-1.1 1.1-1.6-.7zM1175.6 1204.7l-.1-.3 .2-.7 .4-.6 .2 .2-.1 .6-.2 .7zM1177.9 1203.9l.4-3.9 4.2-3.7 2.9 3.2-3.8 3.5zM1181.4 1210.6l-.4 .5-.9 .3-.4-.9 .7-.4 .6 0zM1175.3 1204.9l-.3-2-.2-1.8 1.3-1.4 1.4 .1-.3 2.2-.4 1.9zM1207.7 1214.3l-2.1-3-1.1-4 2.9 1.1 2.1 2.6zM1218 1212.9l-1.2 0-1.3-.9-.3-1.7 1.8 0 1.8 1.4zM1206.7 1213.4l1.2-1.4 1.7 .8 .2 1.3-1.6 .2zM1216.2 1210.1l-1-.3-.5-1 .5-.8 .7-.2 .8 .4 .1 1zM1084.1 1131.9l1.2-2.6 2.9-.3 2.7 1.7-1.8 2.5-3 1zM1095.6 1133.3l.2-.9 1.3 0-.1 .9-.8 .3zM1081.9 1136l-2.6-3.2 4.3-2.6 3.2 1.3-1.9 3.9zM1120.6 1162.8l.6-.9 1.1-.7 .9 .1-.4 .8-1.2 .6zM1138.8 1160.9l-1.8 .5-1.7-2 1.3-2 1.9-.6 1.5 1.3 .3 2zM1134.1 1156.5l2.6-2.5 3-1 .2 1.9-2.2 1.8zM1135.7 1161.4l-1.2-1.3 0-1.8 1.5-1.2 1.2 1.4-.1 1.8zM1130.9 1158.2l-.1-1.4 .3-1.6 1.1-.2 .7-.1 0 1.3-.9 1.2zM1137.2 1156l-1.2 .6-1 0-1.1-.6 .3-1.1 1.1-.7 1 .8zM1132.2 1187.9l-1.5-2-.6-2.3-.2-2.8 1.5 .5 1.5 1.4 0 3zM1127 1188l-1 .2-.7-1.2 .6-.8 1.1 .8zM1129 1187l-5 1.1-2.4-4.2 2.7-4.2 4.9 2.2zM1055.2 1319.1l-3-3 1.9-3.4 2.4 .5 1.4 2.9zM1065.4 1314.9l-.1-.8 .2-.8 .3-.8 .4 .1 0 .8-.3 .9zM1059.8 1315.3l-.8 .1-1-.2-.2-.8 .2-.4 .7 .1 1 .5zM1060.6 1308l-1.4 1.8-3.4 .9-3.6-1.7 .2-3.1 3.9-.9 4.1 .3zM1163.9 1319.7l-.2-3.5 2.4-3.7 4.1-.3 1 3-1.4 2.6-2.3 1.2zM1158.2 1318l.1-1.5 2-1.9 .5 1-1.1 2.2zM1172.8 1322.2l-.7-.4-.4-1.4 .2-.8 .6 .6 .8 1.3zM1166.6 1314.5l-1.5-.7 .8-3 1.8 0 1.2 1.2-.7 2.6zM955.9 1096l.3-1.3 1.3-.9 .7 .9-1 .9zM959.8 1098.5l-.9-.4-.3-1.2 .6-.2 .6 .8zM959.8 1094.8l-.6-.8 .7-1.2 1-.3 .5 .9-.5 1.3zM961.1 1094.3l-1.2 .5-1.6-.5 .1-1.5 1.9 .4zM958.1 1092.2l.8-.8 2.5-.4-.6 1.1-1.7 .6zM968 1097.7l-.8-1.3 1-1.4 1.2 0-.4 1.6zM968.7 1092.9l.1-.7 1-.1 1.1 .2-.3 .8-.6 .5-1.2 .2zM965.5 1096.7l-2.2-.8 .4-2.6 2.1-.2 1.2 2zM911.6 1098.6l1.4-3.3 4.6 .6 .4 3.4-3.9 .9zM915.6 1095.1l-.6-.5-.2-1.5 .3-.7 .6 .7 .1 1.1zM917.3 1097l.3-.8 1.3-.1 .6 .7-1.5 .9zM908.5 1097.1l.1-1.6 1.2-.5 1.5 .8-1 1.8zM1015.2 1045.6l-.6-.1-.3-.8 .1-.8 .6 .2 .5 .2 0 .8zM1007.5 1047.1l-2.7-.2-.3-2.7-.3-3.2 3-.3 1.6 2.3 1 2.7zM952.5 1039.1l-.6 .3-.8 .1-.6-.5 .7-.3 .7 0zM953.3 1039.6l-1.2-1.4 0-2.3 1.6-.2 .2 2.2zM952.8 1041.1l.3-2.1 1.1-1.5 1.4 .2-.9 2.6zM953.5 1038.4l-1.5-.1-1.4-2.4 1.3-.6 1.9 1.5zM945.7 1037.2l-.1-1.2 1.5-.6 .7 1.5-1.1 .7zM941.4 1036.7l-1.6 1-2.4-1.8-1.9-2 2.5-.7 3.3 1.6zM1080.3 1155.9l-1.3 2.2-3.5-.8-1.3-1.9 1.4-2 3.5 .4zM1086.7 1165.9l.2-.7 .8-.2 .8 .4 .1 .8-.8 .5-.7-.3zM1086 1172.3l-1.4-1.7 .4-2.3 2.7 0 0 2.5zM1086.3 1164.2l1.1-.9 2.4-.3 2.8 .2-.7 1.2-2.2 .5-2.7 .4zM1214.3 1237l-2.4-2.8 3.2-3 2.9 2.5 0 3.9zM1386.7 1280.9l-.7 0-.4-1 .4-.4 .7 .8zM1377.1 1278.8l.3-1.3 1.5-1.8 2.2 .2-.3 2.2-2.6 1.8zM1391.2 1278.7l-1.4-1.1 1.9-4.3 1.7-.4 1.2 1.2-1.6 5zM1392.9 1282.8l-.4-.3 .2-.9 .5-.4 .3 .6-.2 .7zM1384.8 1287.3l-2.1-.6-1.1-2.5 .5-2.5 1.9 0 1.7 1.3 .2 2.4zM1387.6 1273.9l-.6-1.5 1.1-1.4 1 .4 .7 .8-.7 1.2zM1379.8 1274.9l-.4-.9 .7-1.3 .7 0 .5 .5-.6 1.4zM1390.5 1282.4l-1.2 0-.2-1-.3-1.1 1 0 .7 .3 .5 .8zM1389.2 1274.8l-.3-.2-.2-.7 .3-.6 .4 .4 0 .8zM1381.4 1284.7l.2-.8 .4-.5 .5-.1 .1 .5-.4 .6zM1381.4 1274.4l-.7-1 .3-1.2 1 .1 .7 .5 0 1.3zM1386.1 1273.3l-.1-.8 1.1-.2 .8 .1-.1 .8-1.2 .4zM1383.7 1281.2l-2.1 .7-2.1-2 .5-1.9 1.8-.4 1.7 1.6zM1387 1286.6l.4-1.7 2.4 .1 .9 1.8-2.5 1zM1386.8 1242.5l-1.3-.3-.7-2-.2-2.3 1.9 1.3 .7 2zM1388.3 1248.2l-2-1.1 .1-2.4 2.1-.8 1.3 2.5zM1391.8 1238.1l.5-4 3.7-.2 1.6 2.5-2.3 2zM913.6 1337.5l-.4-.5-.2-1 .3-.2 .3 .3 .1 .8zM923.4 1342.3l-1.7 1.5-2.8-.9-.9-2.9 2.3-1.2 2.5-1.2 1.4 2.7zM905.8 1339.1l-.6-3.6 3.9-1.6 2.8 0 3 1.8-2.3 3.4-3.5 .9zM896 1372.1l-2.1 .9-.9-2.3 .1-2.4 2.7-.5 .8 2.6zM895.6 1378.3l-1.9-1.3 .1-2.4 1.8 0 1 1.6zM891.9 1362.5l-1.1-1.2 .4-1.5 1.3 .3 .8 1.4zM889.1 1363.3l1.7-4.3 5.4-.1 1.7 3.9-4.8 2.4zM1131.8 1350.4l-1.5 .2-1.5-3 1.2-.6 2 2zM1126.6 1356.8l0-2.9 4.2-2.2 1.9 2.2-3.1 4zM1039.2 1363.1l-.2-3.3 3-3.4 1.8 2-1.7 3.2zM1044.8 1357.7l-.8 .3-.2-1 .3-.7 .7 .2 .3 .7zM1043.3 1354l.6-.7 1 .2 0 .9-1.1 .6z" fill="#1f7200"/>
<path d="M996.8 1237.1l1.3 15.6 11.8 15.7 5.2 15.7 7.8 10.5-5.2 15.6-7.8 10.5 13 10.4 15.7 10.5 7.8 13.1 5.3 13" fill="none" stroke="#1f7200" stroke-width="1.8" stroke-linejoin="round" stroke-linecap="round"/>
<path d="M1106.6 1226.6l-7.9 15.7-3.9 15.7-3.9 15.6 7.8 15.7 5.2 7.9M1105.2 1305l4 13.1 13 7.8 10.5 3.9" fill="none" stroke="#1f7200" stroke-width="1.2" stroke-linejoin="round" stroke-linecap="round"/>
<path d="M1071.3 1150.8l3.9 13.1 1.3 10.4 2.6 15.7-2.6 7.9M1094.8 1160l-6.5 9.1-6.6 10.5-3.9 10.4M1156.2 1200.5l-3.9 10.4-2.6 9.2M1200.6 1190l-2.6 15.7-6.5 15.7-3.9 13-7.9 2.7" fill="none" stroke="#1f7200" stroke-width="2" stroke-linejoin="round" stroke-linecap="round"/>
<path d="M1207.2 1306.3l3.9 9.2-1.3 18.2" fill="none" stroke="#1f7200" stroke-width="3" stroke-linejoin="round" stroke-linecap="round"/>
<path d="M962.8 1312.8l18.3-5.2 15.7-5.2 7.8 2.6" fill="none" stroke="#1f7200" stroke-width="1.3" stroke-linejoin="round" stroke-linecap="round"/>
<path d="M1002 1401.7l18.3-13.1 18.3-10.4 10.5-7.9M1090.9 1378.2l6.5 13 9.2 10.5 7.8 13.1 9.1 13 6.6 13.1M1123.5 1427.8l17 7.9 18.3 2.6 18.3-2.6M1156.2 1028l5.2 7.8-7.8 10.5" fill="none" stroke="#1f7200" stroke-width="1.5" stroke-linejoin="round" stroke-linecap="round"/>
<path d="M1187.6 1028l5.2 13.1 3.9 15.6 .8 13.1" fill="none" stroke="#1f7200" stroke-width="1.3" stroke-linejoin="round" stroke-linecap="round"/>
<path d="M1179.7 1039.8l9.2-5.3" fill="none" stroke="#1f7200" stroke-width="1.5" stroke-linejoin="round" stroke-linecap="round"/>
<path d="M1187.6 1354.7l15.6-2.7 10.5-9.1" fill="none" stroke="#1f7200" stroke-width="1.3" stroke-linejoin="round" stroke-linecap="round"/>
<path d="M1284.3 1320.7l5.2 15.7 6.5 13-1.3 18.3-5.2 18.3-7.9 13.1" fill="none" stroke="#1f7200" stroke-width="1.8" stroke-linejoin="round" stroke-linecap="round"/>
<path d="M1275.1 1286.7l6.5 15.7 5.3 18.3" fill="none" stroke="#1f7200" stroke-width="1.5" stroke-linejoin="round" stroke-linecap="round"/>
<path d="M1354.8 1258l13.1 10.4 15.7 10.5 7.8 6.5" fill="none" stroke="#1f7200" stroke-width="2.5" stroke-linejoin="round" stroke-linecap="round"/>
<path d="M1310.4 1064.6l26.1-5.2 26.1-5.3 7.9-10.4 26.1-1.3 5.2-14.4" fill="none" stroke="#1f7200" stroke-width="1.5" stroke-linejoin="round" stroke-linecap="round"/>
<path d="M1396.6 1042.4l15.7 9.1 3.9 7.9" fill="none" stroke="#1f7200" stroke-width="2" stroke-linejoin="round" stroke-linecap="round"/>
<path d="M1373.1 1372.9l13.1 10.5 15.6-5.2 13.1 7.8" fill="none" stroke="#1f7200" stroke-width="1.5" stroke-linejoin="round" stroke-linecap="round"/>
<path d="M1378.3 1349.4l7.9 13.1 5.2 5.2M1318.2 1312.8l7.9 5.3 2.6 7.8" fill="none" stroke="#1f7200" stroke-width="3" stroke-linejoin="round" stroke-linecap="round"/>
<path d="M936.7 1033.2l13.1 2.6 7.8-1.3" fill="none" stroke="#1f7200" stroke-width="2.5" stroke-linejoin="round" stroke-linecap="round"/>
<path d="M938 1046.3l9.1 2.6" fill="none" stroke="#1f7200" stroke-width="2" stroke-linejoin="round" stroke-linecap="round"/>
<path d="M889.7 1153.4l2.6 20.9 2.6 13.1" fill="none" stroke="#1f7200" stroke-width="1.5" stroke-linejoin="round" stroke-linecap="round"/>
<path d="M866.1 1341.6l7.9 15.7 7.8 13M894.9 1409.5l-2.6-15.6" fill="none" stroke="#1f7200" stroke-width="2" stroke-linejoin="round" stroke-linecap="round"/>
<path d="M1081.7 1414.8l3.9 15.6-1.3 15.7" fill="none" stroke="#1f7200" stroke-width="1.2" stroke-linejoin="round" stroke-linecap="round"/>
<path d="M1184.9 1236.5l4-.7 .8 2.8-4.2 .5z" fill="#2438ff"/>
<path d="M1482.9 1038.5l10.5-7.9 15.7-2.6 7.8 1.3-5.2 14.4-3.9 9.1-14.4-6.5z" fill="#00bc7b"/>
<path d="M1493.4 1030.6l23.5-2.6-3.9 13.1-14.4-1.3zM1548.3 1031.9l13-2.6 20.9-1.3 5.3 5.2-15.7 6.6-13.1-2.7zM1522.1 1033.2l13.1-2.6 5.2 7.9-13 0zM1611 1028l6.5 0-2.6 4.7z" fill="#1f7200"/>
<path d="M1578.3 1106.4l6.5-26.1 4-13.1 16.9-5.2 10.5 2.6 7.8-5.2 13.1-2.7 11.8 10.5-6.6 6.5 2.6 13.1-9.1 6.5 3.9 10.5-7.8 13.1-13.1 7.8-14.4 7.3-19.6-7.3 2.7-10.5z" fill="#00bc7b"/>
<path d="M1611.2 1069.3l-1-.7 .5-1.9 1 .6 .3 1.3zM1626.8 1074l-.6 1.5-2.4-.6-1.2-1.3 1.7-.6 1.7-.1zM1627.8 1077.8l.1-2.3 2.4-2 .6 1.6-.7 2.3zM1618.5 1069.6l-2.9 .3-.5-3 1.5-1.6 2.2 1.7zM1616.7 1075.2l-.8-2.5 .5-3.6 1.1-3 1.4 0 .6 3.2-1.1 4.4zM1608.7 1069.4l.6-1.5 2.2-1.3 1.6 .6-.7 1.6-2 1zM1618.3 1074.5l-3.1-1.7 2-4.1 3.3-1.4 2.2 1.8 2 3.4-3.4 2.8zM1625.6 1073.5l-1.5-.1-2.4-1.9 .4-2.4 2.4 .5 1.4 2.5zM1622.6 1075.4l-1.8 .5-2.6-2.1-.8-2.1 1.9-1 3.2 2.8zM1621.5 1069.2l-1 2.7-3.1-1.6-1.7-1.8-.2-2.9 3.4-.8 3.8 1.4zM1629 1074.6l-1.5 .9-3.1-.3-1.2-.9 .9-1.1 3.1 .4z" fill="#ffebbe"/>
<path d="M1586.1 1080.3l22.3-10.5 13 1.3 5.3 9.2-10.5 10.4-7.8 13.1 10.4 13.1-15.7 14.3-17-6.5 2.7-10.5-9.2-9.1z" fill="#1f7200"/>
<path d="M1603.2 1097.1l.4-1.4 .9-.4-.1 1zM1610.9 1090.5l.3-.8 .9-.3 .2 .9-.6 .7zM1606.6 1117.1l-2-.7 .4-2 1.6 .9zM1591.5 1104.8l-.8 .4-.8-.2 .2-.7 .9-.3zM1609.1 1112.2l-.7 .8-1.7-1-.5-1.3 .6-.6 1.4-.3 1.2 1.4zM1609.3 1112.7l-.4-1.4 1.2-1.4 1.7-.8 1.4 1.2-.7 2-1.8 .7zM1604.8 1083.9l-.9 1.3-1.2-1.4 1.3-.9zM1594.9 1112l-1.1-1.1-.7-1.8 1.5-.7 1.3-.1 .5 1.4-.1 1.6zM1605.2 1084.9l.8-.4 .9 .1 .1 .4-1 .1zM1602.4 1126.7l-1.1 .1-.1-1 .9-.1zM1610.9 1092.2l-.6-.7 .5-1.5 .8 1.4zM1610.9 1092.4l-.7 .5-.6-.8 .8-.4zM1594.6 1081.5l.8-.2 .7 0 .2 .3-.9 .1zM1602.1 1093.7l-.5-1.6 .4-1.4 1 .3 .4 1.6zM1612.6 1093.8l1.5-1.5 1.9 0-1.1 1.8zM1602.4 1102l-1.4 .5-1.6-1.1-.1-1.9 1.2-1.3 2.1 .4 .5 2.1zM1608 1073.2l-.5-2.2 1.9-1.3 1.6 .7 1 1.2-.1 1.9-2 .6zM1612.5 1085.9l-1-1 1.5-1.4 1.7-.8 .1 1.8-1.1 1.5zM1607.9 1080.1l-2.1-.6 .7-1.9 1.6 .6zM1603 1105.6l-1.5 .4-2.1-1.2 1-1.2 1.9 .7zM1610.3 1084l1.2-1.4 1.6 .5 .5 1.3-1.8 .5zM1585.3 1091.5l-1.6-1.1 .7-2.6 2.2 .3 .2 2.4zM1591.6 1091l-1.7 1.1-1.9-1 .5-1.5 1.9 0zM1614.8 1071.2l-.7 .1-.7-.5-.1-.4 1 .3zM1606.9 1077.3l-.3-1 1.1-.6 .1 1.2zM1607.5 1074.5l-.6-.3-.3-.6 .2-.6 .9 .9zM1612.2 1089.3l.1-1.8 1.7-1.2-.4 1.9zM1604.7 1105.2l-1.2-.1-.6-1.3 1.4 .2zM1597 1109.4l-1.3-1-1-1.6 .4-1.3 1.3 .5 1 2zM1610.8 1088.3l-.5 .6-.9-.4 .3-.9 .8 0zM1583.7 1101.8l1.1-1.2 1.6-.4-1 1.4zM1608.9 1080.3l-1.7 .4-.5-1.7 1.1-1.5 1.8 1.1zM1613.1 1084.4l-.5-.7 .2-1 .5 .1 .2 .8zM1586.6 1124.3l.8-1.1 1.3 .4 .4 1.3-1.4 .2zM1594.2 1123.8l-1.4-.5-1.4-1.3-.4-1.9 1.8 .8 1 1.4zM1587.2 1107.3l-.8-.4-.3-1.2 .7-.1 .5 .8zM1611.1 1086.3l-1.4 .4-1.4-1.1 .2-1.2 2 .5zM1620.4 1082.2l-.6 .7-2-1-.3-1 .9-.5 1.6 1zM1605.4 1108.9l-1-1.7 1.5-1.7 1.6 .3 1 1.4-1.4 1.3zM1583.9 1110.2l-.1-1.2 .8-.8 1.3 .6-.7 1.3zM1592.7 1085.7l-.1-.5 .5-.7 .5 0-.5 1zM1594.9 1086.1l.3-.9 1.1 .4-.6 1zM1612.8 1086.2l.4-1.1 1.1-.6-.2 1.3zM1613.6 1117.3l-.7-2 .5-2.4 1.8 .9 0 2.1zM1587.9 1098.2l-1.3 .1-.7-.9 1.2-.2zM1591.9 1119l-.8-.9 .4-.9 .8 .6zM1609.3 1112.9l-.9-.1-.1-1.2 1.1 .5zM1605.6 1127.8l1-1.3 1.7-.4 .3 .9-1.4 1zM1610.1 1076l-1.1-1.4 1.3-1 1.7 1.2zM1602.7 1101l.4-1.8 1.4-.4 1.5 .8-1.3 1.8zM1607.2 1111.5l.3-2.7 2.2-.2 1.7 1.1-1.6 1.8zM1586.1 1098.8l.8-1.8 1.8 1.2-1.1 1.9zM1594.5 1110.3l.4-1.1 1.5 0-.7 1.3zM1604.9 1104.6l-1.4-1-.9-1.6 .9-.6 1 1.5zM1618.4 1116.2l-1.1 .2-.7-.7 1-.4zM1598.9 1122.6l.5-1.1 1 .8-.6 1zM1599.2 1084.1l-.5-1.3-.2-1.5 1.1-.8 .9 .2 .8 1.2-1 1.3zM1583.6 1107.5l-.8 .4-1.1-.7 .3-.6 1.2 0zM1611.1 1072.4l-.3-1 1.2-.8 .4 .9-.2 1.3zM1591.3 1122.2l-.4-.4-.4-.9 .6 0 .4 .8zM1588.3 1104l.8-1.2 1.7-.1 .3 .6-1.4 .9zM1600.1 1083.6l-.6 1.7-2-.8 .3-2.1 1.9-.3zM1588.5 1118.3l-.6-.4-.2-1.8 .9-1.8 .8 .8 .5 1.3-.7 1.5zM1589.2 1085.6l.1-1.6 1.6-.4 0 1.7zM1599 1088.8l-1.1 .2-1.2-.9 .3-.8 1.5 .5zM1601 1132.2l.9-1.7 .6-1.3 1.2-.1 .7 .3 0 1.5-1.7 .7zM1590.9 1108.3l-.8-.6-.6-1.4 1.2 .9zM1580.3 1105.8l-1.6-2 1.7-1.8 1.6 1.9zM1589.3 1082.2l-.9-.4-.2-1.1 .8 0 .5 .6zM1587.1 1100.3l-1 .2-.2-1.2 1.4-.1zM1604.3 1086.9l-1-.4 .1-1.1 1-.3 .2 .9zM1610.7 1117.7l-.9 .4-1.3-.6-1.2-1.4 .9-.8 1.5 .5 1 1zM1588 1089.8l-1 .6-1.6-.8 .6-.8 1.6-.1zM1581.7 1089.3l1.7-.9 2.1-.5 .9 1.1-.7 1.1-2.4 .2zM1606.3 1110.6l.1-1.5 1.2-1 .1 1.8zM1597 1093.9l-1.1-1.4 .1-1.4 1.1 .9zM1599.6 1117.7l.1-1.7 2.2 .1-.9 1.7zM1606.3 1083.7l-1.5 .8-1.5-1.5 1.2-1.2 1.7 .3zM1612.2 1118.1l-.6-.9-.1-.8 .6 .6zM1615.4 1116.1l-1.4-.3-.5-1.2 .9-.7 1.3 .8zM1625.8 1078.8l-.7 .6-.8-.7 .9-.7zM1599.3 1095.8l-2 0-1.2-2 .8-.7 1.9 .7zM1590 1091l-1.2 1.3-2.2-.6-.6-.9 .5-1.1 2.2 .2zM1607.3 1077.6l1.6-1.8 2-.3 1.1 1.7-1 1.4-1.8 .5zM1608.7 1122l-1.2-1.3 .5-1.7 2-.2-.3 2zM1588.9 1110.4l0-1.3 1.3-1.1 1.4 .1-1.5 2zM1607.3 1113.9l-.8-.3 .1-.8 .8 .3zM1590.3 1080.1l-1.3-1.4 .8-2 1.6 .9 .2 1.3zM1597.9 1076.5l.8-1.6 1.9 .9-1.1 2.2zM1604.3 1129.9l-1.2 .6-1.7-.3-.1-1.1 2-.2zM1597.6 1082.4l-.6-1.3-.1-1.5 .8-1.2 1.1-.2 .5 1.6-.8 1.4zM1620.4 1074.6l-.3-1.4 .1-1.6 .8-.8 1-.6 .1 1.8-.8 1.5zM1609.4 1108.5l-2 1.1-1.9-1.3-.5-2.2 2.2-.4 2 .5z" fill="#ffebbe"/>
<path d="M1611 1082.9l13-1.3 13.1 14.3-5.2 15.7-13.1 3.9-5.2-11.7 3.9-11.8z" fill="#00bc7b"/>
<path d="M1626.7 1062l10.4 5.2 9.2 17-9.2 3.9-7.8-10.4z" fill="#1f7200"/>
<path d="M1636.2 1086.5l-1.6-.6-.6-2.2 2-.7 2 .6 .4 2.6zM1638.6 1085l-.8 .2-.7-.2 .1-.5 .7-.1zM1630.3 1079.5l.7-2 2-.3-.5 2.1zM1637.9 1081.4l-.6 .6-1.1-.8 1.2-.5zM1641.1 1075.1l-1.3 .1-1.7-.9-1-1.5 1.7-.1 1.8 1.2zM1635.9 1084.7l-1.1-1.1-.4-1.4 1-.5 .8 1.5zM1637.2 1082.2l-.7-.9 .8-.5 .5 .6zM1637.4 1079.6l-.3-1.5 .8-.7 .5 .9zM1634.7 1077.6l.2-1.3 1.9-1 1 .1-.3 .9-1.5 1.2zM1633 1081.9l-1.1-1 .6-1.1 .9 .7zM1638 1080.2l-1.4-.8 .4-1.3 1.1 .5zM1632.4 1077.7l-.5-.9 .1-1 .6 .8zM1627 1065.3l-.2-1.1 1.1-1.1 .9 .9-.7 1.3z" fill="#ffebbe"/>
<path d="M1652.8 1071.1l7.8 2.6 6.6 9.2-1.3 10.4-5.3 5.3 1.3-10.5-3.9-9.1z" fill="#00bc7b"/>
<path d="M1561.3 1069.8l10.5 10.5-2.6 13" fill="none" stroke="#1f7200" stroke-width="3" stroke-linejoin="round" stroke-linecap="round"/>
<path d="M1550.9 1046.3l18.3-1.3 13 6.5 5.3 7.9M1634.5 1028l5.2 10.5 10.5 5.2" fill="none" stroke="#1f7200" stroke-width="2" stroke-linejoin="round" stroke-linecap="round"/>
<path d="M1686.8 1062l-10.5 10.4-10.4-2.6" fill="none" stroke="#1f7200" stroke-width="2.5" stroke-linejoin="round" stroke-linecap="round"/>
<path d="M1477.7 1086.8l5.2-1.3 13.1 5.2 11.8 6.6 5.2 16.9 3.9 18.3 5.2 10.5-1.3 5.2" fill="none" stroke="#00bc7b" stroke-width="2" stroke-linejoin="round" stroke-linecap="round"/>
<path d="M1439.8 1128.6l7.8-4.4 13.1-.8 9.2 9.1 2.6 10.5 7.8 2.6-13.1 7.8-10.4-7.8-7.8-7.8z" fill="#00bc7b"/>
<path d="M1450.3 1129.9l11.7 2.6 7.9 10.5 7.8 2.6 6.5-10.5 7.9 15.7 6.5 7.9 19.6 5.2-1.3 15.7-7.8 7.3-10.5-7.3-10.4-5.3-7.9-10.4-13.1 2.6-9.1-2.6 0-7.9 9.1-2.6-7.8-10.4zM1526 1184.8l14.4-5.2 15.7-2.6 10.5-6.6 7.8-7.8 9.1 1.3 0 7.8-9.1 10.5-10.5 7.8-7.8 9.2-10.5-4-15.6 0z" fill="#1f7200"/>
<path d="M1581.1 1168.6l-.9 1.2-1.1-1.2 1.1-1.4zM1582.3 1169.2l-1.3 .1-1.5-1.5 .4-1.2 2 1.3zM1577.1 1172.8l-2.1 .3-.3-1.9 1.8-.6zM1581.8 1166.6l-2.5-.8-1.7-3 .2-1.8 1.7 .8 1.5 1.9zM1577.5 1170.7l-.4-1.6 1.5-.4 .4 1.5zM1580.1 1171.6l-1.6 .6-.8-1.3 1.3-.5zM1579.8 1171.1l-1-1.1 .7-.9 1 .6zM1583 1168.2l-1.4-1 .8-1.7 1.1-.3 .8 1.9zM1584.2 1169.5l-2.5 .1-.5-1.6 1.7-.5zM1576.9 1166.4l-.7-.9-.1-2.5 .8-.6 .9 .6-.1 2.7zM1577.8 1170.2l2.2-4.5 5.9 .2 .6 4.5-4.5 1.5z" fill="#00bc7b"/>
<path d="M1550.9 1165.2l10.4 3.9 5.3 1.3" fill="none" stroke="#1f7200" stroke-width="1.5" stroke-linejoin="round" stroke-linecap="round"/>
<path d="M1590.1 1169.1l7.8-4.7 10.5 .8 7.8 1.3" fill="none" stroke="#1f7200" stroke-width="2.5" stroke-linejoin="round" stroke-linecap="round"/>
<path d="M1550.9 1144.3l9.1-3.9 6.6 7.8-9.2 1.3zM1459.4 1234.4l18.3-10.4 15.7 1.3 1.3 9.1-7.9 19.6-6.5-1.3-10.4-9.1zM1520.8 1258l3.9-7.9 7.9 0-2.6 13.1-5.3 5.2z" fill="#1f7200"/>
<path d="M1526 1242.3l1.4 7.8" fill="none" stroke="#1f7200" stroke-width="1.5" stroke-linejoin="round" stroke-linecap="round"/>
<path d="M1539.1 1267.1l7.9-7.8 5.2-7.9" fill="none" stroke="#1f7200" stroke-width="1.3" stroke-linejoin="round" stroke-linecap="round"/>
<path d="M1561.3 1263.2l34-1.3-13.1 26.1-9.1-7.8-6.5 11.7-5.3 15.7-15.7 9.2-5.2-5.3 3.9-14.3 4-7.9z" fill="#1f7200"/>
<path d="M1573.1 1222.7l3.9-6.5 3.9 1.3-3.9 7.8zM1556.1 1210.9l3.1-1.3-.5 3.4z" fill="#00bc7b"/>
<path d="M1633.2 1187.4l2.6-.5 1.3 8.3-3.9 .6z" fill="#1f7200"/>
<path d="M1642.3 1191.3l9.2-5.2 3.9 6.5" fill="none" stroke="#1f7200" stroke-width="2.5" stroke-linejoin="round" stroke-linecap="round"/>
<path d="M1647.6 1114.2l-5.3 18.3-6.5 15.7-3.9 13.1" fill="none" stroke="#1f7200" stroke-width="2" stroke-linejoin="round" stroke-linecap="round"/>
<path d="M1617.5 1246.2l0 9.2-2.6 10.4" fill="none" stroke="#1f7200" stroke-width="1.5" stroke-linejoin="round" stroke-linecap="round"/>
<path d="M1428 1389.9l14.4 4 0 7.8-10.4 7.8 3.9 7.9 10.4 2.6 11.8 0-3.9 10.4-5.2 13.1-2.7 8.6" fill="none" stroke="#1f7200" stroke-width="3.6" stroke-linejoin="round" stroke-linecap="round"/>
<path d="M1428 1389.9l14.4 4 0 7.8-10.4 7.8 3.9 7.9 10.4 2.6 11.8 0-3.9 10.4-5.2 13.1-2.7 8.6" fill="none" stroke="#2438ff" stroke-width="1.0" stroke-linejoin="round" stroke-linecap="round"/>
<path d="M1407.1 1315.5l7.9 7.8 15.7 2.6-2.7 10.5 7.9 7.8 5.2 15.7-18.3 2.6-7.8-10.5 1.3-13zM1447.6 1427.8l9.2-7.8 13.1-5.2 9.1-.6 1.3 13.6 24.8 2.6-6.5 21.7-54.9 0 1.3-12.5zM1506.4 1354.7l9.2-1.4 1.3 9.2-10.5 2.6z" fill="#1f7200"/>
<path d="M1513 1345.5l1.3 7.8" fill="none" stroke="#1f7200" stroke-width="1.5" stroke-linejoin="round" stroke-linecap="round"/>
<path d="M1472.5 1308.9l5.2-1.3 1.3 5.2-5.2 .6zM1547 1434.4l7.8-1.3-2.6 5.2zM1571.8 1438.3l7.8-1.3 0 3.9z" fill="#1f7200"/>
<path d="M1524.4 1451.6l-1.2 .9-2.2-1-.2-1.2 2.8 0zM1534.5 1450.5l1.5-1.5 1.9 .3 .2 1.7-2 1zM1526.3 1454.4l-2.8-1.2 .1-4 3.2-.6 1.9 1.8 .5 3.3zM1528.2 1453.4l-1.9-1.3-1.1-1.6 .3-1.7 1.5 .8 1.6 1.7zM1531.6 1452.2l-2.3-.7-2.7-2.8 .7-3.6 2.5 .2 1.7 2 1.2 2.9zM1530.7 1452.7l.2-1.2 1.1-1.9 .7 .6-1 2zM1538.3 1448.1l-.3-1.4 1.6-.2 .1 1.6zM1531 1452.4l-.4-1.2 1.5-2.4 1.5-.2-.4 1.8-.9 1.8zM1545.5 1451.5l-1.1 1.2-2.3 .1-2.1-1.6 1.3-1.5 1.8-1.9 3.2 1.5z" fill="#00bc7b"/>
<path d="M1433.3 1333.7l13-2.6 10.5-3.9" fill="none" stroke="#1f7200" stroke-width="1.5" stroke-linejoin="round" stroke-linecap="round"/>
<path d="M1475.1 1341.6l5.2-7.9M1499.9 1335.1l3.9 3.9" fill="none" stroke="#1f7200" stroke-width="2.5" stroke-linejoin="round" stroke-linecap="round"/>
<path d="M1454.2 1386l10.4-2.6" fill="none" stroke="#1f7200" stroke-width="1.5" stroke-linejoin="round" stroke-linecap="round"/>
<path d="M1477.7 1396.5l15.7-2.6 7.8 10.4 5.2 5.2M1511.7 1420l7.8 2.6 7.9-10.5" fill="none" stroke="#1f7200" stroke-width="1.2" stroke-linejoin="round" stroke-linecap="round"/>
<path d="M1557.4 1406.9l9.2-2.6M1493.4 1277.6l7.8 2.6 1.3 3.9" fill="none" stroke="#1f7200" stroke-width="1.5" stroke-linejoin="round" stroke-linecap="round"/>
<path d="M945.2 1457.2l10.5-5.2 44.4 0 7.8 10.5-5.2 13-10.4 5.2-13.1-2.6-7.8 5.3-10.5-5.3-10.4 2.6z" fill="#1f7200"/>
<path d="M957.4 1460.1l-1.4-.6-.1-2.4 1.3-.6 1.3 .5-.2 2.1zM950.2 1473.3l.8-1.3 2.3-.6 1.2 1.3-1.1 1.4-2.2 .2zM987.3 1472.3l1-.8 1.9 .3-1.6 1.3zM956.5 1473l-1.6 .3-1.6-1.9 0-1.5 1.5 .5 1 1.1zM954.1 1468.9l.2-.6 1.1 .1 .1 .6-.9 .2zM978.6 1463.5l.7-.8 1 .1 .1 .8-.8 .3zM978 1458.4l.3-1.9 2.8-.5 1 1.7-2.5 1.1zM953.2 1478.1l-1.2 .2-.7-.8 1.1-.4zM974.2 1455.8l-.6 .9-1.4-.7 .5-.9 1.3-.4zM988.6 1470.3l.7-.5 1 0-.8 .7zM971.4 1456.3l-1.6-1.2 1.2-1.2 1.5 .7zM1000.1 1476.2l-1.9-.8 .3-1.5 1.5 .3zM1001.1 1470.6l-.8-1 .8-1.1 .8 .3 0 1zM951 1461l.9-1.6 1.4 1.1-.8 1.6zM962.9 1477.9l-1.1-1.6 1.4-.9 .7 1.1zM969 1462.9l-1.4 .5-1.9 .1-.4-1.6 .7-.9 1.3-.8 1.5 1.2zM1001.6 1461.5l.8-2 2.6 .8 .4 2.6-2.6-.1zM949.1 1473l0-1.7 .9-2.1 1 .9-.6 1.8zM962 1465.4l.4-.9 1.1-.8 .1 .6-.7 .7zM975 1457.2l-1.3-.5-.4-1.3 1.1-.5 .7 1zM982.9 1476.1l-1.7 .2-1.5-1.5 .6-1.6 1-.7 1.7 .1 0 1.9zM993.8 1473.1l-.6-.1-.4-1.2 .6 .2 .5 .6zM987.4 1475l-.4 .5-2.1-.6-.5-1-.4-.8 1.7 .6 1.6 .6zM988.4 1457.2l-1-2 .3-2 1.5-.5 .4 2.5zM983.2 1474.5l-.7-.1-.3-.7 .3-.4 .6 .6zM975.3 1458.6l-1.1 .9-.5-1 .6-.7zM984.4 1460.2l-1.1-.6-.5-.9 .5-.5 1.1 .8zM970.7 1476.5l-2.2 .9-.6-2.3 1.1-2.1 2.3 1.3zM962.8 1474.3l-1.2-1.8-.6-2.4 1-.5 1.1 2.6zM962.1 1453.1l.3-1.3 1.4-.5-.5 1.4zM996.3 1459.5l-.7-.9 1-2.1 1.1-.3 .6 .8-.7 2.4zM986 1480.2l.4-.9 2-.2 1.9 0 .2 .9-1.9 .5-1.7 .2zM1000.4 1463.6l-1.1-.2-.9-1.4 0-1.1 .5-1 1.4 .8 .9 2zM948.2 1457.9l-.3-1.1 .7-.7 .3 1zM958.7 1465.3l-.2-2.3 2.5 .1-.2 2.5zM969.6 1481.3l-1.3-1.6 1.7-2.1 2 1.3-.2 2.6zM981.5 1459.2l1.5-2.2 2.5 .3 .7 2.2-2.4 .7zM990.1 1472l-1.3-1.2-.4-2 .8-.2 1 1.6zM994.8 1453.2l-.7-.7-.2-1.2 .8 .2 .3 .7zM963.9 1478.8l-.7 .7-1.1-.5-.5-.8 1.5-.1zM989.3 1457.7l-1.5-.4-.7-1.8 .7-.8 1.1 1.5zM963.2 1465.8l-.8-1.2-.1-1.7 1.3-.6 1.2-.1 .9 1.5-.9 2zM978.2 1468.2l-.6 .6-1-.6 .2-.9 1.2 0zM988.6 1465.5l-1.4-.1-1.2-1.2 1.7 .2zM998.9 1471.9l1-.6 1.6-.2-.3 .7-1.4 .7zM995.8 1471.8l.9-.9 1.5-.3-.2 1.1-1 .8zM978.4 1453l-1.2 1-2-.6 .5-1.3 1.8-.4zM988.9 1479.3l-2.4 .1-2.1-1 1-2 1.7-1.4 1 2zM961.2 1468.6l-.6 .3-.9-.3-.3-.3 1.2 0zM987.1 1474l-1.4-.4 .1-1.4 1.1 .5zM962 1453.8l.5-1.4 1.2-1.6 1.5 1.2 .5 1.3-.4 1.8-2-.5zM980.2 1458l-1.4 .5-1.5-1.6 2.2-.2zM950.8 1455.6l-.4-.6 .3-.9 .6-.3 0 1.3zM957 1468.9l-1.5-.1-.6-1.5 .4-.7 1.2 1zM974.1 1476.3l-1.3-.4 0-1.6 1.3 .7zM951.6 1472.9l.6-2 2.4-.9 .8 1.6-1.8 2zM1003.3 1457.6l-1.9-.1-.5-1.5 .9-1.6 1.8 1.1zM982 1469.3l-.2-1.4 1.2-1.5 .8 .5-.4 1.9zM982.1 1479.3l0-1.1 1.6-.8 .4 1.2-.9 1.5zM974.1 1481.8l-1-1 .3-1.5 1.3 .1 .1 1.3zM979.6 1468.8l1-1.2 1.7-.7 .2 .9-1.4 1zM979.7 1464.3l.6-1.3 1.5 .7-1 1.3zM964.3 1455.2l-2 1.6-1.8-1.4 .4-2 2.1-.2z" fill="#ffebbe"/>
<path d="M1026.2 1501.7l7.9-21 10.4-6.5 10.5 3.9 7.8 13.1-5.2 15.7-13.1 5.2-13 0z" fill="#1f7200"/>
<path d="M1055.2 1490.1l-1-1.4 .4-1.9 1.1-1.6 1.1 1 1.1 1.3-1.2 1.6zM1059.6 1494l-1 .2-.6-.8 1-.2zM1047.8 1487.1l-1-1.7 .2-1.2 .7 1zM1044.8 1484.6l-1.6-.9 .4-1.5 1.5 .5zM1046.2 1508.2l-1.8-1.2-.2-2.3 2-.5 1.4 2.2zM1040.5 1487.8l-.2-1 .8-1 0 1.2zM1048.4 1485.8l.2-.7 1.3 .1 .3 .5-1.3 .4zM1047.2 1480.1l0-1.1 .7-.3 .1 .7zM1049.2 1482.3l-.9 .8-1.1-.5-.1-1.2 1.3 0zM1056.9 1492.3l-1-.2-.5-.9 .7-.5 .9 .5zM1051 1497.1l-.8-.6 .3-1 .8-.4 .5 1.3zM1048.5 1477.5l.6-1.3 2-.3-.8 2.1zM1048.9 1494l-1.3-.4 .2-1.1 1 .2zM1041.5 1482.3l1.3-1 1.9 0 1.9 .3-1.4 1-2 .1zM1032.4 1487.6l-1.5-1.5 .8-2.6 1.6-.4 .3 2.8zM1037.6 1509.5l-2.2 .7-2.1-.9-.3-1.4 3 0zM1052.4 1489.8l-1.3 1.3-1.8-.4-.7-1.5 1.2-1.1 2.2-.3zM1039.7 1489.6l-.9 1.3-2.1-.5-.8-1.2 1-1 2.3-.1zM1059.1 1494.9l-.4-1.6 .8-2.1 2 .6 .2 1.6-.9 1.4z" fill="#ffebbe"/>
<path d="M1081.1 1452l15.7 2.6 13.1 10.5 3.9 13-6.6 13.1-13 0 2.6-10.5-5.2-13-9.2-5.2zM1043.2 1458.5l13.1-1.3 2.6 7.9-11.8 2.6zM968.7 1538.2l10.5-5.2 13.1 2.6-4 13.1 5.3 6.5 9.1 6.6-10.4 2.6-13.1-10.5-7.8-7.8zM974 1655.8l5.2-15.6 7.8-18.3 9.2-15.7 14.4-7.9 15.6-6.5 10.5-6.5 2.6 5.2-13.1 10.5-15.6 10.4-9.2 13.1-2.6 15.7 1.3 10.4-7.8 5.2-13.1 2.6zM1154.3 1491.2l7.8-7.8 18.3-2.7 15.7 4 7.8 9.1 2.7 10.5-5.3 10.4-10.4 3.9-7.9-3.9-5.2 7.9-7.8-10.5-10.5-7.8z" fill="#1f7200"/>
<path d="M1176.8 1484.1l.4-.4 1.3 0 .2 .6-1.4 .2zM1199.3 1504.7l.3-1.5 1.3-.4 0 1.4zM1195.1 1490.6l-.9 .1-.3-1 1 0zM1185 1483l-.3-.8 .4-.9 .4 .2 .1 .9zM1169.1 1505.8l-.7 .2-.9-.5 .2-.3 .9 0zM1186.1 1489.6l-1.4 .8-.6-1.7 1.6-.4zM1192 1512.4l-1.8-1.8-.5-2.1 2-.4 1.6 1.8zM1175.5 1514.4l-1.6-.3-.3-2.1 2 .8zM1182 1497.4l-.7-1 .3-1.6 .8-.3 .4 1.9zM1194.6 1500l-1.1-1.1 .6-1 1 .7zM1197.2 1500.4l-.9 0-.1-1 .6-.4 .9 .6zM1172.7 1508.8l1.6-1.8 1.5 1.2-1 1.5zM1196.7 1510.2l-1.9 .3-1.4-1.5 .9-1.5 1.6-1 .8 2zM1191 1511.4l-1.1 .9-1-1.2 .6-1 1.2 .1zM1195.1 1500l-.8 .7-.9-.9 .3-1 1.4 0zM1186.6 1488.2l-.6 .4-.9-.3 .1-.7 1-.1zM1192.2 1504.6l-.9-1 .1-1.3 .9 1zM1194.9 1494.5l.7-1.9 2.1 1.3-1.5 1.4zM1174.7 1517l-1.6 .4-.4-1.7 1.7-.3zM1195.5 1499.3l-.6-.2-.3-1.3 .4-.1 .6 1zM1189.3 1500.4l-1.3-.7 .8-2.3 1.6-.3 .8 1.3-.5 2.2zM1201 1499.6l-.7 0-.8-.6 1 0zM1181.3 1488.7l-.5-.5 .4-.8 .4 .7zM1171.8 1510.7l-1 .1-.7-.4 .3-1 .9 .4zM1187.2 1497.8l-1.2 .3-.6-1 1.1-.3zM1170 1493.1l.1-1.9 1.5-1.3 1 1.3-.7 1.6zM1188.5 1492.7l.5-1.1 1.4-.3 .4 1.1-1.1 1.1zM1189.6 1498.7l-1.1-.7 .7-1.4 1.1 1.1zM1165.5 1492.8l-1.1-.4-.4-.9 1.1 .2zM1194.9 1498.6l-.8-1.7 1-1.3 .8 1.4z" fill="#ffebbe"/>
<path d="M1190.9 1483.4l7.8-1.3 3.9 9.1-6.5 0z" fill="#00bc7b"/>
<path d="M1195 1483.8l-.8-.9 1.1-.7 1.3 .2-.6 1.3zM1201.1 1491.2l-1.6-.4-.1-1.2 1.2 .1zM1201.5 1491l-.7-1.3 1-.7 1.1 0 0 1.5zM1192.3 1484.2l.2-1.5 1.5-.7 1.6 .1 1.1 1.3-1.7 1.1-1.6 1.1z" fill="#ffebbe"/>
<path d="M1192.2 1538.2l17-23.5 7.8 13.1 7.8 7.8-13 14.4-7.9-7.8-6.5 3.9zM1079.8 1533l11.8-5.2 10.4-6.5 10.5 6.5 15.7-2.6 9.1 3.9-5.2 7.8-9.2-3.9-13 3.9-13.1-3.9-10.5 7.9z" fill="#1f7200"/>
<path d="M1122.9 1517.4l-.5-1.7 1.7-1.5 1.4 1.9-1 1.6zM1121.2 1517l.3-2.1 2-.5 2.3 .2-.4 2.2-.9 1.4-2.2 .6zM1115.5 1523.7l-1.3-2.2 2.5-1.6 2.1 .5 .7 2.1-1.7 3zM1119.9 1519.4l-.4-.7 .7-.9 .8-.3-.3 1.6zM1113.1 1518.1l.8-1.1 1.5-.2-.9 1.2zM1118.2 1519.2l.9-.8 1.5 .3-1.3 .9zM1119.2 1524.5l-4 .5-3.4-4.6 2.7-3.3 4.6 3.4zM1117.5 1521.7l-1.8-.6-1.1-.9-.3-1.3 .6-1.3 1.9 .3 .5 2.1zM1119.9 1515l.3-.8 1.2-.6 .4 .5-1 1zM1114.6 1520.1l-1.5-1.7 .5-1.4 1.3 .8zM1116.6 1527.1l-.6-1.9 .6-1.4 .7 1.4zM1121.9 1514.5l-2 .2-2.8-1.1-1.8-1.7 2.6 0 3.1 .9zM1112.2 1520.5l-1.2 .3-.2-1.2 .7-.7 1 .5zM1111.1 1520.9l.1-1.7 .6-1.4 1.3-1.6 .7 1.3-.1 1.5-1.1 1zM1112.4 1519.7l.9-1 1.4-.3-.2 1.4-.9 1zM1110.6 1522.1l.2-1.8 1.7-2.5 1 1-1.4 2.2zM1120.3 1525.3l-2.2-2.5 2.5-2.8 2.5 .3 2.2 1.9-2.2 2.7z" fill="#4ce600"/>
<path d="M1138.6 1552.6l13.1-5.2 11.7 7.8-1.3 7.9-10.4 2.6-5.3 3.9-5.2-7.8zM1111.2 1552.6l9.1-2.6 3.9 11.8-6.5 1.3zM1086.3 1634.9l7.9-1.3 18.3 6.6 2.6 11.7-18.3-2.6-7.8-3.9zM1135.5 1627.6l10.9-4.4 18.3 15.6-11.7 13.1-6.6-6.5zM1188.3 1624.5l15.6-2.6 2.7-10.5 11.7-1.3-5.2 19.6-9.2 19.6-6.5-6.5zM1055 1661.1l6.5-6.6 7.9 6.6 6.5 0 15.7 13-15.7 5.3-7.9-7.9-7.8 2.6zM1173.9 1658.4l17-7.3 1.3 7.3-14.4 2.7zM1172.6 1637.5l3.9-1.3 6.5 11.8-5.2 1.3zM1249.7 1619.2l9.1-3.9 3.9 11.8-10.4 3.9zM1257.5 1646.7l6.5-2.6 7.9 6.5 17-14.4 5.2 4-14.4 14.3 3.9 9.2-6.5 1.3-9.1-6.6zM1274.5 1569.6l7.8-3.9 10.5 11.7 10.4 2.6 1.3 13.1-11.7-1.3-7.9-9.1zM1318.9 1523.9l10.5-2.6 10.4 11.7 0 13.1-6.5 3.9-7.8-9.1zM1355.5 1525.2l15.7-1.3 9.1 9.1-5.2 9.2-7.8-9.2-9.2-1.3zM1344.5 1525.2l5.3-2.1 1 15.1-4.4 .6zM1294.1 1551.3l10.4-9.1 6.6 10.4-9.2 3.9zM1265.3 1503l7.9-5.3 11.7 5.3 7.9 7.8-13.1 2.6-10.4-2.6zM1264 1553.9l7.9-3.9 3.9 11.8-7.8 1.3zM1414.3 1465.1l14.4-4 13-1.3 4-7.8 50.9 0-2.6 15.7-2.6 15.7 5.2 13 9.2 2.6-4 7.9-10.4 1.3-11.8 9.1-6.5 15.7-5.2 14.4-15.7 1.3-15.7-7.8-10.4-5.3-6.6-15.7 3.9-15.6-5.2-13.1 0-13.1zM1441.7 1553.9l20.9-2.6 10.5 5.2-10.5 10.5-10.4 15.7-10.5 2.6 2.7-15.7zM1318.9 1602.3l13.1-5.3 13.1 14.4 6.5 7.8-14.4 14.4-10.4-6.5-4-13.1zM1316.3 1632.3l6.5-2.6 2.7 7.8-4 5.3-5.2-4zM1309.8 1651.9l19.6-1.3 2.6 3.9-18.3 10.5z" fill="#1f7200"/>
<path d="M1360.7 1676.7l11.8-10.4 3.9 13.1-5.2 7.8-5.2 5.2z" fill="#00bc7b"/>
<path d="M1354.2 1679.4l14.4-10.5 2.6 10.5-2.6 9.1-2.6 3.9-7.9-6.5z" fill="#1f7200"/>
<path d="M1321.5 1682l15.7-5.3 3.9 13.1-9.1-2.6zM1334.6 1661.1l7.8 7.8 2.7 5.2-6.6-2.6zM1447 1606.2l9.1 2.6-3.9 10.4 7.8 10.5-7.8 10.5-7.8-7.9z" fill="#00bc7b"/>
<path d="M1432.6 1615.3l9.1-9.1 10.5-6.6 1.3 9.2-5.2 10.4 5.2 10.5-3.9 6.5-5.2-3.9-6.6-6.5z" fill="#1f7200"/>
<path d="M1414.3 1621.9l11.8-7.9 1.3 5.2-10.5 6.6zM1441.7 1646.7l6.6-4.5-2.6 7.1zM1458.7 1729l5.3-2.6 6.5 2.1 6.5 5.2 9.2-.8 1.3 5.2-7.9 5.3-7.8 3.4-9.2-4.7-4.4-6.6z" fill="#2438ff"/>
<path d="M1180.4 1702.9l6.6-6.6 3.9 6.6-2.6 10.4-4-2.6z" fill="#00bc7b"/>
<path d="M1184.3 1704.2l4-5.2 6.5 7.8 7.8-2.6 1.9 18.3-7.1 1.3-10.4-7.9zM1098.1 1735.5l5.2-1.3 19.6 5.3 13.1 3.9-15.7 2.6-14.4 2.6z" fill="#1f7200"/>
<path d="M1184.6 1768.7l6.3-6.2 7.3 5.7 1 5.8-7 4.1-7.1-2.8z" fill="#00bc7b"/>
<path d="M1188.3 1766.9l6.5 .8 2.6 5.7-6 2.6z" fill="#1f7200"/>
<path d="M1226.1 1774l9.2-5.3 9.9 3.2 3.2 9.9 8.3 4.2-11 6.2-8.3-5.2-7.9-5.2z" fill="#00bc7b"/>
<path d="M1227.5 1773.4l7.8-3.9 9.1 2.6 2.7 9.2 6.5 3.9-7.9 5.2-7.8-3.9-7.8-5.2z" fill="#1f7200"/>
<path d="M1239.7 1775.4l-.5-1 .6-.9 .5 .9zM1242.8 1775.1l-1-.4-1.2-.8 0-1.1 .1-1.5 1.6 1.2 .9 1.7zM1230.8 1781.9l-.6-1.2 .6-2.2 1.3-.9 .6 1.6-.6 2zM1245.7 1781.6l-.9-.2-.5-1.2 .6-.5 .9 1zM1246 1783.9l-.7-.8 .6-.9 .8 .8zM1238.2 1776.8l-.1-2.1 2.1 0 .2 2.1zM1233.9 1784.2l-.6-1 .2-.7 .5 .6zM1240.9 1780.5l.6-.3 .9 0 .4 .4-1.4 .4zM1231.3 1773.9l-1.5-.2-1.5-2.3 2.2-.9 1.4 1.9zM1241 1776l.2-2 2.1-.2 .9 1.6-1.6 .9zM1244.7 1779.9l-1.8-1.7 1.9-1.7 2.2 .4-.1 2.6z" fill="#ffebbe"/>
<path d="M1187 1802.2l14.3-6.6 15.7-6.5 13.1-6.5 2.6 3.9-15.7 7.8-15.7 6.6-11.7 5.2z" fill="#00bc7b"/>
<path d="M1188.3 1802.7l13-5.8 1.3 3.2-12.3 5.2zM1193.5 1820.5l7.8-6.6 7.9-6.5 13 5.2-7.8 5.3-2.6 10.4-7.9 3.9-6.5-3.9z" fill="#1f7200"/>
<path d="M1205.2 1828.3l6.6-3.9 1.3 6-6.5 2.6z" fill="#00bc7b"/>
<path d="M1230.1 1816.5l7.8-5.2 9.2 1.3 0 5.3-9.2 3.9z" fill="#1f7200"/>
<path d="M1239.2 1813.9l7.9-1.8 .7 5.2-7.3 2.6z" fill="#00bc7b"/>
<path d="M1246.1 1816.5l-.8-.8-.3-1.9 1.5 0 .3 1.8zM1247 1818l-.2-1 1.2-.8 0 1.3zM1245.4 1815.2l-.5-1.5 1.5-.8 .1 1.5zM1245.5 1814.6l.6-1 1.6-.1 0 .9-1.1 .6zM1241.3 1816.3l.7-1.2 1.4 .1 .5 1.2-1.5 .9z" fill="#ffebbe"/>
<path d="M1309.8 1756.4l11.7-3.9 18.3 0 13.1-6.5 7.8 2.6-13 10.5-13.1 6.5-10.5 3.9-10.4-5.2z" fill="#00bc7b"/>
<path d="M1334.6 1756.4l18.3-9.6 7.8 1.8-13 10.5-13.1 6.5-7.8-1.3z" fill="#1f7200"/>
<path d="M1316.3 1761.7l13.1-4 1.3 2.7-11.8 3.9z" fill="#ffebbe"/>
<path d="M1371.2 1744.7l10.4-7.9 10.5-3.9-1.3 6.6-11.8 6.5z" fill="#00bc7b"/>
<path d="M1373.8 1744.2l9.1-6.1 1.4 4-6.6 3.9z" fill="#1f7200"/>
<path d="M1257.5 1777.3l11.8-5.2 2.6 3.9-11.8 4.7zM1271.4 1761.7l5.2-1.3 1 5.2-4.4 .5zM1326.8 1715.9l3.1-1.3 2.6 9.2-2.6 .5zM1216.5 1769.5l5.7-5.2 1.3 2.6-5.2 5.2z" fill="#00bc7b"/>
<path d="M1282.3 1763l11.8-2.6 .8 7.3-10.5 1zM1322.8 1786.5l9.2-5.2 10.4 3.9 4 6.5 9.1 1.3-1.3 7.9-9.1-4-7.9-5.2-7.8 5.2-5.3-2.6z" fill="#1f7200"/>
<path d="M1332 1791l-2.4 2.6-5.2-.6 1.1-3.7 4.1-.8z" fill="#00bc7b"/>
<path d="M1301.9 1794.3l11.8-7.8 5.2 2.6-2.6 9.2-10.4 1.3zM1254.9 1794.3l13.1-3.9 2.6 3.4-13.1 3.7z" fill="#1f7200"/>
<path d="M1386.9 1765.6l7.8-3.9 13.1 5.2 10.4 5.2 3.9 3.9-2.6 13.1-9.1 7.8-7.9-1.3 5.3-9.1-7.9-7.8-7.8-6.6z" fill="#4ce600"/>
<path d="M1393.4 1789.1l14.4-6.5 7.8-3.9-5.2 13-10.5 3.9z" fill="#1f7200"/>
<path d="M1418.2 1641.5l3.9 5.2-1.8 6.5-1.6-.5 1.6-5.2z" fill="#4ce600"/>
<path d="M1405.2 1727.7l13 5.2-5.2 10.5zM1414.3 1746l7.8-1.3-5.2 13zM1518.8 1695l21.2-5.2 0 26.1-12-5.2-7.9-5.2zM1488.8 1729l7.8-13.1 7.9-9.1-2.7 14.4 6.6 7.8 6.5-7.8-2.6-7.9 6.5 2.6-3.9 13.1-15.7 3.9zM1496.6 1648l9.2-3.9 9.1 6.5-3.9 13.1-10.5-1.3zM1514.9 1668.9l10.5-10.5 6.5 5.3-5.2 10.4-7.9 5.3z" fill="#1f7200"/>
<path d="M1518.8 1640.2l4-.6 5.2 8.4-6.6 1.3z" fill="#2438ff"/>
<path d="M1480.9 1783.9l7.9-13.1 13-5.2 4 10.4-6.6 13.1 10.5-1.3 14.4 2.6 5.2 6.5-6.5 13.1-9.2 5.2-6.5-10.4-10.5-5.2-7.8-10.5z" fill="#1f7200"/>
<path d="M1509.7 1789.1l18.3 6.5-6.6 15.7-7.8 2.6-2.6-11.7z" fill="#00bc7b"/>
<path d="M1322.8 1862.3l19.6-15.7 11.8-7.8 9.1 5.2 7.9-15.7 7.8-15.7 18.3 1.3-2.6 14.4-6.5 10.5 3.9 13-10.5 7.9-13-10.5-13.1 5.2-7.8 7.9-10.5 7.8-7.8 6-13.1 0z" fill="#1f7200"/>
<path d="M1313.7 1876.1l9.1-8.6 14.4 5.2 10.5 3.4z" fill="#4ce600"/>
<path d="M1413 1849.2l10.4-13.1 7.9-7.8 7.8 7.8-5.2 10.5 11.8 5.2 14.3 3.9 13.1 4 5.2 10.4-10.4-2.6-15.7-5.2-15.7-2.6-13.1-2.6-5.2 7.8zM1483.6 1825.7l7.8-7.8 7.8 9.1-10.4 1.3zM1447 1777.3l3.9-.5 .8 6.6-4.2 .5z" fill="#1f7200"/>
<path d="M1445.7 1452l-1.3 7.8-15.7 1.3-13.1 6.6-1.3 13 6.5 10.5-2.6 13.1 5.2 13-3.9 13.1 9.2 7.8 13 5.3 10.5 6.5 15.7-1.3 10.4 6.5 10.5 9.2 15.7-1.3 3.9 11.7-2.6 13.1 6.5 5.2-5.2 10.5-5.3-5.3" fill="none" stroke="#1f7200" stroke-width="3.6" stroke-linejoin="round" stroke-linecap="round"/>
<path d="M1445.7 1452l-1.3 7.8-15.7 1.3-13.1 6.6-1.3 13 6.5 10.5-2.6 13.1 5.2 13-3.9 13.1 9.2 7.8 13 5.3 10.5 6.5 15.7-1.3 10.4 6.5 10.5 9.2 15.7-1.3 3.9 11.7-2.6 13.1 6.5 5.2-5.2 10.5-5.3-5.3" fill="none" stroke="#2438ff" stroke-width="1.0" stroke-linejoin="round" stroke-linecap="round"/>
<path d="M1494 1582.7l10.5-7.9 10.4 15.7 7.9 7.8-7.9 7.9-13.1 2.6-5.2-10.5z" fill="#1f7200"/>
<path d="M1501.8 1608.8l-2.6 20.9-10.4 20.9-10.5 18.3-15.7 13.1-13 13-2.6 18.3M1436.5 1723.8l-2.6 15.7-5.2 15.6-2.6 18.3M1426.1 1799.6l-10.5 18.3-5.2 18.2-5.2 18.3-7.9 15.7" fill="none" stroke="#1f7200" stroke-width="3.5" stroke-linejoin="round" stroke-linecap="round"/>
<path d="M1324.1 1488.6l5.3 9.1 18.3 1.3 20.9 4 15.7 7.8 15.6 5.2 15.7-2.6M1311.1 1535.6l13 15.7 7.9 15.7 5.2 13 20.9 0 15.7-9.1 20.9 1.3 15.7-10.4 13-7.9 15.7-2.6" fill="none" stroke="#1f7200" stroke-width="2.5" stroke-linejoin="round" stroke-linecap="round"/>
<path d="M1279.7 1598.3l15.7 2.7 15.7 5.2 5.2 10.4-10.4 13.1-10.5 10.5 2.6 18.2 3.9 18.3M1373.8 1570.9l0 22.2 1.3 13.1" fill="none" stroke="#1f7200" stroke-width="3" stroke-linejoin="round" stroke-linecap="round"/>
<path d="M1372.5 1591.8l2.6-.5 .5 7-2.6 0z" fill="#2438ff"/>
<path d="M1220.9 1564.4l-1.3 18.3-2.6 13-15.7 2.6-18.3 5.3" fill="none" stroke="#1f7200" stroke-width="1.5" stroke-linejoin="round" stroke-linecap="round"/>
<path d="M1224.8 1564.4l13.1 5.2 2.6 7.8" fill="none" stroke="#1f7200" stroke-width="6" stroke-linejoin="round" stroke-linecap="round"/>
<path d="M1232.7 1580l10.4 7.9 10.5 10.4 15.7 6.6" fill="none" stroke="#1f7200" stroke-width="3" stroke-linejoin="round" stroke-linecap="round"/>
<path d="M1243.1 1591.8l10.5 2.6 7.8 6.6-10.4-1.4z" fill="#00bc7b"/>
<path d="M1230.1 1621.9l-2.6 18.3-5.3 18.2-2.6 18.3-2.6 10.5 5.2 15.7 5.3 15.7 3.1 10.4M1149.1 1684.6l-10.5 6.5-15.7 2.6-15.7 3.9-13 5.3-9.2 9.1" fill="none" stroke="#1f7200" stroke-width="2.5" stroke-linejoin="round" stroke-linecap="round"/>
<path d="M1085 1684.6l9.2 13M1075.9 1590.5l-13.1 10.5-10.4 7.8-2.6 15.7-7.9 15.7-7.8 15.6" fill="none" stroke="#1f7200" stroke-width="1.5" stroke-linejoin="round" stroke-linecap="round"/>
<path d="M1094.2 1593.1l5.2 10.5-2.6 10.4" fill="none" stroke="#1f7200" stroke-width="2" stroke-linejoin="round" stroke-linecap="round"/>
<path d="M1060.2 1614l10.5-2.6 3.9 6.5" fill="none" stroke="#1f7200" stroke-width="4" stroke-linejoin="round" stroke-linecap="round"/>
<path d="M1019.7 1710.7l-5.2 10.5-2.6 10.4" fill="none" stroke="#1f7200" stroke-width="2.5" stroke-linejoin="round" stroke-linecap="round"/>
<path d="M985.7 1699l14.4-2.7 8.4 0" fill="none" stroke="#1f7200" stroke-width="3" stroke-linejoin="round" stroke-linecap="round"/>
<path d="M1002.7 1582.7l13.1-6.6 7.8-5.2" fill="none" stroke="#1f7200" stroke-width="2.5" stroke-linejoin="round" stroke-linecap="round"/>
<path d="M1128.2 1766.9l5.2 1.3-10.5 13.1" fill="none" stroke="#1f7200" stroke-width="3" stroke-linejoin="round" stroke-linecap="round"/>
<path d="M1120.3 1781.3l5.2-5.3" fill="none" stroke="#1f7200" stroke-width="4" stroke-linejoin="round" stroke-linecap="round"/>
<path d="M1143.8 1796.9l5.3-2.6 10.4-5.2" fill="none" stroke="#1f7200" stroke-width="2" stroke-linejoin="round" stroke-linecap="round"/>
<path d="M1188.3 1828.3l13 13.1 13.1 10.4 10.4 10.5 7.9 13.8" fill="none" stroke="#1f7200" stroke-width="2.5" stroke-linejoin="round" stroke-linecap="round"/>
<path d="M1287.6 1786.5l7.8 13.1 10.5 13 7.8 5.3 3.9 13" fill="none" stroke="#1f7200" stroke-width="2" stroke-linejoin="round" stroke-linecap="round"/>
<path d="M1317.6 1830.9l-11.7 5.2-10.5 6.6M1317.6 1828.3l14.4-5.2 15.7-7.9 15.6-7.8 5.3-15.7" fill="none" stroke="#1f7200" stroke-width="1.5" stroke-linejoin="round" stroke-linecap="round"/>
<path d="M1324.1 1488.6l5.3 6.5M1156.9 1729l0 5.2M1055 1587.9l-7.9 3.9 7.9 6.5" fill="none" stroke="#1f7200" stroke-width="3" stroke-linejoin="round" stroke-linecap="round"/>
<path d="M1046.1 1589.2l8.9 3.9 3.9 5.2-5.2-.5z" fill="#1f7200"/>
<path d="M1257.5 1561.8l1.3 13" fill="none" stroke="#1f7200" stroke-width="1.5" stroke-linejoin="round" stroke-linecap="round"/>
<path d="M1337.2 1661.1l3.9 7.8" fill="none" stroke="#1f7200" stroke-width="3" stroke-linejoin="round" stroke-linecap="round"/>
<path d="M1184.3 1672.8l7.9 .8-6.6 4.4zM1104.6 1661.1l13.1 1.3-1.3 2.6-9.2-.8zM1045.8 1589.2l6.6-1.3 6.5 6.5-3.9 3.9zM1092.9 1747.3l5.2-1.3 2.6 6.5-3.9 0zM998.8 1671.5l7.8-3.9-1.3 7.8-3.9 1.3z" fill="#1f7200"/>
<path d="M1004.2 1669.6l.2-1.7 1.4-1.2 1.6 1.2 .2 2-1.9 1.2z" fill="#ffebbe"/>
<path d="M1075.9 1776l10.4-5.2 2.7 5.2-7.9 2.7zM1018.4 1538.2l11.8-7.8 1.3 6.5-7.9 5.3zM988.3 1505.6l7.9-5.3 3.9 6.6-6.5 3.9zM1126.8 1462.5l6.6-1.4 2.6 7.9-6.5-1.3z" fill="#1f7200"/>
<path d="M1119.8 1483.4l8.4-4-2.1 11.8-5.8 2.1z" fill="#00bc7b"/>
<path d="M1127.3 1484.5l-1 0-.2-1.4 .9-.7 .8 1.3zM1122.8 1491.1l-.5 .7-.9-.5 .1-.7 .9-.2zM1120.9 1487.7l-.1-.6 .5-.8 .4 .1-.3 1zM1122.8 1491.5l-1.3-1.2 .1-2 1.2 1.5zM1127.8 1483.8l-1.5-1.2 .6-1.4 1.6-.6 .5 1.8zM1126.8 1483.6l-1-1.8 .8-2.5 1.1 .4 0 2zM1122.2 1494.4l-1.6-.8-.6-1.7 1.3-.4 1.1 1.2z" fill="#ffebbe"/>
<path d="M1123.6 1482.7l-.9 1.4-2.7-.7 0-1.8 2.6 0zM1122.5 1486.1l.5-2.1 1.9 1.2 .5 2-2.2 .6zM1124.4 1490.5l.1 1.6-3-.9-2.5-.7 1.1-1 1.5-.9 3.2 .5zM1124.6 1491.1l-1.8 0-.9-1.4 1.6 0zM1130.2 1485.8l-2.1 1.5-2.9-1.6-3.4-2.6 2.3-2.3 3.4 .6 3.9 1.6zM1220.9 1496.4l11.8-1.3 5.2 6.6-7.8 6.5-5.3-3.9zM1223.5 1542.2l5.3-1.3 .7 9.1-5.2 0zM1251 1538.2l6.5-1.3-2.6 5.3zM1047.1 1587.9l9.2 5.2 2.6 3.9-6.5 0zM1268 1589.2l5.2-1.3-.8 5.2zM1271.9 1616.6l2.6-1.3 15.7 14.4-2.6 2.6zM1159.5 1533l3.9-1.3 6.6 18.3-4 .8zM1127 1582.8l1.3-3.9 4.3-1.1 2 3 .5 4.3-5 .3zM1131 1577.3l-1.8 .4-.6-1.5 1.6-.6zM1131.3 1582.2l1.5-1.9 2.2 .6-1.2 2.3zM1128.6 1581.1l-1.8-.4-1.1-1.2 1.7 .1zM1135 1582.9l-1.4 .7-3.1-.4-1.3-1.9 2.5-.3 2.9 .4zM1125.4 1576.2l-.9-.4-.5-1.4 1.1 .1 .7 .8zM1122.8 1571.5l-.2-3.4 4.1-.9 1.8 3.1-1.3 2.5-3 1.5zM1473.1 1608.8l7.8 2.6 1.3 9.2-5.2-1.4zM1399.9 1527.8l7.9-1.3 1.3 10.4-6.6 1.3zM1490.1 1678l2.6-5.2 2.6 9.2-3.9 1.3zM1491.5 1675.7l-1-.8-.1-1.3 1.2 .7zM1490.6 1677.4l-1.5-1.1-1.2-1.6-.3-1.7 .9-.5 1.2 1.2 .8 1.8zM1494.5 1673.4l-1.2 .5-1.3-.8 1.4-.3zM1484 1676.9l.7-1.8 2-.6 .2 1.2-.9 1.1zM1485.6 1681.1l-3.3-4 3.9-3.8 3.9 1.6 .1 4.9zM1431.3 1761.7l6.5-1.3 .8 6.5-5.2 0zM1433.9 1725.1l4.7-1.3 .5 6.5-4.7 .8z" fill="#1f7200"/>
<path d="M1257.5 1475.5l5.2-1.3 2.6 5.2-3.9 3.4-3.9-2.1zM1296.7 1454.1l3.9-.8 1.3 3.9-3.9 .5z" fill="#00bc7b"/>
<path d="M1240.5 1466.4l11.8 0 2.6 9.1-3.4 2.6 2.1 13.1 1.3 13.1-2.6 13-2.6 10.5-6.6-5.2 1.3-18.3-1.3-15.7-3.1-5.2z" fill="#ffbebe"/>
<path d="M1274.5 1488.6l3.9-1.3-1.3 5.2zM1288.9 1522.6l2.6-.6 6 7.1-2.1 .8zM1173.1 1607.5l3.4-.8-.8 3.4zM1072.8 1559.7l3.6-.6-1 3.2zM1010 1702.3l3.2 0-.6 3.2zM966.1 1505.6l2.1-.6 0 3.2zM1189.6 1827l3.4 1.3-2.1 2.6zM1117.2 1846.6l3.1 1.3 1.3 7.8-3.4-2.6zM1217 1851.8l3.1 1.3-1.5 2.6zM1311.1 1815.2l3.1 1.3-1 4zM1321.5 1849.2l2.1 0 .5 6.5-2-1.3z" fill="#2438ff"/>
<path d="M1028.6 1471.3l-3.5 .6-3.5-1.3-1.1-3.1 2.9-1.7 4.4 2.1zM1027 1464.7l0-.3 .5-.4 .7-.2 0 .5-.2 .5-.8 .3zM1013.8 1461.1l.1-1 1.1-.9 1-.1 .2 1-1.3 .7zM1011 1467.1l-1.3-.7-.5-1.7 .8-.1 .8 1zM1025 1474.3l-1.9 1.1-2.7-1.6 0-2.2 4.1 .3zM1013.6 1475.6l-.9 .4-1.5-.1 .6-.7 .9-.1zM1019.3 1462.5l-.2-.4 .6-.6 .6-.3 0 .6-.6 .5zM1022.7 1468.6l-1.4-.1-.7-1 .6-1 1.4 .7zM1024 1472.1l-1.2-.3-.2-1 0-1.2 1.1 .5 .8 .9zM1011 1473.5l-.3-1.4 .6-2.2 1.1-1.2 .5 .5 .3 1.3-1 2.2zM974.4 1504.9l-2.9-1.2-1.6-3.7 1.5-3.2 3.2 1.4 .5 3.6zM960.2 1499.7l0-.5 .5-.4 .7 0 .2 .8-.3 .6-.7 0zM959.5 1500.4l-.4 .1-.4-.8-.1-.6 .2-.2 .5 .3 .3 .8zM970.4 1493.6l-.9 1.5-2.6-1 .8-1.7 2 0zM956.7 1498.3l1.2-1.6 2.7-.3 .5 1.6-.2 1.7-2.8 0zM966.9 1506.9l-1.2-.6 .8-1.2 1.3-1 .6 1.5-.2 1.4zM962.8 1498.9l.2-1.4 1.5-1.6 2.2 .5 .6 1.7-1.7 1.4-1.8 .5zM972.2 1496.1l-3.7-2.7 1.8-5.6 4.6 2.5 2 4.5zM997 1512.7l-.3-.7 .7-.5 .9 0 .3 .8-.5 .6-.6 .1zM993.4 1524.1l-1.7-1.2 1-2.5 1.9 1 .1 1.8zM1003.5 1518.2l0-.9 1.8-1.4 1.4 .3 1.3 .4-1.6 1.5-2.3 .8zM1004.8 1512.9l-.6 .6-1.5-.4-1.4-.5-.2-1 1.9 .2 1.4 .3zM994.8 1521.1l-2.9-3.5 1-5 3.7-1.9 3.2 2.9-2 4.2zM1086.3 1511.7l-.8-.5-.8-.8 0-1.3 .7-.4 .8 1.2 .8 1.1zM1076.2 1504.1l-1.8 1.8-2.9 1.3-1.9-2.5 .6-2.4 2-2.3 2.5 2zM1078 1512.9l.1-1.4 1.5-.8 1.3-.6 .6 .9-.4 1.4-1.5 .3zM1077.6 1513.1l-1.6 .5-1.8 .2-.9-1.5 .3-1.2 1.7-.2 1.2 .9zM1087.6 1512.6l-.9 .6-1-.6 .3-.9 1.3-.3zM1085.5 1511.9l-2.2-1.4-2.3-2.8 .9-2.1 2.4-.5 1.1 4.2zM1064.1 1553.4l-4.3 1.9-5-.1 .6-4.1 5.2-1zM1023.9 1535.1l-1.6 .1-2.2-.7 .2-1.2 1.1-.5 2.6 .7zM1021.2 1536.2l-.5-.6 .6-.7 .9-.1 0 .9-.4 .5zM1023.9 1539.6l.2-.9 1.1-.4 .7 .5-1.1 1.1zM1030.7 1533l-1.3 .7-1.6 0-.9-1 1.1-.8 1.8-.1zM1031.8 1539.3l-1.9 .8-2.2 .1-1.3-2.4 2.6-.8 2.1 .2zM1128.5 1569.1l-.6-.3-.2-.7 .1-.7 .6 .1 .4 1zM1120.3 1576.8l-.5-.4-.2-.9 .4-.3 .3 .2 .1 .7zM1126.8 1570.6l-1.7-.1-1.5-1.5 1.1-.9 1.9 .8zM1125.7 1573.2l-2.6-2.5-2.1-2.2-.9-3.9 2.4 .8 2.5 .8 1.4 4.2zM1120.7 1584.8l-2.4-3 3.2-3.1 2.9 1.8-.7 3.4zM1068.8 1621.5l-3 1.9-4-1 .1-3.4 4.5-.3zM1063.5 1619.9l-1.2-.1-1.4-1.1 1.2-.5 1.3 .4zM1063.2 1621.8l1-.8 1.4-.4 .7 .4-.4 .8-1.5 .3zM1058.2 1621.3l.9-1.4 1.2-.4 1.4 .2 .2 1.4-1 .9-1.3 .1zM1282.3 1478.5l-.1-.9 1.1-.5 .3 .6-.5 .8zM1289.5 1481.1l-4.4 2.1-2.5-4.2 1.8-2.7 4.9 .1zM1203.1 1471.5l-.4-.2-.4-.6 0-.7 .5 .6 .5 .6zM1195 1472.4l-.2-1 0-1 .8-.2 .5 .5-.2 1.3zM1204.4 1471l-.3-.3 .2-1 .5-.3 .1 .7-.2 .9zM1204.2 1463.8l-.4-1.1-.3-1.1 .8-1 .9 0 0 1.4-.3 .8zM1202.5 1468.7l-1-.2-.6-1.4 1.2-.8 .8 1.4zM1197.4 1473.4l-.3-.2 .1-.8 .3-.4 .3 .5-.1 .8zM1202.5 1469.8l-.7-1.2 .4-1.5 1.1 .5 .5 1.4zM1203.4 1473.6l-.7-.1-.2-1.1 .3-.9 .7 .4 .5 .4-.2 .9zM1203.5 1474.6l-3.4-.4-2.1-4.6 2.8-1.8 4 3.5zM1168.8 1476.3l-1.5 .5-2.2-1.6-.7-2.1 1.5-.2 1.5 0 1.2 1.8zM1152.4 1465.2l2-1 3.5-.5 1.5 1.3-2.3 .9-2.8 .3zM1157.3 1478.6l-2.5-2.3-1.1-3.4 3.4-1.4 2.8 1.6 .2 3.3zM1159.6 1473.1l-2 .1-.6-1.9 .3-1.8 1.8-1.4 1.3 2 1.1 1.9zM1159.7 1463.9l-1.1 .4-1.3-1-.3-.8 .9-.1 1 .5zM1159.7 1465.6l.4-1.2 1.4 .3 .2 1.2-1.2 .2zM1166.1 1473.2l-1.1 .1-.6-1.6 .6-1.1 1 .8 .4 1zM1184.8 1469.2l-.8 0-.7-.4 .1-.6 .5-.4 .6 .7zM1183.2 1458.5l-1 .7-1.4 0-.5-1 .3-.6 .7-.9 1.4 .6zM1182.2 1458.8l-.9-.3-.8-.5-.3-1.1 1.1 .4 1.1 .6zM1184.3 1468.3l-.8 .9-2.1-.5-1.1-1.3 1.4-1 2.4 .6zM1185 1470.2l-1.3-1.7 1.2-2.1 1.6-1.7 .6 2.3-.3 2.2zM1507.4 1827.3l.2-.8 1-.4 .4 .6-.7 1.1zM1491.3 1829.6l-1.7-2.1 2.5-4.3 2.8-.2-.8 5.9zM1502.8 1831.8l.3-1 .6-.6 .2 .4-.2 .8zM1510.4 1829.9l-2 1.8-2-2 .7-2 1.4-1 2.6 .7zM1501.2 1825.9l-1.1-1.4 1-2.7 1.6-.1-.4 2.8zM1499.6 1836.6l-2.3 .8-4.4-2.5 1.2-1.8 4.6 1.2zM1433.8 1841.4l-1-1 2.6-3.6 2.6-1.2 1.7 .2-1.5 3.4-2.9 1.9zM1432.7 1842.9l-.6-1.2 .5-1.8 .9-2.2 .8 1.4 .6 1.3-.8 2.4zM1436.5 1841l.3-1.2 1.3-1.4 1.6 1 .6 1.3-.9 1.8-2-.7zM1443.7 1847.8l-1.1 .1-1.4-.6-.8-1-.5-1.5 2.2 1 1.7 1zM1433.3 1849.8l-.4-.4 .6-.8 .6 0 .2 .5-.5 .7zM1435 1848.1l-1.7-.6-1-2.5 1.3-2.6 2.2 .5 1.3 2-.2 2.7z" fill="#1f7200"/>
<path d="M1504.5 1496.4l5.3 1.3-2.7 6.6-3.9 1.3zM1512.4 1475.5l3.9 1.3 1.3 11.8-2.6-.5z" fill="#00bc7b"/>
<path d="M1514.1 1479.3l-.4-1 .1-1.4 .4-1.6 .6 .2 .3 1.4-.3 1.9zM1512.9 1481.5l-.1-1.7 1-1.5 1 .8-.5 1.5zM1511.4 1481l1.5-.7 1.6-.3 1.1 .4-.9 .7-1.8 .3z" fill="#ffebbe"/>
<path d="M1521.5 1454.5l2.7-1.5 4.1 .1 .4 1.7-4.1 .5zM1530.4 1453.1l.7-1.8 2.1-1.2 1.3 1.8-.7 1.8-1.8 .5zM1528.7 1458.9l1.6-3 2-2.8 3.2 .9 .5 2.4 0 3.4-4.4 1.2zM1531.3 1457.2l-.4-1.5 .9-1.1 .2 1.3zM1527.4 1455l-3.1 .9-2.4-3.7 3.6-2.6 2.8 2.6z" fill="#00bc7b"/>
<path d="M1522.8 1491.2l13.1-7.8 15.7-5.3 15.6 1.3M1525.4 1564.4l10.5-9.2 7.8-7.8" fill="none" stroke="#1f7200" stroke-width="1.5" stroke-linejoin="round" stroke-linecap="round"/>
<path d="M1518.9 1640.2l3.9-.6 5.2 8.4-6.5 1.3z" fill="#2438ff"/>
<path d="M1522.8 1646.7l10.5-2.6 3.9 10.4-7.8-1.3zM1541.1 1614l3.2 1.3 .7 11.8-2.6 3.9-1.8-9.1z" fill="#1f7200"/>
<path d="M1541.1 1726.4l5.2-23.5 7.9-9.2 9.1 5.3 6.6 7.8-4 14.4 6.6 7.8 10.4 6.5 15.7 7.9 10.5 11.7-6.6 9.2-19.6-11.8-20.9-13-10.4-2.7z" fill="#4ce600"/>
<path d="M1567.2 1710.7l5.3-3.9 7.8 9.1 0 18.3-10.4-2.6-4-10.4z" fill="#1f7200"/>
<path d="M1636.5 1730.3l7.8-7.8 7.9 11.7-7.9 10.5-6.5-1.3zM1609.1 1752.5l7.8-10.4 13.1-2.6 2.6 5.2-15.7 7.8z" fill="#4ce600"/>
<path d="M1598.6 1743.4l13.1 7.8-5.3 3.9zM1618.2 1752.5l11.8-6.5 6.5 6.5-3.9 10.5-10.5-5.3zM1640.4 1740.8l7.9-2.7 1.3 6.6-6.6 2.6z" fill="#1f7200"/>
<path d="M1662.6 1676.7l9.2 0 5.2-6.5 7.8-1.3 3.4 6.5-3.4 5.3-10.4 2.6-9.2-1.9z" fill="#2438ff"/>
<path d="M1675.7 1683.3l9.1-1.3 7.9-.6-2.6 4.5-13.1 2.6zM1649.6 1715.9l6.5-5.2 5.2 2.6 0 10.5-6.5 2.6zM1626 1709.4l4.5-.5 .8 5.7-4.7 .6zM1650.3 1701.6l7.1-1.9-3.9 6.3zM1687.5 1713.3l7.8-6.5 14.4 2.6-2.6 6.5-6.6 7.9-10.4-2.6zM1653.5 1765.6l7.8-13.1 7.9-7.8 10.4 3.9 1.3 7.8-9.1 1.3-7.9 4-6.5 6.5zM1704.4 1748.6l5.3-2.6 6.5 3.9-5.2 3.9-5.3-1.3zM1677 1769.5l7.8-2.6 5.3 7.8-6.6 6.6-5.2-4z" fill="#1f7200"/>
<path d="M1684.6 1773.1l-1.7 1.2-2.1-1.4 .6-2.4 2.1-.2 1.3 1.2zM1677.9 1775.9l-.6-1.1 1.1-.2 .3 .9zM1685.4 1779.3l-.5 1.2-1.3-.7-.1-1.2 1.3-.3zM1683 1772.4l-.4-2.3 .7-1.7 1.4-.6-.5 2.6z" fill="#ffebbe"/>
<path d="M1750.2 1700.3l15.7-13.1 5.2-10.5-2.6-9.1 15.6-5.2 1.4 9.1 14.3 2.6 7.9 7.9-4 13 14.4 1.3 15.7-7.8 15.7-6.5 14.4-13.1 3.9-10.5 10.4 2.7 10.5 7.8 19.6-1.3 1.3 22.2-6.6 10.5-14.3 6.5-10.5-3.9-10.4 7.8-7.9 7.9-15.6 10.4-13.1 3.9-6.5 11.8-11.8-7.9-13.1 2.7-10.4-5.3-2.6-10.4-10.5-5.2-13.1 5.2-7.8-7.9z" fill="#1f7200"/>
<path d="M1900.8 1673.5l-1.3-2.2 1.7-1.2 1.4 1.6zM1879.5 1681.9l-1-1.5 2.4-2 1.8-.6 1 .7-.3 2-2.3 1.7zM1845.1 1700.7l-2.2-1.2 .2-3.2 3-1.5 1.5 2.7 .7 3.5zM1852.4 1693.5l1.6-5 5.4-.5 2.4 3.7-4.6 2.9zM1860.8 1686.1l-.9-.8-.8-1.7 .9-.7 .9 2zM1832.5 1690.1l-3.2-.9 .2-3.7 2.6-1.8 2.7 3.8zM1876.1 1680.3l-.7-.8 .9-.8 1 .2-.1 1.3zM1903.8 1688.3l-3.7-1.8 2-3.7 4.2-1.3 1.5 5.1zM1907.5 1690.4l-1.8 1.3-2.3-.2-1.7-1.3 1.6-1.4 2.2 .5zM1905.5 1675l.5-3.8 3.8-3.5 2.2 2.9-2.9 3.6zM1897.2 1692.6l.1-1.7 1.8 .2-.4 1.4zM1866.5 1691.1l-1.2-4.1 2.6-4.5 3.1 3.1-.3 4.1zM1895.6 1669.1l2.4-2.7 4.3 .6-.1 3-3.7 1.1zM1842.2 1687.2l1-.7 1.2 0 .4 .8-1.4 .3zM1881.2 1683.3l-.9-.4 0-1 .7 .5zM1869.8 1665.1l-3-.2-2.1-.5-1.2-1.8 .9-1.1 2.1-1 2.5 2.1zM1903.3 1678.6l-2 1.3-3.5-1.1 1.4-2.8 3.9-.7zM1854.8 1685.6l-2.2-.8 .1-3 .8-1.9 1.9 .9 1.3 3.4zM1887.7 1671.4l-1.4 .3-.9-2 .9-.6 1.4 1zM1889.3 1689.3l-4.3 .8-3.1-1.6-1.6-4.6 4.8-1.1 3.9 1.8zM1874.8 1682.7l-1.3 .6-.8-1.3 1.4-.4zM1852 1702.2l1-1.6 2.7-.7 .9 1.5-2.8 1.9zM1891.6 1691.3l1-1.7 2.9-1.5 .4 1.4-2.3 1.9zM1834.8 1694l-1.2-2.3 1-2.3 2.4-.2 1.5 1.9-1.4 2zM1882.9 1678.6l-3.3-1.2-3.2-3 1.6-1.1 3.5 2.2zM1830.3 1705l.5-3.6 4.6-2 1.1 4.5-3 2.9zM1832.5 1697.5l.2-1.2 1-1.1-.2 1.5zM1888.8 1681.5l-1.5-2.7 .9-3.3 2.6-.4 2.1 1.8-1.4 3.1zM1870.8 1665.4l1.6-2.2 3.5 .2 .3 2.4-3.4 2zM1826.6 1691.8l.3-3.6 2.8-3.5 2.9 2-2 5.2zM1832 1702.5l-1.2-.4-1.4-1.6 .9-.8 1.7 1.6zM1886.8 1673l-1.9 2.9-3.6-.6-2.3-2.4 1.4-3.8 4.6 .9zM1844.9 1711.9l-4.1-2.9-.4-3.9 3-1.9 3.6 3.8zM1898.8 1677.4l-2.5-2.2 1.7-4.6 3-.9 2.4 2.2-1.7 4.5zM1901.4 1679.6l-.8 .5-1.3-.6 .4-.7 1.2 .1zM1900.5 1683l-.9-4 1.3-4.4 2.1 1.2-.3 3.7zM1900.4 1672.5l-.3-1.3 1.3-.2 .4 1.3zM1900.8 1688.4l.4-1.3 2.7-.3 1.3 1-1.5 .9-2.1 .9zM1900.3 1684.5l-2 1-2.5-1 .7-1.4 2.6-.7zM1899.1 1673.4l-1.2-.1-1-2.2 1.1-.2 1.5 1.4zM1893.3 1676.5l.8-1.4 2.2 .5-1.5 1.9zM1893.3 1678.9l.2-.7 1.1-.7 .4 .5-1 1zM1907.9 1673.2l-1-.4 .2-1.4 .9-.3 .7 1.3zM1903 1676.2l-2.9-3.7-.5-5 4.6 1.2 2 3.7zM1906 1685.7l-1.8-3.8-.6-5.5 2.3 .1 1.3 5.4zM1820.7 1735.5l10.5-2.6-5.2 13.1zM1761.9 1698.2l2.9-2.5 2.9-2.2 3.7 1.6 .3 3.4-3.4 1.6-3.3 .2zM1765 1697.9l-1.6-3 1.5-5.1 3.1 1.1-.5 4.7zM1764.5 1695l2.1-2.7 3.2-1.3 4.2-.3-2.4 3.1-3.7 1.4zM1831.2 1697.6l13.1-2.6 2.6 13.1-10.5 1.3z" fill="#00bc7b"/>
<path d="M1840.9 1700.1l-.8 .6-1.8-1-.7-1 .2-.6 1.3-.1 1.4 1.2zM1841.3 1700.8l.2-.8 1.3-.5 .3 .6-1 .9zM1838.9 1706l-1.5-2 .2-1.9 1.4-.1 1.5 1.9zM1838.2 1708l-.6-1.7 1.5-2 .8 .9-.2 1.9zM1833.8 1701.6l-1.2-1.3-.5-1.4 1.1-.8 .7 1.7zM1836.1 1708.3l.2-.9 .9 .1 .6 .9-1 .7zM1840.6 1702.7l1.2-.7 1.5 0 .1 .5-1.3 .3zM1834.7 1703.3l-.4-1 .7-1.2 .4 1.3zM1835.3 1700.3l-.1-1.6 2-.9-.1 2.4zM1843.8 1703.9l-2.2-.3 0-1.6 1.9-.5zM1834.9 1702.5l.5-1.4 1.7-1 1.3 1.1-.4 1.7-1.9 .7zM1873.4 1668l1.6-1.2 1.5 1.1-1.4 1.2zM1871.3 1664.8l-1.1 .7-1.2-1 1.5-.7zM1878.6 1667.9l-1.5-.2-.4-1.8 1.1-.6 1 1.3zM1879.7 1665.7l-1.2 .4-.9-1.4 .4-1.1 1.4 1.1zM1867.5 1673.1l-.7-5.5 5.4-2 3.6 4.2-3.4 3.7zM1854.5 1687.9l-.9-.6 .1-1.7 .9-.1 .5 1.5zM1850.7 1695l-.3-5.9 3.2-3.9 5 2.9-1 6.5z" fill="#ffebbe"/>
<path d="M1754.1 1735.5l14.4-10.4 11.7 6.5-10.4 13.1zM1763.2 1650.6l7.9-1.3 5.2 6.5 7.8-5.2 1.4 5.2-14.4 5.3z" fill="#1f7200"/>
<path d="M1746.3 1659.8l18.2 2.6-1.3 3.9-16.9-2.6z" fill="#4ce600"/>
<path d="M1756.7 1666.3l6.5 .5-1.3 4.2-4.4-.8zM1739.7 1676.7l10.5-2.6-2.6 9.2-6.6 0zM1823.3 1616.6l7.9-6.5 6.5-1.3-.8 10.4-8.3 2.7zM1752.8 1611.4l13.1-1.3 5.2 6.5-10.5-1.3z" fill="#1f7200"/>
<path d="M1728 1644.1l5.2-.8 2.6 6-6-.8zM1751.5 1740.8l3.9 .7-2.1 3.7zM1759.3 1746l3.9 .8-2.1 3.1z" fill="#2438ff"/>
<path d="M1713.6 1634.9l7.8-10.4 10.5-7.9 13-5.2 10.5-1.3" fill="none" stroke="#1f7200" stroke-width="7" stroke-linejoin="round" stroke-linecap="round"/>
<path d="M1714.9 1636.2l7.8-10.4 10.5-7.9 13.1-6" fill="none" stroke="#2438ff" stroke-width="2" stroke-linejoin="round" stroke-linecap="round"/>
<path d="M1661.3 1665l15.7-1.3 10.5-5.3 13 0 13.1-5.2 2.6-13 5.2-7.9" fill="none" stroke="#1f7200" stroke-width="5" stroke-linejoin="round" stroke-linecap="round"/>
<path d="M1663.9 1666.3l10.5-2.1 18.3-3.1 13-1.3 11.8-4" fill="none" stroke="#2438ff" stroke-width="1.5" stroke-linejoin="round" stroke-linecap="round"/>
<path d="M1709.7 1650.6l7.8-15.7 5.2 10.5 9.2 13 3.9 5.3-11.8-2.6-10.4-2.7z" fill="#1f7200"/>
<path d="M1716.2 1637.5l3.9 13.1 6.6 7.8 7.8 4" fill="none" stroke="#2438ff" stroke-width="1.5" stroke-linejoin="round" stroke-linecap="round"/>
<path d="M1712.3 1666.3l5.2 13.1 2.6 18.2 3.9 15.7-2.6 10.5 7.9 5.2 7.8 2.6 2.6 13.1-2.6 15.7-5.2 13-6.6 15.7-5.2 10.5-2.6 13-5.2 5.3" fill="none" stroke="#1f7200" stroke-width="4" stroke-linejoin="round" stroke-linecap="round"/>
<path d="M1712.3 1817.9l-11.8 5.2-13 7.8-10.5 10.5-5.2 13-5.2 10.5" fill="none" stroke="#1f7200" stroke-width="2.5" stroke-linejoin="round" stroke-linecap="round"/>
<path d="M1739.7 1744.7l7.9-5.2" fill="none" stroke="#1f7200" stroke-width="2" stroke-linejoin="round" stroke-linecap="round"/>
<path d="M1724 1713.3l10.5-5.2 13.1-7.8M1721.4 1817.9l5.3 15.6 2.6 20.9-2.6 21.7" fill="none" stroke="#1f7200" stroke-width="2.5" stroke-linejoin="round" stroke-linecap="round"/>
<path d="M1742.3 1763l15.7 10.4 13.1 7.9 5.2 7.8M1729.3 1778.7l7.8 13 5.2 13.1" fill="none" stroke="#1f7200" stroke-width="1.5" stroke-linejoin="round" stroke-linecap="round"/>
<path d="M1550.3 1684.6l1.3-13.1 5.2-13.1M1550.3 1684.6l-7.9 10.4-6.5 18.3-1.3 15.7M1522.8 1752.5l7.9-7.8 13 2.6 10.5 13.1 5.2 15.6 10.5 7.9 10.4 7.8 0 26.2 2.6 18.2 7.9 10.5-7.9 13.1-10.4 10.4" fill="none" stroke="#1f7200" stroke-width="3" stroke-linejoin="round" stroke-linecap="round"/>
<path d="M1577.7 1789.1l7.8-1.3 1.3 13.1-6.5 1.3z" fill="#1f7200"/>
<path d="M1590.8 1846.6l10.4-7.8 7.9-2.7" fill="none" stroke="#1f7200" stroke-width="2" stroke-linejoin="round" stroke-linecap="round"/>
<path d="M1671.8 1721.2l-7.9 13-13 15.7-7.9 15.7-6.5 7.8 1.3 15.7 7.8 10.5" fill="none" stroke="#1f7200" stroke-width="3" stroke-linejoin="round" stroke-linecap="round"/>
<path d="M1645.6 1799.6l-10.4 7.8-10.5 6.5M1586.8 1679.4l.8 13-2.1 10.5M1632.6 1701.6l3.9 11.7 2.6 10.5" fill="none" stroke="#1f7200" stroke-width="2" stroke-linejoin="round" stroke-linecap="round"/>
<path d="M1692.7 1770.8l7.8 5.2 9.2 5.3M1792 1606.2l5.2 13 1.3 21-1.3 20.9" fill="none" stroke="#1f7200" stroke-width="1.5" stroke-linejoin="round" stroke-linecap="round"/>
<path d="M1556.8 1661.1l10.4-2.7 10.5 5.3-5.2 6.5-10.5-3.9zM1631.3 1659.8l7.8-6.6 6.5 7.9-9.1 5.2zM1682.2 1653.2l5.3-4.7 5.2 9.9-7.9 2.7zM1603.8 1679.4l13.1-4 1.3 6.6-9.1 3.9zM1601.2 1668.9l10.5-1.3-2.6 5.2zM1548.4 1786.5l13.6-6.5 1.3 3.9-11.7 6.5z" fill="#1f7200"/>
<path d="M1558.1 1780.7l5.2-2-.8 3.1z" fill="#2438ff"/>
<path d="M1635.2 1862.3l15.7 1.3-2.6 12.5-13.1 0zM1609.1 1859.7l11.7-4 1.3 7.9-9.1 1.3z" fill="#1f7200"/>
<path d="M1611.7 1874l10.4-5.2 5.3 2.6-5.3 4.7-9.1 0z" fill="#00bc7b"/>
<path d="M1643 1829.6l14.4-1.3 1.3 7.8-7.8-1.3zM1761.9 1765.6l9.2 9.1 5.2 11.8-6.5-5.2zM1792 1773.4l10.4-1.3 4 6.6-9.2 1.3zM1832.5 1756.4l7.8 2.7 1.3 6.5-6.5-1.3zM1658.7 1802.2l7.9-6.6 10.4 7.9 3.9 6.5-6.5 6.5-10.5-3.9z" fill="#1f7200"/>
<path d="M1620.8 1816.5l11.8 1.4 1.3 10.4-6.5 1.3z" fill="#00bc7b"/>
<path d="M1619.5 1813.9l13.1-7.8 10.4-3.9-1.3 10.4-6.5 5.3-13.1 0z" fill="#1f7200"/>
<path d="M1632.6 1812.6l9.1-9.1-.8 10.4-5.7 4z" fill="#00bc7b"/>
<path d="M1633.8 1814.5l.1-.7 1-.4 .1 .9-.5 .8zM1635.9 1809.6l.8-1.3 1.7-.6 .4 1.4-1.4 1.2zM1635 1817.2l1.1-1.2 1.4-.7 1.5-.1 .8 .8-1.6 1.1-1.9 .6zM1641.1 1812.3l-1.7 0 0-1.8 1.9 .1zM1640.3 1810.2l-2.1 .3-.3-2.5 1.6-1.2 1.8 1.7z" fill="#ffebbe"/>
<path d="M1709.7 1796.9l6.5-2.6 3.9 15.7-6.5 6.5z" fill="#1f7200"/>
<path d="M1777.6 1802.2l6.5-13.1 6.6-.5-1.3 16.2-5.3 6.5-5.2-1.3z" fill="#00bc7b"/>
<path d="M1784.1 1791.7l13.1-3.9 10.5 6.5-1.3 7.9-14.4 2.6-5.2 3.9zM1780.2 1838.8l6.6-13.1 10.4 2.6 5.2-10.4 13.1-4 13.1 9.2 0 7.8 13 0 5.3 13.1-2.6 13.1-10.5 7.8-10.5 5.2-7.8-7.8-13.1 2.6-7.8-10.5-7.8-10.4z" fill="#1f7200"/>
<path d="M1794.6 1844l13.1-7.9 15.6 2.7 18.3-7.9 5.3 13.1-2.6 13.1-10.5 7.8-10.5 5.2-7.8-7.8-13.1 2.6-15.6-5.2 10.4-5.3z" fill="#00bc7b"/>
<path d="M1831.5 1866.8l.1-1.5 .6-1.4 1-1 .5 .5 .1 1.2-1.1 1.4zM1797.5 1857.7l1.2-1.4 1.4 .4-.7 1.4zM1810.9 1858l.3-.4 .8-.2 0 .3-.7 .6zM1815.3 1851.3l-.6-1.6 1-1.1 .5 1.3zM1827.9 1847.2l-.1-.6 .4-1.3 .4 .5-.1 1.1zM1823.6 1855.6l-.5-.9 1.1-1.8 .9 .8-.3 1.8zM1830.3 1861.1l-.2-1.1 .5-1 .1 1.1zM1827.1 1844.1l-1.1-.7-.5-1 1.1 .5zM1818.8 1860.5l-.7 .2-.6-.6 .9-.3zM1808.9 1837.8l-.1-.7 .8-1 .7 .2-.7 1.4zM1821.4 1848.7l.7-1 1 .5-.6 .7zM1832 1840.3l-.4-1.9 1.6-1.3 1.1 1-.4 2zM1830.7 1856.8l-.4-1.1 1.2-.2 1.1 .5-1.1 .9zM1814.1 1842.3l-.5-.4-.3-1.1 .4 0 .5 .9zM1831.1 1846.6l.2-1.1 1.8-1.3 .8 1.1-.4 .9-1.5 1zM1795.3 1856.9l-1 .2-.1-1.2 .6-.6 1.2 .7zM1803.6 1862.3l-.4-1.5 .7-.8 .4 1zM1801.1 1858.3l.1-1.8 1.7-.8 1.8 .1 .8 1.6-1 1.7-2 .2zM1808.4 1844.4l-.4-.4 .1-1.1 .6 .1 0 .9zM1812.6 1851.5l.5-.8 1.1 0-.7 .8zM1833.4 1854.3l-.6-1.6 1.2-1.8 .9 2.1zM1830.2 1853.3l-.9 .6-1-.7 1.1-.4zM1796.1 1862l-.9-.5-.3-1 1.2 .3zM1832.2 1862.3l-.5-.4-.1-.9 .7-.2 .5 1zM1798.8 1858.9l.7-.6 1.2-.1-.1 .7-.9 .3zM1797.7 1863.2l-1.5 .2-.5-1.3 .9-1.2 1.4 .8zM1841.3 1857.8l-.2-.8 1-.3 0 .9zM1831.6 1849.9l-1.6 .2-.5-1.5 1.1-.6 1.2 .3zM1826.5 1864.4l1.1-1.2 1.3 1.1-1.3 2zM1806.4 1859.1l0-1.6 1.5-.5 .4 1.8zM1829.9 1857.2l1.4-.9 1.3 .6-1.1 .9zM1805.5 1864.5l-.8 .3-.6-1 .2-.7 1.2 .5zM1833 1849.6l-.9-1.3 1.8-1.3 1.1 1.3-.6 1.5zM1833.6 1865.3l-.7 .9-1.3-.9 .3-1.2 1.5 .3zM1836.7 1842.1l-1.4-.9 .1-1.6 1.1-.4 1 1.4zM1825.7 1843.1l-1.1 1.1-1.8-.9-.6-1.8 1.6-1.3 2.2 1.2zM1835 1835.6l.5-.9 1-.5 .8 .6-1.2 .9zM1824.3 1848.3l-1.1-1.4 1.3-1.6 1.5 1.7zM1800.3 1847.5l-1-.3-.9-1 1.3 .3zM1836.2 1853.1l-.7-.2 0-1.1 1.1-.2 .1 1zM1815.7 1854.9l-1.4 0 0-1.4 1.2 .2zM1840.2 1846.2l-1.2-.9 .3-2 1.8 .2 .4 1.8zM1827.3 1842.5l-1.2 .4-.8-.5-.1-.9 1.4-.1zM1815.8 1845.7l-1.5-.3-.7-.9 1.1 .1zM1818.6 1850l-.6-.5 .1-.9 .6-.3 .2 1zM1819.5 1856.5l1-1.8 2-1 1.2 .5-2.1 1.6zM1802.5 1857.9l.7-1 1.4-.2 0 .8-.9 .7zM1797.7 1855l.4-1.6 1.5-.6 .9 1.3-1.1 1.6zM1841 1850.5l.4-1 .8 .4-.3 .9zM1845.5 1853.1l-1.1-.3-1.2-1.1-.6-1.7 1.6 .8 1.5 1.3zM1811.8 1852.5l-.8 .9-.7-1.2 0-1.2 1.6 .3zM1825.4 1860.6l-1.2-.5-1-1.3 1.1-1.1 1.4-1.1 1.8 1.3-.2 2.2zM1809.9 1852l-1-.2-1.1-1-1.5-1.4 .6-.7 1.7 .9 1 1.4zM1809.4 1839l.8-.7 .9 .5-.8 .7zM1821.2 1857.6l.3-1.4 1 .1 .2 1.2zM1811.5 1861.2l-1.2-.1-.2-1.4 1.1-.7 .9 1.2zM1833.1 1859.7l-.6-1.6 .4-2 1.4-1 1.3 .3-.3 1.8-.6 2zM1841.2 1833.2l-.9-.4 .1-.9 .7-.2 .4 .6zM1810.9 1854.3l-.5-.6 0-1 .3 .1 .3 .7zM1823.7 1849.9l-.2-.6 .2-.9 .4-.2-.1 1.2zM1813.7 1838.8l-1.1-.9 .4-1.5 1.1 1zM1832.1 1843.3l-.2-1.4 1.8-.5-.4 1.6zM1808 1846.7l-1.7 .4-1.8-1-.8-1.7 1-1.1 1.7 .6 .9 1.2zM1832.3 1846.9l-.4-1.6 1.8-1.1-.1 2zM1809.4 1850l-1.4-.8-.9-1.6 .9-2 1.9 .9 1.4 .9-.2 2.1zM1809.2 1857.8l-1.4 0-1-1.6 2.1 0zM1832.7 1843.1l1.4-1.6 2.4-.2 .4 1.7-2.3 1.2zM1832.9 1843.2l1.2-1.1 2.1-.6 1 .6-1 .8-1.9 1zM1803.1 1849.4l-.3-.9 .5-1 .2 1.1zM1810 1846.9l1-1.1 1.5 0-.9 1.4zM1828.4 1840l-.7 .7-1.7-.7-1.4-.7 .3-.8 1.4-.2 2 .6zM1837.8 1837l.7-.4 1 .1-.2 .5-.8 .2zM1823.3 1856.6l-.4-1.5 .5-1.6 .8-1.5 .6 .7 0 1.2-.5 1.4zM1839.4 1835.1l-.9 .3-.7-.8 1-.2zM1839.4 1843.8l.6-.5 1.1 0-.4 .7-.7 .3zM1806.1 1851.6l-.7 .1-.4-1 .5-.4 .9 .6zM1816.3 1856l-1.5-.3-1.4-.8 .3-.6 1.8 .6zM1846.1 1845.2l-1.1-1.6 2.2-1.2 .6 2.3zM1841.2 1854.9l.7-1.7 1.8-.1 1.4 .8-.8 1.4-1.8 1zM1796.9 1860.9l-1-1.4 1.3-1.1 1.1 .1 .1 1.7zM1839.2 1848.8l-.7-.9 .1-1.7 .4-1.2 .8-.1 .8 1.1-.6 1.8zM1812.9 1842l1-.6 2.1-.3 1.2 .8-1.3 .8-2.4 .2zM1832.2 1864.7l-1.8 1.5-2.3-1-.3-1.9 2.9-.4zM1809 1846.2l-1.2-.4 1.1-2 1.3-.2 1.2 0-.3 1.6-1.1 1.7zM1807.5 1859.9l-.9 .3-.8-1.4 .8-.3 1.2 .5zM1829.2 1865.9l-1.3-.5-.9-1.3 1.2-.7 1.2 1zM1815.3 1846.9l-1.2 .1-1.6-1.4 .9-.5 1.7 .6zM1805.6 1851.6l-.8 .3-.9-.9 .7-.4 .9 .1zM1843.6 1844l-.9-.5 .2-.9 .9 .3zM1820.1 1849.1l.8-1.2 2 0 1.6 .5-.8 1.3-2.3 0z" fill="#ffebbe"/>
<path d="M1789.4 1827l3.1 .5-1 3.4z" fill="#2438ff"/>
<path d="M1782.8 1859.7l14.4-4 15.7 6.6 5.2 2.6-2.6 11.2-15.7 0-7.8-11.2z" fill="#00bc7b"/>
<path d="M1799.8 1864.9l11.8-1.3 2.6 12.5-10.5 0z" fill="#1f7200"/>
<path d="M1804.3 1871.4l-.9-1.2 .6-1.5 .8-.6 .3 2.1zM1812.5 1872l-1 0-1.2-1 .9-.8 1.5 .6zM1812.2 1873.8l.9-1 1.4 .2 .4 1.1-1.5 .2zM1812 1865.2l-.7 .3-.9-.4 .9-.2zM1805.4 1869.7l-1.4 .7-.8-1.3 1.3-.5zM1802.3 1869.3l-.1-1.1 .6-.5 .5 .8zM1803.3 1866.6l-.3-.6 .4-1 .6 .1-.1 1.1zM1807.8 1867.5l1.8-1.1 2.3-.2-.3 .9-1.9 1.1zM1800.4 1869.7l.9-1.2 1.6 0-1 1.1zM1812.3 1876.1l.4-1.3 1.2 .6 .5 .9-1.2 .6zM1809.4 1873l.4-2.1 2.3-.8 .7 1.7-1.3 1.7zM1812.2 1872.3l-1.3-.9 1.1-1.6 1.7 .5-.2 1.8z" fill="#ffebbe"/>
<path d="M1730.6 1851.8l6.5-5.2 10.5-5.2 7.8 2.6 0 10.4-7.8 5.3 2.6 10.4-10.5 6-9.1 0-1.3-13.8z" fill="#00bc7b"/>
<path d="M1737.1 1846.6l10.5-5.2 7.8 2.6-2.6 7.8-10.5 1.3z" fill="#1f7200"/>
<path d="M1739.7 1862.3l9.2-1.3 0 9.1-6.6 0z" fill="#ffebbe"/>
<path d="M1504.5 1789.1l10.5-1.3 5.2 3.9-2.6 13.1-5.2 9.1-4-11.7z" fill="#1f7200"/>
<path d="M1515 1787.8l14.4 6.5-4 10.5-5.2 9.1-7.8 0 5.2-11.7zM1530.7 1825.7l2.6-10.5 10.4-1.3 2.6 11.8-5.2 7.8-5.2 2.6z" fill="#00bc7b"/>
<path d="M1532 1824.4l6.5-6.5 3.9 10.4-5.2 6.5z" fill="#1f7200"/>
<path d="M1538.2 1821.2l-.5 .3-.9-.3 .1-.7 1.2 .1zM1539.5 1829.6l-1.5-.9-.7-1.8 1.7 1zM1542.1 1827.7l-1.1 .1-.9-.8 .4-.5 1.1 .3zM1538.6 1824.4l.1-1.1 1-.5 .5 .9-.4 1.1zM1532.4 1825.2l-.8-.4 .1-1.1 .8-.1 .5 .9zM1532.6 1829.5l-.4-2.2 1.2-2 2.2 .3 0 2-.9 1.5zM1534.1 1828.2l-1-1.5 1.1-1.3 1.3 1.3z" fill="#ffebbe"/>
<path d="M1556.3 1820.5l3.6-.6 .8 7.9-3.4 0z" fill="#00bc7b"/>
<path d="M1482.3 1827l9.2-9.1 9.1 10.4zM1481 1783.9l7.9-10.5 10.4-7.8 10.5-1.3-5.3 11.7-5.2 13.1-7.8 10.5-4-7.9z" fill="#1f7200"/>
<path d="M1577.7 1820.5l2.6-.6 1.3 11-2.6-.5zM1661.3 1841.4l2.6 1.3-1.3 1.8z" fill="#2438ff"/>
<path d="M1765.9 1807.4l5.2-1.3 1.3 7.8-5.2-1.3zM1769.8 1777.3l3.9 1.4 1.3 6.5-3.9-1.3zM1657.4 1789.1l2.6-1.3 1.3 11.8-3.1 0zM1670.2 1772.5l-2.6-1.6-.4-5.4 3 .8 1.8 3.8zM1676.2 1774.3l.5-.9 .9-.1 1 0 0 .8-.5 .7-.9-.3zM1692.5 1773.2l0-.8 .7-1.1 1 .7-.2 1-.7 .6zM1693 1784.4l-.6 .2-.7-.3-.4-.8 .6-.5 .7 .2 .6 .6zM1689 1774.9l.8-1 1.4 0 .3 .9-1.4 .8zM1698.6 1781.4l-1.7 .1-2.1-.7-.6-2.3 1.3-1.4 2.2 .8 1.7 1.8zM1688.9 1779.6l-.2-2 1.7-1.9 1.8 1.5 1.8 1.4-1.4 2-2.3 .8zM1814.5 1777l-2.2-1.9 1.2-2.9 2.3-1.1 2.7 .2 .9 3.1-2.2 2.2zM1812.1 1772l-.8 .3-1.1-.4-1.2-.4 .7-.3 .7-.4 1.1 .6zM1809.8 1768.5l-.8 .2-.9-.7 .1-.5 1.1 .3zM1815.6 1773.6l-2.7 1.4-2.7 .5-1.9-2.2 1.2-2.3 2.2-1.3 2.8 .9zM1760 1823.4l-.9-1.1 .6-1.7 .8-.7 .7 .8-.3 1.7zM1745.3 1819.6l-.8-.7-.3-1.3 .6-.9 .7 .3 .4 .7-.1 .9zM1747 1819.8l-1.4 .5-1-1.6 .6-1.5 1.4-.4 1.7 .5-.5 1.7zM1755.8 1828.4l-3.4-1.6-1-4.6 1.6-1.2 2.2 3.5zM1583.9 1718.1l-.8-.7-.4-1.4 .7 0 1 1.2zM1582.8 1717.8l-1.1 .7-1.1-.4-1.1-.7 .2-1.2 1.4 .1 .8 .5zM1579.9 1717l-2-1.8 1.5-2.5 2.4 .7 0 2.3zM1104 1891.7l3.9-11.8 18.3-1.3 5.3 7.9-13.1 7.8-10.5 3.9z" fill="#1f7200"/>
<path d="M1131.5 1882.5l14.3-2.6-3.9 6.6-7.8 1.3zM1111 1886.2l-.9-1.4 1.9-2 2.1-.3-.4 2.2-1.4 1.3zM1114.7 1886.7l3.9-2.4 5.7 0-1.4 2.4-4 1.6zM1120.6 1887.5l1-.9 1.1 .6-.9 .8zM1116 1891.4l-.4-2.5 3.3-1.7 2.7 .8-.5 2.7-3 1.4zM1115.8 1892.1l-.2-1.4 .4-1.3 .6-.3 0 2zM1119.4 1894.8l-2.9 .8-3.4-4.2 1.5-2.4 2.7-.5 3.6 3.6z" fill="#00bc7b"/>
<path d="M1202 1977.9l7.9-7.8-2.7-13.1-2.6-18.3 2.6-10.4 10.5-1.3 7.8 6.5 2.7 13.1 2.6 13-4 13.1-6.5 10.4-10.4-1.3zM1160.2 1966.2l7.8-14.4 10.5-3.9 5.2 5.2-5.2 9.1-10.5 9.2zM1110.9 1962.9l-.7-1.2 1.7-1 1.3 .2-1.1 2.1zM1113.7 1954.7l1.3-1 1.2 .6-.9 1zM1104.4 1947.2l-1.5-.3-1.8-1.5-1.6-2.4 2.5 .7 2.8 2.1zM1113.6 1963.3l-1.4 1.3-2-.9 .1-1.5 2-.1zM1098.2 1956.8l-.9-1.6 .2-2.4 .6-1.3 .9 .9-.2 2.4zM1128.6 1955.2l-1.7 .8-.9-1.5 1.5-1zM1093.5 1952.2l2.6-3.8 6 1.2-1.9 3.9-3.9 2.3zM1119.7 1953.3l1.6-1.7 1.7 .6-.9 1.8zM1102.4 1951.1l.4-3.1 3.3-1.8 1.4 3.2-.4 2.3-2.7 2.1zM1096.8 1968l.3-4 4.6-.3 2.8 1.1-.6 3.1-4.1 2.4zM1086 1954.7l1.4-2 4.1 .2-.7 1.8-2.6 1zM1103.6 1953.5l-.5-.8 .3-1.4 .9 .7 0 .9zM1102.2 1975.4l-3.4-.9-4-3 1.7-1.1 3.4 2.1zM1097.5 1955.6l-1.9-.1-1.5-1.5 .4-2.2 2-.8 1.3 1.5 .6 1.5zM1101.7 1980.8l-1.2 1-2.2-.7 .5-1.2 1.7 0zM1096.3 1949.3l-.7-5.8 5.2-1 3.5 2.6-2.4 4.8zM1101.2 1971.5l-2.2 2-3.3-1.7 .2-3 2.4-1.3 3.4 .9zM1100.4 1966.8l-1.9-.8-.5-2.4 1-1.8 1.6 .6 1.8 .8-.7 2.2zM1100 1972.8l2.7-3.1 5.4-2-.9 2.7-3.1 2.7zM1119.7 1960.3l.9-1.1 1.5-.2-.9 1.2zM1102.7 1956.3l.6-1.1 1.7 .1 .3 .9-1.5 .5zM1097.5 1969.9l.2-2 2.2 .3-.2 2.6zM1096.2 1951.5l-1.9-1.6 .5-1.8 1.7 .9zM1101 1946.5l1.4-1.7 2.2 .1 .9 1.4-2.5 1.6zM1113.6 1950.7l-2.6 .6-2.8-.8-.8-2.2 1.3-1.2 2-1.4 1.9 2.5zM1105.8 1966l1.8-2.3 3.8-.3 2.2 1.2 1.1 1.8-2.9 1.4-3.6 .1zM1108.2 1949.6l-.9 1.3-2.9-.2-2.1-1 .4-1.3 2-.6 3.3 .2zM1103 1967.9l-1.5-2.3 2-2.1 2.7-1.4 2 2.2-1.2 2.5-1.8 1.5zM1105.8 1947.9l-1.8 .8-3.5-.8-1.7-2.4 1.3-1.3 2.5-1 3.8 2.6zM1107 1948.1l-1.3-.6-.9-1.2 1.5 .5zM1101.1 1949.6l.1-1.2 1.2 .1-.1 1.1zM1088.3 1958.3l-1.6 .3-.2-1.8 .9-1.4 1.4 1.5zM1115 1956.4l-1 .6-.9-1.1 1.3-.5zM1107.7 1956l1.6-3.2 3.2-1.9 2.9 2.4-2.1 2.6-2.4 1.5zM1097.7 1957.4l-1.8 2.1-2.9-.9-1.4-2.4 1.8-2.8 3.6 1.3zM1122.7 1952.7l1-1.6 1.7-.8 .7 1.2-1.5 1.4zM1128.5 1958l-5 2.2-4.5-4.3 2.5-4.4 5.2 1.7zM1085.2 1955.1l-1.2 .4-.7-1 1.2-.5zM1095.8 1958.8l-3-.5-1.9-1.4-.7-2.2 1.5-1.5 2.5 .3 .6 2.4zM1113.3 1953.1l-3-.6-3.1-1-.7-2.8 3.1 .6 3 1zM1109 1958.3l-.2-1.1 .6-.7 .2 .9zM1098.2 1984.2l-1-2 .6-3.9 2.4-2.5 1.7 1-.5 3.2-1 4zM1113 1957.6l-4.2-3.3 .8-5.4 5.1-1.8 4.3 3.3-1.8 4.8z" fill="#1f7200"/>
<path d="M1215.1 1923l7.8-7.8 15.7 2.6 15.7-11.7 2.6 2.6-10.5 9.1-13 3.9-13.1 5.3zM1270 1891.7l7.8-14.4-1.3 14.4-3.9 2.6zM1166.7 1992.3l11.8-19.6 7.8-3.9-5.2 7.8-10.4 17zM1207.2 1903.4l2.7-1.3 2.6 9.2-2.6 1.3zM1238.6 1886.5l2.6-.6 5.2 8.4-2.6 .5zM1198.1 1957l5.2-3.9 0 5.2-3.9 2.6z" fill="#2438ff"/>
<path d="M1153.7 2025l6.5-18.3 7.8-10.5" fill="none" stroke="#1f7200" stroke-width="4" stroke-linejoin="round" stroke-linecap="round"/>
<path d="M1186.3 1968.8l10.5-6.6 10.4-7.8" fill="none" stroke="#1f7200" stroke-width="2" stroke-linejoin="round" stroke-linecap="round"/>
<path d="M1152.4 2022.3l13-2.6 20.9 2.6 10.5-1.3-2.6 5.3-23.5 2.6-20.9 3.9-23.6-2.6-23.5 0-6.5-10.5 2.6-5.2 9.1 13.1z" fill="#1f7200"/>
<path d="M1094.9 1980.5l1.3 18.3 2.6 15.7" fill="none" stroke="#1f7200" stroke-width="2.5" stroke-linejoin="round" stroke-linecap="round"/>
<path d="M1093.6 1980.5l2.6-.5 1.3 13.6-2.1 .5z" fill="#2438ff"/>
<path d="M1319.6 1891.7l13.1 1.3 20.9 0 6.5 9.1-19.6 1.3-15.7-1.3zM1313.1 1876l24.8 0-2.6 3.1-18.3 .8z" fill="#4ce600"/>
<path d="M1337.9 1876l14.4 0-2.6 6.5-9.2-2.6z" fill="#1f7200"/>
<path d="M1343.1 1932.2l5.3-11.8 7.8 0-5.2 11.8-3.9 5.2z" fill="#00bc7b"/>
<path d="M1366.7 1919.1l10.4-3.9-6.5-9.1 6.5 1.3 7.8 7.8 10.5-3.9 9.1-9.2-2.6 13.1-9.1 6.5-15.7-.8z" fill="#1f7200"/>
<path d="M1361.4 1882.5l7.9 4 2.6 10.4 5.2 10.5" fill="none" stroke="#1f7200" stroke-width="2.5" stroke-linejoin="round" stroke-linecap="round"/>
<path d="M1375.8 1899.5l2.6 .5 2.6 4.7-2.6-.5z" fill="#2438ff"/>
<path d="M1264.7 1959.6l6.6-6.5 13-2.6-2.6 9.1 9.2 5.3 10.4 7.8 5.3-3.9-2.7 14.3-6.5 7.9-6.5 5.2 3.9-10.4-10.5-5.3-9.1-10.4-5.2-5.2z" fill="#1f7200"/>
<path d="M1277.8 1967.5l7.8-4 15.7 10.5 2.6 9.1-6.5 6.6-10.4-9.2z" fill="#00bc7b"/>
<path d="M1298.7 1932.2l3.9-5.2 10.5 5.2-9.2 2.6z" fill="#1f7200"/>
<path d="M1298.7 1934.8l-7.8 7.8-9.2 6.6" fill="none" stroke="#1f7200" stroke-width="2" stroke-linejoin="round" stroke-linecap="round"/>
<path d="M1310.5 1930.9l3.4 .5-2.1 2.1zM1290.9 1941.3l3.1-1.3-1 3.4z" fill="#2438ff"/>
<path d="M1243.8 1992.3l2.6-11.8 7.9-5.2-5.2 13.1 2.6 10.4-5.3 2.6zM1256.9 1991l5.2 2.6 3.9 10.4-3.9 2.7-2.6-7.9z" fill="#1f7200"/>
<path d="M1268.7 2010.6l1.8-15.7 2.6 0-1.8 17z" fill="#2438ff"/>
<path d="M1270 2011.9l-2.6 10.4-5.3 2.7" fill="none" stroke="#1f7200" stroke-width="3" stroke-linejoin="round" stroke-linecap="round"/>
<path d="M1272.6 1970.1l-2.6 10.4 1.3 7.9" fill="none" stroke="#1f7200" stroke-width="2" stroke-linejoin="round" stroke-linecap="round"/>
<path d="M1335.3 1983.1l7.8-5.2 7.9-2.6-5.3 9.1-6.5 2.7zM1351 1954.4l6.5 1.3 2.6 9.2-3.9 7.8-3.9-10.5zM1336.6 2000.1l10.5-5.2 3.9-9.1 10.4-4 13.1 1.3 5.2-6.5-2.6-5.2 5.2 9.1-2.6 10.5-13 1.3-13.1 1.3-1.3 9.1-9.2 4-5.2-2.7z" fill="#1f7200"/>
<path d="M1377.1 1968.8l10.5-5.3 7.8-14.3 2.6-10.5 2.6 1.3-3.9 14.4-7.8 11.8-9.2 6.5z" fill="#2438ff"/>
<path d="M1395.9 1934l2.6-1 2.4 2.1-.5 3.1-3.4 .5z" fill="#1f7200"/>
<path d="M1262.1 2025l7.9 5.2 7.8 2.6 10.5-10.5 13-10.4 13.1-5.2 13.1-5.3 9.1-1.3" fill="none" stroke="#1f7200" stroke-width="2.2" stroke-linejoin="round" stroke-linecap="round"/>
<path d="M1285.6 2048.5l15.7-9.2 15.7-6.5 13.1-5.2 15.6 0 15.7 2.6 15.7-5.2 13.1-4 15.7 1.3 10.4-3.9 6.5-1.3" fill="none" stroke="#1f7200" stroke-width="3.5" stroke-linejoin="round" stroke-linecap="round"/>
<path d="M1416.3 2022.3l10.5 5.3 13 5.2 13.1-1.3" fill="none" stroke="#1f7200" stroke-width="2.5" stroke-linejoin="round" stroke-linecap="round"/>
<path d="M1301.3 2011.9l4.7-2.1-1.5 3.4z" fill="#2438ff"/>
<path d="M1415.5 2014l3.4-2.6 4.7 1.5 1.1 4.2-3.2 3.2-4.7-1.1z" fill="#1f7200"/>
<path d="M1432 2014.5l11.7-10.5 13.1-5.7 5.2 2.6-6.5 7.1-11.8 5.2-11.7 1.3" fill="none" stroke="#1f7200" stroke-width="4.5" stroke-linejoin="round" stroke-linecap="round"/>
<path d="M1364 2026.3l13.1 0-9.1 6.5z" fill="#2438ff"/>
<path d="M1353.6 2058.9l3.9-9.1 6.5-1.8 5.3 5.7 1.3 6.5z" fill="#1f7200"/>
<path d="M1323.5 2060.2l11.8 0-10.5 5.3zM1370.6 2060.2l11.7 1.9 2.6 4.7-10.4-2.6z" fill="#2438ff"/>
<path d="M1262.1 2025l13.1 13 13.1 13.1 13 7.8 5.3 5.3" fill="none" stroke="#1f7200" stroke-width="3.5" stroke-linejoin="round" stroke-linecap="round"/>
<path d="M1173.3 1912.6l5.2 10.4 7.8 7.9 15.7 0 5.2-2.6" fill="none" stroke="#1f7200" stroke-width="1.5" stroke-linejoin="round" stroke-linecap="round"/>
<path d="M1175.9 1896.9l-1.3 7.8" fill="none" stroke="#1f7200" stroke-width="1.2" stroke-linejoin="round" stroke-linecap="round"/>
<path d="M1249.1 1882.5l5.2 9.2 2.6 10.4-3.9-1.3-3.9-9.1z" fill="#1f7200"/>
<path d="M1233.4 1876l7.8 13.1 10.5 10.4 5.2 5.2" fill="none" stroke="#1f7200" stroke-width="1.5" stroke-linejoin="round" stroke-linecap="round"/>
<path d="M1256.9 1904.7l10.5-2.6 5.2-7.8" fill="none" stroke="#1f7200" stroke-width="2" stroke-linejoin="round" stroke-linecap="round"/>
<path d="M1429.4 1915.2l13-1.3 15.7 1.3 7.9 7.8-5.3 13.1-5.2 13.1-7.8 13-5.3 10.5 7.9 7.8 13 5.3 7.9 7.8 3.9 13.1-3.9 13-7.9 1.3-3.9-14.3-6.5-13.1-9.2-7.8-5.2-13.1 3.9-15.7 5.3-15.7-5.3-13-7.8-2.6z" fill="#00bc7b"/>
<path d="M1455.5 1972.7l10.5-6.5 7.8 9.1-7.8 5.2zM1452 1929l.6-1 1.7 .1 0 1.1-1.4 .4zM1450.2 1929.7l-1.3-1.3 .1-2.6 2-1.6 2.1 1.6-1.3 3zM1455.5 1928.5l-.6-.9 .7-.9 1 .1 0 1.5zM1449 1931.2l-2.1-3.3 1.8-4.1 2.2 1.6 .6 3zM1450.5 1924.7l-1.3-1.2-.2-1.5 1.4 .8zM1454.3 1922.2l-.4-1.7 2.1-.8 .6 1.6-.8 1.7zM1454.6 1922.9l-2.8 1.1-2.6-.2-1.3-1.7 1.4-1.9 3.3 .6z" fill="#1f7200"/>
<path d="M1409.8 1890.4l3.9-3.9 2.6 5.2-3.9 6.5zM1421.5 1894.3l5.3-5.2 5.2 2.6 0 10.4-5.2 6.6-4.7-4z" fill="#00bc7b"/>
<path d="M1427.4 1903.3l-.4-.8 .7-1.4 .9 .3-.5 1.3zM1430.5 1897.6l-1.4 .6-2.9-.8 .1-1.3 3.3 .3zM1427.3 1904.5l-1.2-3.5 .3-4.5 2.4-.1 2 1-.7 5zM1429.6 1901.5l-2.3-1.5 .7-2.6 1.5-1.2 1.3 2.9zM1425.7 1899.8l.3-1.1 1.3-.2-.4 1.2zM1427.3 1903.1l-2.1 1-1-3.3-.5-2.9 2.6 1.1 1.8 2.4zM1382.3 1886.5l7.9-7.9 7.8 2.6-5.2 6.6z" fill="#1f7200"/>
<path d="M1392.8 1881.2l13.1 1.3-1.4 9.2-3.9-2.6z" fill="#00bc7b"/>
<path d="M1403.9 1885.6l.2-.8 .7-.2 0 .8zM1401 1887.8l-.9-.8-.3-.9 .1-.7 .8 1.3zM1398.7 1884.5l-1.9 .5-1-2 1.5-.8 1.7 .5zM1397.4 1885.6l-.9-1.1 .9-1 1.2 .1 .1 1.3zM1400.9 1886.7l-.1-1.2 1.5-.4 0 1.7zM1403.4 1888.5l-.2-.6 .5-1 .6-.2-.4 1.3zM1402.4 1884.9l-1.7 .4-1.4 .1-1.1-.5-.3-.7 1.3-.6 1.9 .5z" fill="#ffebbe"/>
<path d="M1687.5 1980.5l7.8-13 10.4-1.3 10.5 9.1 15.7 2.6 15.7-3.9 15.6 2.6 7.9 9.2 7.8 7.8-2.6 18.3 7.8 10.4-5.2 10.5 13.1 13.1 10.4 13 15.7 2.6 7.9 6.6-10.5 14.3-13.1-2.6-10.4-7.8-15.7 0-15.7 2.6-13-5.2-13.1-10.5-15.7-2.6-1.3-13.1 14.4-10.4-5.2-5.2-13.1-2.6-10.5-2.7-5.2-15.6 5.2-10.5-7.8-5.2z" fill="#00bc7b"/>
<path d="M1743.7 2005.9l-3.9 .3-1.9-4.4 1-2.8 3.6-1.6 1.4 4.9zM1738.6 2007.9l-.1-2.1-.1-2.5 2.2-.5 1.3 .8-.2 1.9-1.1 2.4zM1731.4 2001.1l1.6-3.4 3.9-.9 3.6 1.5-1.6 3.7-3.8-.1zM1738.4 2006.8l-1.4-.2-1.1-1.2 1.2-.6 1.4 .5zM1741 2003.8l-.7-1.5 .7-1.8 .7 1.8zM1740.1 1997.1l-.8 1.1-1.3-.8-.2-1.2 1.6 .1zM1736.2 2004.6l.2-.7 1.5-.6 1.9 0-.2 .9-1.2 .8-1.5-.1zM1738.8 2004.4l-2.1-1.9 3.6-3.4 3.3-2.5 .6 3.7-3.1 3.2zM1770.9 2016l-4 .1-.3-4.9 3-3.8 2.7 5.4zM1771.4 2019.6l-1.8-.3-.5-2 1.8 .8zM1771.3 2015.8l-.6-.8-.5-1.4 .4-1.6 .8 .4 .7 1.1-.3 1.5zM1768.2 2023.6l-4.7-.9-2.2-3.9 .3-4.9 4.8 1.4 2 3.6zM1769.4 2009.2l.4-1.5 1.8-1.2 .6 .9-1.1 1.9zM1769.5 2009.2l-1.8-1.4 1.5-2.5 1.7-2.1 1.7 1.3-.2 2.3-.9 1.9zM1774.7 2008.2l-3-1.5-1.9-4.2 1.4-2.1 3.3 4.5zM1774 2016.8l-1.2 1-1.2-1.1 1.2-1.2zM1772.6 2011l-3.5-1.4-1.5-3.4 1.2-.8 2.3 2zM1772.1 2020.3l-3.9-.9-1.5-5.2 3.1-2.9 3 2.3 2.7 4.2zM1770.8 2010.4l-3.5 1.5-3.9-.2-3-3.7 3.7-2.4 2.9-.8 2.8 1.9z" fill="#ffebbe"/>
<path d="M1633.9 2026.3l17-1.3-2.6-13.1-1.3-10.5 14.3 0 13.1-2.6 5.2-5.2 7.9 13.1-2.7 13-7.8 5.3-5.2 13-2.6 18.3-7.9 2.6-2.6 15.7-5.2 13.1-10.5 1.3-10.4-9.2-10.5 5.3-1.3-7.9 6.6-13 0-15.7 7.8-7.9z" fill="#00bc7b"/>
<path d="M1633.9 2026.3l17-1.3 5.2 13-10.5 5.2-10.4-2.6zM1647 2001.4l14.3 0 5.3 10.5-10.5 7.8-6.5-5.2zM1671.8 1998.8l7.8-5.2 1.3 7.8-6.5 4z" fill="#1f7200"/>
<path d="M1507.1 2048.5l10.5-15.7 13.1-10.5 15.6-7.8 10.5-10.5 5.2-10.4 15.7-13.1 15.7-7.8 13-7.8 2.7 10.4-10.5 7.8-10.4 10.5-5.3 13.1-10.4 10.4-5.3 13.1-5.2 13 5.2 10.5 5.3 10.5-10.5 5.2 5.2 10.4 5.3 5.3-10.5 5.2-5.2 10.4-6.5 5.3-5.3 0-6.5-7.9-10.5-3.9-9.9-3.9-3.1-7.9-2.1-13z" fill="#00bc7b"/>
<path d="M1570.2 2010.3l-.7-.3 .2-1 .5-.2 .4 .9zM1592.6 1980l-.9-.6 .1-1 .8 .6zM1524.6 2056.6l-.9-.5-.8-1.8 1.1 .1 .8 1.2zM1518.6 2052.8l-.1-1.2 1-.4 1 .6-.7 1zM1543.7 2064.3l-.2-.7 .4-.8 .7 .4 0 .9zM1523.5 2091.8l.4-1.9 1.8-.7 1.2 1.5-1.6 .9zM1540.1 2054.5l.9-2.1 2.9 .8 .1 2.5-2.9 .5zM1535.3 2023.8l1.4-1.6 2.1-.5 1.6 .9-.8 1.8-2.5 .4zM1555 2046.9l.3-.8 2.1-.4 1.1 .6-1.2 .7-1.5 .3zM1571.8 2003.2l.1-1.2 1.2-.5-.1 1.4zM1546.7 2042l-1.4-.1-1.1-2 .2-1.2 1.2 .3 1.2 1.6zM1561.9 2048l-1.3 .6-.9-1.5 1.6-.2zM1559.6 2072.5l-1.7-.3-.7-1.2 .6-1.5 1.8 1.2zM1523.2 2083.6l-.6-1.3 .9-.7 .7 .9zM1572 2001.7l-.9 .9-1.4-.6 .4-1.3 1.4-.3zM1564.8 2018l-.7-1.6 .8-1.9 .9 1.9zM1509.5 2055.1l-1.4-1 .1-2 1.6 0 .6 1.6zM1562.4 2017.4l-1.4 .4-.6-1.3 1.3-.3zM1564.1 2021l-1.7-.3-.1-2.3 1.9 1zM1512.2 2041.7l.5-1.1 .9-.1-.1 1zM1544.6 2100.2l.2-1.6 1.8-.6 .8 1.2-1.3 1zM1568.3 2010.1l.3-1.7 1.2 .1 .1 1.2zM1527.5 2071.2l-.5-1.1 .1-1.6 .4-1.6 .7-.2 .5 1.7-.5 2zM1577.7 1998.2l.4-.6 1.5 .1-.4 .6-1.1 .4zM1521.5 2083.6l.5-.9 1.3 0-.8 .9zM1531 2044.1l-1.5-.9 1-1.4 1.8-.3 .3 2zM1537.2 2033.2l-1.7-2 .3-2.5 2.7-.3 .2 2.7zM1601.3 1975.7l-.2-.6 .5-.8 .7 .4-.3 .9zM1566.4 1990.2l.4-.8 .9-.3 .7 .3-1.1 .7zM1525.3 2047.3l-.5-1.5 1-1.2 1.8 .6-.8 1.6zM1559.9 2039.4l-.6-1.7 1-1.8 .3 1.9zM1521.5 2059.3l-1.1-1.1-.4-1.3 1.2 .9zM1584.4 1996.7l.7-.6 1.1 .5-1 .9zM1572.9 2006.6l0-1.1 2.2-1.2 1.4 0-.3 1.3-2.1 .9zM1515.2 2073.9l.2-1.7 1.7 0-.5 1.4zM1551.1 2101.7l-1.5-.7 .7-1.8 1.7-.4 0 1.9zM1531.5 2093.5l-.8 .9-1.4-.8 .1-1.2 1.5 .3zM1555.4 2018l-1 .7-.9-.9 1.1-.4zM1517.1 2078.3l-1.8-.4 .9-1.7 1.8 .5zM1525.7 2078.8l.3-1.6 1.3-1.4 .5 1.2-.5 1.4zM1543.9 2075.4l-1.1-.3 .3-1.6 1.2 .4 .5 1zM1523.8 2066.8l.4-2.1 1.8 .1 0 1.9zM1544.8 2104.5l.1-2.2 2.2-1.3 1.8 .9-.7 1.7-1.3 1.3zM1561.2 2035.1l-1.6 .8-1.8-.9-.2-1.4 1.2-1.2 2.2 .8zM1561.4 2084.3l-.9-1.1 .5-1 .6 .8zM1564.6 1995l1-1.1 2.6-.4-.5 1-1.6 .7zM1553.8 2076.1l-.1-.8 1-.9 .7 .1-.8 1.6zM1567.7 2027.4l-.8 .8-1.4-.6-.1-1.1 1.6-.1zM1519.2 2055.8l-.8-1.1 .5-1.6 1.5 .2-.1 1.7zM1531.3 2048.9l.2-1.1 1.3-.6-.5 1.3zM1528.2 2086l-1.9 .9-2.7-.4 .2-1.5 2.8-.4zM1601.1 1977.6l-.7 .3-.9-.5 .9-.1zM1525.8 2055.2l-.3-1 .8-.8 .7 .8-.2 .8zM1552.9 2008.2l.3-.4 .8 0 .1 .3-.8 .3zM1554 2016.8l.2-1.2 1 0 0 1zM1539.1 2055.2l-1.2-.6 .1-1.4 .8-.6 .8 1.4zM1589.9 1976.6l-.1-.6 .3-1.1 .4 .4 0 1zM1516 2053.4l-.6-.1 .1-.9 .5-.5 .3 1.1zM1542.8 2068.5l-.8-1 .2-1.5 .8 1.2zM1562.1 2045.4l.1-1.1 1-.7-.1 1.3zM1543.3 2046l.7-1.5 2.4-.3 .6 2.1-2.5 1.4zM1524 2058.9l-1.3-.5-1.4-1.3-.2-1.4 .7-.4 1.3 .6 .6 1.6zM1526.1 2059l-1.2-.2-.7-.9 .3-.5 1.1 .5zM1584.6 1984.8l-1 .7-.3-1.2 1-.7zM1531.3 2066.8l-.9-.2-.2-2 .8-.2 .7 1.6zM1530.4 2086.6l-.1-1.1 .5-.7 .9 .3-.3 1zM1534.4 2093l-1.4-.5 .3-1.6 1.3 .8zM1533.8 2061.6l-1.3 .4-1.2-.8 .1-1 1.7 .2zM1550.6 2069.8l-1.7-.1 .1-1.9 1.5 .6zM1588.2 1991.7l-.9-1.3 .9-1.1 1 1.1zM1571.3 1991.4l-1.1-.3-.3-1.4 1.2 .7zM1563.6 1997.8l-1.6 .2-.6-1.7 1.3-1.3 1.1 1.5zM1540.2 2031.4l.9-.9 1.3-.5 .2 .9-1.2 .8zM1523.6 2062.5l-1.2 .4-.9-1 1.4-.5zM1546.9 2052.9l-1.5-1.1-.4-1.9 .8-1.4 1.6 .5 .4 2.2zM1519.2 2062.7l-1.7-1.3 1-1.7 1.4 1.2zM1563.7 2066.9l-.8-.2 .4-1 .6 0 .5 .9zM1550.2 2049.1l.1-1.1 1.5-.8 .5 .6-1 1.4zM1552.4 2013.2l-1.1-.7-.6-1.8 1.4 0 1.1 1.3zM1584 1981.3l-.1-2.2 1.5-.8 1 1.9zM1595.1 1980.7l.5-1.8 1.8-.1-.5 1.8zM1563.4 2085.8l-1.6 1-1.5 .7-1.2-1.2-.2-1.5 1.5-.8 1.5 .6zM1562.7 2025.6l.3-1.3 1.2-.5-.4 1.2zM1581.2 1985.8l-2.3 .2-.6-1.8 1.7-.3zM1574.5 1993.8l-.5-1.2 .2-.9 .6 .8zM1541.3 2027.7l0-1.3 1.3-.2-.1 1.2zM1528.7 2065.9l.2-1.1 1.2-.2 .1 1.2-.7 .7zM1548 2055.2l-.2-1 .7-1.3 .7 .4-.4 1.3zM1520.4 2039.4l0-.7 .6-.8 .7 .5-.5 .9zM1552.6 2022.1l-.1-1.2 .5-1 .6-.2-.3 1.5zM1560.7 2025.6l.3-1.7 1.4 .5-.2 1.2zM1528.6 2069.5l-1.5-.7 .3-2.2 2.4 1.2zM1558.5 2047.1l-.5-.6 .1-.8 .5 0 .4 .9zM1534.2 2052.2l-1.9-.7-.9-2.1 2.2-1.5 1.5 2.4zM1525.7 2035.7l-.5-1.4 .8-1.9 1.2 .4-.4 2zM1522.4 2055.4l-1 .4-1.2-.4 .3-1.4 1.4 .4zM1534 2088l1.7-.9 1.8-.4 .7 .8-.3 1.2-2-.2zM1530.6 2038.8l.5-1.1 .8-.9 .7 .3-.8 1.4zM1536.4 2041.6l-.2-.7 .5-1 .7 .6-.2 .9zM1531.2 2073.4l-1.1-.1-1.1-1.5 .3-.8 1.5 1.4zM1542.4 2034.6l.4-1.2 1.4-.4 0 1.4-.7 .8zM1538.2 2060.6l-1.2-.8-.4-1.3 1.4 .5zM1545.8 2051.3l-.8 0-.9-.8 .3-.5 1 .6zM1558 2012.9l-.7-.8 .7-.8 .5 .9zM1530 2027.4l-1-1.1 1.1-1.7 1.5 .9-.1 1.8zM1541.2 2046.4l-.8-.5 .2-1.1 1.1-.6 .2 1.5zM1518 2052.1l1-1 1.5-.4 1.5-.1 .3 .7-1.3 .8-1.7 .4zM1594.8 1981.1l-1.5 .3-1.3-1 .9-1.6 1.5 .8zM1532.4 2050.1l-1.7-.8 .4-2 1.3 1.2zM1535.2 2049.3l.3-.6 .7-.5 .1 .5-.4 .7zM1518.5 2048.2l.6-1.4 1.8-.2 .1 .8-1 .9zM1524.8 2072.9l-.6-.6 .2-1.1 .9-.3 .2 1.4zM1605.6 1967.9l-.8-1.5 1.1-.9 1 1.2zM1543.7 2098.4l-1-1 .3-1.6 1.4 1.1zM1588.2 1997l-2-.1-1.2-1-.8-1.5 1.5-1.1 2-.4 1.2 1.9zM1525.7 2079.3l1.4-1.6 1.9 .8-1.4 1.5zM1575.3 1992.2l-.4-1.1 1.1-.3 .3 1zM1551.3 2100.8l-1.6-.3-2-1.7 1.6-.5 1.7 .8zM1547.5 2034.4l.8-1.8 2.3 .6-1.5 1.4zM1527.2 2092.9l.1-1.2 1.4-.2 .5 .8-1 .7zM1519 2064.6l-.9 .1-.6-.9 .7-.9 1.4 .5zM1561.5 2030.5l1.5-1.1 2 .4-1.6 1.5zM1564.7 2031.4l-1.5 1.3-.9-1.5 1.1-1zM1563.8 2067.6l-1.3 .7-1.3-.8-.1-1.6 2 .4zM1571.8 1997.9l-1.5-.5-.8-1.4 .6-.5 1.1 .9zM1522.7 2046.7l-1-.1 .3-1.1 .9-.3 .2 .9zM1587.4 1985.7l-1.6-.9-.8-1.9 1.3-1.4 1.6-.2 1.5 1.3-.6 2zM1561.8 2054l.4-2 1.7 .7-.4 1.5zM1547.7 2071l-1.1-1.7 1.3-1.9 1.7 1.1 .2 2.1zM1571.5 1991.9l-.9-.8 .2-1.5 1-.1 .5 1.5zM1563.3 2062.4l.3-1.1 .7-1 1.3-.8 .8 .5-.8 1.4-1.5 1.5zM1537.2 2029l-1.1 .5-1.4-.8 1.6-.7zM1557.1 2061l-.8 .5-1.4-.5 .7-1 1.3-.1zM1524.4 2070.3l.1-1.7 1.5-1.4-.1 2.1zM1560.6 2090.9l-.7-1.6 .6-1.7 1.7 .4 .1 2.1zM1565.3 2007.7l-1.1-1.7 1.2-1.6 1.9 .1 0 2.5zM1573.4 2006.4l1-1.9 1.5 0-.4 1.5zM1537.4 2039l.3-.9 .9-.4-.1 1.2zM1567.4 2010.1l-1 .1-1.4-.3-.5-1-.3-1.1 1.8 .6 1.8 .8zM1551.3 2098.1l-.7 .1-1-.3 .2-.4 .9 .1zM1537.6 2063.1l-.6-.8 .4-.7 .8-.1 .3 1.1zM1531.6 2049.4l-1.5-.5 .6-2 .8-1.2 1 .5 .8 1-.3 1.9zM1588.1 1984l-1.6-.2 0-1.6 1.2-.7 1.2 1.3zM1523.1 2036.2l-1.6 1-1.8-1.4 .5-1.7 .6-1.8 2.2 .3 1.1 1.9zM1551.9 2079.2l-1-1.1 .2-1.2 .8 .9zM1572 2010.5l-1 1.5-2-.6-.5-2.2 2.8-.9zM1555.2 2072.5l1.3-.6 1.6-.2 .4 .8-2 .5zM1538.1 2036l1.1-.7 1.5 .4-1.4 .8zM1546.1 2021l.9-.9 .8 .7-.6 1zM1518.8 2091.3l-.9-1 .2-1.3 1.6-.1 0 1.5zM1550.2 2030.6l-1.6-.3-.6-1.1 1.6-.4zM1543.2 2083.8l.4-.6 1-.2-.7 .8zM1561.1 1999.7l2-1 2.5 .1-.2 1.5-2.3 .3zM1518.9 2074.6l-1.2 .2-.3-1.4 1.2 .2zM1556.5 2054.3l-2 .5-.3-2.2 .9-1.5 2.1-.2 .6 2.2zM1524.1 2039.2l-1.4 1.5-2.4-.4-.6-2.1 1.7-1.3 1.8 .5zM1560.4 2027.6l-.3-1.8 1.7-.3 .5 1.6zM1538.1 2032.5l-.8 1.8-1.7-.8-1.1-1-.2-1.9 1.9-.3 1.5 .6zM1543.3 2043.9l-.7-.3-.4-1.2 .9-.2 .7 1zM1582.1 1990.1l.1-.9 1-.9 .4 .4-.6 1.2zM1521.3 2077.9l.5-1.2 1 .5-.3 1zM1595.7 1982.7l-1.2-.2 .1-1.4 1.1 .5zM1536 2069.3l-1.2-.2-1.4-1.5 .1-1.5 1.4 .4 1.4 1.6zM1541.1 2093.1l.9-.8 1.3 0-1 .9zM1529.4 2091l-1.4 .4-1.2-1.1 1.6-.5zM1549.4 2079.1l-1.3-.1 0-1 .8 0zM1522.7 2045.4l-1.8-1.2-.2-1.7 1.4 .9zM1603.9 1980.7l-.6-1.4 .1-2 .8-1 .8-.1 0 1.5-.1 2zM1577.1 2009.2l-1.6-.4-1.3-2.1 1.2-.9 1.3 .1 1.2 1.8zM1513.7 2067.9l-.6 .2-1.2-.5 0-.7 1.4 .4zM1566.5 2024.2l.4-1.7 1.8 .5-.7 1.5zM1516.3 2064.1l-.1-1.3 .8-.6 .4 1.1zM1554.4 2032.4l1.1-1.3 1.4 1-1.1 1.4zM1549.6 2057.9l-.7-.2-.2-.7 .7 .2zM1568.5 1999l-1.2-.5 .3-1.9 1.2-.9 1 .5 .2 1.3-.6 1.1zM1536.9 2026.5l-1.1-.5 .2-1.3 1.3 .5zM1570.7 2007l-1.3-.3-.9-1.4 1.2-.4 1.1 .8zM1510.3 2061.4l0-1.6 1.5-1.3 1.4 1.6-1.2 1.7zM1565.1 2031.8l-.4-1 .5-.9 .4 .9zM1559.3 2002.9l-.6-1.3 1.1-1.5 1.3-.4 .9 .5 .4 1.6-1.7 1.4z" fill="#ffebbe"/>
<path d="M1546.3 2022.3l10.5-7.8 10.4 2.6 2.7 10.5-10.5 7.8-10.4-2.6z" fill="#1f7200"/>
<path d="M1550.1 2026.9l-1.4-.9 .1-2.2 1.9 1.3zM1560 2032.4l0-1.2 .9-.3 .1 .9zM1555.4 2016.4l.7-.5 1.1-.1 .1 .5-1 .3zM1562.4 2034.3l-1.1 .6-1.8-1.1-.3-1 2.5 .4zM1555.5 2024.9l.9-.7 1.7 .1-.3 .8-1.4 .6zM1549.1 2024.1l-1.3-.8-.3-1.7 .6-.8 1 1.7zM1548.5 2026l.6-1.7 2.5-1.1 .1 2.5-1.5 1.5zM1560.7 2017.5l-.5-.6 .1-1.1 .8 .1 .2 1zM1565.3 2023.9l.4-1.1 1.2-.8 .4 1-.7 1.2zM1569 2025.3l-.9-1.1 1-.7 .9 .9zM1564.8 2020.4l-.2-1.3 1.2-.4 1 .3-.8 1.2zM1552.1 2028.6l-1.2 1.3-1.8-.2-1.2-.6-.8-1.3 2-.2 1.4 .2zM1563.3 2018.7l-1.4-.3-1.8-1.3-.3-1.3 1.4 .3 1.4 1.2zM1557.6 2026.2l-.4 .8-1.8 .3-1.3-.8 .5-.9 1.1-.3 1.5 .1zM1568.9 2025.5l-.9-1.1-.5-1.6 .7-.5 .7 1.8zM1549.2 2029.6l-1.1-1.5 1.1-1.9 1.3 1.9z" fill="#ffebbe"/>
<path d="M1515 2058.9l15.7-5.2 15.6 10.5-10.4 7.8-15.7-2.6z" fill="#1f7200"/>
<path d="M1517.1 2061.7l-.4-1 .8-.8 .6 1.1zM1542.1 2068.4l-1.6 1-2-.3-.2-1.5 .8-1.2 2.2 .1zM1539.5 2064.4l-.8 .7-.8-.9 .6-.7 .9 0zM1536 2062.1l-.7-.1-.9-.5 1.1 0zM1540.4 2065.3l0-1.5 1.4-.9 .1 1.9zM1543.6 2067.7l-1.7 1.2-1.9-1 .5-2.2 2.4-.2zM1522.3 2060.2l1.6-1.6 1.5 1.1-1.1 1.3zM1526 2063.8l-2.2 .4-1.9-1.7 .3-1.9 1.9 0 1.2 1.2zM1525.6 2058.3l.9-1.5 2-.1 1 1.5-1 1.4-2 .4zM1525.2 2066.1l1.4-.9 2.7-.3 0 1.3-2.7 .7zM1534 2069.5l-1.1 .3-1.3-1.1 .3-.9 1.9 .6zM1525.1 2062.2l-.3-2.1 1.1-1 .9 1.5z" fill="#ffebbe"/>
<path d="M1523.5 2040.4l-2 2-3.6-1.9-.4-3.2 1.4-1.9 3.4-.8 2.3 3.4zM1522.5 2049.2l-1.9-2.8 2.6-2.7 3-.4 1.7 2.9-2.5 2.5zM1526 2044.3l.6-1.9 1.6-1.6 1.7 1.4 .7 1.5-1 1.6-1.9-.1zM1526.3 2046.9l-3.8-3.1-.1-5.5 2.9 .5 1.6 3.2z" fill="#1f7200"/>
<path d="M1556 2080.2l-4.3 2.4-4.2-4.4 1.7-4.7 6.5 1.7zM1549.4 2078.2l-1.2-3.6 3-4.1 2.9 1.2-1.3 4.9zM1546.2 2082.2l.5-2.1 2.5 .3 2.5 .3 .3 2.4-2.6 .6-2.2 .2zM1543.6 2077.1l-2.9-1.5 0-4.4 2.7-.9 1.3 3.9zM1547.6 2073l-.3-1.7 1.5-2.5 2.4 .4 1.6 .9-1.5 2.2-2.1 1.4zM1543.8 2074.4l-1.7 .3-1.3-1.3 .4-.9 1.8 .4zM1541.8 2077.1l-2.4-1.5-2.1-3.2 1.1-2.5 2.6 .7 2.3 4.1zM1540.6 2083.8l-.8-2.9 1.9-4.1 2.9-.1 2.7 .1-.5 3.7-3.1 3zM1553.2 2081.6l-.4-2.7 3.5-2.1 2 1.8-2.6 3.3zM1547.1 2083.6l-.7-3 3.6 .1 2.8 .4 0 2.6-1.3 3.1-3.2-1.4z" fill="#ffebbe"/>
<path d="M1486.2 2011.9l7.9-5.2 10.4 5.2 5.3 10.4-5.3 7.9-10.4-7.9zM1509.8 2006.7l7.8-7.9 7.8 7.9 5.3 10.4-10.5 5.2-7.8-5.2z" fill="#00bc7b"/>
<path d="M1515.7 2018.3l-1.1-1.3 1.3-.8 .7 1zM1525.2 2008.8l-.7-.2-.4-.7 .9 0zM1518.9 2021.9l-.9-2.1 2.3-.4 2.1 1.2-1.7 2zM1517 2004.9l-1.4-.8-.2-1.7 .7-.5 .8 1.4zM1515.2 2011.5l-.6-.5 .1-.9 .6-.2 .5 1.1zM1516.1 2017.6l.5-1.1 1.7 .1-.9 1.6zM1516.6 2006.1l-.3-.9 .8-.6 1 .4-.2 1.5zM1516.1 2018.1l-2.6 .9-2.3-1.6 1.7-1.7 2.5-.5zM1519.4 2014.4l-.4-1.8 0-2.3 1.4-1 .2 2 .1 2.1zM1521 2020.1l-1.2 1-1.9-1-1-1 1.4-.3 1.4 .3zM1525.1 2009.9l-1.4-1.1 .2-2.1 2 .4 .9 1.8zM1527.1 2011.1l-2.3-.4-.4-2.4 1.4-1.5 1.5 2.1zM1525.2 2010.3l-1-.6 .4-1.7 1.4-.3 .3 2zM1521.7 2005.1l-.5-.8 1.5-1 1-.2 .8 .4-.3 1.4-1.8 .9zM1516.2 2013.2l.3-.7 1.2 .4 .2 .7-1.3 .2z" fill="#ffebbe"/>
<path d="M1488.9 1980.5l7.8-2.6 5.2 13.1 2.6 10.4-6.5-2.6-5.2-10.4z" fill="#00bc7b"/>
<path d="M1491.5 1985.8l6.5-2.7 3.9 13.1-5.2 1.3z" fill="#1f7200"/>
<path d="M1499.6 1995.4l-.7-.6 .6-.6 .5 .5zM1496.5 1986.4l-1.7-.2-.3-2 1.7 .7zM1496.9 1995.7l0-1.1 1-.4 .8 .5-.8 .7zM1500 1993.2l-1.1-.6 .5-1.1 1.1 .5zM1494 1986.6l-1.2 0 0-1.4 .9-.3 1.2 .7zM1501.4 1993.9l-.9 .7-2-.7 .4-.8 1.7-.1zM1496.6 1997l-.6-.6 .2-.9 .6 .7zM1497.6 1995.9l-1.1-.6 .8-1 .9 .6zM1496.2 1989.8l-.8-1.4 1.7-1.7 2.1 .6-.2 2-1.5 1.3z" fill="#ffebbe"/>
<path d="M1529.4 1925.7l14.3-7.9 13.1 2.6 5.2 7.9-5.2 10.4-10.5 5.2-10.4-2.6z" fill="#00bc7b"/>
<path d="M1533.3 1928.3l13-5.3 10.5 5.3-7.8 11.7-10.5-1.3z" fill="#1f7200"/>
<path d="M1532.6 1930.9l.5-1.9 1.2-2.3 .9 .8-1.1 2.4zM1546.6 1925.3l.3-1.9 1.5 .3 0 1.6zM1548.2 1926.2l-1.7 .5-1.3-1.2 1.8-.7zM1543.2 1931.3l.3-.8 .6-.9 .5 .4-.6 .9zM1543.9 1924.7l-.6-1.6 1.8-.9 1.9-.2-.5 1.8-1 2.1zM1547.7 1927.9l-2-1.1 .3-1.8 1.7 .7zM1532.9 1929.2l.5-1.5 1.4-.6-.4 1.5zM1544.7 1929.7l-1.5-1.4 .9-1.8 .7-1.7 1.8 .4 .8 1.8-1.4 1.2zM1544.2 1938.1l-.4-1.2 1-1.2 .3 1.5zM1541.7 1937.8l-1.3 .3-.8-1.1 1.3-.4zM1549.3 1926.1l1.1-.6 1.5 .2-1.4 .8zM1545.9 1934.7l-1.6 .7-1.2-1.2 1.6-.7z" fill="#ffebbe"/>
<path d="M1582.9 1917.8l10.5-10.4 15.7-4 13 4-5.2 7.8-13.1 5.2-10.4 5.3z" fill="#00bc7b"/>
<path d="M1588.2 1915.2l10.4-6.5 15.7-2.6 5.2 5.2-13.1 3.9-10.4 5.2z" fill="#1f7200"/>
<path d="M1614.2 1907.9l-.7 .7-1.1-.4 .2-1.1 1.1 0zM1594.5 1913.2l.9-.5 1.7 0 0 .7-1.8 .3zM1603.8 1910.6l-1.2-.4-1.1-1.2-1.2-1.7 1.2 .3 1 .4 1 1.4zM1610 1911.6l.4-1 .9-.7-.5 1zM1607.7 1910l-1 .2-.4-.8 .3-.5 .9 .1zM1602.7 1912.6l-.6-1.1 .9-.6 1.1 .1-.2 1.4zM1600.8 1916.7l-1.1-1.7 1-1.6 1.3 1.6zM1591.4 1914.9l-1-.4 .3-1.6 .6-1.4 1.3-.4 .1 2-.1 2.1zM1604.7 1908.3l.4-.4 .8-.2 .2 .3-.8 .3zM1592.5 1912.1l1.7-2 2.5 .7 .6 2.3-2.6 0z" fill="#ffebbe"/>
<path d="M1601.2 1891.7l7.9-6.6 13-3.9 1.3 7.9-14.3 7.8z" fill="#00bc7b"/>
<path d="M1602.5 1891.7l9.2-5.2 9.1-1.4-6.5 6.6z" fill="#1f7200"/>
<path d="M1616.8 1886.3l.8-1.2 1.3 .9-1.1 .8zM1611 1892.2l-.5-1.9 2.2-.3-.1 1.9zM1609.2 1891.7l.2-1.5 2.1 .1 .8 .9-1.9 .9zM1606.3 1890.5l-1.1 .2-1.3-1 1.6 .1z" fill="#ffebbe"/>
<path d="M1598.6 1882.5l10.5-6.5 13 0-7.8 6.5-10.5 5.3z" fill="#1f7200"/>
<path d="M1609.4 1882.6l-1.5-.8-.8-1.4 1.5 .7zM1614 1878.3l-.4-.2-.3-.8 .4-.3 .7 .8zM1605.1 1881.1l-.2-1.6 2-.4 1.6 .8-.2 1.4-1 1-1.5-.3zM1612.9 1882.8l-1.1 .6-.8-.7 .9-.6zM1615.6 1878.5l-.8-.5-.6-.8 .4-.3 .6 .8zM1611.2 1881.8l-1.5 .2-1.6-.6-1.3-1.7 2.2 .2 1.5 .5zM1607.6 1882.7l-1.6 .4-.7-2.1 .8-1.9 1.8-.3 1.2 1.7-.1 2z" fill="#ffebbe"/>
<path d="M1627.4 1883.8l5.2-2.6 7.8 15.7-5.2 2.6z" fill="#1f7200"/>
<path d="M1603.8 1954.4l7.9-7.8 9.1 2.6 2.6 13-6.5 10.5-9.1-5.2z" fill="#00bc7b"/>
<path d="M1609.1 1951.8l10.4-1.3 1.3 11.7-6.5 2.7z" fill="#1f7200"/>
<path d="M1619.2 1962.1l-.7-.4 0-.8 .7-.1 .5 .7zM1614 1956.4l-.2-1.4 .8-.8 .3 1.1zM1617.5 1954.4l.6-1.4 2.1 0 .2 1.2-1.6 .9zM1614.9 1963.1l-1.2-1 1.3-1.8 1.7-.3 .8 .9-.3 1.4-1.2 1zM1615.5 1955.1l-2.1 .1-.6-2 .3-2.2 2.3 .1 .6 2.3zM1611.2 1953.1l.1-1.1 1.3 0-.4 1.1zM1619 1959.5l.5-1.1 1.1 .2-.4 .8z" fill="#ffebbe"/>
<path d="M1665.2 1912.6l9.2-10.5 15.7-9.1 10.4 0 3.9 7.8-9.1 11.8-15.7 10.4-10.4 4z" fill="#00bc7b"/>
<path d="M1680.2 1915.2l-2.9-.3-1.9-3.5 1.8-2.9 3.1 1.2 2.9 3.5zM1684.8 1909.3l3.2-2.8 4.9-.8 .4 4.6-4.6 1zM1679.4 1919.5l-1.2-1.9 1-1.7 1 1.7zM1673.3 1921.7l.8-2.3 1.8-1.6 2.2-.6-.1 2.1-2.4 2.5zM1707.1 1915.2l9.1-5.2 10.5 11.7 11.7 10.5-3.9 2.6-13.1-7.8-9.1-6.6zM1734.5 1950.5l10.4-7.9 10.5 2.7-5.2 6.5zM1665.2 1894.3l6.6-3.9 3.9 5.2-6.5 2.6z" fill="#1f7200"/>
<path d="M1728 1894.3l11.7-7.8 7.9 2.6-5.3 7.8-10.4 1.3z" fill="#00bc7b"/>
<path d="M1734 1896.6l-.3-.7-.1-.9 .4-.1 .3 1zM1731.9 1895.3l-.4-.8 .5-.6 .5 .6zM1744.1 1896.5l-1.7 1.3-1.8-1.4-.7-1.2 1.3-.6 2.2-.1zM1738.1 1893.3l-.5-.9 .2-1.3 .8 0 0 1.3zM1729.8 1895.4l-.7-1.1 .8-.8 .5 .8zM1743.8 1892.6l-.8-.6 .4-.9 .8 .6zM1739.7 1890.9l-.5-1.7 1.2-1.2 1 1.7zM1739.8 1892.4l-.1-.6 .6-.7 .3 .2-.4 .7zM1735.2 1898.5l.2-1.7 1.6-1.9 1.7-.3-.3 1.8-1.4 1.2z" fill="#ffebbe"/>
<path d="M1728.3 1897l2.6-1.6 3.6-.4 2.9 .8-.5 1.4-2.2 1.3-3.9-.1zM1743.1 1895.3l-1.7 .9-2.3-1.3-.1-1.7 1.4-1.1 1.7 1.6zM1737.8 1894.8l-2.1-.6-.2-2.4 2.1 1zM1740.6 1893.3l-1.2 .7-1.8-.8 .4-1.8 2.1 .5zM1739.3 1894.5l-2 .1-1.5-2.7 .2-2.6 2.5 .9 2 2.5z" fill="#1f7200"/>
<path d="M1734.5 1876l13.1 0-2.7 3.9-7.8-.8z" fill="#00bc7b"/>
<path d="M1505.8 1911.3l9.2-6.6 9.1 2.7-1.3 10.4-10.4 3.9z" fill="#1f7200"/>
<path d="M1516.6 1919.1l-.9 .1-.9-.9 .7-1 1 .9zM1510.5 1912.4l-.1-1.8 1.7-2.4 2.2-1.5 .5 1.2-.4 2.1-2.1 2zM1517.2 1916.4l.2-2.2 2.1 0 1.2 1-1.6 1.1zM1517.1 1916.7l-2.6-1.4 .2-3.1 2.4 .2 1.5 2zM1510.9 1917.9l1.7-1.6 1.4 .9-.9 1.5zM1519.9 1916.3l-1.2-3.4-.6-3.1 .8-3.4 1.5 1.1 1.1 2.2-.7 2.9z" fill="#00bc7b"/>
<path d="M1481 1907.4l5.2-7.9 5.3 5.2 1.3 10.5-6.6 0z" fill="#1f7200"/>
<path d="M1530.7 1954.4l10.4-5.2 10.5 2.6-5.3 10.4-10.4 5.3-7.9-5.3z" fill="#00bc7b"/>
<path d="M1533.5 1961.7l-1.1-1.3-.1-1.7 1.5-.3 .7 1.9zM1547.3 1956.3l.1-.9 .7-.8 .6 .2-.6 1.3zM1537.8 1967.1l-1.1 .5-1.7-1.1 1.2-.9 1.3 .4zM1544.6 1963.2l-1.7 .2-1.7-.4 .1-.9 1.9 .2zM1532.2 1956l-.8 .5-2-.8-1-1.2 1.7 0 1.5 .7zM1535.4 1955.5l.8-.4 .9 .3-.8 .4zM1545.7 1958.4l-.8-1.4 .5-1.8 2-.7 1.5 1.3 .3 2.2-2 .7zM1533.4 1963.6l-.6-1.7 1.8-1.3 1.9 .6 1 1.8-1.3 1.6-1.9 .6zM1531.5 1955.7l-1.2 .1-.7-1 1.2-.1zM1538.4 1961.7l.9-.4 1.4 0-.3 .6-1.1 .3zM1538.5 1952.3l-1.6 1.1-1.8-1.5 2-.9z" fill="#ffebbe"/>
<path d="M1525.4 1977.9l5.3-15.7 10.4 2.7-2.6 10.4-7.8 10.5z" fill="#00bc7b"/>
<path d="M1537.3 1971l-.8-1 .3-1.3 .7-.1 .3 1.2zM1530.9 1970.3l-2.2 1.3-2.6-.8 1-2.3 2.2-.1zM1537 1971.4l-1-.3-.3-1.6 .8-.5 1.2 1.5zM1537.1 1970.7l-1.4-.7 .5-1.3 1.1-.4 .4 1.2zM1532.3 1975.9l-1.2 1.5-2.2-.8 .2-1.4 1.9-.6zM1530.1 1983.7l-.9 .3-.7-.8 .5-.8 1 .3zM1528.8 1972.1l-.6-.5 .1-1.1 .6 .1 .1 .8zM1529.1 1972.9l-.8-.2-.8-1 .7-.3 .8 .8zM1526.8 1979.4l-1.3-.5-.1-1.6 1.7-.8 .7 1.8zM1532.6 1980.7l-.4-1.1 1-.5 .4 1zM1525.7 1977.8l1.3-1.3 1.5-.9 1.7 .4 .1 1.4-1.2 1.1-1.5-.2zM1531.5 1965.9l-.6-1.1 .5-.8 .4 .8zM1525.6 1977.3l.5-1.6 1.5-.4 1.2 .6 .7 1.4-.8 1.8-1.8-.9z" fill="#ffebbe"/>
<path d="M1507.1 1941.3l7.9-6.5 2.6 9.1-1.3 15.7-6.5 0z" fill="#00bc7b"/>
<path d="M1513.9 1945.1l-1.1-.5-.7-1.2 .4-.9 1.3 1.4zM1514.8 1958.7l-1.1-1-.4-1.5 1.1 1zM1514.4 1940.7l-1.4 1.3-2-1.6 .2-2.4 2.2-.5 1.1 1.8zM1517.1 1952.9l-2.2-.2 .4-2.2 2.2 .4zM1515.2 1949.6l.1-1.3 1-.2 0 .9zM1507.5 1947.4l1-1.5 1.1-1.4 1.4 .9 1.3 1.1-1.5 1.3-1.6 .1zM1512.7 1939.8l-1.3-.4 .6-2.1 1.1-.5 .9 .7-.3 1.7z" fill="#ffebbe"/>
<path d="M1508.4 1937.4l6.6-2.6 2.1 6.5-6 2.1zM1474.5 1941.3l5.2-3.9 1.8 17-4.4 2.6z" fill="#1f7200"/>
<path d="M1594.6 1945.8l-.1-3.7 3.7-3.2 3.7 2.8-3.2 4.9zM1591.7 1945.6l.6-1.5 1.4 0-.3 1.4zM1595.1 1948.9l.8-.9 1.3 .6-.9 1.6zM1593.9 1942.3l-.6-3.4 3.7 .2 1.8 2.4-2.4 2.9zM1583.5 1955.4l.6-1.7 2.4-.3-.8 2.6zM1596.7 1947l-.1-1.6 .7-1.8 .9 .7-.2 1.8zM1578.7 1955.4l-2.2 1-1.5-2.2 .2-2.4 3 1.3zM1584.7 1956.3l-1 .3-1.1-.7 .8-.7 1 .1zM1590.1 1955.5l-1.2-1.7 .3-1.4 1.3 1zM1596.5 1941.6l-.4-1 .4-1.4 .9 .4-.2 1.2zM1592.9 1951l-.9-.8 .6-1 1 .7zM1598 1940.7l-1.1-1 .1-1.2 1.1 .7zM1588.1 1956l-2.2-.1-.7-2.2 .3-1.6 1.9-.6 1.3 2.5zM1581.7 1958.1l1-2 1.3-.9-.6 1.5zM1597.1 1942.9l-1.1 0-.2-1.2 .6-.9 1.1 1.1zM1591.7 1946.4l-1.5-1.1 .9-2 1.7-1.3 1.3 1.8-.6 2.3zM1588.8 1954.5l-1.1-1.8 0-2 1-.3 1 2.1zM1592 1951.7l-1.6 .5-1.7-1 1-2.1 2.4 .5zM1571.8 1914l1.9-1.4 2.1 .8-1.7 1.7zM1566.4 1920.6l-3.3-2.1-2.3-5.2 2.6-.3 3.5 3.7zM1567 1917l-1.4 .4-1-1.1 .6-1.1 1.4 .4zM1582.5 1909.4l-2.5 .9-2.8-1.2-.6-2.5 1.5-1.1 1.9-.1 1.8 1.5zM1578.3 1907.7l-1.1 .8-2.8-.5-.9-1 1.1-.7 2.8 .3zM1577 1911.7l-1.9-.1-1.3-2.3 .5-2 1.5-.7 1.8 1.2 .3 2.2zM1574.1 1910.8l0-1.2 1.4-.5 .3 .7-.5 1.1zM1564 1922.1l-2.8 .6-.8-3.7 1.6-2.6 2.2 3.4zM1578.1 1907.1l-1.1-.9-.1-2.6 .3-1.8 .9-.3 1.1 1.6-.1 3.1zM1570.1 1918.5l-.2-.8 1-.9 .7 .5-.7 1.1zM1559.4 1923.5l-1-1.6 .9-2.7 1.5 1.1 .4 2.3zM1575.8 1908.9l-.3-1.5 .7-1.8 .8 .2-.2 1.9zM1576 1912.3l-1.9-1.7 .7-3.3 2.3 .6 .8 2.7zM1573.7 1914.2l.6-1.9 1.6 .2-.1 1.9zM1573.2 1918.2l-1.6-1.7-.9-3.1 3.1-1.4 1.7 2.5 .9 3.3z" fill="#00bc7b"/>
<path d="M1606.4 2030.2l4-6.6 6.5 1.4 2.6 7.8-6.5 3.9-5.2-2.6z" fill="#1f7200"/>
<path d="M1609.1 2030.2l2.6-2.6 2.1 3.1-2.7 2.1z" fill="#ffebbe"/>
<path d="M1613 2036.7l9.1 3.9 7.9-2.6" fill="none" stroke="#1f7200" stroke-width="2" stroke-linejoin="round" stroke-linecap="round"/>
<path d="M1662.6 2108.6l5.3-1.3 5.2 5.2 1.3 6.5-7.8-2.6z" fill="#1f7200"/>
<path d="M1700.5 2022.3l-5.2 15.7-3.9 20.9-2.6 20.9-4 13.1-5.2 10.5" fill="none" stroke="#1f7200" stroke-width="3.5" stroke-linejoin="round" stroke-linecap="round"/>
<path d="M1683.5 2056.3l6.6-13.1 3.9 2.7-5.2 18.3-2.7 13z" fill="#00bc7b"/>
<path d="M1685.7 2073.6l-.7-1.4 1-1.5 1.4 0-.6 1.8zM1687 2053.7l-.5-1.4 .2-1.7 1.1 .7 .2 1.3zM1690.9 2048.4l-1.1-.5 .4-1.9 1.1-.1 .2 1.7zM1689.1 2070.9l-1.7 1-2.1 0-1-1.9 1.7-1.2 2.2 .3zM1688.7 2074.5l-1.8-.1-2.4-1.6 1-.9 2.5 1z" fill="#ffebbe"/>
<path d="M1647 1933.5l11.7 9.1 10.5 11.8 7.8 18.3 5.2 15.7 1.3 7.8" fill="none" stroke="#1f7200" stroke-width="2" stroke-linejoin="round" stroke-linecap="round"/>
<path d="M1661.3 1970.1l-10.4 5.2-5.3 13.1 2.7 13" fill="none" stroke="#1f7200" stroke-width="1.5" stroke-linejoin="round" stroke-linecap="round"/>
<path d="M1562 1975.3l20.9 5.2 20.9 0 20.9-7.8 18.3 5.2" fill="none" stroke="#1f7200" stroke-width="2.5" stroke-linejoin="round" stroke-linecap="round"/>
<path d="M1567.2 2030.2l15.7-7.9 15.7-5.2 15.7-3.9" fill="none" stroke="#1f7200" stroke-width="3" stroke-linejoin="round" stroke-linecap="round"/>
<path d="M1731.9 1985.8l2.6 15.6 5.2 20.9 2.6 10.5M1765.9 2058.9l10.4 10.5 7.8 13 2.7 15.7" fill="none" stroke="#1f7200" stroke-width="2.5" stroke-linejoin="round" stroke-linecap="round"/>
<path d="M1703.1 1951.8l7.9 2.6-2.6 7.8-7.9-5.2 2.6-5.2" fill="none" stroke="#1f7200" stroke-width="3" stroke-linejoin="round" stroke-linecap="round"/>
<path d="M1708.4 1962.2l7.8 10.5" fill="none" stroke="#1f7200" stroke-width="2" stroke-linejoin="round" stroke-linecap="round"/>
<path d="M1786.8 1883.8l10.4 13.1 10.5 15.7" fill="none" stroke="#1f7200" stroke-width="1.5" stroke-linejoin="round" stroke-linecap="round"/>
<path d="M1776.3 1924.3l15.7-1.3 10.4 5.3-5.2 3.9-13.1-3.9zM1744.9 2043.2l7.9 5.3 2.6 10.4-7.8-2.6z" fill="#1f7200"/>
<path d="M1762.4 2080.7l-1 .8-2-.8-.4-1.5 .8-.7 1.5-.8 1.1 1.8zM1766.8 2132.8l-1.5-2.7 1.7-3.6 2.3 .1-.3 4zM1723.4 2158.6l-2.2-.2-2-1.4 .5-1.5 1.5-.3 1.4 1.3zM1700.3 2124.3l-.2-2.6 2.4-2.6 2.8-.9-.4 3-2 2zM1740 2098.8l-1.4-1 .4-2.2 1.4-1.3 1.7 1.2-.9 2.2zM1804.2 2099.1l-.1-.8 .9-1.5 1.3-.4 .7 .4-.5 1.4-1.6 1.5zM1716.5 2102.9l1.9-3 2.9-1.7 1.6 1.1-3 2.3zM1713.6 2091.9l-3.2-.8-.3-2.8 1.2-2.1 3.1-.2 .2 2.9zM1761.3 2160.6l.6-1.8 2.3 .4 .5 1.9-2.2 .4zM1755.9 2113l-1.7 .2-1.5-1.9 1.3-.5 1.5 .5zM1816.2 2094l-2.1 .6-2-3-1.6-3.9 2.8-.5 2.8 1.6 2.3 3.8zM1761 2095.4l-1.2 .9-1.2-.9 1.2-1.5zM1734.8 2096.1l.3-1.9 1.7 .6-.2 1.8zM1737.9 2163.3l-2.2-2 .7-3.1 2.7 1.1 1.6 2.4zM1782.1 2130l.4-1.5 1.1-.9-.3 1.4zM1791.9 2089.9l-.6-2 1.7-1.1 1.7 .9-.7 2.1zM1719.1 2082l-1.5 .8-1.3-1.1 .3-1.5 2.2-.3zM1753.1 2111.6l-1.4-2 .7-2.4 2.2 .2 2 .3 .8 2.3-1.9 1.7zM1813.7 2090.4l-1.6-.4 .4-1.6 1.4 .4zM1764.8 2093.9l-1.5 .6-2.1-1 2.3-.6zM1758.5 2136.2l-1 .2-.4-1.2 .9-.8 1.2 .8zM1801.9 2107.5l-1.1-1.5 1.7-1.4 1.3 1.1-.1 1.9zM1733.8 2117.8l-1.4-.5 .6-2.1 1.3 .2 .8 1.7zM1782.3 2097.3l-.3-1 1.2-.9 .6 .7-.5 1.2zM1726.9 2169.5l-3.4-1.4-1.5-5.4 3.9-1.1 2.9 4.6zM1740.1 2101.2l-1.1-1.3 .9-.9 .8 .7zM1770.2 2159.4l-1.7 2.6-4.9-.4-2.1-3.1 3-2.3 3.8 .8zM1726.4 2102.4l.7-1.1 1-.2-.6 .9zM1753.1 2165l.1-1.9 1.7-1.6 1.4 .3-1.3 2.9zM1696.5 2141l-.2-3.4 4.1-2.3 2.8 1.9 .3 2.1-.8 2.7-3.7 .7zM1789.4 2112.2l-2.3-3.9 3.1-3.7 3.2-.5-.4 5.5zM1736.3 2146.8l.8-2.1 1.8 1.4-1 1.8zM1771.1 2114.6l-.9-2.7 3-4.9 1.3 1.9-1.3 3.6zM1796.6 2095.3l.1-1.1 1.3-.2-.1 1.5zM1746.9 2077.6l-1-1.7 1.4-2.3 1.9 .5 .6 1.7-1 1.8zM1758 2168.7l-.5-3.1 2.3-2.7 3.7 1.8-2.5 3.3zM1738.8 2106.2l1-2.8 4.1-1.5 2.4 1.7-1.2 2.6-3.5 1.1zM1722.1 2150.4l-2-2.7 1.3-4 2.8 .3 1 1.9 0 3.4zM1728.5 2145.1l-1.7-2.1 .8-3.9 1.5-1.9 1.7 1.5-.5 4.3zM1715.4 2147.1l-.6-2 1-3.6 2.8-2.9 .5 2.7 .2 2.2-2 2.8zM1765.6 2156.3l-1.2-.1-.5-1.4 1.3 .5zM1756.4 2101.3l-.4-1.1 1.1-1.5 1 1-.2 1.8zM1747.8 2130.4l-1.7-3 .9-3.3 2.2-.6-.1 3.7zM1754.3 2128.5l0-2.1 1.3-1.7 2.2 .2 1.1 1.8-.4 2.4-2.3-.5zM1723.3 2108l-2.6-2.8 2.1-5.3 4.8 1.7-.1 5.9zM1787.8 2100.3l-2-3.8 4.1-3.2 4.6 1.6-.2 4.7-3.4 2.5zM1792.7 2088.3l-1.3 .5-1.4-.4 .6-1 1.2-.3zM1787.7 2102.7l1.1-1.2 1.5 0 .5 .9-1.6 1.2zM1773.1 2126.1l-1 1.5-2.2-.6 .8-1.6 1.6-1zM1804.3 2092.2l-1.6-.5 1-1.4 1.2 .7zM1745.5 2152l-.2-1 1-1.8 1.4-1.8 .6 .8-.7 1.7-1 1.4zM1757.1 2085.3l.4-3.4 3.7-1.4 2.8 1.8-.9 3-3.1 1.4zM1756.8 2149.5l-.9-1.1 1.1-1.4 .7 1.5zM1779.4 2086.1l-.8-1.4 1-.9 .8 1zM1785.7 2098.2l-3.6 1.4-2.7 .5-2.2-1.1-1.7-2.2 4-.5 3.8-.6zM1761.5 2121.6l-.3-1.1 .9-1.2 .7 .5-.4 1.3zM1743.9 2126.1l-2.4 1.2-2.7-1.6 .4-2.8 1.8-1.4 2.3 .1 .9 2.2zM1698.6 2121.7l-1-.1-.7-1 1.2 .1zM1721 2116.8l0-1.2 2.5-.1 1.8 .4-1.6 1-1.7 .4zM1737.7 2107.8l.1-2.5 2.1-1.9 2.1 1.2 0 2.2-1.9 1.4zM1732.6 2155.4l.3-1.2 1-.6 .8 .9-.9 1.1zM1733.4 2099.9l-2.1 1.7-1.1-2.1 1.5-1.1zM1755.3 2080.9l-.9-1 .5-1.4 1.5 .2 .1 1.5zM1773.7 2109.5l.4-1.6 2.1-1.8 .5 1.8-1.3 1.5zM1705.6 2135.6l-2.7-1.5-1.8-3.7 3.1-1.3 2.4 3.4zM1773.9 2126.4l.4-2 1.6-1.1 1.8 .5-1.8 2.1zM1731.4 2107.8l1-2.7 2.4-2.6 2.5-.3-.6 2.4-2.6 3.3zM1727.3 2089.6l-2.3-1 .1-2.5 1.9 1.2zM1729 2111.6l-1.8 2.3-2.9 .8-2.6-1.9 1.3-2.4 1.5-2.2 2.4 1.4zM1770.9 2143.3l-1-.2-.8-1.3 1.4 .5zM1768.1 2148.2l.1-1.6 1.1-1-.1 1.5zM1716.9 2141.8l-1-2.5 1.5-4.3 2.6 .8 2.1 1.7-2.2 4.6zM1790.4 2091.8l-.8-.5 1.7-1.7 1.1-.7 .9 .1-.4 1.7-1.6 1.1zM1789 2114.4l1.3-2.7 3.6-.4 .6 2.7-.6 2.2-2.8-.1zM1785.9 2099.5l-2.4-1.9-1.1-4.7 1.9 0 2.7 3.7zM1729.5 2134.9l-1.1 .2-.7-.6 .2-1 1.4 .1zM1724.3 2112.7l-1.8-.9-2.7-2.3 .5-3.1 1.5-2 2.1 3.7 1.3 2.8zM1722.8 2130.3l-3.5-2.2-2.4-4.8 3.4-.5 3.4 3.4zM1744.2 2164.2l-2.7-.2 .7-3.2 1.8-2.1 2.1 .8 .4 2.2 .2 3zM1716.5 2097.1l.8-.9 1.5-.3 0 .9-1.3 .8zM1697.9 2139l-2.6-.8 .4-2.2 2.1 .4zM1729.6 2083l-2.4-1.9 .1-3.5 1.7-1.8 2.5 1 .2 3.9zM1743.2 2134.2l-2.2-.5-2-2.3 1.8-.7 2.3 1.2zM1794.2 2098.1l1.3-2.3 1.1-2.1 2-1 .7 .7-1.1 2-2.2 2.5zM1700.5 2126.7l.3-3.2 .8-2.5 2.4-3.3 .9 2.7 .9 2.5-2.5 3.8zM1778.7 2139.1l-1.1-.5-.7-1.2 .3-.7 1.4 1.3zM1757.5 2166.1l-.8-.2-.9-1.3 .4-.4 1.2 1.1zM1769.5 2102l-2-2.8 0-3.7 3.2-.4 2.2 1.9-.2 3.4zM1740 2102.5l-1.7-1.3 1.4-1.5 1.3 1.3zM1799 2098.6l-1.4-.2-1-1.8 .9-.6 1.1 1.2zM1735.4 2132.5l-1.8 .7-1.9 0-1.3-1.7 1.3-1.3 1.5-.3 1.8 .6zM1791.5 2118.1l-1.4-1.4 1.1-3.5 2.1-2.2 1.2 2.6-.9 4.2zM1771.9 2092.8l-.5-2.1 2.5-.5-.3 2.2zM1737.4 2154.6l-.8-1.5 1.4-1.9 1.5 1.2-.3 2.1zM1737.6 2172.7l-3.2-1.1-2-2.3 .3-3.4 3.3 1.1 1.8 2.2zM1736.9 2126.5l-1 2.2-2.2-1.2-1.2-1.8 1.5-1.8 2.7 .2zM1792.7 2076.1l-.8-.3-.8-1.3 .6-.2 .9 1zM1746.4 2084.4l-.8-.2-1-.7 .3-.5 1.2 .7zM1747.9 2173.8l-3.5-2.2-2.6-3.5 1.8-2.7 3.2 0 2.7 4.6zM1713.8 2085.1l-3-1.6-1.4-4 1.1-1.1 2.9 3.2zM1759.5 2163.7l-1.8 1.8-4.2-1.4-1.6-2.8 .1-2.8 4.1 .8 3.1 2zM1764.9 2120.7l-5.1 2.4-1.9-5.6 3.6-2.3 3.7 1.2zM1717.4 2138.7l-1.7-3.7 3-5.2 2.9 2.1-.7 5zM1716.1 2151.6l1.7-1.2 1.6 1-1.5 1.1zM1743.4 2102.7l.6-1 1.2-.2 .7 1.1-1.4 .6zM1718.3 2126.3l-2.9-2.4-1.3-3.7 1.9-1 2.5 3.4zM1733.3 2079.7l-1.5 .4-1.6 .2-1.6-.7 .5-.8 1.4-.3 1.5 .4zM1792 2090.2l-1.9 .1-.3-2.2 1.7-.9 1.7 1.4zM1755.2 2084.3l-.6-1 .4-2.5 1.7-1.1 .1 2.2-.3 2zM1774 2124.4l.5-1.6 1.8 .3-.8 1.5zM1707.8 2128.3l-2.5-.7 1.4-3 1.6-1.2 1.8 1.2-.3 3zM1768.7 2136l-.8-2.1 1.6-1.7 1.8-1.3 .7 1.8 .5 1.7-1.6 1.5zM1749.5 2155.7l-1.6 .6-2.1-.8-.1-1.5 1.2-.6 2.3 .6zM1764.1 2142.8l-.8-3.4 3.1-4.8 1.8 1.4-1.2 4.9zM1719.9 2164.4l-.7-1.5 0-2.3 1 .5 .2 1.7zM1745.5 2101.1l-4.7-.9 1.9-4.4 3.1-1.4 4.3 .9-1.5 4.2zM1720.2 2150.4l.7-1.7 1.8 .1 .7 1.2-1.5 1.1zM1703.7 2131.9l-.6-2.8 2.7-3.3 2.2 3.1-1.5 2.7zM1769.9 2157l-.5-.9 .2-1.7 .9-.3 .1 2.1zM1789.1 2101l-2.6 1.3-2.7 .4-2-1.7 .7-1.9 2.2-.7 2.9 .2zM1749.7 2148l-1.8 .4-1.4-1.5 .7-1.5 2.1 .8zM1765.9 2141.4l-1.3-.1-1.5-2 .9-.4 1.8 1.2zM1723.7 2122.9l-.9-1 .6-1.5 1.1 1.3zM1744.2 2129.7l.5-1.6 1.7-.5 .5 .7-1.1 1zM1793.4 2104.2l-1.7 .1-.1-2 .9-1.4 1.4 1.8zM1772.6 2083.8l.3-1.5 1.1-.2 0 1.1zM1778 2092l-1-2.8 1.3-4 2.4-1 .7 2.6-1 3.3zM1748.1 2126.3l-3.7 .4-3.5-3-2.2-3.3 3.7-.3 4.4 2.7zM1778.7 2134.9l-2.3-3.7 2.6-4.8 3.4 .6-.3 5.4zM1720.8 2082l-3.5-.7-2.6-3.1 1.6-2 4.3 2.1zM1704.7 2128.3l-2.1 0 0-4.5 1.3-3.6 2.1 .4 1.1 3.3-.6 3.9zM1767.9 2102.4l0-1 1.4-1.3 1.6-.7-.3 1.6-1.6 1.2zM1696.3 2137.9l-2.3-1.4 .3-2.9 2.9-.7 .3 3zM1728.3 2084.5l-1-1.2-.1-1.4 .6-.3 1 1.5zM1782 2103.1l-1.6-.2-1.9-1.6-.8-1.9 .7-.8 1.9 1.1 .8 1.6zM1741.3 2157.6l-.4-1.1 .3-1.1 .4-.1 .2 1.3zM1767.8 2088.4l-1.2 .2-.7-.9 1.1-.2zM1801.9 2104.5l1-.6 1 .1 0 .4-.9 .3zM1791.7 2110.8l-1.3 .2-2.1-1.5 .5-1 2.5 1.1zM1708.6 2121.9l2.1-1.8 2.2-1.4 2.7 .7-.4 1.9-1.6 1.5-2.7 .2zM1721.5 2127.4l-.9-.8 .2-1.9 1-1.7 1.2 1.3-.1 2.9zM1786.5 2076l-.6 1-1.4-.4 0-1.4 1.6-.3zM1769.5 2118.3l-2.2 1.2-1.6-2-1.2-2.1 2.4 .1 1.7 .7zM1723.4 2109.9l-2.7 .5-3-.8-.3-1.7 3.8 .5zM1732.3 2147.6l-.7 .6-2.2 0-1.8-.9 0-1 2.4 .3 1.9 .1zM1773.3 2096.9l1.3-2.1 2 .3-1 1.5zM1722.5 2096.2l1.5-3.8 4-3.5 .8 4.4-2 3.2zM1756 2132.7l-1-1.7 .2-2.3 1.2 .7 .6 1.6zM1791.2 2085.3l-1.4-1.6 .4-2.2 2.1 .1 .3 2.1zM1759.7 2099l1-4.5 2.8-2.8 3.4 2 .2 3.5-2.9 1.7zM1787.7 2078.1l-.6-1.7 .2-2.4 1-1.1 1.2-.9 .3 2.4-.9 2.4zM1739.5 2089.4l-1.7 1-3.4-1.6 .6-2.1 3.4 1.1zM1791.9 2093.4l1.2-2.1 2.2-1.5 .7 1.4-1.7 2.2zM1757.8 2089.4l-3.7 .4-2-2.1 .4-2.5 2.5-1.3 3.4 1.5zM1794.6 2105.7l1.5-2.1 2.4-1.8 1.8 1.2-.3 2.1-3.1 1.8zM1709.9 2139.9l-.6-3.6 4.2-1.6 2.5 2.9-.7 3.3-3.2 .8zM1738 2153.5l-1.5-2 2.5-.3 1.3 1.9zM1753 2126.8l-1-2 1.4-1.7 1 2zM1776.5 2148.2l-1 1.8-3-2.9-1.4-2.3-.1-2.4 3.7 1.4 1.8 2.9zM1742.3 2163.9l-2.2-.5-.1-2.7 1.8-1.1 2 2.4zM1783.1 2106.3l-1.2 .1-.7-.8 0-.9 1.3 .6zM1759.3 2116.6l-2.3 1.4-2.1-1.6 2.2-1.5zM1727.7 2126.9l-.6-.5 .4-1.2 .6-.1 0 1.2zM1737.6 2164.4l.5-1 1.1-.1-.6 .8zM1754.6 2096.2l2.2-3.6 3.4 .6 .5 2.7-2.4 1.8zM1771 2145l-1.9-1.1 .9-2.1 2.5 1.1zM1719.5 2077.2l-1.3-1-1.3-1.5 .7-.5 1.2 1.5zM1722.3 2138.6l0-.9 .8-.6 .9 .3-.8 1zM1706.9 2113.5l-.1-1 1.1-.6 .6 .9-.7 1zM1743.7 2129.6l-3.4-1.2 0-6 3.1 .6 2.4 3.9zM1730.3 2163.1l-1.9 1.6-2-1.1-.9-2.2 3.2 0zM1738.8 2172.4l-1.4-.3-.3-1.6 1.6 .5zM1718.2 2148.6l-1.7-3.1 .4-3.5 2.9-.5-.1 3.9zM1793 2084.5l-.8-4.4 4.5-1.6 4.1 1.9-3.6 4.4zM1799.1 2119.2l-2.2-3.5 2-4.8 4.4 2.3 .4 4.9zM1727.1 2071.8l.5-.5 1.5 0-.4 .6-1.1 .4zM1733.6 2108.1l-2.2-1.2 0-2.1 2.1 .7zM1719.3 2125.1l1-2.6 2.8-1.5 2.4 1.3 0 3-3.8 1.4zM1745.4 2133.5l-2.2-.3-2.4-1.8 1.8-.9 2.2 .8zM1789.5 2084.2l-2.8 1-2.4-2.2-.2-2.5 2.4-1.7 3.1 2.3zM1747.9 2157.1l-1.4-.9 0-2.2 1.2-1.3 1.2 .3 .9 1.4-.3 2.3zM1731.9 2157.6l.4-.9 1.7-1.1 1 .3 0 1-2.1 .8zM1790.9 2098.6l-3-1.3 .7-3.6 2.2-3.2 4.2 .4 .5 4.4-1.5 3.2zM1732.4 2145.7l-.5-2.4 1.7-.9 .4 1.6zM1728.6 2081.2l-.8-2.3 2.2-2.3 2.1 1.1-1 3.3zM1748 2109.9l-2-.1-.2-2.3 2.2 .4zM1730.6 2091.4l2.3-2.2 3.1 1-.2 1.8-2.8 1.4zM1725.4 2086.9l-2.2 .4-1.4-1.5 .9-1.7 2 .7zM1702.5 2132.4l-3.1-3.7 1.1-3.7 3.3-.5 2.7 4.3zM1800.5 2082.5l-1.3-.9-.8-1.8 .7-.2 1.2 1.4zM1756.8 2164.4l-2.4 .8-1.5-3.5 1.3-1.7 2.5 2.3zM1738.1 2090.2l.5-.9 1.2-.6 0 .7-.7 .8zM1765.7 2104.4l-2.5 .4 .9-2.3 1.8 .2zM1721.1 2142.4l-1.9 .1-1.7 .1-1.3-1.1-.3-1.4 2.3 .5 2.1 .4zM1792.6 2106.8l-1.7-.3-1.1-1.9 1.3-1.6 1.7-.1 1.9 .9 0 2.6zM1751.2 2091.6l-2.2 .4-1.5-1.5 2.3-1.1zM1789.2 2079.8l-1.5 .3-1.5-.5 .2-.7 1.6 0zM1724.4 2091l-1.3-.4-1.3-1.2-.3-1 1-.4 1.5 1.7zM1737.5 2097.6l.3-2.1 2.4-1.7 1.3 .7-2 2.3zM1752.7 2107.2l-1.5-1 .7-1.7 1.2 1.2zM1758.3 2084.8l-1.9-.5-.7-1.9 1.5-1.4 1 1.9zM1746.9 2082.7l-.2-1.7 2.1-1.8 2.4 .5 .4 1.6-1 1.9-2.7 1zM1728.7 2109.3l-1.7-1-.3-2.5 2.5-1.1 .6 2.9zM1736.1 2177l-3.1-3.2-.4-4.8 1.8-.4 1.9 3.8zM1723.1 2097.2l-2.6 .8-2.2-2.1 1.9-2.7 2.9 1.1zM1790.3 2096.3l-1.7 .6-1.2-1.6 .6-.9 1.4 .5zM1790.4 2087l-2 2.1-2.7 .6-2-2.2 .1-3.1 2.9-.6 2.8 .3zM1739.5 2164.1l-.7-.9 .4-2.1 .9 .7 .5 1.8zM1725.6 2151.6l-1.3 .9-1.7-.6-.3-1.1 1.9 0zM1775.9 2097.4l.5-1.9 2.3-1.8 3.5-1.5-.6 2.5-1 2-3.1 1.6zM1739.8 2095.9l0-1.8 2.2-.7 .9 1.7-1.4 1.7zM1775.3 2080.1l-1.1-.9 .5-1 1.2 .5zM1729.2 2161.6l-1.5-1.9 .7-2.3 1.3 0 .7 2.2zM1727.7 2094.3l-.3-3.4 2.7-1.4 2.4 .5 1.3 2-.8 2.2-2.3 .6zM1728.1 2091.7l-3.3 1.8-3.2-.3-2.5-1.9 1.3-2.2 2.2-2.2 3.8 1.4zM1770.6 2149.9l-.3-1.6 2-1 1.7-.1 .3 1.2-.6 1.4-1.8 1.1zM1755.6 2169.8l-1.2-.1-1.3-.6 .7-.9 1.3 .5zM1769.9 2161.2l-.3-1.6 1.9-.1 0 1.8zM1727.2 2102.2l-4.5 1.8-2-4.2 1.1-3.3 5.3 .7zM1766.4 2136.8l-3.2 .4-1.8-3.4 .8-2.9 2.8 1 2.3 2zM1757.9 2162.9l-1.8-.2-1.4-1.6 .4-1.5 .7-1.8 2 1.2 .8 2.2zM1779.2 2087.8l-1.7-1-1-3.1 1.7 .3 1.2 1.8zM1750.7 2172.7l-1.9 .7-.6-2.2 2.1-.1zM1786.5 2111.1l-1.9-.4-1-2.4 .6-1.6 1.6 .6 1.4 1.9zM1724.1 2119.1l1.4-.3 1.2 .3-1.2 .4zM1724.8 2163.3l-2.6-1.4-.6-3.7 1.4-.3 2.1 2.4zM1720 2134.7l1.3-2.1 2-2.1 .3 1.3-1.4 2.2zM1736.2 2125.9l-2.4-1.3-1.4-2.9 2.7-1.6 2.4 1.2 1.2 2.9zM1784.2 2108.2l-1.3-1.9-.3-2 1.7-.9 2.1-.5 .5 2.2-.5 2.4zM1795.1 2112.1l-.5-1 1-.8 .5 1.3zM1784.6 2092.1l-4.7 1.1-3-3.3 1.6-3.5 4.3 1.4zM1718.2 2080l0-2.4 1.5-.7 .5 1.7zM1788.2 2092.9l-1.9-2.1 1.3-2.6 2.1-.4 1.5 1.4 .1 3.3zM1801.4 2113.5l-1.5 1.3-1.5 .4-1.2-1 0-1.4 .9-2.1 1.9 1.4zM1778.3 2088.1l1-1.5 1.4-.4-.6 1.4zM1773.2 2127.3l1.9-1.4 2.4 .8-2 1.6zM1748.1 2129.5l-3.5 .9-1.9-3 .6-2.7 2.9-1.7 1.5 3.3zM1741.8 2172.2l-2.4 .3-.9-2.2 2.2 0zM1788.4 2109.6l-.9-.6-.4-1.1 .5-.7 1 1.3zM1748.1 2142.1l.8-2.4 2.1 .9-.7 1.9zM1731.5 2108.9l-1.2 .6-1.3-.8 .6-1.1 1.9-.4zM1775.7 2095.1l-2.2 1.1-2.8 .5-2.4-1-.5-1.5 2.8-1 3.5 .4zM1744.3 2131.6l-1.3 .6-2.1-1.7 0-1.5 3.1 1.1zM1745.8 2091l-1-3.1 3-2.8 2.7 2.5-1.2 4.1zM1712.8 2144l-1.1 .7-1.5-2.2-.3-2 1.8 .5 1.4 1.9zM1743.8 2119l1-1.3 3 .3-.7 1.7-2.4 .8zM1710.1 2140.5l-1-.1-.6-.8 1.1-.1zM1747.6 2105.8l-1.1-1.8 1.3-1.5 1.4-1.4 1.7 1.2 0 2-1.2 1.8zM1728.9 2153.7l-1.5 2.7-3.2-1-.8-2.4-.3-2.5 2.8-1.1 3.2 1.3zM1729.1 2084.1l-3.1-3.7 1.6-4.2 3.8 1 2.7 4.3zM1735.6 2173l-1.5-.3-.6-1 1.2 0zM1750.5 2166.3l.6-1.3 2.1 0 .6 1.3-2.1 .6zM1749 2087.1l1.7-3.3 4.2 .9 .7 2.8-4.1 2.5zM1722.2 2099l-.2-2 1.3-1.2 .7 .5-.1 1.7zM1718.6 2147.9l1.2-4.6 5.5-2.1 1.8 3.3-3.8 3.8zM1768.6 2098.7l-1.7 1.2-1.3-1.5 .5-1.7 1.7 .4zM1728.5 2126.9l-1.3-1.5 .7-3.1 .6-1.8 1.1-.1 .5 2-.5 2.1zM1743.3 2163.8l-1.3-2.5 2.3-1.3 2 0 1 2-1.4 2.2zM1725.5 2141.6l-2.2-.2-1.7-.2-.6-1.4 .4-.9 1.6-.6 1.9 1.4zM1734.9 2142.6l-2.5 0-1.7-1.4 .7-1.9 2.9 .7zM1749 2130.8l-1.1-1.7 .6-2.5 2.6-2 1.8 2.8-1.5 3.4zM1773.9 2147.2l-1.6 1.1-1.1-1.7 1.7-.6zM1767.9 2126.2l-2.9-.2-.2-2.7 .7-1.8 2.1 0 1.3 2.1zM1740.5 2176.1l.3-.9 .7-.6 .6 .1-.8 1zM1750.8 2153.2l-1.7 2.1-3.7-1.2-.5-2.9 2-2.3 4.7 1zM1757 2106.8l-4.8 2.8-3.8-3.2-.1-5.1 5.7 1.2zM1737.4 2152.3l-1.3 .1-1.8-.8-1-.9-.2-1 1.8 .2 1.8 1.2zM1760.9 2091.8l-.9 1.4-2.7-.8-2.2-1.4 0-2 3.2 .5 2.8 .6zM1723.4 2131.2l-2.9-1-2.7-2.6 .8-2.8 2.6 1.4 1.4 1.9zM1702 2084.9l-2.9-2.7 .5-4 3.5-.2 .7 3.6zM1726.4 2099.6l0-1.7 1.6-.3 0 1.6zM1739.7 2114l2.7-2.4 3-.3 2 1.1 1 2.2-2.6 1.2-3.3 .4zM1718 2081.2l-2.1 1.7-2.5-2.1-1.3-1.9 .7-2 2.8-.4 2.6 2.1zM1747.8 2105.8l-.7-.4-.9-1.1 .8 0 .9 .6zM1748.2 2123.4l-2.4 1.3-1.4-1.9 1.8-1.1zM1746.3 2161.2l-2.9 1.9-2.5-2.7 .9-2 2.8 .1zM1754.9 2132.8l.2-1.5 1.5-.5 1.5 .5-1.6 1.8zM1749.3 2140l.4-1.6 1.9 .1-.8 1.7zM1808.2 2106.6l-1.1 1.1-2.5-2.5-1-2.2 2.3 .2 2.7 2zM1748 2101.4l-.3-1.6 1.1-1.3 1.5-.1 2 .6-1.4 1.9-1.4 .7zM1734.1 2108.2l2.5-3.1 5.9-.9 .8 3.5-5.5 1.7zM1726.3 2130.9l.2-3.8 4.1-2.5 3 .6-1 2.8-2.5 2.2zM1737.3 2095.6l-.7 .1-1.1-.8 .4-.8 1.4 .7zM1757 2098.5l-1.5 .6-1.1-.8 1.2-.5zM1752.5 2102.6l-.7-2.5 3.3-4 1 2.3-1 3.9zM1803.1 2090l-.9 .5-1.4-.5 .8-1 1.3-.2zM1746 2080.6l-1.4 2.2-3.5 0-2.2-2.5-.2-3.5 4.1-1.5 3.7 2.3zM1774.9 2130.3l-.3 2.9-3-1.2-1.8-1.2-.5-2.5 2.7-.9 2.5 .7zM1759.3 2163l.5-2 1.1-.8 1.5 .3-1.1 1.9zM1725.5 2125.2l-.9-1.5-1.2-2.3 1.5-1.9 1.3 .6 1.4 1.4-.5 3.2zM1728.1 2155.5l-1.4 1.6-1.9-1.6 1.9-1.2zM1714.7 2079l-2.7 .5-3.3-.8-2.2-2.9 2.2-1.4 2.7-.4 3.5 2.1zM1774.7 2134.1l-3.2 .5-2.5-2.8 1.7-3.5 3.7 .1 3.2 2.8zM1739 2138.6l.9-1.2 1.2 .3 .3 1-1.1 .7zM1777.9 2115.9l-2.6 1.4-2.6-1.6-1.6-2 .5-2.5 3.1 .5 1.9 1.6zM1763.8 2081.6l1.6-4.4 3.7-1.5 3.2 2.1-1 3.5-3 1.3zM1773.8 2087.9l1.5-1.9 3.4-.4 1.4 1.1-3.8 1.3zM1784.5 2124.2l-3.5-.5-1.5-3.7-1.1-4 3.3 .6 2.8 .6 1.3 3.9zM1780.1 2140.9l-.6-1.6-.2-1.9 1-1.8 1.5 .2 .4 2.1-.9 1.9zM1718.4 2129.3l.8-1 1 .2-.5 1zM1746.2 2109.9l.2-2.4 2.3-.2-.1 2.4zM1751 2145.8l1.5-1.3 1.7 .3 .3 1.8-1.9 .6zM1782.3 2143.5l-1.9 2.2-4.6 1-1.7-4.5 3.6-2.4 4.9-.3zM1765.2 2084.3l-.1-1.3 .7-2 1.5-.5 .5 1.5-1.3 2.3zM1734 2155.5l-.3-2.4 2.3-3.7 1.6 .1 .7 1.5-2.1 3.1zM1717.7 2145.8l-1.2-.4-.5-.8 .4-.8 .9 .8zM1718.6 2137.8l1.6-1 2.1-.8 2.7 .1 .4 1.2-2.8 .9-2.8 .5zM1754.6 2144.7l-.6-3.7 4.5-1 3.4 1.6-1.9 3.2-2.8 1.2zM1743.4 2159.1l-2.7 .3-4.4-1.2 1.2-2.4 1.7-1.3 3.8 1.9zM1778.7 2084.7l-3 0-3-2.6-1.6-3.7 2.7-.8 3.2 .4 2.5 3.9zM1773.4 2078.3l-.5-1.3 3-1.1 1.6 0 .2 1.5-3.1 1.5zM1770 2105.7l-2-2.3 2.2-2.1 2.9 .5 0 3.4zM1717.2 2097.9l1.3-3.5 3.8 0 4.1 1.9-3.3 3.2-3.5 1.3zM1751 2126.1l.4-1.1 2.3-.8 3.1-.4-.4 1.5-1.8 1.4-2.5 .1zM1778.4 2092.9l-1.4-1.5 .7-3.2 1.4 .9 .1 2zM1727.2 2154.7l-2.6 1.1-2.1-3.1 1.9-2.1 3.8 1.1zM1794.6 2094.6l1.5-3.6 3.6 .6 2 2.4-3.6 2.1zM1752 2107.6l-1.8-1.6 .9-2.2 1.8 .6 1 1.7zM1745.2 2098.7l-2.5-.2-1.4-2.5 1.5-2 2.9 2.1zM1740.4 2139.1l-.5-1.6 .6-2.1 .5 2.1zM1713 2110.5l-.7-1 .7-1 1.1 1.1zM1746.3 2100.8l-1.2 .3-1-1.2 .1-1.4 2 1.1zM1722.4 2115.2l-1.3-.7 0-1.4 1.5 .5zM1756.9 2096l-3.6-1.2-1.9-2.8 1.7-2.8 2.6-.9 2.9 1.2 .8 3.5zM1774.7 2105.6l-1.7-1.1 .1-1.8 1.4-.9 1.8 .6 .6 2.3zM1730.7 2146.9l-2.4-2.7 2-3.5 3.1 1.3 1.1 3.9zM1744.7 2174.3l-3.1 .3-3.4-.6 .7-1.2 3.4-.1zM1724.5 2161.9l2.8-2.1 2.9 1 .8 2.5-3.9 1zM1729.8 2125.7l-.7 1-1.9-.5-.5-1.4 .1-1 1.5-.3 1.3 1.1zM1726.3 2115l.8-1.3 2.1-1 2 .5-1.8 1.5-1.7 .9zM1781.4 2138.1l-1.3-1.3 .5-2.4 1.6 2zM1718.8 2127.4l-.2-1.1 1.2-.2 .7 .6-.7 1.1zM1761.3 2123l-1.8 .3-.8-3.7 1-1.3 1.4 .9 1.6 2.9zM1718.3 2147.4l-2.9-1.7-.5-4 2-1 2.4 3.5zM1796.4 2092.3l-1.2-1.3 0-3.2 .9-1.7 1.3 .9 .1 4zM1753.9 2128.1l-2-4.1 3.2-3.5 3 .5-.6 4.6zM1795.6 2090.5l0-1.5 1.5 0-.2 1.3zM1755.7 2076.1l-1.3 .4-1.1-.4 1.1-.5zM1747.9 2113.7l.7-1.1 2.9-1.4 .9 1-.6 1.2-2.8 1zM1774.4 2099.7l-1.7 1.3-2.3-1.8 .3-2.4 2.2-.4 1.6 1.5zM1756.9 2113.8l-.4-1.4 .8-1.8 .6 2zM1790.6 2080.5l-1.5-.2-.5-2.1 1.3-1 1.3-.4 .6 1.6 .1 1.7zM1727.8 2159.2l-2.5 1.4-2.7-1.1-2.1-1.9 1.1-2.1 2.6-.2 2.9 1.1zM1693.1 2140.8l-1-2.3 2.5-3.1 3-1.9 2 1.3-.9 3.6-3.2 2.5zM1778 2088.6l-2.5 1-3.4-2.3 .2-2.5 2.3-.6 3.1 1.8zM1724.6 2073.4l.3-1.7 1.7-1.2 1.8-.4 .1 1.7-2.1 1.1zM1742.9 2087.4l-1.2-.3 .1-1.3 1.2-.7 .6 1.4zM1790.4 2107.1l1.9-3.1 3-.8 1.8 1.3-3.1 3zM1737.8 2099.1l.1-2.1 1.8-.5 1.7 .9-1.5 2.1zM1794.5 2110.8l.3-1.6 1.5 .8-.6 1.1zM1790.2 2094.9l-1.2-1.3 1.7-1.6 1.6 .1 1.1 .8-.4 1.7-1.6 1.7zM1746.4 2111.9l-2.1-3.2 .4-3.2 3.1-1.9 2 3 1 4.2zM1791.3 2100.5l-2.5-.8-.2-2.8 1.7-1 1.6 2.2zM1747.2 2168.6l-1.9-1.6 .8-1.8 1.3 1.1zM1731.5 2168.4l.2-1.4 1.6-.5-.4 1.6zM1731.5 2130.6l.3-1.6 1.8-.7 1.1 .9-1.6 1.6zM1725.2 2147.6l-1.7-.7-.7-2.7 .1-2.6 2.1 1.3 .5 2.7zM1705.3 2143.2l-.8-2.3 .1-2.1 2.2-.6 1.2 1.8-.2 2.3zM1713.6 2144.9l-1.4-.2-1-.8 1.4 0zM1705.2 2092.8l.3-1 1-.4 .3 .4-.6 .8zM1729 2112.1l-2.1-.6 1.3-2.9 1.8-2.4 2 1.1 .5 2.8-1.9 1.9zM1726.7 2166.1l0-1.2 1.9-1.3 1.6 .9-.1 1.2-.9 1-2.2 .9zM1792.2 2100l-3.2-1.7-2.6-1.8-1.1-3.8 2.4-1.7 3.5 1.9 1.3 3.7zM1746.5 2112.9l-.9-1.4 .4-2.4 .8 .2 .4 2zM1752.3 2120.8l-3.3-2.2-.2-4.1 2.6-3.7 3.9 2.6 .6 5zM1743.7 2084.1l1-1.3 1.7 .5-1.2 1.3zM1742.9 2082.2l-.3-1.6 1.3-1.2 1.2 1.2-.7 1.5zM1721.3 2077.9l.2-1.2 2.9-.7 2.8-.7 .8 1-2.6 1.6-3.1 .7zM1735.7 2093.3l.3-1.4 1.2-.2 .2 1.5zM1744 2088.4l-3.1-2.8-.2-3.2 .8-3.7 3.9 .2 3 2.7-1.6 3.7zM1731.8 2089.6l-.8-2 1.5-2.4 2.1-1.9 0 2.8-.8 2.4zM1740 2082l.1-1.8 1.7 .3-.3 1.5zM1734.3 2092.2l-.9-1 .9-.8 1.1 .2-.1 1.2zM1738.6 2081.7l-1.1-.3 0-1.2 1.6 0zM1731.1 2088.2l-2.1-1.7 .1-3.4 1.4-2 1.7 1.7 .1 2.8zM1725.7 2079.7l-3.4 1.5-2.8-2.2-.4-3.9 3.7-.1 3.2 .9zM1730.4 2082.2l-1.7-.9-.4-2.2 1.7-1 1.9 .7 .1 2.2zM1735.3 2078.8l1.9-1.9 3.3 .5-.1 2.7-2.9 .1zM1744 2084.2l-1 .5-.7-1.1 1.4-.9zM1730.1 2081.6l-2.4 .6-2-1.9 .2-2 1.8-.4 1.9 1.3zM1743.2 2085.4l-4-.8-1-5.2 3.9-2.2 3.6 1.8 .5 4.2zM1738.6 2082l-.6-1.4 1.4-.6 1.2 .4-.8 1.1zM1722.2 2084.2l1.7-3.2 4.1-2.7 3.1 3-2.1 3.3-3.4 1.1zM1730.1 2095.4l-2.7-1.6 .1-4.1 1.7-3.6 2.8 2.8 0 4.1zM1730.9 2087l-3.9-.1-2.6-3.7 2.6-3 3.7 3zM1741.4 2081.4l-2.6 .2-3.1-1.8-.7-1.7 1.3-1.6 3.6 2.7zM1735.7 2078l-2.1-.8 .8-2.3 2.1-.7 1.4 1.2 1.1 1.7-1.8 1.2zM1713.8 2080.3l-1.5-2 1.7-3.3 3.2-2.1 .4 3.8-1.4 3.2zM1751.7 2130.1l1.5-.7 1.7 0 .2 .7-1.9 .6zM1753.8 2153.8l-1.4 .1-.9-1.1 1.4 0zM1740.4 2136.4l1.8-2 3.5-1.1 1.8 2.1 .6 2-2.7 .9-4 .7zM1740.3 2138.5l.4-1.7 1-1 .8 .1-.8 1.7zM1740.6 2143.6l-1.3 .2-.2-1.3 1.3-.3zM1746.8 2138.2l-.2-2.5 .8-2.8 1.8-1.2 1.9-.3 .1 3.1-2.1 3.6zM1758.7 2151.2l.9-1.7 2.4-1.9 1.8 0 1.7 .2-2.2 2.1-2.9 1.5zM1753.2 2151.4l-1.4 1.2-1.5-.9-.1-1.7 2.2-.6zM1765.6 2150.5l-1.2 .7-2.1 .3-1.5-.8-1-1.1 2.3-1 3.5 .5zM1741.7 2141.8l-3.3 .1-3.5-2.1-.1-4.6 4-.8 2.6 1.7 2.7 2.8zM1738.3 2149.4l-1.6-1.9 2.8-2.4 3.1-.6-.3 3.1-1.9 2.8zM1764.3 2145l-2.8 1.2-2.9-1.5 .2-2.8 3.7 .6zM1747 2140.6l-2.6 2.1-3.4 1-3.1-2.2 1.4-2.7 2.3-2.2 3.8 1zM1740.1 2151.5l-1.4 .6-2.3-.4-1-1.4 1.4-.9 2.2 .9zM1745.5 2136.9l-3.4-1.6-1.2-5 1.8-2.4 2.3 2.1 1.6 3.3zM1751.2 2155.1l-1.1-1.3 .6-3 2.8-1.1 1.9 1.2-.2 3-2.3 2.6zM1759.4 2149.7l.1-1 1.3-.8 .3 .9-.8 1zM1757.5 2140.4l-2.8-1.9-.7-4.4 2-3.7 3.2 .6 1.1 3.6-.6 3.2zM1752.8 2131.3l-1.7 .3-1.5-.8 .1-1.5 2.2 .5zM1764.6 2138.4l.5-1.5 3.4-.3 2.5 1.1-2 1.9-3.3-.2zM1754.9 2149.6l.2-1.8 2.2-1.4 1.4 .3-1.9 2.7zM1742.4 2161.6l-.4-1.9 .9-1.7 1.1 .9-.1 1.6zM1747.7 2146.4l-.8 .3-1.1-.7 .5-.8 1.1 .4zM1750.7 2138.1l-.9-1.8 1.1-1.7 1.3-1.7 1.7 .9-.4 2-.8 1.7zM1740 2143.6l-2.7-1.1 1.4-2.8 2.6 .2 1.4 2.6zM1745.6 2155.9l-1.4-1.6 2.4-2 2.4-1.3 0 2.7-1.4 3.1zM1764 2138.8l1.8-1.1 2.3-.3-1.9 1.4zM1762.7 2143.4l-.9-2.3 1.4-2.7 2.5 .7 1.8 1-.2 2.5-2.3 2zM1760.6 2136.5l-1.3 .6-2.3-.7-.7-.8-1.1-1.2 2.3 .3 2.1 .7zM1742 2150.8l0-1.8 .5-2 1.2-1.7 .9 .2-.3 2.1-1 3zM1746.1 2152.4l-1.2-.5 .3-1.9 .9-.1 .6 1.5zM1741.6 2149.8l-1.9 1.6-2-1.3 .8-1.7 1.7-.4zM1752 2152.8l-1.3-1.1 1.3-2.4 1.7-1.1 1.2 .8 0 1.9-1.3 2.2zM1744 2137.9l.7-.8 1.6-.2 0 .7-1.3 .6zM1756.2 2155.5l1.6-1.4 2.1 1.2-1.9 1.3zM1760.3 2151.1l0-.9 .9-.5-.1 1zM1736.3 2145.9l1.2-2.1 1.8 1-1 1.4zM1759.9 2157.5l-1.4-2.2-.6-3.7 1.3-1.7 1.5 1.7 0 3.3zM1756.2 2142.7l-3.6-1.3-.2-5.4 3.3-1.8 2.8 2 1 4.8zM1746.6 2131.3l1.7-2.7 3.2 .5 1.8 1.7-1.1 2.4-3.2 .1zM1740 2141.2l-.8-1 1-.7 .8 1zM1737.4 2139.9l-.6-.6 .4-1.1 .9 .2 .3 1.2zM1751.7 2165.1l.5-4.2 3.4-1.5 3.3 1.9-2.6 4.4zM1746.5 2144l-1.1-.1-.8-2.2-.1-2 .9-1.7 1.4 2.7 .5 2.4zM1764.1 2158.4l-1.2-1-.4-1.2 1.1 .6zM1740.6 2139l.9-3.1 3.9-1.6 2.3 2.4 1.2 2.3-2.6 2-3.2-.3zM1738.6 2147.7l-1.4-1.5 1.8-1.4 1.6 .8-.3 1.9zM1763 2146.1l-1.9-.4-1-2-.3-1.7 1.7-.1 1.2 2.1zM1749.4 2165.9l-.4-2.5 .7-2.3 1 .4 .3 2.6zM1757.9 2164.1l-1.2-1.8 .7-2 1.4 1.7zM1741.3 2152l-2.4-1.4 1.1-3.2 1.4-3 2.8 .4 2.1 3.2-2.3 3.5zM1749.1 2161.5l-.9-1.2 .3-1.4 .9 1.1zM1763 2158.3l-.6-1.6 .5-2.2 1.2-.8 1.2-.4-.2 2.1-.8 1.7zM1742.1 2145.3l-2.4-1.2-1.1-2.3 .8-2.3 2.1-1.1 2 1.9 .5 2.9zM1756.6 2130.8l.2-2.3 2.7 .1-.8 2.4zM1752.5 2139.6l-2.9-.2-1.2-4.6 2-.8 2.6 3zM1762.9 2145.7l-1.9-2.6 .3-2.7 1.6-.4 1.3 2.7zM1740.3 2142l-1.3-.4-.9-1.4 .1-1.1 1.7 1.6zM1745.6 2143.7l-1.5-1.3 .1-1.8 1.2 1.2zM1756.7 2163.8l-1.4 1.9-2.4-.5-1.2-2 1.5-2 2.9 .1zM1768.2 2129.4l-2.4-.6-.8-2.1 2.3 .4zM1757.9 2150.1l.3-2.9 1.3-2.1 1.7-1.7-.1 2.4-1.1 2.2zM1754.4 2138.4l.4-2.5 3-.1 1.2 2.5-2.7 1.5zM1750 2161.7l.3-2.7 2.8 .5 .8 2-2 1.4zM1768 2140.2l-1.1-1.6 .3-2.8 1-2.6 .8 2.6-.1 2.4zM1761.4 2159.7l-1.2 1.3-2.6-1.8-1.3-1.8 .6-1.5 2.4 .5 2.5 1.7zM1801.1 2096.2l.8-2.1 3.4-1.4 1.5 1.5-.1 2.1-3.6 .9zM1801.6 2084.4l1.6-1.7 2.7-1 .5 1-2.5 1.5zM1798.6 2098l-1.4 .2-.8-1.7 .5-1.1 1.5 1.3zM1799.3 2087.6l-.7-1.7 1.3-1.5 1.7 .4 1.5 1.8-2 1.3zM1795.4 2091.1l-.1-1.3 1.5 0-.1 1.5zM1793.9 2092.6l3.9-2.8 4.6-1.1 1.2 3.9-5 1.2zM1811.6 2098.9l-1.8 .4-1.5-2.1 1.5-1.4 1.6 .1 1.1 1.6zM1795.9 2087.7l-.4-2.2 2.2 .2 1.6 1.3-1.7 1.4zM1802.8 2093.1l-.1-1.8 .6-1.5 1.1 0-.4 1.9zM1804.3 2084l-.7-1.1 .7-1.6 1 .5-.1 1.4zM1813.8 2097.3l-1.7-.9-.2-1.7 1-.5 .9 1.3zM1799.3 2103.3l.3-1.2 1.3 .2-.2 1.5zM1805.7 2093.7l-3.4-1.2 1.4-3.9 4.2-.5 .4 4.1zM1808.3 2086.4l-2.1-1.5 .6-3.3 2.1-.5 1.9 1-.4 3zM1795.1 2091.5l-.2-2.7 3.7-2.5 .9 1.9-1.9 2.6zM1797.8 2103.1l-1.5-3-1.6-2.8 .9-2.6 1.4-.2 1.1 2.7 .6 3.4zM1803.3 2107.8l-2.4-1.4 1.2-2.1 1.7 1.1zM1797.8 2085.8l1.2-1.3 2.1-.4 1.2 .6 .7 1-1.4 1.2-2-.5zM1811.9 2093.5l-1.9 .9-2.8-.5-1.1-2.5 2.6-.9 2.5 .9zM1794.3 2089.1l-2.3-1.4 1.8-2.4 2-1.6 1.8 1.6 1.7 2.6-2.6 2.3zM1810.4 2090.5l-1.9-3.2 2.2-3.9 3 2.1-.5 3.1zM1812 2103l-1.2 .2-1.8-.5 .5-.7 1.9-.1zM1807.2 2098.1l0-1.5 1.3 0 0 1.1zM1798.2 2097.5l-3.4 .2 0-3.9 2.7-1 2.1 2.3zM1801.8 2094.1l-1.5 2-2.6-.3-2.5-2.6 2.6-2.9 3.7 .6zM1807.1 2100.9l-2.7-1.2-.8-3.1 2.7-.1 1.6 1.6z" fill="#00bc7b"/>
<path d="M1724 2069.4l13.1-2.6 7.8 10.4-10.4 7.9-7.8-5.3zM1700.5 2079.8l7.9-2.6 2.6 7.9-7.9 2.6zM1752.8 2124.3l10.4-5.3 2.7 13.1 5.2 18.3-5.2 7.8-7.9-10.4-3.9-13.1z" fill="#1f7200"/>
<path d="M1760.2 2128l-2.1 0 .5-1.8 1.3-.9 1.1 1.3zM1762.4 2123.2l-1.3-.9 .2-1.7 1.3 0 .7 1.4zM1758.6 2127.7l-.8-1.7 1.1-1.4 .8 1.6zM1766.8 2135l-1.8-.5-.8-1.1 .5-.8 1.5 .7zM1763.9 2137.1l-1.4 .4-1-.7 1.1-.4zM1763.6 2152.5l-1-.1-1.6-1.2-.3-1.2 1.2 .2 1.4 1.3zM1760.7 2145.8l-.5-1.5 1-.9 1.3 .5-.4 1.4zM1755.1 2129.3l.3-.9 .8-.2 .6 .7-.8 .9zM1756.4 2136.1l-.3-.9 .9-1.5 1.3-1.4-.2 1.8-.8 1.7zM1762.7 2130.1l-1.2-.7 .6-1.4 .8 1zM1757.5 2137.4l-.8-.8 .7-1.1 1 .5-.2 .9zM1760.5 2137.7l.6-1.1 1.6 0 0 1.1-1.1 .5zM1762.3 2130.4l-.6-.7 .6-1 .7 1zM1759.7 2129.3l-1.4-.6-.1-1.6 1.2 .8zM1764.5 2123.4l-.8 .5-1.3-.2-.3-.8 1.9-.3zM1767.2 2146.6l-.6 .7-1-.4 0-.9 1.1-.2z" fill="#ffebbe"/>
<path d="M1794.6 2090.3l7.8-5.2 2.7 10.4-6.6 2.6zM1739.7 2158.2l10.5-5.2 2.6 10.5-7.9 2.6z" fill="#1f7200"/>
<path d="M1749.5 2162.3l-1.6 .5-.6-1.6 1.6-.5zM1749.9 2165.2l-1.1 .6-.9-1.4 .5-.6 1.2 .4zM1751.1 2163.6l-2 .3-1.7-.3 .2-1.7 .1-1.9 2 .4 1.6 1.1zM1750.7 2165.2l-1.8-.9 .8-2.3 1.8-.1 .5 2.1zM1750 2159.2l-1.1 1.4-1.4-1.4 .4-1.6 1.9 .1z" fill="#ffebbe"/>
<path d="M1713.6 2111.2l15.7 7.8 13 13.1 10.5 13.1 10.4 11.7" fill="none" stroke="#1f7200" stroke-width="2.5" stroke-linejoin="round" stroke-linecap="round"/>
<path d="M1776.3 2079.8l5.2 13.1 2.6 13.1" fill="none" stroke="#1f7200" stroke-width="3" stroke-linejoin="round" stroke-linecap="round"/>
<path d="M1752.8 2111.2l-1.3 13.1" fill="none" stroke="#1f7200" stroke-width="1.5" stroke-linejoin="round" stroke-linecap="round"/>
<path d="M1588.2 2179.1l10.4-7.8 15.7-2.6 10.4 7.8-7.8 10.5-13.1 5.2-13-2.6z" fill="#00bc7b"/>
<path d="M1606.7 2180.5l.1-1.3 .8-1.2 .5 .6-.4 1.1zM1612.7 2181.4l-3.5 2.5-5.4-1.1 .7-5.3 5.6 .3zM1606.2 2176.9l1.4-3.4 4.3 .5 1.1 2.5-3.8 2.6z" fill="#ffebbe"/>
<path d="M1588.2 2205.3l10.4-5.3 13.1 1.3-5.3 11.8-7.8 7.8-7.8 5.3-5.3-10.5z" fill="#00bc7b"/>
<path d="M1592.1 2213.1l9.1-5.2-2.6 7.8-5.2 3.9z" fill="#1f7200"/>
<path d="M1596.7 2216.3l-.8-.2 0-.9 .4-.5 .5 .8zM1594.9 2219.6l-1.7 0-.4-1.3 1.5-.4zM1594 2219.5l-1.3-.7-.1-1.7 1.1 1.1zM1595.2 2214.7l-.4-1.1 .5-.7 .4 .8zM1599.6 2210.5l-.2-1.3 1.4-.6 .5 1.1-.6 .8z" fill="#ffebbe"/>
<path d="M1581.6 2193.5l3.9-.8 .6 12.6-3.7 .5z" fill="#00bc7b"/>
<path d="M1587.1 2195.9l-2.2 .2-1.7-2.2 1.7-.9 1.6 .9zM1584.5 2195.6l.2-1.4 1.1-.7 .9 .7-.6 1.7z" fill="#ffebbe"/>
<path d="M1630 2228.8l13-18.3 5.3-13.1 13-3.9 7.9 9.2-5.3 13 10.5 7.9 13.1-7.9 15.6-10.4 17-11.8 2.6 9.2 2.6 10.4-3.9 10.5-5.2 10.4-13.1 2.6-7.8 7.9 2.6 10.4-13.1 0-5.2 13.1-7.8-5.2-13.1-7.9-10.4-2.6-10.5-7.8z" fill="#00bc7b"/>
<path d="M1657.4 2253.6l17-14.4 18.3-15.6 18.3-15.7" fill="none" stroke="#ffebbe" stroke-width="1.2" stroke-linejoin="round" stroke-linecap="round"/>
<path d="M1636.5 2213.1l6.5 10.5 4 18.3" fill="none" stroke="#1f7200" stroke-width="2.5" stroke-linejoin="round" stroke-linecap="round"/>
<path d="M1669.2 2202.7l7.8 7.8-2.6 7.8" fill="none" stroke="#1f7200" stroke-width="1.5" stroke-linejoin="round" stroke-linecap="round"/>
<path d="M1658.7 2160.8l13.1-3.9 15.7 3.9 7.8 10.5 2.6 13.1-10.4-2.7-10.5-5.2-13.1-2.6z" fill="#00bc7b"/>
<path d="M1663.9 2171.3l10.5-3.9 7.8 9.1-10.4 5.2z" fill="#1f7200"/>
<path d="M1630 2171.3l13-2.6 13.1 10.4 2.6 10.5-10.4-2.6-13.1-5.3z" fill="#00bc7b"/>
<path d="M1648.3 2172.6l9.1-1.3 1.3 9.1-6.5-1.3z" fill="#1f7200"/>
<path d="M1649.3 2174.1l.4-1.7 1.5 0-.3 1.3zM1651.4 2176.5l1.5-1.1 1.7-.9 1.4 1.1-.5 1.3-.8 1.4-2.2-.3zM1650.1 2174.5l.2-.9 1-.2-.2 1zM1651.1 2174.5l-.9 .2-1.5-.4-.1-1.4 .7-.8 1.4-.2 .8 1.6z" fill="#ffebbe"/>
<path d="M1616.9 2160.8l7.8 10.5 5.3 10.4 10.4 7.9 10.5 7.8M1627.4 2160.8l2.6 10.5" fill="none" stroke="#1f7200" stroke-width="2" stroke-linejoin="round" stroke-linecap="round"/>
<path d="M1614.3 2226.2l1.3-13.1 9.1-5.2" fill="none" stroke="#1f7200" stroke-width="1.8" stroke-linejoin="round" stroke-linecap="round"/>
<path d="M1695.3 2265.4l7.8-2.6 10.5 7.8-5.2 2.6zM1700.5 2241.9l10.5-5.3 7.8 13.1-5.2 7.8-7.9-5.2z" fill="#00bc7b"/>
<path d="M1704.5 2247.1l-1.1-.9 .2-1.4 1 .9zM1716.3 2247.2l-.2-1.1 .8-.8 .1 1.1zM1707.4 2247.8l.7-1.6 2.3-1 1.6 .8-.9 1.5-2.1 1.1zM1711 2249.3l-1-.6-.8-2.2 .8-.8 1.6 2.6zM1710.9 2242.7l.7-1.3 1.6-.2 .1 1.2-1 .7zM1718.2 2249.9l-.7 .1-1-1.7-.3-1.7 .8-.1 1 1.1 .2 1.5zM1714.1 2251.3l-.7-1.3 .7-1.5 .9 .3 .4 1.6zM1710.7 2253.5l-.1-2.2 1.2-2.1 1.9 .2 .4 1.8-1.3 2zM1710.5 2256.6l.8-.9 1.2-.6 0 .8-.7 .7zM1714 2255.2l-2.2 .3 .7-2.1 2.1-.2zM1714.1 2250.7l-1.3 .1-.5-1.2 1.5-.3zM1709.3 2240.4l-1.6 .8-1.2-1.4 1.7-1zM1710.9 2248.6l-1-1.1-.5-1.4 .5-.5 1 1.5zM1703.4 2241.6l1-.7 1.5 0-1.3 .7zM1704.5 2247.1l-.8-.6 0-.8 .5-.5 .4 .9zM1712.7 2241.7l.7-1.3 1.4 .6-.8 1.4zM1717.4 2251l-1.4 .3-1.6-1.1 2.1-.6z" fill="#ffebbe"/>
<path d="M1669.2 2257.5l10.4-5.2 2.6 13.1-7.8 2.6z" fill="#00bc7b"/>
<path d="M1679.5 2255.8l-.1-1 .9-.2 .8 .4-.7 .7zM1674.4 2256.7l.2-.9 1.2-.7 .4 .3-.9 1.1zM1669.6 2259.5l-.8-1.6 .9-2.5 .9 .8 .2 2zM1681.6 2254.8l-2 1.5-.8-1.9 1.1-.9zM1677 2259.5l-1.4 1-1.1-1.6 .7-1.6 2.2 .3zM1679.3 2265.9l-.8-1.1-.1-1.7-.2-2 .9 .2 .7 1.5 .2 2.1zM1676.7 2262.6l-1.4 .1 .2-1.3 1 0zM1681.2 2265.8l-.7 .3-.5-.7 .3-.5 .8 0zM1677.2 2257.8l-.6 .2-.8-.6 .1-.5 1 .3zM1671.4 2259.1l-1.4 .2 0-1.2 1-.3zM1676.7 2257.3l-.4 .4-.9-.5 .3-.4 .7 0zM1674.2 2257.1l-1.3 .8-1.9 .1-1.3-1.4 1.2-1.1 1.3-.9 1.8 .9z" fill="#ffebbe"/>
<path d="M1605.8 2112.3l-1.8 .4-2.3-1.6-.5-3.1 2-1.2 2.3 1.7 1.5 2.3zM1613.9 2108.3l-1.2-.6-1-1.6 .5-1.9 1.5-.8 1 2.1 .8 2.3zM1600.7 2110.3l2.6-2 2.9-1.5 1.7 2.2-1.8 1.8-2.5 .8zM1613.6 2102.1l-1.9 .9-3.4-.6 .9-1.4 3-.5zM1698.5 2151.8l-1.7-.7-1.1-1.9 1.5-.5 1.3 1.3zM1696.3 2151.9l-.4-.8 1.8-1.8 1.5-.2 .7 .5-.9 1.5-1.7 .9zM1705.3 2156.5l-3.7-.1-1-3.3 .9-2.5 2.8 0 2 2.5zM1700.7 2154.3l-.1-2.9 3.2-1.8 4.3 .9-.5 4.7-4.8 2.4zM1699.6 2152l-1.1-1.1 .2-1.3 .9 .9zM1706.3 2153.9l-1.6 .6-1.9-.9 .5-1.8 2.2 .5zM1706.8 2153.6l-3.2 1.4-3.9-2.1 1.1-4.2 3-1.6 2.9 1 2.4 2.8zM1712.3 2197.4l9.1-3.9 2.6 17-3.9 13.1-5.2-7.9z" fill="#00bc7b"/>
<path d="M1695.3 2153l9.1 5.2-1.3 5.3" fill="none" stroke="#1f7200" stroke-width="1.5" stroke-linejoin="round" stroke-linecap="round"/>
<path d="M1673.3 2143.1l1.9-.5 .2 2.6-1.8 .2zM1687.5 2083.8l2-.6 0 3.9-1.8 0zM1577.7 2064.2l2.1-.6 0 2.6-1.8 0zM1697.9 2032.3l1.8-.3 0 3.4-1.5 0z" fill="#2438ff"/>
<path d="M1723.3 1956.6l-1.8 .7-1.8-1.1 2-.6zM1744.8 1966.5l-.6-2.4 .1-2 1.5-2.7 2 1.5 1 2.4-1.8 2.1zM1763.8 1956.8l-1.7 .4-2 .2-.6-1.2-.3-.9 1.5-.4 2.3 .7zM1752.5 1963.1l-2.6-1.1 0-3.7 2.5-2.1 3.6 1.4-1.4 4zM1716.1 1947.2l.7-2.4 2.2 .8 1.7 .6 .4 2.1-1.8 1.6-1.6-1.4zM1722.2 1956.6l-2.1 1.1-1.6 .2-2.1-1 1.3-1.7 1.3-1.2 1.5 1zM1772.1 1970l-.3-2.2 2.1-1.1 .2 2.3zM1740.8 1963.3l-.2-1.8 .7-1.4 1.5 .2-.2 2.3zM1742.4 1965l.4-1.4 3-.1 1 1.3-1.5 1-1.9 0zM1756.9 1966.4l-.9-.3 .2-1.5 .8 .1 .7 1.2zM1714.8 1946.8l.3-2 2 .6-.5 1.8zM1736.7 1965.6l-.9-.8 .4-1.5 1.1 0 .3 1.6zM1734.3 1964.3l-.7-.1-.4-1 .4-.4 1 .7zM1706.9 1952.4l.1-1.1 .9-1.1 .6 .7-.6 1zM1733.3 1960.3l-1.4-1 .2-1.7 1.6-2 1.9 2-.4 2.3zM1735 1963.6l-.1-.9 .7-.8 .1 1zM1755.4 1961.5l-2 .4-2.2-2.2 .1-2.5 1.3-1.7 2.4 1.8 .8 2.3zM1754.6 1966.9l.1-1.5 .9-1.2 .9-.1-.6 2zM1752.9 1963.9l-1.6-.2-.5-1.2 1.3 .1zM1775.7 1971.7l-1.8 .4-1.4-.8 .3-1.4 1.8 .3zM1748.7 1958.6l-.7-1.8 1.2-1.6 1.2 .9 .4 2zM1705.9 1946.9l-.3-2.2 3.6-2.7 2.6-.4 1.1 1-1.4 2.5-2.9 1.1zM1746.2 1964.4l.3-1.3 1.1-.7-.1 1.3zM1771.2 1967.4l-2.7 2.1-2.9-3.1-.6-2.8 .9-3 3.5 1.2 2 2.6zM1764.2 1965.4l-1.6-1.9 2.2-2.5 1.8 .9-.4 2.7zM1758.1 1959.4l-3.1 .8-.4-3.6 1-2.9 2.6 1.5 1.9 2.3zM1732.2 1957.1l1-1.8 2.4 .2 .9 2.7-3 .4zM1753 1970.3l-.3-1 .5-1.3 .9 .3-.1 1.5zM1740.9 1959.4l-1.6 .8-2.7-1.4-1.8-2 1.5-.8 2-.5 2 2.1zM1737.5 1960l-2.4-.2-1.2-2.9 1.1-2.3 2.1-.7 2 1.7 .7 3.1zM1715.3 1948.6l1.5-1.8 1.3 1.7-1.2 1.3zM1754.9 1969.3l.5-1.3 1-.3-.1 1.1zM1716.5 1955.9l-2.2-.7-1.7-3.1-.6-2.8 2.4 2 1.2 1.9zM1732.7 1960.6l.5-.8 1.2-.2 .2 .6-1 .8zM1765.3 1973.5l0-2.2 3.4-2.3 .8 2.2-2.1 2.6z" fill="#00bc7b"/>
<path d="M1760.6 1883.8l10.5 15.7-5.2 15.7" fill="none" stroke="#1f7200" stroke-width="1.2" stroke-linejoin="round" stroke-linecap="round"/>
<path d="M1744.9 1924.3l13.1-2.6" fill="none" stroke="#1f7200" stroke-width="1.5" stroke-linejoin="round" stroke-linecap="round"/>
<path d="M1577.7 1912.6l5.2 2.6" fill="none" stroke="#1f7200" stroke-width="2" stroke-linejoin="round" stroke-linecap="round"/>
<path d="M1719.8 1993.9l-.8-.6 .1-1.6 1.1 1.2zM1751.2 2001.2l-1.9 .4-2.9-.9-.6-2.6 .6-2.1 2.9 1.3 1.4 1.9zM1759.1 2063.8l-1.2 .9-2.3-.8 .3-1.2 2.3 0zM1750.6 2068.9l-1.4-1.9 1.9-1.2 2.1 .4-1 1.9zM1694.9 1982.7l-1.8 .4-2.2-.7-1.7-2.4 1.6-1.8 2.6 .8 2 1.8zM1758.7 2000.8l.4-2 1.7-1.6 1.7-.7 0 1.6-1.8 1.4zM1716.6 1992.9l.4-1.6 1.9-.6 2.3 .6-.8 2.2-2.6 .5zM1727.8 2051.7l-.6-4.1 .4-3.9 2.6-1.2 1.9 2.2-1.7 4zM1736.2 1997.3l-1.6-.4 .3-1.2 1.2 0zM1721.9 1993.9l-2.2-1 .7-1.8 2.1 .2zM1732.7 2048.2l1.6-1.6 2-.6 1.9 .8-1 1.8-2.5 .6zM1714.9 2018.7l-.8-1.5 1.6-1.4 .7 2zM1736.1 2052l2.8-1.9 3-.8 1.6 .9-.1 2-4.2 .7zM1793 2059.1l-.1-2.3 2.9-.9 2.9 .2-1.6 2.5-2.1 1.3zM1699.1 1987.4l.4-1.3 1.2-.8 .8 1.3-1 1zM1719.9 2006.1l-1 .6-1.2-.8 .5-.8 1.1 .1zM1712.8 2019.8l-3.3 1.9-1.7-3.8-.6-3.5 3.1-2.4 3.9 1.6 1.6 4zM1756.7 2023.3l.4-1 1-.5-.4 1zM1756.3 2030.3l-.6-2.5 2.7-2 2.5 1.6-2.2 2.8zM1730.1 1977.7l-1.2 1-1.9-.6 .6-1.6 1.8-.1zM1761.1 2060.5l-1.1 2.6-4.9 .1-.8-3.1 1.9-2.1 3.8 .2zM1730 1982.5l-3.5-3.2 3.2-3.9 4.2 1.1 1.5 3.3-1.3 4.3zM1725.7 1982.8l-4.1-.8-1-3.8 0-4.2 4.1-.7 2.7 2.6-.4 3.2zM1805.2 2079.1l-.7 .1-.7-.9 .4-.4 1.1 .4zM1722 2050.2l-1.3-3 .8-3 2.4-2.7 2.8 1.7 1.6 3.5-3.3 2.3zM1715.6 1985.7l-3.2 1.5-4.6-3.6 1.1-3.2 5 2.4zM1776.4 1994.6l-.6-.6 .4-1 .7-.6 .1 1.6zM1788.9 2058.5l-.9 .7-1.4-.6 .6-1.1 1.2 0zM1760.5 2064.1l0-1.2 1.4-.4-.3 1.4zM1795.6 2071.5l.9-1.4 1.6 1.1-1.3 1.5zM1770.1 1987.1l-1.2-.3-.8-1.6 .3-.6 1.3 1.2zM1761.7 1992.6l-.9-1.4 .3-2.3 1.2 .6 .4 1.7zM1729.3 2045.5l-3-1.5-3.1-2 .4-4.3 3.8-.9 2.7 2.5 1.5 3.4zM1660.9 2017.8l.2-1.1 1.4 .1 .5 1.1-1.4 .5zM1661.3 2027.4l-1.4 2-3.9-2.1-2.3-2.2 2.4-1.5 4.3 1.8zM1661.6 2049.4l-.1-1.8 1.1-1.3 1.2 1-.2 1.9zM1635.8 2041.6l.2-1.5 1.5-.4 .4 1.3-.8 .9zM1646.6 2040.6l-.1-1.4 1.3-.3 .4 1.5zM1668.1 2002.6l-.8-.9 0-1.3 1-.2 .3 1.3zM1673.7 2001.7l.8-2 1.5-1.3 1.1 .3-1.4 2.3zM1668.6 2017.5l-1.8 1.7-1.1-2.6 2.1-.7zM1633.1 2051.5l.1-1.8 2.4-.7 .1 1.9-1.1 .9zM1669.8 2028.2l-1.4-2.1-1.1-2.7 1.3-1.8 1.6 1.6 .7 2.8zM1653.8 2042.7l.9-1.3 1.3 .9-.9 1.2zM1645.8 2033.6l-1.5 1-1.7-.8 .1-.8 1.5-.2zM1633.3 2055.7l-1.5 1.8-2.3-1.4-.2-2.6 3.3-.2zM1655.4 2013.1l-2.7 0-.8-2.9 1.9-1.2 2.2 1.6zM1673.3 2030l-2.2-.2-1.7-2.7 .4-2.9 2.8 .9 1 2.7zM1634.9 2049.2l.9-1.5 2.3-1.2 1.9 1.4-1.6 1.7-2.4 1.2zM1641.6 2070.5l-1.5 0-1.7-1.4-1.5-2.7 2.2 0 2 .2 1 2.4zM1636.9 2032.3l-2.2-1.3-.4-3 2-.4 1.3 .5 .5 2zM1655.5 2063.9l-.5-1.3 1.3-1.2 .7 1.8zM1663.7 2045.8l-1.3 0 .7-2.1 .6-2.2 1.5 .2 .7 2.1-.8 2.5zM1650.4 2052.1l.4-2.2 2.2-3.1 3.1-.6 1.1 1.4-1.5 2.8-2.8 1.1zM1645.1 2065.6l1-.9 1.4 .9-1.4 .7zM1666.7 2039.6l-.5-1.4 1.9-.5 .6 .7-.7 1.5zM1570.2 2010.5l-.9-.4 .3-1.3 .7-.2 .5 1.2zM1592.7 1980.2l-1.1-.7 .1-1.3 1.1 .7zM1524.9 2057.3l-1.2-.5-1.5-2.1 1.1-.9 1.2 .5 .7 1.7zM1570.6 2066.3l-2.7-3-1.8-3.7 3.6-1.8 3 1.6 .8 3.8zM1603.5 1974.3l-1.4-.1-1.5-1.9 .3-1.9 1.2-.6 1.4 1.4 .2 1.6zM1560.6 2058.3l-.6-1.2 1.3-.6 .2 1.2zM1562.7 2064.4l.6-1 1.3 0 .4 .9-1.2 .6zM1509 2053.3l-.2-1.2 .9-.9 1.2 .4-.7 1.4zM1537.4 2045.2l.8-1.1 2.8-1.8 4 .2-1.8 1.9-1.3 1.8-3.7-.1zM1559.5 2027.6l.7-1.4 1.7-1.4 1.4 .5 1.4 .5-1.8 1.4-1.6 .3zM1551.2 2021l-3.2 .1-3.6-3.1-1.2-3.1 3.3 .5 3.2 2.5zM1535.3 2033.6l1.2-3 2.4-2.2 3.6-1.6 1.5 2.3-2.3 3.1-3.3 1.7zM1574.9 2000.6l-2.2 .9-1.8-2.1 1.5-1.8 2.7 .6zM1597.7 1976.2l-1.6-1.3 1.1-2.7 1.1-1.3 1.7-.6 .4 2.5-1 2.3zM1519.3 2068.4l-2.8 .7-3.5 0-1-3.7 1.9-3.3 3.8 .5 2.2 2.7zM1531.2 2049.5l-3-.7-1.2-3.3-.5-3.4 2.5-.9 3 1.7 .2 3.7zM1520.5 2046.4l-.9-2.4-.1-3.2 1.7-2.2 1.1 2.7-.6 2.7zM1565.7 2060.3l-4.2-2.1-2.2-3.6 1.3-2.2 3.6 3.4zM1568.6 2062.5l-1.6-.8 1.9-3.6 2.6-2 1.1 1.3-1 2.7-1.6 2.8zM1540.7 2043.5l1.4-1.9 1.7 1.1-.9 1.9zM1560.2 2083.5l.3-1.9 1.5-.3 .2 1.7zM1526.1 2045.7l-1.8-3.4 2.8-3.4 3.3 2.6-.7 3.7zM1539.3 2038.1l-1.3-1.7-.6-2.7 2.6-.6 3-.4-.1 3.2-1.4 1.9zM1528.3 2055.7l-.6-.6 .7-1.2 .5 .3 .2 1.2zM1571.5 1986.4l.7-1.2 1.7 0-1.1 1.3zM1531 2044.8l-2.3-.8 .9-2.3 1.8-1.7 2.1 1.7-.1 2.8zM1557.5 2022l-2.2 1.4-2.8-2.1-1.5-2.7 2.8-1.2 3.6 1.9zM1602.4 1974.7l-1.6-1-.5-2.1 1.8 1.2zM1544.6 2079.4l-1 1.4-2.7-.3-2.3-1 .3-1.6 2.2-.9 3 .6zM1521.8 2059.9l-1.5-1.6-.6-2 1.8 1.3zM1584.2 1996.8l.8-.9 1.6 .7-1.4 1.1zM1572 2007.1l0-1.6 3.3-1.9 2.2 0-.5 2-3.1 1.4zM1514.7 2074.4l.3-2.6 2.6 0-.7 2.1zM1551.2 2102.4l-2.2-.5 .4-2.6 1.6-2 1.4 2.1 .3 2zM1511.7 2047.2l-2.4-.4-.7-2.4 .1-2.5 2.2 1.1 1.9 1.9zM1762.4 2080.7l-1 .8-2-.8-.4-1.5 .8-.7 1.5-.8 1.1 1.8zM1766.8 2132.8l-1.5-2.7 1.7-3.6 2.3 .1-.3 4zM1723.4 2158.6l-2.2-.2-2-1.4 .5-1.5 1.5-.3 1.4 1.3zM1700.3 2124.3l-.2-2.6 2.4-2.6 2.8-.9-.4 3-2 2zM1740 2098.8l-1.4-1 .4-2.2 1.4-1.3 1.7 1.2-.9 2.2zM1804.2 2099.1l-.1-.8 .9-1.5 1.3-.4 .7 .4-.5 1.4-1.6 1.5zM1716.5 2102.9l1.9-3 2.9-1.7 1.6 1.1-3 2.3zM1713.6 2091.9l-3.2-.8-.3-2.8 1.2-2.1 3.1-.2 .2 2.9zM1761.3 2160.6l.6-1.8 2.3 .4 .5 1.9-2.2 .4zM1755.9 2113l-1.7 .2-1.5-1.9 1.3-.5 1.5 .5zM1816.2 2094l-2.1 .6-2-3-1.6-3.9 2.8-.5 2.8 1.6 2.3 3.8zM1761 2095.4l-1.2 .9-1.2-.9 1.2-1.5zM1734.8 2096.1l.3-1.9 1.7 .6-.2 1.8zM1737.9 2163.3l-2.2-2 .7-3.1 2.7 1.1 1.6 2.4zM1782.1 2130l.4-1.5 1.1-.9-.3 1.4zM1791.9 2089.9l-.6-2 1.7-1.1 1.7 .9-.7 2.1zM1719.1 2082l-1.5 .8-1.3-1.1 .3-1.5 2.2-.3zM1753.1 2111.6l-1.4-2 .7-2.4 2.2 .2 2 .3 .8 2.3-1.9 1.7zM1813.7 2090.4l-1.6-.4 .4-1.6 1.4 .4zM1764.8 2093.9l-1.5 .6-2.1-1 2.3-.6zM1758.5 2136.2l-1 .2-.4-1.2 .9-.8 1.2 .8zM1801.9 2107.5l-1.1-1.5 1.7-1.4 1.3 1.1-.1 1.9zM1733.8 2117.8l-1.4-.5 .6-2.1 1.3 .2 .8 1.7zM1782.3 2097.3l-.3-1 1.2-.9 .6 .7-.5 1.2zM1726.9 2169.5l-3.4-1.4-1.5-5.4 3.9-1.1 2.9 4.6zM1740.1 2101.2l-1.1-1.3 .9-.9 .8 .7zM1770.2 2159.4l-1.7 2.6-4.9-.4-2.1-3.1 3-2.3 3.8 .8zM1726.4 2102.4l.7-1.1 1-.2-.6 .9zM1753.1 2165l.1-1.9 1.7-1.6 1.4 .3-1.3 2.9zM1696.5 2141l-.2-3.4 4.1-2.3 2.8 1.9 .3 2.1-.8 2.7-3.7 .7zM1789.4 2112.2l-2.3-3.9 3.1-3.7 3.2-.5-.4 5.5zM1736.3 2146.8l.8-2.1 1.8 1.4-1 1.8zM1771.1 2114.6l-.9-2.7 3-4.9 1.3 1.9-1.3 3.6zM1796.6 2095.3l.1-1.1 1.3-.2-.1 1.5zM1746.9 2077.6l-1-1.7 1.4-2.3 1.9 .5 .6 1.7-1 1.8zM1758 2168.7l-.5-3.1 2.3-2.7 3.7 1.8-2.5 3.3zM1738.8 2106.2l1-2.8 4.1-1.5 2.4 1.7-1.2 2.6-3.5 1.1zM1676.1 2258l-1.4-.2-1.3-2.2 0-1.8 1.6 .8 1.6 2.2zM1697.9 2214.4l-1.2 .8-1.6-.3 .3-1 1.3-.3zM1705 2237.3l-1.5-1.8-.4-1.9 .8-1.9 1.6 1.4 .4 2zM1644 2214.4l-.9-.1-.9-1.2 1.3 .6zM1699.6 2209.6l-.6 .8-1.2-.3 .3-.9 1.2-.8zM1654.8 2220l-4-1.6 0-4.3 2.9-.5 1.4 2.5zM1647.1 2241.4l-4-1.8-1.3-5 4.3-3.1 3.9 2.8 .4 4.5zM1668.4 2242.3l-3.3 1.7-1.5-3.8 1.4-2.7 3.4 1.7zM1644.1 2209.2l.7-2.8 2.2-2.1 2.1 .2-2.3 4zM1647.9 2253.9l-2.5-1.6-1.2-2.6 2.4-1.4 3.5-.5-.6 3.5z" fill="#1f7200"/>
</g>
<use href="#bnd" fill="none" stroke="#828282" stroke-width="3.7" stroke-linejoin="round"/>
<text x="403.2" y="265.0" font-size="32.8" font-weight="normal" text-anchor="middle" fill="#4e4e4e" textLength="120.3" lengthAdjust="spacing">ITAPACI</text>
<text x="916.6" y="553.5" font-size="32.8" font-weight="normal" text-anchor="middle" fill="#4e4e4e" textLength="222.0" lengthAdjust="spacing">NOVA GLÓRIA</text>
<text x="1971.9" y="135.2" font-size="32.8" font-weight="normal" text-anchor="middle" fill="#4e4e4e" textLength="150.1" lengthAdjust="spacing">SÃO LUÍZ</text>
<text x="1971.1" y="173.3" font-size="32.8" font-weight="normal" text-anchor="middle" fill="#4e4e4e" textLength="171.3" lengthAdjust="spacing">DO NORTE</text>
<text x="2442.3" y="532.0" font-size="32.8" font-weight="normal" text-anchor="middle" fill="#4e4e4e" textLength="187.0" lengthAdjust="spacing">SANTA RITA</text>
<text x="2442.3" y="569.8" font-size="32.8" font-weight="normal" text-anchor="middle" fill="#4e4e4e" textLength="154.0" lengthAdjust="spacing">DO NOVO</text>
<text x="2442.3" y="608.4" font-size="32.8" font-weight="normal" text-anchor="middle" fill="#4e4e4e" textLength="146.5" lengthAdjust="spacing">DESTINO</text>
<text x="306.2" y="871.2" font-size="32.8" font-weight="normal" text-anchor="middle" fill="#4e4e4e" textLength="157.6" lengthAdjust="spacing">IPIRANGA</text>
<text x="305.5" y="909.2" font-size="32.8" font-weight="normal" text-anchor="middle" fill="#4e4e4e" textLength="157.6" lengthAdjust="spacing">DE GOIÁS</text>
<text x="442.0" y="1397.4" font-size="32.8" font-weight="normal" text-anchor="middle" fill="#4e4e4e" textLength="111.7" lengthAdjust="spacing">CERES</text>
<text x="2162.2" y="1333.9" font-size="32.8" font-weight="normal" text-anchor="middle" fill="#4e4e4e" textLength="181.0" lengthAdjust="spacing">GOIANÉSIA</text>
<text x="236.0" y="1769.8" font-size="32.8" font-weight="normal" text-anchor="middle" fill="#4e4e4e" textLength="121.5" lengthAdjust="spacing">CARMO</text>
<text x="236.0" y="1807.9" font-size="32.8" font-weight="normal" text-anchor="middle" fill="#4e4e4e" textLength="115.5" lengthAdjust="spacing">DO RIO</text>
<text x="236.0" y="1846.3" font-size="32.8" font-weight="normal" text-anchor="middle" fill="#4e4e4e" textLength="112.0" lengthAdjust="spacing">VERDE</text>
<text x="756.6" y="1837.7" font-size="32.8" font-weight="normal" text-anchor="middle" fill="#4e4e4e" textLength="121.5" lengthAdjust="spacing">RIALMA</text>
<text x="377.7" y="2153.9" font-size="32.8" font-weight="normal" text-anchor="middle" fill="#4e4e4e" textLength="138.4" lengthAdjust="spacing">URUANA</text>
<text x="1128.1" y="2202.5" font-size="32.8" font-weight="normal" text-anchor="middle" fill="#4e4e4e" textLength="196.0" lengthAdjust="spacing">RIANÁPOLIS</text>
<text x="1899.4" y="2248.8" font-size="32.8" font-weight="normal" text-anchor="middle" fill="#4e4e4e" textLength="155.6" lengthAdjust="spacing">JARAGUÁ</text>
<text x="143.5" y="143.3" font-size="34" font-weight="normal" text-anchor="middle" fill="#000">N</text>
<polygon points="142.7,150.8 118.5,234.5 142.7,203.5 167.3,234.5" fill="#000"/>
<polygon points="143.9,159.1 161.5,223.4 143.9,202.1" fill="#fff"/>
<rect x="124.4" y="2334.6" width="757.8" height="31.4" fill="#000"/>
<rect x="317.6" y="2338.8" width="185" height="24" fill="#fff"/>
<text x="127.3" y="2320.7" font-size="32" font-weight="normal" text-anchor="middle" fill="#000">0</text>
<text x="316.1" y="2320.7" font-size="32" font-weight="normal" text-anchor="middle" fill="#000">5</text>
<text x="503.7" y="2320.7" font-size="32" font-weight="normal" text-anchor="middle" fill="#000">10</text>
<text x="860.6" y="2320.7" font-size="32" font-weight="normal" text-anchor="start" fill="#000" textLength="88.5" lengthAdjust="spacing">20 km</text>
</g>
<rect x="89.3" y="87.2" width="2606" height="2309" fill="none" stroke="#4e4e4e" stroke-width="6.6"/>
<rect x="511.6" y="70.5" width="2.6" height="14" fill="#4e4e4e"/>
<rect x="511.6" y="2399" width="2.6" height="14.3" fill="#4e4e4e"/>
<text x="514.2" y="63.9" font-size="24.6" font-weight="normal" text-anchor="middle" fill="#4e4e4e" textLength="117.6" lengthAdjust="spacing">49°36'0&quot;W</text>
<text x="514.2" y="2436.0" font-size="24.6" font-weight="normal" text-anchor="middle" fill="#4e4e4e" textLength="117.6" lengthAdjust="spacing">49°36'0&quot;W</text>
<rect x="1069.7" y="70.5" width="2.6" height="14" fill="#4e4e4e"/>
<rect x="1069.7" y="2399" width="2.6" height="14.3" fill="#4e4e4e"/>
<text x="1072.3" y="63.9" font-size="24.6" font-weight="normal" text-anchor="middle" fill="#4e4e4e" textLength="117.6" lengthAdjust="spacing">49°28'0&quot;W</text>
<text x="1072.3" y="2436.0" font-size="24.6" font-weight="normal" text-anchor="middle" fill="#4e4e4e" textLength="117.6" lengthAdjust="spacing">49°28'0&quot;W</text>
<rect x="1627.8" y="70.5" width="2.6" height="14" fill="#4e4e4e"/>
<rect x="1627.8" y="2399" width="2.6" height="14.3" fill="#4e4e4e"/>
<text x="1630.4" y="63.9" font-size="24.6" font-weight="normal" text-anchor="middle" fill="#4e4e4e" textLength="117.6" lengthAdjust="spacing">49°20'0&quot;W</text>
<text x="1630.4" y="2436.0" font-size="24.6" font-weight="normal" text-anchor="middle" fill="#4e4e4e" textLength="117.6" lengthAdjust="spacing">49°20'0&quot;W</text>
<rect x="2186.0" y="70.5" width="2.6" height="14" fill="#4e4e4e"/>
<rect x="2186.0" y="2399" width="2.6" height="14.3" fill="#4e4e4e"/>
<text x="2188.6" y="63.9" font-size="24.6" font-weight="normal" text-anchor="middle" fill="#4e4e4e" textLength="117.6" lengthAdjust="spacing">49°12'0&quot;W</text>
<text x="2188.6" y="2436.0" font-size="24.6" font-weight="normal" text-anchor="middle" fill="#4e4e4e" textLength="117.6" lengthAdjust="spacing">49°12'0&quot;W</text>
<rect x="72.5" y="507.6" width="14" height="2.6" fill="#4e4e4e"/>
<rect x="2698" y="507.6" width="14" height="2.6" fill="#4e4e4e"/>
<text x="0.0" y="0.0" font-size="24.6" font-weight="normal" text-anchor="middle" fill="#4e4e4e" textLength="93.3" lengthAdjust="spacing" transform="translate(66.4,508.9) rotate(-90)">15°4'0&quot;S</text>
<rect x="72.5" y="1066.3" width="14" height="2.6" fill="#4e4e4e"/>
<rect x="2698" y="1066.3" width="14" height="2.6" fill="#4e4e4e"/>
<text x="0.0" y="0.0" font-size="24.6" font-weight="normal" text-anchor="middle" fill="#4e4e4e" textLength="106.6" lengthAdjust="spacing" transform="translate(66.4,1067.6) rotate(-90)">15°12'0&quot;S</text>
<rect x="72.5" y="1624.7" width="14" height="2.6" fill="#4e4e4e"/>
<rect x="2698" y="1624.7" width="14" height="2.6" fill="#4e4e4e"/>
<text x="0.0" y="0.0" font-size="24.6" font-weight="normal" text-anchor="middle" fill="#4e4e4e" textLength="106.6" lengthAdjust="spacing" transform="translate(66.4,1626.0) rotate(-90)">15°20'0&quot;S</text>
<rect x="72.5" y="2182.3" width="14" height="2.6" fill="#4e4e4e"/>
<rect x="2698" y="2182.3" width="14" height="2.6" fill="#4e4e4e"/>
<text x="0.0" y="0.0" font-size="24.6" font-weight="normal" text-anchor="middle" fill="#4e4e4e" textLength="106.6" lengthAdjust="spacing" transform="translate(66.4,2183.6) rotate(-90)">15°28'0&quot;S</text>
<rect x="2718.4" y="86.8" width="744.3" height="2311.2" fill="#fff" stroke="#4e4e4e" stroke-width="5.4"/>
<rect x="2718" y="354.6" width="745" height="4.2" fill="#4e4e4e"/>
<rect x="2718" y="577.1" width="745" height="4.2" fill="#4e4e4e"/>
<text x="3090.6" y="211.6" font-size="57.5" font-weight="bold" text-anchor="middle" fill="#000" textLength="632.0" lengthAdjust="spacing">PROJETO DE APOIO À</text>
<text x="3091.4" y="278.2" font-size="57.5" font-weight="bold" text-anchor="middle" fill="#000" textLength="671.2" lengthAdjust="spacing">IMPLANTAÇÃO DO CAR</text>
<text x="3088.2" y="441.6" font-size="44.5" font-weight="bold" text-anchor="middle" fill="#000" textLength="441.0" lengthAdjust="spacing">SANTA ISABEL - GO</text>
<text x="3089.2" y="516.5" font-size="43.5" font-weight="normal" text-anchor="middle" fill="#000" textLength="244.0" lengthAdjust="spacing">Uso do Solo</text>
<text x="2743.0" y="651.1" font-size="36.6" font-weight="bold" text-anchor="start" fill="#000" textLength="151.8" lengthAdjust="spacing">Legenda</text>
<rect x="2742.5" y="700.8" width="45.5" height="30.4" rx="7" ry="7" fill="#fff" stroke="#808080" stroke-width="3"/>
<text x="2795.7" y="728.8" font-size="36.8" font-weight="normal" text-anchor="start" fill="#000" textLength="265.6" lengthAdjust="spacing">Limite Municipal</text>
<text x="2743.0" y="813.3" font-size="36.6" font-weight="bold" text-anchor="start" fill="#000">Classe</text>
<text x="3218.7" y="813.3" font-size="36.6" font-weight="bold" text-anchor="start" fill="#000" textLength="160.4" lengthAdjust="spacing">Área (ha)</text>
<rect x="2741.8" y="843.5" width="46.2" height="30" rx="7.5" ry="7.5" fill="#2438ff"/>
<text x="2795.7" y="871.1" font-size="37.3" font-weight="normal" text-anchor="start" fill="#000" textLength="85.4" lengthAdjust="spacing">Água</text>
<text x="3218.7" y="873.5" font-size="36.2" font-weight="normal" text-anchor="start" fill="#000" textLength="59.1" lengthAdjust="spacing">854</text>
<rect x="2741.8" y="901.6" width="46.2" height="30" rx="7.5" ry="7.5" fill="#1f7200"/>
<text x="2795.7" y="929.2" font-size="37.3" font-weight="normal" text-anchor="start" fill="#000" textLength="310.9" lengthAdjust="spacing">Formação florestal</text>
<text x="3218.7" y="931.6" font-size="36.2" font-weight="normal" text-anchor="start" fill="#000" textLength="106.5" lengthAdjust="spacing">11.081</text>
<rect x="2741.8" y="959.8" width="46.2" height="30" rx="7.5" ry="7.5" fill="#00bc7b"/>
<text x="2795.7" y="987.4" font-size="37.3" font-weight="normal" text-anchor="start" fill="#000" textLength="384.2" lengthAdjust="spacing">Formação não florestal</text>
<text x="3218.7" y="989.8" font-size="36.2" font-weight="normal" text-anchor="start" fill="#000" textLength="90.6" lengthAdjust="spacing">3.498</text>
<rect x="2741.8" y="1018.0" width="46.2" height="30" rx="7.5" ry="7.5" fill="#4ce600"/>
<text x="2795.7" y="1045.5" font-size="37.3" font-weight="normal" text-anchor="start" fill="#000" textLength="180.2" lengthAdjust="spacing">Silvicultura</text>
<text x="3218.7" y="1048.0" font-size="36.2" font-weight="normal" text-anchor="start" fill="#000" textLength="57.8" lengthAdjust="spacing">201</text>
<rect x="2741.8" y="1076.1" width="46.2" height="30" rx="7.5" ry="7.5" fill="#ffebbe"/>
<text x="2795.7" y="1103.7" font-size="37.3" font-weight="normal" text-anchor="start" fill="#000" textLength="285.0" lengthAdjust="spacing">Área antropizada</text>
<text x="3218.7" y="1106.1" font-size="36.2" font-weight="normal" text-anchor="start" fill="#000" textLength="110.0" lengthAdjust="spacing">65.041</text>
<rect x="2741.8" y="1134.2" width="46.2" height="30" rx="7.5" ry="7.5" fill="#ffbebe"/>
<text x="2795.7" y="1161.8" font-size="37.3" font-weight="normal" text-anchor="start" fill="#000" textLength="239.3" lengthAdjust="spacing">Área edificada</text>
<text x="3218.7" y="1164.2" font-size="36.2" font-weight="normal" text-anchor="start" fill="#000" textLength="38.8" lengthAdjust="spacing">40</text>
<text x="2743.0" y="1244.5" font-size="36.6" font-weight="bold" text-anchor="start" fill="#000" textLength="451.9" lengthAdjust="spacing">Localização do Município</text>
<defs><clipPath id="insclip"><rect x="2742.2" y="1276.3" width="696.4" height="544.4"/></clipPath>
<clipPath id="goclip"><polygon points="3047.6,1301.8 3045.2,1306.3 3044.3,1311.6 3042.1,1318.0 3038.9,1324.0 3038.3,1329.5 3042.5,1331.4 3048.1,1332.5 3055.0,1335.8 3059.7,1338.3 3063.7,1338.2 3069.7,1340.6 3075.7,1344.2 3081.1,1344.9 3087.8,1346.2 3091.9,1349.8 3097.3,1352.3 3099.5,1354.9 3104.9,1359.1 3105.5,1353.8 3106.4,1347.0 3108.6,1340.6 3113.7,1335.9 3118.1,1330.7 3122.6,1327.6 3124.0,1330.5 3128.6,1334.8 3130.8,1338.7 3134.8,1334.4 3140.0,1329.5 3144.5,1333.5 3149.2,1338.7 3153.8,1343.6 3155.9,1347.6 3160.3,1351.7 3161.3,1359.3 3162.2,1364.6 3167.8,1361.5 3173.5,1358.6 3177.0,1357.2 3182.3,1356.1 3188.1,1353.5 3188.9,1359.0 3191.8,1364.6 3195.9,1364.2 3203.6,1363.0 3209.5,1361.3 3213.9,1360.9 3218.2,1363.7 3221.6,1365.7 3225.0,1368.3 3226.0,1364.1 3225.0,1357.7 3225.0,1351.7 3229.3,1354.7 3236.6,1358.1 3241.7,1359.1 3249.1,1357.5 3254.6,1357.2 3259.8,1355.3 3264.3,1352.2 3271.3,1349.8 3275.2,1345.6 3279.8,1344.5 3286.0,1340.6 3290.0,1339.8 3295.9,1341.7 3300.1,1340.4 3306.4,1340.6 3311.1,1338.0 3315.6,1333.2 3322.1,1336.1 3326.1,1336.6 3332.3,1338.7 3328.1,1343.0 3326.2,1343.9 3321.2,1348.0 3321.4,1352.7 3322.8,1359.0 3324.9,1364.6 3331.0,1362.1 3336.7,1360.9 3332.5,1364.4 3330.9,1368.5 3328.6,1372.0 3328.7,1377.5 3326.1,1382.2 3324.9,1386.8 3324.8,1390.4 3324.8,1397.5 3323.0,1401.6 3326.0,1407.4 3326.4,1411.2 3328.6,1416.4 3331.1,1420.5 3334.7,1422.5 3339.7,1427.5 3341.6,1432.0 3345.2,1438.6 3341.6,1440.9 3337.6,1444.9 3336.0,1449.7 3335.4,1454.2 3335.8,1460.6 3337.8,1464.5 3335.1,1467.1 3330.9,1471.4 3328.6,1475.5 3323.2,1472.0 3319.7,1472.1 3313.8,1468.1 3309.1,1469.9 3304.5,1471.8 3303.3,1475.6 3304.1,1481.0 3304.5,1486.6 3300.0,1485.6 3292.0,1488.0 3287.9,1486.6 3284.3,1488.7 3280.6,1491.4 3276.8,1495.9 3275.5,1502.4 3275.1,1506.6 3271.9,1510.7 3271.3,1516.2 3273.4,1522.0 3277.5,1526.9 3280.5,1531.0 3281.2,1534.5 3283.9,1541.1 3284.2,1543.9 3279.7,1545.8 3274.0,1546.5 3266.7,1546.8 3262.0,1547.6 3256.7,1548.1 3250.8,1550.7 3247.2,1553.2 3245.9,1559.9 3247.3,1565.4 3245.4,1571.7 3244.8,1578.1 3243.0,1581.1 3239.8,1586.5 3242.7,1589.4 3246.3,1593.0 3251.3,1598.7 3254.6,1601.3 3258.1,1607.4 3260.0,1614.5 3262.0,1619.7 3257.1,1625.1 3255.8,1630.4 3250.9,1634.5 3247.3,1637.6 3241.3,1641.6 3238.0,1643.8 3238.4,1651.1 3239.8,1656.7 3245.5,1658.9 3248.2,1663.0 3252.8,1664.1 3251.0,1668.1 3246.7,1672.9 3245.4,1678.9 3248.4,1684.7 3248.0,1689.7 3250.9,1693.7 3247.7,1697.4 3241.2,1700.3 3236.0,1702.0 3232.4,1706.6 3230.1,1710.8 3225.0,1714.0 3220.5,1718.1 3215.6,1720.7 3212.1,1721.5 3206.5,1725.1 3200.3,1721.7 3195.5,1719.6 3189.8,1716.7 3184.9,1713.2 3180.7,1710.3 3175.9,1706.6 3172.8,1700.3 3169.6,1695.5 3164.9,1698.0 3159.5,1699.2 3154.8,1699.2 3149.9,1703.0 3145.0,1705.2 3140.0,1710.3 3136.1,1712.5 3131.1,1717.4 3128.9,1719.6 3123.5,1722.5 3120.7,1725.7 3115.1,1728.5 3111.3,1732.2 3106.7,1734.4 3100.6,1732.1 3096.1,1728.8 3091.9,1727.0 3087.2,1727.0 3081.0,1727.7 3076.5,1726.8 3069.7,1727.0 3065.1,1730.7 3059.9,1734.9 3055.0,1738.1 3051.1,1740.6 3047.5,1744.3 3043.9,1745.5 3039.5,1750.3 3035.3,1752.1 3029.1,1756.5 3026.8,1761.6 3025.1,1762.9 3021.7,1767.6 3015.9,1771.2 3011.2,1774.3 3006.5,1779.2 3003.2,1782.4 2998.5,1781.8 2992.1,1778.7 2986.1,1776.9 2982.7,1772.7 2977.3,1771.3 2972.3,1772.7 2964.2,1772.7 2958.8,1771.3 2952.4,1769.5 2947.9,1768.6 2940.3,1765.8 2933.8,1763.7 2929.2,1762.1 2923.7,1758.4 2917.2,1755.1 2913.3,1751.0 2907.1,1749.2 2902.3,1746.5 2895.8,1743.7 2892.3,1741.8 2886.7,1740.7 2879.1,1741.0 2875.4,1739.8 2867.4,1736.6 2862.7,1736.2 2857.6,1732.4 2855.3,1727.0 2857.1,1720.9 2860.0,1718.3 2862.7,1712.2 2858.7,1712.1 2851.8,1714.7 2847.9,1714.0 2846.3,1709.7 2843.0,1702.9 2842.4,1699.2 2844.8,1695.3 2846.0,1691.8 2842.9,1687.6 2842.7,1681.6 2840.5,1675.2 2837.4,1671.3 2835.5,1666.4 2835.0,1660.4 2835.4,1653.8 2836.3,1649.4 2836.8,1641.9 2838.4,1635.3 2841.5,1630.1 2842.6,1624.3 2846.0,1619.7 2847.8,1615.2 2851.7,1611.8 2855.3,1608.7 2859.8,1605.6 2862.7,1602.8 2866.4,1601.3 2867.8,1594.3 2869.3,1588.7 2872.6,1584.8 2873.8,1579.1 2876.6,1574.1 2882.5,1568.0 2884.9,1564.3 2890.7,1560.4 2894.7,1557.9 2899.7,1553.2 2902.1,1548.6 2905.2,1543.9 2911.3,1545.4 2915.8,1544.9 2921.8,1543.9 2926.2,1539.3 2929.0,1533.3 2931.6,1527.6 2936.6,1523.6 2937.8,1518.2 2940.8,1510.3 2944.0,1505.1 2945.3,1501.2 2950.1,1495.8 2951.4,1490.3 2955.4,1487.3 2960.1,1485.6 2964.3,1483.2 2969.9,1481.1 2974.8,1485.2 2981.0,1486.6 2983.6,1481.8 2982.7,1478.2 2984.7,1471.8 2986.0,1465.9 2986.9,1460.4 2990.2,1455.2 2992.1,1449.7 2992.1,1443.2 2992.5,1436.0 2993.7,1430.0 2995.8,1423.8 2995.9,1417.2 2998.2,1412.6 3000.5,1408.3 3002.5,1403.5 3003.2,1397.9 3005.1,1392.9 3005.3,1385.1 3006.9,1379.4 3012.0,1373.4 3014.9,1370.0 3018.0,1364.6 3017.6,1360.1 3021.0,1353.9 3021.4,1348.9 3021.7,1342.4 3023.1,1336.3 3026.6,1331.1 3029.1,1323.9 3033.1,1320.0 3035.5,1315.3 3038.3,1309.2 3043.5,1306.0"/></clipPath></defs>
<rect x="2742.2" y="1276.3" width="696.4" height="544.4" fill="#e1e1e1"/>
<g clip-path="url(#insclip)">
<g fill="none" stroke="#8a8a8a" stroke-width="1.5" stroke-linejoin="round">
<polyline points="3014.3,1278.5 3015.7,1285.9 3017.3,1293.2 3017.2,1298.1 3016.5,1305.8 3012.3,1310.3 3012.4,1316.6 3016.9,1321.4 3019.6,1323.8 3020.9,1329.5 3021.2,1334.1 3021.7,1340.6"/>
<polyline points="3313.8,1278.5 3315.2,1284.0 3314.4,1288.0 3317.5,1294.4 3319.4,1299.6 3323.9,1300.5 3325.6,1305.5 3325.8,1310.3 3324.3,1316.4 3323.0,1323.9 3323.0,1330.3 3325.6,1332.8 3328.6,1338.7"/>
<polyline points="3436.5,1438.6 3434.4,1443.2 3428.0,1446.7 3425.0,1448.9 3421.0,1451.5 3415.3,1456.4 3412.5,1459.7 3408.6,1460.5 3402.5,1464.5 3397.4,1466.0 3392.0,1468.4 3387.9,1473.2 3384.0,1475.5 3377.6,1479.0 3374.2,1480.4 3371.3,1483.8 3365.5,1486.6 3359.9,1488.4 3356.4,1488.7 3350.7,1492.2 3347.6,1492.5 3341.8,1497.6 3336.0,1498.5 3332.7,1496.4 3333.0,1492.2"/>
<polyline points="2744.4,1656.7 2747.6,1660.1 2749.9,1661.2 2755.5,1666.0 2759.8,1666.3 2765.4,1664.1 2773.7,1663.4 2777.6,1660.4 2780.8,1656.8 2785.1,1655.3 2788.7,1651.2 2791.6,1647.8 2798.5,1643.9 2801.7,1638.2 2800.8,1644.8 2801.9,1647.5 2804.3,1653.0 2804.4,1659.5 2803.2,1664.4 2803.5,1667.8 2799.5,1670.8 2794.5,1674.0 2789.5,1677.6 2786.9,1682.6 2791.9,1686.9 2794.3,1685.9 2799.8,1690.0 2807.2,1690.1 2810.6,1689.0 2816.8,1691.2 2822.0,1690.0 2827.4,1690.2 2831.5,1692.5 2836.9,1691.4 2844.2,1691.8"/>
<polyline points="3003.2,1782.4 3002.0,1785.4 2999.1,1792.7 2995.8,1795.4 2994.4,1801.1 2992.1,1804.6 2989.2,1809.1 2987.8,1815.3 2987.7,1818.7"/>
<polyline points="3018.0,1818.7 3020.9,1817.4 3025.4,1816.4 3031.8,1818.9 3034.6,1818.7"/>
</g>
<polygon points="3047.6,1301.8 3045.2,1306.3 3044.3,1311.6 3042.1,1318.0 3038.9,1324.0 3038.3,1329.5 3042.5,1331.4 3048.1,1332.5 3055.0,1335.8 3059.7,1338.3 3063.7,1338.2 3069.7,1340.6 3075.7,1344.2 3081.1,1344.9 3087.8,1346.2 3091.9,1349.8 3097.3,1352.3 3099.5,1354.9 3104.9,1359.1 3105.5,1353.8 3106.4,1347.0 3108.6,1340.6 3113.7,1335.9 3118.1,1330.7 3122.6,1327.6 3124.0,1330.5 3128.6,1334.8 3130.8,1338.7 3134.8,1334.4 3140.0,1329.5 3144.5,1333.5 3149.2,1338.7 3153.8,1343.6 3155.9,1347.6 3160.3,1351.7 3161.3,1359.3 3162.2,1364.6 3167.8,1361.5 3173.5,1358.6 3177.0,1357.2 3182.3,1356.1 3188.1,1353.5 3188.9,1359.0 3191.8,1364.6 3195.9,1364.2 3203.6,1363.0 3209.5,1361.3 3213.9,1360.9 3218.2,1363.7 3221.6,1365.7 3225.0,1368.3 3226.0,1364.1 3225.0,1357.7 3225.0,1351.7 3229.3,1354.7 3236.6,1358.1 3241.7,1359.1 3249.1,1357.5 3254.6,1357.2 3259.8,1355.3 3264.3,1352.2 3271.3,1349.8 3275.2,1345.6 3279.8,1344.5 3286.0,1340.6 3290.0,1339.8 3295.9,1341.7 3300.1,1340.4 3306.4,1340.6 3311.1,1338.0 3315.6,1333.2 3322.1,1336.1 3326.1,1336.6 3332.3,1338.7 3328.1,1343.0 3326.2,1343.9 3321.2,1348.0 3321.4,1352.7 3322.8,1359.0 3324.9,1364.6 3331.0,1362.1 3336.7,1360.9 3332.5,1364.4 3330.9,1368.5 3328.6,1372.0 3328.7,1377.5 3326.1,1382.2 3324.9,1386.8 3324.8,1390.4 3324.8,1397.5 3323.0,1401.6 3326.0,1407.4 3326.4,1411.2 3328.6,1416.4 3331.1,1420.5 3334.7,1422.5 3339.7,1427.5 3341.6,1432.0 3345.2,1438.6 3341.6,1440.9 3337.6,1444.9 3336.0,1449.7 3335.4,1454.2 3335.8,1460.6 3337.8,1464.5 3335.1,1467.1 3330.9,1471.4 3328.6,1475.5 3323.2,1472.0 3319.7,1472.1 3313.8,1468.1 3309.1,1469.9 3304.5,1471.8 3303.3,1475.6 3304.1,1481.0 3304.5,1486.6 3300.0,1485.6 3292.0,1488.0 3287.9,1486.6 3284.3,1488.7 3280.6,1491.4 3276.8,1495.9 3275.5,1502.4 3275.1,1506.6 3271.9,1510.7 3271.3,1516.2 3273.4,1522.0 3277.5,1526.9 3280.5,1531.0 3281.2,1534.5 3283.9,1541.1 3284.2,1543.9 3279.7,1545.8 3274.0,1546.5 3266.7,1546.8 3262.0,1547.6 3256.7,1548.1 3250.8,1550.7 3247.2,1553.2 3245.9,1559.9 3247.3,1565.4 3245.4,1571.7 3244.8,1578.1 3243.0,1581.1 3239.8,1586.5 3242.7,1589.4 3246.3,1593.0 3251.3,1598.7 3254.6,1601.3 3258.1,1607.4 3260.0,1614.5 3262.0,1619.7 3257.1,1625.1 3255.8,1630.4 3250.9,1634.5 3247.3,1637.6 3241.3,1641.6 3238.0,1643.8 3238.4,1651.1 3239.8,1656.7 3245.5,1658.9 3248.2,1663.0 3252.8,1664.1 3251.0,1668.1 3246.7,1672.9 3245.4,1678.9 3248.4,1684.7 3248.0,1689.7 3250.9,1693.7 3247.7,1697.4 3241.2,1700.3 3236.0,1702.0 3232.4,1706.6 3230.1,1710.8 3225.0,1714.0 3220.5,1718.1 3215.6,1720.7 3212.1,1721.5 3206.5,1725.1 3200.3,1721.7 3195.5,1719.6 3189.8,1716.7 3184.9,1713.2 3180.7,1710.3 3175.9,1706.6 3172.8,1700.3 3169.6,1695.5 3164.9,1698.0 3159.5,1699.2 3154.8,1699.2 3149.9,1703.0 3145.0,1705.2 3140.0,1710.3 3136.1,1712.5 3131.1,1717.4 3128.9,1719.6 3123.5,1722.5 3120.7,1725.7 3115.1,1728.5 3111.3,1732.2 3106.7,1734.4 3100.6,1732.1 3096.1,1728.8 3091.9,1727.0 3087.2,1727.0 3081.0,1727.7 3076.5,1726.8 3069.7,1727.0 3065.1,1730.7 3059.9,1734.9 3055.0,1738.1 3051.1,1740.6 3047.5,1744.3 3043.9,1745.5 3039.5,1750.3 3035.3,1752.1 3029.1,1756.5 3026.8,1761.6 3025.1,1762.9 3021.7,1767.6 3015.9,1771.2 3011.2,1774.3 3006.5,1779.2 3003.2,1782.4 2998.5,1781.8 2992.1,1778.7 2986.1,1776.9 2982.7,1772.7 2977.3,1771.3 2972.3,1772.7 2964.2,1772.7 2958.8,1771.3 2952.4,1769.5 2947.9,1768.6 2940.3,1765.8 2933.8,1763.7 2929.2,1762.1 2923.7,1758.4 2917.2,1755.1 2913.3,1751.0 2907.1,1749.2 2902.3,1746.5 2895.8,1743.7 2892.3,1741.8 2886.7,1740.7 2879.1,1741.0 2875.4,1739.8 2867.4,1736.6 2862.7,1736.2 2857.6,1732.4 2855.3,1727.0 2857.1,1720.9 2860.0,1718.3 2862.7,1712.2 2858.7,1712.1 2851.8,1714.7 2847.9,1714.0 2846.3,1709.7 2843.0,1702.9 2842.4,1699.2 2844.8,1695.3 2846.0,1691.8 2842.9,1687.6 2842.7,1681.6 2840.5,1675.2 2837.4,1671.3 2835.5,1666.4 2835.0,1660.4 2835.4,1653.8 2836.3,1649.4 2836.8,1641.9 2838.4,1635.3 2841.5,1630.1 2842.6,1624.3 2846.0,1619.7 2847.8,1615.2 2851.7,1611.8 2855.3,1608.7 2859.8,1605.6 2862.7,1602.8 2866.4,1601.3 2867.8,1594.3 2869.3,1588.7 2872.6,1584.8 2873.8,1579.1 2876.6,1574.1 2882.5,1568.0 2884.9,1564.3 2890.7,1560.4 2894.7,1557.9 2899.7,1553.2 2902.1,1548.6 2905.2,1543.9 2911.3,1545.4 2915.8,1544.9 2921.8,1543.9 2926.2,1539.3 2929.0,1533.3 2931.6,1527.6 2936.6,1523.6 2937.8,1518.2 2940.8,1510.3 2944.0,1505.1 2945.3,1501.2 2950.1,1495.8 2951.4,1490.3 2955.4,1487.3 2960.1,1485.6 2964.3,1483.2 2969.9,1481.1 2974.8,1485.2 2981.0,1486.6 2983.6,1481.8 2982.7,1478.2 2984.7,1471.8 2986.0,1465.9 2986.9,1460.4 2990.2,1455.2 2992.1,1449.7 2992.1,1443.2 2992.5,1436.0 2993.7,1430.0 2995.8,1423.8 2995.9,1417.2 2998.2,1412.6 3000.5,1408.3 3002.5,1403.5 3003.2,1397.9 3005.1,1392.9 3005.3,1385.1 3006.9,1379.4 3012.0,1373.4 3014.9,1370.0 3018.0,1364.6 3017.6,1360.1 3021.0,1353.9 3021.4,1348.9 3021.7,1342.4 3023.1,1336.3 3026.6,1331.1 3029.1,1323.9 3033.1,1320.0 3035.5,1315.3 3038.3,1309.2 3043.5,1306.0" fill="#fff"/>
<g clip-path="url(#goclip)" fill="none" stroke="#808080" stroke-width="1.7" stroke-linejoin="round">
<path d="M3343.1 1534.7l-5-1.5-8.6-.3-6.8-3-7-1.9-6.9 1.8-4.6-2.7-8.5-2.4-8.3-1.6-4.2 .8-7.8-2.7M3275.4 1521.2l-5.1 6-3 4.7-5 5.2-5.7 4.8-4.9 4.1-2.7 5.8-5.6 4.2M3243.4 1556l2.8 6.2 4.8 3.2 1.2 4.5 5.3 4.4M2866.4 1658.9l2.3 6.9 3.9 6.8 3.9 6.2 2.1 5.7 4.7 7 1.7 6.3 5.2 5.7 1.8 5.6M2866.4 1658.9l-1.7 1.1M2864.7 1660l1.5 8.6-2 5.3-1.5 8.1 .9 5.6M2883.4 1713.7l5.9-2.4 2.7-2.2M2883.4 1713.7l-1.1-.2M2882.3 1713.5l-3-4.4-3.6-7.2-3.6-3.6-4.1-5.8-4.4-4.9M2802.3 1679.8l6.7 3 6.2 1.8 4-.1 7.7 3.8 5.4 2.1 7.7-.5 5.6 2.7 6.3 3M2851.9 1695.6l-.7 5 2 6.5 .5 5.8 2.1 8.1M2813.5 1750.4l5.9-4.7 6.6-3.4 4.7-3.1 5.1-6 7.1-4.2 5.4-2.6 7.5-5.4M2864.7 1660l-7.5-.8-6.1 1.2-7.3 1.9-6.9 3.3-6.1-1-7.1 1.8-8.6-.9-6.2 2.6-7.4 .7M2863.6 1687.6l-4.1 5.7-7.6 2.3M2882.3 1713.5l-6.2 1.3-5.6 .6-9.5 3.9-5.2 1.7M2883.4 1713.7l1.1 5.7 .8 9.9-.3 5.4 .2 6.6 3.4 7.5 .7 9.1-.6 4.7 2.1 8-1.4 6.4 2.8 7.8-1.9 7 .1 7.7 2.1 6.6M3086.1 1731.8l.9-7 2.4-4.2 .1-7.5M3086.1 1731.8l-7.4-2.4-4.6-1-3.7-5.1-7.5-2.8-4.7-1.3M3089.5 1713.1l-3.4-3.5-6.5-2.2-5.1-2.3-5.6-3.1M3058.2 1719.2l4.5-7.2 3.6-5 2.6-5M3103.6 1798.9l-1.7-7.3-2.6-6-1.1-7.3-.7-5.9-4.4-7.9-.2-4.3-.1-8.1-5-5.8-.2-7.5-1.5-7M3162.3 1790l-2.9-5.9-4.5-5.4-4.1-8.4-1.9-7.1-5.8-4.1-4.5-6.3-1.4-7.9-5.2-5.2-1.3-8.7-5.3-4.9-3.6-7.3-3.7-5.7M3089.5 1713.1l0 0M3118.1 1713.1l-8.4 .3-4.8-1.9-9.2 2.7-6.2-1.1M3276.6 1582l-3.3 5.3-7.3 4.9-.9 5.8-5.5 1.1-3.9 5.4-5.7 5.7M3331.5 1674.1l-5.8-1.2-6-5.8-7.8 .1-6.8-4-5.3-4.4-5.5-3.3-8.2-1.5-6.4-4-4.5-.3-5.1-5.1-8-2.1-5.6-2.2-5.1-3.2-7.9-2.3M3250 1610.2l-3.2 6.9-1.3 5.9-.3 7.1-1.7 4.7M3222.4 1594.9l3 5.6M3222.4 1594.9l-1.8-.5M3220.6 1594.4l-4.2 4-5.5 3.3-4.4 4.3-3.6 2.7M3225.4 1600.5l1.1 5.7 0 7.9 2.9 6.3 1 8.7 .2 6.5M3202.9 1608.7l2.4 5.5 3.9 2.9 5.8 5.3 4.9 5.8 1.8 6.1 4.6 3.8M3226.3 1638.1l4.3-2.5M3257.5 1574.3l-7.6 4.2-5.7 1.3-2.6 5.4-8.5 1.4-3.1 5.5-7.6 2.8M3250 1610.2l-4.9-3.8-6.9-1.6-7.6-2.5-5.2-1.8M3243.5 1634.8l-6-.2-6.9 1M3224.5 1639.9l-1.5 5.5 .6 8.8-2.3 6.4M3278.9 1765.3l-2.3-6.4-3.2-5.8-4.3-6-2.9-6.8-5.7-7.5-3-6.2-.9-4.5-3.9-7.9-4.4-2.9-2.9-7.9-3.9-7.3-4.5-6-2.6-5.3-1.5-7-5.7-5.7-3.8-6.2-2.1-5.3M3224.5 1639.9l1.8-1.8M3260.4 1314.8l3.9 5.3 4.2 7 6.2 5.4 6.1 4.3 4.1 6.4 3.7 4.3 5.6 5.4 5.7 4.7M3299.9 1357.6l7.8 .7 5.1 1.4 7.1 2.1 7.6 5.2 6.8-.5 7.4 1.8 8 3.5 4.9 .1 8.2 2.9M3185.7 1785.3l-2.5-4.7-3.1-8.3-1.9-7.9-6.4-3.5-1.8-9.1-2.6-2.9-3.2-8.7-4.6-7.4-.1-4.9-3-8-5.6-6.3-2.5-6.4-3.6-5.1-2.9-7.7-2.4-4.7M3139.5 1689.7l2.3-1.6 4.4-5.1 5.2-3.4M3151.4 1679.6l4.8-.4 5.5-.6M3161.7 1678.6l2.4 5.1 3.9 6.7 6.9 6 3.7 4.4 .8 7 5.6 5.9 3.5 6 5.2 6.8 2.4 4.1 5.8 5 2.7 6.8M3221.3 1660.6l-7.8 .8-6.5 3.3-3.7-.2-8.9 .7-5 3.1M3204.6 1742.4l-2.4-8.3-.7-4.9-2-8.6 .3-6.8-3.3-5.9-.7-7.4-1.2-5.9-.2-5.9-.8-6.3-1.9-7.1-2.3-7M3161.7 1678.6l4-2.6 5-3.3 4.5-4.7 3.3-4.6M3189.4 1668.3l-4.1-3.7M3178.5 1663.4l6.8 1.2M3224.5 1639.9l-7.8 .4-6.5-3.2-8.1-.6-5.4 .5M3185.3 1664.6l1.4-4.9 2.4-7.7 4-3.7-.4-7.4 4-3.9M3187.6 1612l3.8-1.6 7.8 1 3.7-2.7M3187.6 1612l.7 6.3-.1 8.4M3188.2 1626.7l4 4.6 4.5 5.7M2898.7 1706.7l-6.7 2.4M2896.2 1806.5l2.7-8.2 4.3-3.5 3.8-9.2 2.6-6.1 4-5.5 4.1-5.2 .3-8.2 6.2-5.9 1.6-6.6 3.5-6.2M2898.7 1706.7l6.9 3.5 5 1.9 6.1-1.4 6.7 3 4.7 2.1M2928.1 1715.8l-1.3 8.3 .2 5 2 7.7 .3 5.1M2929.5 1741.9l5.9-1.9 5.8-.8 7.4-.2 7-1.2 4.8-.8 8.7 1.4 4.5-2M2973.6 1736.4l.5 .8M2929.5 1741.9l7.9 3.2 4.9 1 8.2 4 3.7 1.6 8.3 4M2974.1 1737.2l-5.4 7-.9 4.2-5.3 7.3M2929.3 1741.9l.2 0M2968.9 1781.2l-.5-7-2-4.4-1.8-6.6-2.1-7.5M3139.5 1689.7l-1.3-.4M3118.1 1713.1l-.1-7.4 1-3.5 .3-5.8M3138.2 1689.3l-7.5 2-5.8 1-5.6 4.1M3026.5 1666.9l-3.7 3.6-2.4 5.2-2.9 3.2M3026.5 1666.9l4 2.5 4.7-1.1M3042.2 1685.7l-1.1-4.2-2.8-6.7-3.1-6.5M3042.2 1685.7l-2.3 2.8M3039.9 1688.5l-6.7 1.4-7.3-.4-6.3-.1M3017.5 1678.9l1.7 5.4 .4 5.1M2964.3 1292l5.6 1.4 5.6 3.9 8.2 4.3 6.8 1.3 7.1 2.7 5.6 2.2 6.5 5.1 7.1 3.7 5.3 2.7 6.5 2 5.5 2.5M3034.1 1323.8l5.8-.3 9.4-1.3 5.5 .7M3178.5 1663.4l-2.1-3.9-6-6-3.5-2.3M3188.2 1626.7l-4.2 2.4M3166.9 1651.2l3.9-6.7 5.2-2.8 5.3-6.6 2.7-6M3237.5 1477.5l-.6 4.8 .9 7.8-.1 5.6 .4 5.6-2.4 6.4 .5 7.1M3237.5 1477.5l-4.6 .8-5.5-2.1M3227.4 1476.2l-5 3.8-1.5 1.8-4.7 4.4M3216.2 1486.2l1 6.8 5.5 7.8 2.3 4.9 1.6 7 2.9 6.5M3229.5 1519.2l4.9-2.9 1.8-1.5M3260.9 1499.9l-4.4-4.7-1-6.7-6.9-5.4-1.6-3.3-3.8-5.4M3243.2 1474.4l-5.7 3.1M3259.5 1511.8l-.5-7.1 1.9-4.8M3259.5 1511.8l-5.4 1.3-5.5 1-8.2-.1-4.2 .8M3275.4 1521.2l-4-1.4-7.2-3.6-4.7-4.4M3243.4 1556l-4.5-1.6-6.5-4.1-2.8-4-6.2-3.1M3223.4 1543.2l-2.5-8 .5-5.8M3221.5 1528.1l-.1 1.3M3221.5 1528.1l2.8-5.9 5.2-3M3324.5 1488.8l-2.7-6.5-1.6-6.4 .8-6.6-1.2-7.3-1-6-3-8.6M3324.5 1488.8l-6-.7-8.4-5.6-6.6-2.1-5.3-1.4-5.3-1.4-8.7-3.7-4.9-2M3279.3 1471.9l-4-4.5-5.7-3.1-3.1-3.7-3.7-4.6M3262.8 1456l6.3-1.1 8-6.2 5.6-.4 4.6-5 7-2 6.3-2.3M3315.8 1447.4l-4.2-1.3-6.3-5.1-4.7-2M3340.5 1396.1l-3.1 7.1-2 6-5 5.5-1 7.1-6 6.1-2.4 7.3-3.7 4.9-1.5 7.3M3260.9 1499.9l2.2-5.7 6.9-5.4 1.5-4.1 2.6-7.8 5.2-5M3243.2 1474.4l5.5-6.8 4.1-3.6 1.5-5.4 6-4M3260.3 1454.6l2.5 1.4M2888.7 1350.8l6 2.9 6.4 2.2 5.1 6.8 7 1.5 4.8 2.7 9.4 4.9 4.5 1.1 5.8 6 6.3 2.8 7.9 3.5 5.2 1.2 3.9 6.1 7.6 3.8 7.7 3.5 4.6 3.7 7.5 3 3.9 3 7.2 4.1 8.3 .6 4.1 3.6 6.4 4.3M3018.3 1422.1l2.3-6.2 3-6 .5-4.1 3.5-5.2M2965.6 1358.7l4.1 3.3 8.7 5.7 3 .6 8 7.3 4.8 .8 4.3 6.7 8.2 .5 2.8 5.3 6 5 6 3.9 6.1 2.8M3099.5 1571.5l-5.5-1.9-2.9-2.2M3099.5 1571.5l6.4-.7 2.9-2.2M3108.8 1568.6l-6.2-6.1-2.6-3.8-5.2-4.2M3091.1 1567.4l1.4-6.5 2.3-6.4M3073.2 1560.5l-2.9-.8M3073.2 1560.5l4.5-2.6 3-5.8 5.3-4.6M3070.3 1559.7l-4.4-2.1-2.7-2.3M3063.2 1555.3l.4-6.3-1.3-3.5M3086 1547.5l-3.9-4.2-3.8-5.8M3078.3 1537.5l-7.1 3.7-3.9 1.7-5 2.6M2992.2 1757.6l-2-5-2.8-7.2M2992.2 1757.6l4.9 1.7 6.5 1.3 7.7 .3 7.1 3.4M2987.4 1745.4l3.1-4.2 5.2-2.3 3.3-5.6M2999 1733.3l5.3 .9 7 2.3 4.9-.8M3018.4 1764.3l1.1-5.3-2.9-10.2 1.8-7.5-2.2-5.6M2974.1 1737.2l4.2 3.6 4.7 1.5 4.4 3.1M2968.9 1781.2l6.3-5.4 3.2-2.8 3.2-6.5 6-3.9 4.6-5M3062.3 1806.1l-6-4.8-5.4-6-3.8-4.4-2.6-4.2-7.4-2.7-3.2-6.6-4.5-3.3-6.5-4.6-4.5-5.2M3116.1 1695.1l-2-6.7 1.2-5.2-1.1-6.9-3.9-6.3 .2-4.2M3116.1 1695.1l-5.5 .2-7.3-.4M3103.3 1694.9l-2.9-7.8 1.9-4.5-2.3-6.1M3110.5 1665.8l-2.1 1.8-4.6 3.9-3.8 5M3119.3 1696.4l-3.2-1.3M3110.9 1665l7.5 1.3 5.9 .5M3110.9 1665l-.4 .8M3124.3 1666.8l3.9 4.6 4.7 5.2 .2 7.8 5.1 4.9M3089.5 1713.1l.2-7 3.3-3.7M3093 1702.4l5-3.2 5.3-4.3M3023.3 1724.8l.8-3.7-2.2-5.3M3023.3 1724.8l3.8 3.2 8.1 .8 5 3.2 4.4 3.6M3021.9 1715.8l5.7-4.9 8.2-1.1 5.5-3.1M3044.6 1735.6l4.6-5.5 .3-6.4 4.4-4.4M3053.9 1719.3l-4.3-3.2-2.6-6.4M3047 1709.7l-5.7-3M3016.2 1735.7l2.5-7 4.6-3.9M3064.2 1805.8l-2.5-8.6-1.7-5-1.1-8.6-3.9-5.9 .1-7.2-2.4-5.3-3.5-9.4-.7-6-.5-6.9-3.4-7.3M3058.2 1719.2l-4.3 .1M3064.4 1693.6l2.8 3.9 1.7 4.5M3064.4 1693.6l-3.3 5.3-6.1 1.3-4.5 4.9-3.5 4.6M2968.9 1637.9l-2.5-3.6-5.4-1.9M2968.9 1637.9l-.8 5.8-.1 3.4-3.1 6.7M2964.9 1653.8l-3.9-4.3-7.4-2.5-2.2-3.8-6.2-3.9M2961 1632.4l-7 4.1-4 1-4.8 1.8M2975.8 1634.6l-2.6 .8-4.3 2.5M2975.8 1634.6l1.3-7.2 1.9-5.9M2979 1621.5l-6.6-4.4-2.7-1.6-5.9-2.5M2956.4 1619l5.1-4.6 2.3-1.4M2956.4 1619l1.6 5.6 3 7.8M2983.8 1656.8l4.1 6.2 .8 4.1M2965.1 1657.6l7.7-.3 3.3-.6 7.7 .1M2955.5 1673.1l2.2-6.9 4.4-4.2 3-4.4M2955.5 1673.1l-.9 5.8 3.6 7.3-1 4.1M2988.7 1667.1l-5.4 2.4-4.1 3.9-6.1 3.8-3.6 5.5-7.3 2.9-5 4.7M2965.1 1657.6l-.2-3.8M2975.8 1634.6l3.8 3.5 3.4 0M2983.8 1656.8l2.8-3.6M2983 1638.1l.9 4 1.6 7.6 1.1 3.5M3010.5 1705.6l-5.1 5.3-2.6 3.7-6.2 5.5M3010.5 1705.6l-.7-2.2M3009.8 1703.4l-3.8-2.8-6.1-3M2999.9 1697.6l-8.2-2-3.9 1.2-8.8 1.3-6.4-1.8-7.1-.3M2996.6 1720.1l-6.9 .5-6.2-1.4-4.2 .1-7.1-.8M2972.2 1718.5l-4.7-6.6-1.2-3.5-5.5-4.4-1.8-7.3M2965.5 1696l-6.5 .7M3021.9 1715.8l-5.2-4.6-3.9-2.4-2.3-3.2M2999 1733.3l-.8-5.3-1.6-7.9M3039.9 1688.5l-.8 6.8 .3 5.7 1.9 5.7M3019.6 1689.4l-4.2 4.2-4 6-1.6 3.8M3017.5 1678.9l-6.8-1.6-4.7-3.4-4.8-3M2999.1 1673.2l.5-1.4M3001.2 1670.9l-1.6 .9M2999.1 1673.2l.7 6.1 1.1 7.7-2 3.9 1 6.7M2999.1 1673.2l-4.2 2.5-7.3 4.8-3.6 2.7-6.8 6.1-5.3 1-6.4 5.7M2973.6 1736.4l1.2-6.7-.8-4.7-1.8-6.5M2928.1 1715.8l4.7-3.2 6-6.3 4.3-3.9M2943.1 1702.4l4.1-2.6M2947.2 1699.8l5.6-2.1 4-2.2M2956.8 1695.5l2.2 1.2M2988.7 1667.1l6.2 2.8 4.7 1.9M2957.2 1690.3l-.4 5.2M2866.4 1658.9l4.2-3.7M2826.7 1586.6l4.7 4.5 2.6 5.1 4.7 8.5 3.9 3.1 2.5 7.3 2.1 4.7 6.9 8.1 .9 5.6 5.2 4.1 3.6 5.1 2.3 4.9 4.5 7.6M2899.1 1699.5l-2.1-6.5-2.4-7.1-3.9-7.6-1.6-6.6-3.2-5.4-3.1-7.8M2899.1 1699.5l2.8-5.4 1.6-7.8 5.9-6.6 1.7-4.8M2882.8 1658.5l5.4-1.1 9.8 1 5.9 1.9 7.3 .9M2911.1 1674.9l1.2-6.9-1.1-6.8M2898.7 1706.7l.4-7.2M2870.6 1655.2l3.1-.9M2873.7 1654.3l4.6 .3 4.5 3.9M2943.1 1702.4l-4.2-3.6-6-4.4-5.4-5-4.4-4.9-8.4-3.6-3.6-6M2945.2 1639.3l-6.1 0M2955.5 1673.1l-2.6-5-7.8-3.3-2.8-3.3M2942.3 1661.5l-2.3-6-.8-6.1-1.1-4.8 1-5.3M2947.2 1699.8l-5.3-4.7-4.2-7.6-2.5-2.8-5.5-8-5.6-4.6-4.5-7.1-4.2-3.7M2942.3 1661.5l-6.9 .9-5.8 .3-6.8-.4-7.4-1M2911.2 1661.2l1.4-.8M2915.4 1661.3l-2.8-.9M2891.5 1594.6l.2 7.6-1.4 4.2-1.7 7-.4 6.3-2.6 5.2M2891.5 1594.6l6.5 1.7 6.2 3.2 7.9 4.8 6 1.9M2918.1 1606.2l-.9 6.7 2.7 6-.9 7.2M2919 1626.1l-8 .9-5.4-1.2-6.7 .1-6.9 2.1-5.1 .8M2885.6 1624.9l1.3 3.9M2835.2 1538.6l3.9 2.6 6.9 8 6.4 2.2 5.6 3.5 2.4 4.2 5 6.7 7.8 4 5.5 4.3 4.2 4.7M2882.9 1578.8l4.4 5.6 1.5 3.7 2.7 6.5M2826.7 1586.6l5.6 3.6 7.4 3.1 3.9 6 5.1 2.8 6.4 4.3 7.3 1.7 6.4 5 4.4 5.5 7.6 1.8 4.8 4.5M2873.7 1654.3l4-7.8 2.7-6.5 3.7-3.3 2.8-7.9M2944.5 1606.7l-5-3.2-5.9 .1-5.7-2.6-5.2-.2M2944.5 1606.7l2.5-6.3 2.7-5.3 5-6.8M2954.7 1588.3l-1.2-1.4M2953.5 1586.9l-8 .8-7.6 1.6-4 1.6-8.6 2.4M2922.7 1600.8l-.2-4.3 2.8-3.2M2918.1 1606.2l4.6-5.4M2882.9 1578.8l8-1.6 4.1 .3 7.6 .9 4.2 1.4 7.2-.8 7-.7M2921 1578.3l1.3 6.3-.1 2.7 3.1 6M2972.7 1593l2.1-5.8 4.9-4 1.6-4.9M2966.9 1594.2l5.8-1.2M2966.9 1594.2l-6.7-2.9-5.5-3M2953.5 1586.9l.3-5.3-2.3-5.8M2968.5 1567.7l4.1 4.1 4.9 2.6 3.8 3.9M2968.5 1567.7l-5.4-1.8-5.1 2.3-5-1.9M2953 1566.3l-1.5 4.3 0 5.2M2921 1578.3l1-1.8M2951.5 1575.8l-7 .5-9-.3-5.3-1.4-8.2 1.9M2838.1 1527.6l5.2 3.6 9.5 .1 3.5 4.7 7.3 2.8 5.6 1.9 7.1 2.2 8.5 3.4 7.2 3.9 5.7 2.6 4.9 1.3 7.1 3.3 5.8 3.6 8 1.2M2923.5 1562.2l-1.2 8.2-.3 6.1M2992.2 1571.7l3.1-6.6M2995.3 1565.1l7.4 3.8 3.7 1.7 7.9-.6 3.9 3.5M3018.2 1573.5l1.9 2.1M3020.1 1575.6l-2.5 6-4.5 3.6-3.3 6M2992.2 1571.7l.9 4.3 4.9 4.5 .5 4.9M3009.8 1591.2l-6.6-2.4-4.7-3.4M2981.3 1578.3l5.2-2.9 5.7-3.7M2972.7 1593l4.6 2.3 3.2 5 6.4 1.8M2998.5 1585.4l-3.3 4.6-4.4 6.8-3.9 5.3M2966.9 1594.2l-1 7.7 0 4.1-2.1 7M2991.8 1612.9l.7-2.4M2991.8 1612.9l-4.9 3.3-4.9 4.1-3 1.2M2986.9 1602.1l1.1 4.2 4.5 4.2M3055.5 1558.2l3-1.4 4.7-1.5M3055.5 1558.2l-5.1 3.7-1.7 5.9M3070.3 1559.7l-2.1 6.1-6.7 3.8-2.9 5.2M3058.6 1574.8l-6.7-4.9-3.2-2.1M3037.7 1566.4l-6.7-2.6-5.1-7-4.8-3.5M3037.7 1566.4l1.1 4.3M3024.2 1576.4l-4.1-.8M3021.1 1553.3l-2.6 5.3 2.5 9-2.8 5.9M3024.2 1576.4l8.5-1 5.4-3.5M3038.8 1570.7l-.7 1.2M3151.4 1679.6l.1-6.9-2-5.2M3124.3 1666.8l3.3-5.5 5.7-3.8M3133.3 1657.5l5.3-.1M3149.5 1667.5l-5.3-4.5-1.2-2.3-4.4-3.3M3166.9 1651.2l-3.7-1.5M3149.5 1667.5l1.6-5.1 6.5-2.5 3-4.9 2.6-5.3M3108.2 1660.2l3.5-5.8 .1-6 2.4-6.3M3114.2 1642.1l6.7-2.7M3110.9 1665l-2.7-4.8M3133.3 1657.5l-1.9-5.9-.2-2.5M3120.9 1639.4l4.2 4.7 6.1 5M3260.4 1314.8l-1 5.4 .9 7.9 3 7.4 0 7.9-.5 5.3-.3 6.9 1.4 9-.1 5.6M3299.9 1357.6l-.8 4.8-4.2 4.5-.3 6.4-2.1 6.6M3292.5 1379.9l-7.6-2.7-4.9-2.3-4.1-.5-7.2-1.4-4.9-2.8M3039.3 1464.6l4.8 2.9 5.6 .2 7.4 1.1M3039.1 1490.5l.8-5.6-.7-6 .5-7.2-.4-7.1M3039.1 1490.5l3.8-4.6 6.8-2.2 5.4-3.6M3055.1 1480.1l-.5-4.8 2.5-6.5M3078.3 1537.5l-1.3-7-.2-6.8M3058.3 1540.6l4 4.9M3058.3 1540.6l1.9-4 1.1-6.3 2.6-5.5M3063.9 1524.8l2.5-1.3M3076.8 1523.7l-4.8 .5-5.6-.7M3109.3 1604.8l.5 5.5 1.7 7.6 1.3 6M3109.3 1604.8l2.6-1.1M3111.9 1603.7l6.3 2.9 5.2 6 4.9 2.6 7 5.8M3112.8 1623.9l6.5-.8 3.4 2 5 1.8M3127.7 1626.9l2-3.8 5.6-2.1M3114.2 1642.1l-5.7-4-1.8-4.8-6-2M3100.7 1631.3l5.5-3 6.6-4.4M3120.9 1639.4l3.8-8.1 3-4.4M3218.3 1548.5l5.1-5.3M3220.6 1594.4l-4.7-5.8-1.2-4.4-6-4.9-2.8-4.9M3218.3 1548.5l-3.1 3.8-2.4 7.2-3.8 4.4-3 4.9M3206 1568.8l-.1 5.6M3187.6 1612l-3.7-2.9-5.3-8-5.1-3M3205.9 1574.4l-5.4 4.6-6 4-5.3 3.7-4.5 4.2-4.3 4.1-6.9 3.1M3131.3 1466.1l3.5-2.5 2-4M3131.3 1466.1l-1.4 5.1 .7 4.3M3130.6 1475.5l5 1.6 5.2 3.8 3.6 4.3 4.7 3.1M3149.1 1488.3l1.4-4.9-.4-5.1 .6-7.2 .8-6.1M3151.5 1465l-3.1-2.4-5.9 .5-5.7-3.5M3093.8 1548.8l3.2-.4M3097 1548.4l4.6 2.8 7.7 .8M3094.8 1554.5l-1-5.7M3109.8 1568.7l-1-.1M3109.8 1568.7l3.5-3.3 2.4-3.5M3109.3 1552l4.3 6.3 2.1 3.6M3156.8 1564.9l-2 7.1 1 8-1.2 6.5M3156.8 1564.9l-2.5-1.8-4.6-5.6-5.4-1.2M3154.6 1586.5l-6-1-3.9-3.1-7.5-3.5M3137.2 1578.9l-2.7-5.7-1.6-7.8M3144.3 1556.3l-5.6 5.2-5.8 3.9M3114.5 1583l-1.1-3.4-1.3-4.4-2.3-6.5M3114.5 1583l4.7 4.6M3119.2 1587.6l6-2.9 6.6-2.7 5.4-3.1M3115.7 1561.9l6.2-1.4M3121.9 1560.5l2.2 2.8 5.5-.6M3129.6 1562.7l3.3 2.7M2991.8 1612.9l1.6 4.9 1.3 3.8 4 6.1M2983 1638.1l6.6-1.9 3.5-.2M2998.7 1627.7l-3.5 5.3-2.1 3M2986.6 1653.2l4.1-.3 6.2-.1 4.7-2.4M2993.1 1636l2.8 4.2 2 4.9 3.7 5.3M2920.6 1627.7l4.4-5.3 6.8-3.1 8.6-1.6 5.2-5.6M2920.6 1627.7l1.4 2.7M2922 1630.4l6.1 1.8 7.2 3.6M2935.3 1635.8l4-3.8 5.4-6.1 4.9-3.7 4.7-3.4M2954.3 1618.8l-5.7-2.3-3-4.4M2944.5 1606.7l1.1 5.4M2919 1626.1l1.6 1.6M2912.6 1660.4l.4-6.2 4.3-5.6 2.3-6.8 2.2-7 .2-4.4M2939.1 1639.3l-3.8-3.5M2956.4 1619l-2.1-.2M2959 1551l1.1-7.2-3.6-7.5 3.3-5.3-2.2-7.7M2959 1551l-3.5 4.3-5.2 2M2950.3 1557.3l-7.8-4.2-4.2-2.8M2957.6 1523.3l-4.3 5.9-2.5 1.7-3.9 5.9-6.7 2.7-3.4 6M2936.8 1545.5l1.5 4.8M2953 1566.3l-1.6-4.4-1.1-4.6M2923.5 1562.2l4.8-4.7 6.7-3.3 3.3-3.9M2862 1457.1l5.5 5 6 2.7 5.7 3.3 9.5 5.4 4.5 4.2 6.8 3.4 5.1 2.6 5 3.9 7.6 3.6 7.2 5.2 4.6 3.9 7.2 3.6 7.6 4.9 3.3 2.6 7.8 5.5M2861.8 1457.6l6.2 5.8 2.4 6 3.8 6.1 8 4.7 1.4 4.6 7.6 6.1 2.4 4.2 4.1 6.5 5.1 5.2 7.4 7.2 3.1 5.1 3.4 6.1 7.4 3.7 4.8 4.9 5 5.5 2.9 6.2M2955.4 1516.9l2.3 6.1M2957.7 1523l-.1 .3M3093 1702.4l-1.9-4.1-3.4-5.7-6.7-7-1.8-4.4M3064.4 1693.6l-.1-4.1M3064.3 1689.5l5.5-1.3 5.1-6 4.3-1M3042.2 1685.7l5.6-1.6 6.7-.5M3064.3 1689.5l-6.1-4-3.7-1.9M3100 1676.5l-6.4-.1-7.3 .4-5.6 .7M3079.2 1681.2l1.5-3.7M3108.2 1660.2l-3.1-1.5-5.4-.7-5.7-3.5M3099.9 1631.1l-5 6.5-2.9 2.5-1.8 6.1M3100.7 1631.3l-.8-.2M3094 1654.5l-1-3.2-2.8-5.1M3080.7 1677.5l-.5-1.9M3080.2 1675.6l3-6.7 2.2-6.5M3094 1654.5l-3.5 3.7-5.1 4.2M3035.2 1668.3l2.6-4.4 4.8-2.5M3054.5 1683.6l0-.1M3042.6 1661.4l2.2-2.6 5 .8M3049.8 1659.6l2.9 7.7-1.1 3.9 .9 7.4 2 4.9M3080.2 1675.6l-4.8-5.2-3.4-1.2-6.2-5.6M3054.5 1683.5l1.1-5.1 3.5-4.3 3.4-6.2 3.3-4.3M2968.5 1567.7l4.4-4.7 5.8-5.4 5.1-5.1M2995.3 1565.1l-.6-4.3M2994.7 1560.8l-4.8-4.2-6.1-4.1M3021.1 1553.3l-.3-1.3M3020.8 1552l-3.7-.7-5.9 1.3-6.4-2M2994.7 1560.8l5.5-4.8 4.6-5.4M2959 1551l7.4-1.4 4.2-3.3 7.4-1.9M2983.8 1552.5l-4.1-5.8-1.7-2.3M2957.7 1523l6.2 1.8 3.9 1.3 4.6 4.9 7.2 1.8M2978 1544.4l.3-6 1.3-5.6M3020.8 1552l2.9-3.3M3037.7 1566.4l1.1-5.6-.3-8.7M3023.7 1548.7l5.7 .1 6 1 3.1 2.3M3048.7 1567.8l-4.6 2-5.3 .9M3055.5 1558.2l-5-2-3-4.1-4.6-4.3M3038.5 1552.1l4.4-4.3M3118.4 1591.8l-4.6 7.2-1.9 4.7M3119.2 1587.6l-.8 4.2M3114.5 1583l-6.8 1.1-4.2-.5-6.8 1.3M3092.6 1607l-1.7-6M3092.6 1607l4.7-1.4 8.2 .5 3.8-1.3M3090.9 1601l1.8-5.1 2.6-6.5 1.4-4.5M3099.5 1571.5l-3.5 4.1-.3 6.9M3096.7 1584.9l-1-2.4M3089.8 1616.3l-3.7 3.8-2.6 3.5-5.9 2.9M3089.8 1616.3l.7-6.1M3090.5 1610.2l-5 .8-7.6-3.1-6.4-1.2-6.2-.6M3077.6 1626.5l-3.6-3.4-6.9-2.2-3.1-4.4-4.7-4.5M3059.3 1612l3.2-2.6 2.8-3.3M3099.9 1631.1l-3.1-6.3-5-2.7-2-5.8M3092.6 1607l-2.1 3.2M3058.6 1574.8l2.2 4.7M3038.1 1571.9l1.6 3.4 2.8 6.1M3058.1 1588.3l2.5-3.5 .2-5.3M3058.1 1588.3l-6.2 1.1M3042.5 1581.4l5.7 3.5 3.7 4.5M3024.2 1576.4l.2 6.4 1.8 5.2 3.4 4 .8 6.4M3030.4 1598.4l.9 0M3042.5 1581.4l-5.6 6-.8 5.6-4.8 5.4M3009.8 1591.2l1.3 7M3030.4 1598.4l-5.6 3.4M3024.8 1601.8l-5.1-2.8-8.6-.8M2992.5 1610.5l6-1.8 4.3-1.3M3011.1 1598.2l-3.8 3.9-4.5 5.3M2962.6 1453.6l1 7 3.4 8.1 1.9 5.2 2.2 7.3 1 5.5 3 7.2 1.3 7.2M2971.4 1454.8l2.1 4.6 5 7.6 4.9 5 4.3 5.2 2.1 7.3 5 4.5 3.2 6M2976.4 1501.1l5.4 1.4 2.7 6.2 3.9 1.8M2988.4 1510.5l4.6-6.3 2.9-3.9 2.1-5.3M2955.4 1516.9l6.9-4.6 4.2-2.8 6.5-5 3.4-3.4M2997.7 1455.6l-7-1.6-5.5-.4-5.9 .1-7.9 1.1M2997.7 1455.6l1.4 7.3 3.8 5 2 3.7 2.6 8.4 2 5.4 3.7 4.2M3013.2 1489.6l-3.7 2.5-7.3 2-4.2 .9M3167.4 1348.2l-4.3 3.5-8.3 3.3-3.1 3.2-7.5 2.9M3101.5 1305.9l1.7 5 4.7 5.6 .7 7.3 3.9 6.6 2.3 6.4 5.1 5.2 2.7 6.9 2.6 6M3144.2 1361.1l-5.3-1.8-6.9-2.1-6.8-2.3M3034.1 1323.8l2.6 4.8-1.3 9.2 4.1 3.2 1.6 8.5-.1 6M3054.8 1322.9l1.2 7-1.9 4.1 1.3 8.5-1.1 5.5M3054.3 1348l-4.6 1.7-4.8 4.9-3.9 .9M3094.8 1327.5l-3.9 4.7-1.8 8.7-6.7 2.9-2.6 6.9M3079.8 1350.7l-5.1 2M3054.3 1348l7.6 1.2 5.9 2.6 6.9 .9M2965.6 1358.7l6.3 .8 6.8-.9 8.4 1.3 8.4-.5 7.2 .9 4.9-.1 7 3.8 7.3 0 9.4-.1 5.3-.2M3041 1355.5l-3.4 3.8-1 4.4M3027.6 1400.6l4.8-1.3M3036.6 1363.7l3.1 4.8 5 5.4 4.9 7M3032.4 1399.3l4.9-4.5 2.9-5.6 3.8-5.1 5.6-3.2M3074.7 1352.7l-4.5 4.2-4.1 6.4-3.4 5.8-4 8.3-5.7 4.1M3049.6 1380.9l3.4 .6M3180.3 1496.4l6.8 2.1 5.1 4.1 5.1 3.1 3.9 2.4 5.1 4M3180.3 1496.4l.1-7.4-1.7-6.4M3179 1481.8l-.3 .8M3179 1481.8l7.1-1.1 4.2-2.6M3190.3 1478.1l5.1 1.2 4.7 4.4 6.2 3.2M3206.3 1486.9l-.5 6.6-1.4 5.9 3.3 8.1-1.4 4.6M3169.4 1464.5l-5.3 .9-6.3 1.3-6.3-1.7M3169.4 1464.5l4.3 5.6 2.1 7.6 3.2 4.1M3150.9 1490.4l-1.8-2.1M3150.9 1490.4l7.1-1.6 6-1.7 7.7-.9 7-3.6M3196.1 1470.2l7.5-2 5.6-7.4 4.1-2.1M3227.4 1476.2l-5.1-5-.7-3.6-5.7-6-2.6-2.9M3216.2 1486.2l-5.9-1-4 1.7M3196.1 1470.2l-4.2 4.9-1.6 3M3221.5 1528.1l-5.9-5-3.7-2.6M3211.9 1520.5l-2.4-5.6-3.2-2.8M3184.8 1519.7l-1.6-3.9-2.7-4.1-4.2-5.3M3184.8 1519.7l-1.1 4.2-3.1 5.3-1.7 5.4M3178.9 1534.6l-3.3-3.3-2.7-5.3-2.2-7.5-3.4-3.3M3176.3 1506.4l-5.3 3.3-3.1 2.8M3167.9 1512.5l-.6 2.7M3211.9 1520.5l-5.7-1.2-8.8 .3-6 0-6.6 .1M3180.3 1496.4l-.4 5.4-3.6 4.6M3221.4 1529.4l-7.9 .6-6.2 .4-7.6 .8-6.1 4.1-6.2 .1-8.6 .8M3178.8 1536.2l.1-1.6M3153.3 1507.4l4.4 1.9 5.6 .3 4.6 2.9M3150.4 1491.6l1.1 5.3-.3 5 2.1 5.5M3150.4 1491.6l.5-1.2M3156.8 1564.9l5-4.6 2.5-5.6M3146.3 1545l-1.6 4.7-.4 6.6M3146.3 1545l3.6-1.7M3149.9 1543.3l5.3 4 3.6 3.5 5.5 3.9M3178.8 1536.2l-1.8 2.8M3218.3 1548.5l-7.1 .2-5.1-1.3-8.2 .4-6.3-1.5-8.4 2.2-5.9-1.9M3177 1539l-1.2 4.5 1.5 3.1M3161.5 1648.1l-5.6-.9-3.9-.8M3161.5 1648.1l.1-6.9-.7-3.3 1.6-7.6M3152 1646.4l-6.3-6.5-2.9-3.9M3162.5 1630.3l-2.1-5.3-4.9-3.4-.1-7-4.7-3.8M3142.8 1636l-.7-5.5-.3-4.4-3.3-5.5M3138.5 1620.6l6.7-3.8 3.8-5M3150.7 1610.8l-1.7 1M3138.6 1657.4l3.1-3.9 6.6-4.7 3.7-2.4M3163.2 1649.7l-1.7-1.6M3184 1629.1l-8.7 2.2-4.1-.8-8.7-.2M3131.2 1649.1l2.2-3.6 7.3-4.1 2.1-5.4M3162.4 1595.7l2.4-.2M3162.4 1595.7l-3.1 4.8-4.2 6.9-4.4 3.4M3173.5 1598.1l-4.4-2.8-4.3 .2M3135.3 1621l3.2-.4M3118.4 1591.8l4.8 5.7 8.2 3.9 4 1 8.1 5.1 5.5 4.3M3162.4 1595.7l-4-5.6-3.8-3.6M3320.8 1397.2l-3.9 5.6-4.9 3.2-5.8 4.4-4.9 4.2-4.9 6.9-4.7 2.8M3320.8 1397.2l-5-3.2-6.7 .8-6.8-3M3302.3 1391.8l-7 4.5-4.2 0-7.5 4.3-7 3.6-5 3.4-7.7 2.6M3291.7 1424.3l-5.6-2.4-7.4-1-9.3 0-5.9-2.7M3263.5 1418.2l.5-5-.1-3M3340.5 1396.1l-5.1 .3-7.4 2.2-7.2-1.4M3300.6 1439l-3.6-4.7-2.1-5.9-3.2-4.1M3292.5 1379.9l3.4 5.7 3.9 1.4 2.5 4.8M3255.4 1389.3l2.8 5.7 1 5.4 2.1 5.6 2.6 4.2M3263.8 1370.2l-3.2 7.5-3.1 4-2.1 7.6M3256.3 1444.8l.7-8.6 3.4-3.9 0-9.1M3260.3 1454.6l-2.3-5.9-1.7-3.9M3260.4 1423.2l3.1-5M3074.9 1386.1l-5.6 1.8-8.4-.7M3074.9 1386.1l3 3.6 4.8 3.6 4 5.7M3086.7 1399l-6.7 3.7-6 3.2-3.8 4.7-6.1 4.9M3060.9 1387.2l2.3 8.8-.1 4.5 1.2 7.3-.2 7.7M3079.8 1350.7l3.4 5.6 1.4 7 1.3 4.9M3079.9 1381.5l3.7-5.7 2.3-7.6M3079.9 1381.5l-5 4.6M3053 1381.5l3.4 1.5 4.5 4.2M3090.7 1443.4l2.1-4.9 1.4-9.1 4.3-5.8M3109.4 1451.8l-6.9-3-4.2-3.8-7.6-1.6M3109.4 1451.8l1.9-7.3 4.2-2.9 4-6.4M3098.5 1423.6l5.1 3.4 5.5 1.9 4.8 1.7 5.6 4.6M3059.4 1505.7l1.4-4.4M3059.4 1505.7l-2.9 3.8-6.2 2.1M3050.3 1511.6l-5.5-5.1-1.5-2.9-4.2-3.1-4.9-4.9M3060.2 1499.9l-7.3-.2-5.8-3.9-3.9 1.1-6.9-2.5M3060.2 1499.9l.6 1.4M3034.2 1495.6l2.1-1.2M3062.5 1490.3l-4.4-5.6-3-4.6M3039.1 1490.5l-2.8 3.9M3062.5 1490.3l-.3 4-2 5.6M3027 1495.7l1.9 1.3M3028.9 1497l5.3-1.4M3039.3 1464.6l-5.7-1.9-5.3-5.5M3027 1495.7l-1.2-4.8 3.1-6.2-2.2-9.4 .9-6.5 2.1-4.9-1.4-6.7M3192.3 1564.8l-3.6 3.1-6 4.9-6.2 .4-3.5 4.2M3192.3 1564.8l-4.3-3.9-6-2.7-6.6-6M3173 1577.4l1.6-5.9 .5-6.6-1.4-7 1.6-5.6M3175.4 1552.2l-.1 .1M3164.8 1595.5l4.3-5.9-.5-5.6 4.4-6.6M3206 1568.8l-5.1-1.6-8.6-2.4M3177.3 1546.6l-1.9 5.6M3164.3 1554.7l5.5-1.4 5.5-1M3162.9 1389.4l-2.1 4.6-3.1 5.3-2.6 2.8M3173.3 1407l-2-4.8-4.1-6.1-4.3-6.7M3173.3 1407l-6 2.8-4.6 1.7-4 3.9M3155.1 1402.1l3.4 5.7 .2 7.6M3109.3 1552l4.5-3.4 2.1-6M3097 1548.4l4.7-6.5 4.3-2.4 6.3-5.3M3112.3 1534.2l2.6 3.7 1 4.7M3121.9 1560.5l.4-6.1 .3-2.7-.5-5.9M3115.9 1542.6l6.2 3.2M3073.8 1633.4l5.2 4.2 3.4 1.8 3.9 5.7M3073.8 1633.4l-5.5 1.6-5.3 .7-3 3.4M3086.3 1645.1l-2.7 3.6-5.9 2.9-4.7 2.2M3060 1639.1l.7 5.5-1.9 4.5M3073 1653.8l-5.9-.2-5.5 .5M3058.8 1649.1l.4 3M3059.2 1652.1l2.4 2M3077.6 1626.5l-.2 5.1-3.6 1.8M3090.2 1646.2l-3.9-1.1M3085.4 1662.4l-5.4-1.7-2.3-4.6-4.7-2.3M3065.8 1663.6l-1.4-5.6-2.8-3.9M3035.1 1645.3l6.9 1.2 5.3-.9 7.1 4.2 4.4-.7M3033.8 1648.5l1.3-3.2M3049.8 1659.6l5.7-4.5 3.7-3M3042.6 1661.4l-2.1-5.7-3.6-3.5-3.1-3.7M3003.2 1536.2l-7.2-2.6-8.6-1.3-5.6-1.6M3003.2 1536.2l-.6-7.5 .8-6.5 1.1-5M2981.8 1530.7l.7-4.5 2.5-6.6 4-7.7M2989 1511.9l5.4-.5 5.9 2.4M3000.3 1513.8l4.2 3.4M3004.8 1550.6l0-6.2 .4-6.2M3005.2 1538.2l-2-2M2979.6 1532.8l2.2-2.1M2988.4 1510.5l.6 1.4M3018.8 1493.8l-6.3 5.1-4.8 4.1-2 7.1-5.4 3.7M3018.8 1493.8l-5.6-4.2M3005.2 1538.2l4.2-2.7 6.5-2M3023.7 1548.7l.9-6.6M3015.9 1533.5l6 3.6 2.7 5M3004.5 1517.2l3.6 .3 7.8 1.6 3.7 1.8M3015.9 1533.5l2.4-4.7 1.3-7.9M3087.8 1578.3l-4.3 4.2-5.2 6.4M3087.8 1578.3l-1.5-4.7-1.4-3.4M3077 1567.9l-1.9 4.5-1.7 3.6M3077 1567.9l5.7 1.9 2.2 .4M3073.4 1576l2.3 7.6 2.3 5.2M3078.3 1588.9l-.3-.1M3090.9 1601l-4.2-5.2-3.6-3.7-4.8-3.2M3095.7 1582.5l-5-2.5-2.9-1.7M3091.1 1567.4l-6.2 2.8M3073.2 1560.5l1.8 2 2 5.4M3060.8 1579.5l5.8 0 6.8-3.5M3093.8 1548.8l-1.4-.8M3086 1547.5l6.4 .5M3064.5 1593.6l6.8-2.9 6.7-1.9M3064.5 1593.6l-3.3-1.9-3.1-3.4M3065.3 1606.1l-.4-6.6-.4-5.9M3024.8 1601.8l.2 3.4-.4 5M3002.8 1607.4l5.1 3.7 4.6 3.7 3.7 4.6M3024.6 1610.2l-3.7 3.5-4.7 5.7M3036 1600.3l6-2.4 6.2-2.3M3036 1600.3l.3 2.5 3.8 5.2M3040.1 1608l4.6 3.3 6.1 2.6 3.5 1.1M3048.2 1595.6l3.6 7.7 .2 3.1 3.5 7.3M3055.5 1613.7l-1.2 1.3M3051.9 1589.4l-3.7 6.2M3031.3 1598.4l4.7 1.9M3024.6 1610.2l2.9 5 5.6 2.7M3033.1 1617.9l2.4-5.6 4.6-4.3M3059.3 1612l-3.8 1.7M3053.5 1631.5l-7.4 2.7-4.7-.2M3053.5 1631.5l-1.6-6 .5-4.1M3052.4 1621.4l-5.9 .3-8.3-1-4.6-.8M3041.4 1634l-5.6-3-5.9-3.5M3029.9 1627.5l1.9-2.7 1.8-4.9M3060 1639.1l-2.1-2.5-4.4-5.1M3035.1 1645.3l0-.7M3035.1 1644.6l2.5-7 3.8-3.6M3054.3 1615l-1.9 6.4M3033.1 1617.9l.5 2M3125.2 1354.9l-3.5 3.1-2.8 6.4-3.9 4.9M3098.1 1336.7l4.2 7.8 3.4 6 1.9 6.6 4.5 4.6 2.9 7.6M3085.9 1368.2l6.8 1.5 4.1 .7 5.2 2.7M3098.1 1336.7l2 7.2 .4 8.7 0 6.3 .6 6 .9 8.2M3196.1 1470.2l-.9-4.9-4.9-9.8-.3-6.3-2.2-5.5-1.7-6M3169.4 1464.5l-.6-4.9 1.7-5.4-1-7.9 1.6-5.5M3186.1 1437.7l-4.6 2.1-5.7-1.2-4.7 2.2M3162 1435.4l-5.3 4.2-2.9 4.3-5.4 4.6-6.5 2.7-4.7 3.9M3162 1435.4l4 1.8M3137.2 1455.1l-.4 4.5M3171.1 1440.8l-5.1-3.6M3162.9 1389.4l.3-2.8M3164.4 1385l-1.2 1.6M3164.4 1385l6.6 3.1 3.7 .4 5.7 3.5M3173.3 1407l6 1.4M3180.4 1392l.6 4.6-2 5.3 .7 6.4M3179.3 1408.4l.4-.1M3219.1 1422.7l-5.5-1.1-5.3-1.9-7.8-.6-6.1-3.1M3219.1 1422.7l-1.4 7.2 3.1 5.9-1.9 7.6M3218.9 1443.4l-3 2.1M3215.9 1445.5l-8-3.8-7.1-.1-5.2-2-6.3-3.6M3189.3 1436l2.9-8.4-.2-5.8 2.4-5.8M3224.3 1415l-3.5 2.1-1.7 5.6M3260.4 1423.2l-6.9-1.9-5.3-.7-4-2.9-9.2 1.5-5.5-2.7-5.2-1.5M3256.3 1444.8l-7 1.2-3.9-1.4-9.3-1-4 .5-7.8-.9-5.4 .2M3213.3 1458.7l-.4-7 3-6.2M3186.1 1437.7l3.2-1.7M3193.6 1412.4l-5.8-2.5-8.1-1.6M3193.6 1412.4l.8 3.6M3166 1437.2l2.5-7 3.6-4.8 1.4-4.5 2.4-8.3 3.4-4.2M3226.2 1387.8l-.2 6.4-2.9 4.1 2.3 6.1-2.2 5.5M3226.2 1387.8l-5.3-5.2-4.7-2.5M3223.2 1409.9l-7.3-.5-4.2-.6-6.4-1.9-8.3-.5M3216.2 1380.1l-8.5 1.7-5.4 2.9M3197 1406.4l1-8.5 .5-3.6 3.1-8.4M3202.3 1384.7l-.7 1.2M3255.4 1389.3l-5.8-1.7-10.3 2.7-7-2.8-6.1 .3M3224.3 1415l-1.1-5.1M3229.1 1291.1l-2 5.8-1.7 7.8 1.7 5.4-2 7 .1 9.7-.7 5.5-3.7 7.5-1.2 7.1-.2 7.3-1 6.2-.2 5-1 7.6-1 7.1M3193.6 1412.4l3.4-6M3167.4 1348.2l.1 5 2.7 4.7M3170.2 1357.9l5.5 5.2 4.6 4.2 4.8 4.1 5.6 5.4 5.1 2.7 6.5 5.2M3180.4 1392l5.4-2.8 8.8-2.3 7-1M3170.2 1357.9l-2.8 8.2-.8 4.3-1.1 9.1-1.1 5.5M3164 1519.8l-5 2.5-6.6-1-6 1.7M3164 1519.8l-.9 5.1-.9 8.4M3162.2 1533.3l-3.7 2.3-5-.2M3146.4 1523l5.1 7.4 2 5M3153.3 1507.4l-3.1 5.2-5 3.1-2.9 3.8M3167.3 1515.2l-3.3 4.6M3142.3 1519.5l4.1 3.5M3177 1539l-6.2-.3-3.6-4.7-5-.7M3149.9 1543.3l3.6-3.5 0-4.4M3098.5 1423.6l-1.4-3.5M3097.1 1420.1l-7.2 1.6-4.6-.5-5.2-.9-7.5 1M3090.7 1443.4l-2.8 2.2M3087.9 1445.6l-7.7-1.1-6.1-1.6M3072.6 1421.3l-.6 7.9 1.5 5.4 .6 8.3M3163.2 1386.6l-8.1-1.3-5 2.7-7-1.7M3155.1 1402.1l-4.1 1-6.1-.5-5.5-1.4M3139.4 1401.2l-3.4-2.6M3136 1398.6l2.9-6.6 4.2-5.7M3144.2 1361.1l-2 5.2-4.9 7M3143.1 1386.3l-2.5-6.2-3.3-6.8M3137.2 1455.1l-4.9-4.9-.6-3.9-4.6-5.1-3-6.6M3109.4 1451.8l-1.3 5.4 2 2.5M3110.1 1459.7l7.8 3.3 6.1 1.3 7.3 1.8M3119.5 1435.2l4.5-.6M3124.1 1434.6l-.1 0M3125.2 1544.4l4.1-7.7 1.6-5.6M3125.2 1544.4l2.7 2.9 5.2 .9M3141 1543.6l-2.6 1.3-5.3 3.3M3141 1543.6l-3.1-4.1-4.2-3-2.7-5.4M3131 1531.1l-.1 0M3112.3 1534.2l.3-3.9M3112.6 1530.3l5.3 1.3 6.6-2.1 6.4 1.6M3122.1 1545.8l3.1-1.4M3129.6 1562.7l2.9-6.1-2.1-5.3 2.7-3.1M3146.3 1545l-5.3-1.4M3137.8 1519.3l-3.9 4.1-2.9 7.7M3137.8 1519.3l4.5 .2M3062.5 1490.3l4.3-.1 6.9-3.4M3057.1 1468.8l4.7-3.1M3061.8 1465.7l3.1 7 3.8 3.6 5 8M3073.7 1486.8l0-2.5M3063.8 1463.4l-2 2.3M3063.8 1463.4l4-.4 9.3 2.3 3.2-.5 6.7 2.7M3073.7 1484.3l5-6.3 2.7-5.2 5.6-5.3M3063.8 1463.4l.7-7.4-.8-6.3M3087.9 1445.6l.4 6.1 .2 6.7 0 8.9M3063.7 1449.7l6.8-1.8 3.6-5M3088.5 1467.3l-1.5 .2M3092.4 1548l1.7-6.1 .7-5 2-6.2 1.1-6.8M3112.6 1530.3l-3.1-4.5M3109.5 1525.8l-6-1.3-5.6-.6M3076.8 1523.7l4-4 2.4-1.7M3083.2 1518l6.2 1.6 7.4 3.4M3097.9 1523.9l-1.1-.9M3060.8 1501.3l6.1 2.7 7.5 .9 7.8 .5M3066.4 1523.5l-4-4.4-.8-6.6-2.2-6.8M3083.2 1518l-1.7-5.6 1.2-6.3M3082.2 1505.4l.5 .7M3073.7 1486.8l4.7 2.1 2.5 3.6M3082.2 1505.4l-2.2-6.9 .9-6M3006.3 1658.4l-2.1-6.3M3006.3 1658.4l6.5 1.9 3-.7 7.1 1.6M3004.2 1652.1l6.4-3.5 1.8-.5 6.4-4M3018.8 1644.1l4.4 4 2.1 4.5M3022.9 1661.2l2-3.4 .4-5.2M3001.2 1670.9l3.8-7.4 1.3-5.1M3001.6 1650.4l1.3 .4M3002.9 1650.8l1.3 1.3M3026.5 1666.9l-3.6-5.7M3033.8 1648.5l-3.4 3.6-5.1 .5M3058.3 1540.6l-4.9-.3-7-.5M3042.9 1547.8l1.2-6.4M3046.4 1539.8l-2.3 1.6M3063.9 1524.8l-5.9 .9-3.3-1.6-7.3-2M3046.4 1539.8l.3-4.5 1.7-7.3-1-5.9M3050.3 1511.6l-2.8 5.7-.2 4.8M3047.4 1522.1l-.1 0M3026.9 1628.8l-6.6-3.4-3.9-2.2M3026.9 1628.8l-.5 3.9-1.2 3.9M3025.2 1636.6l-2.4 3.6-3.5 1.2M3019.3 1641.4l-3.6-5.3-6.9-3.8M3016.4 1623.2l-2.4 2.9-5.8 4.2M3008.2 1630.3l.6 2M3016.2 1619.4l.2 3.8M3029.9 1627.5l-3 1.3M3035.1 1644.6l-5.5-3.1-4.4-4.9M3018.8 1644.1l.5-2.7M3002.9 1650.8l3.7-6.1 1.3-5 .9-7.4M2998.7 1627.7l4.1 1.7 5.4 .9M3051.8 1421.1l2.1 0M3051.8 1421.1l-4.4 1.9-8.9 6.9-4.4 2-5.1 3.8-7 3.9M3053.9 1421.1l-.2 5.6 3.4 7.3 .1 3.8 1.2 8M3058.4 1445.8l-4.4-1.2-8.9 2.9-3.7 0-8.3 .5-5.2-.3-6.8 .1M3022 1439.6l0 3.9-2.1 3.5M3019.9 1447l1.2 .8M3032.4 1399.3l5 4.5 5.7 4.9 2.3 7.4 6.4 5M3064.1 1415.5l0 .4M3064.1 1415.9l-6.8 4-3.4 1.2M3018.3 1422.1l.1 5.7 1.5 5.9 2.1 5.9M3064.1 1415.9l4.7 1.6 3.8 3.8M3063.7 1449.7l-5.3-3.9M3028.3 1457.2l-3.4-3-3.8-6.4M2997.7 1455.6l4.3-3.2 5.7-2.6 4.9 1 7.3-3.8M3018.8 1493.8l5.8-.8 2.4 2.7M3115 1369.3l-.7 4.5M3137.3 1373.3l-4.5 1.8-7 1.2M3114.3 1373.8l4.6 2.7 6.9-.2M3136 1398.6l-6.5 .9M3125.8 1376.3l-.5 6.3 3 6.1-.7 3.7 1.9 7.1M3142.2 1409.9l5.9 1.4 5.2 3.8 5 1.3M3142.2 1409.9l-3.1 5.1 .4 3.4M3139.5 1418.4l2.9 3.9-.5 4.6M3141.9 1426.9l5.5 .3 6.5 .6 3.8 2M3157.7 1429.8l-1.1-6.7 1.7-6.7M3139.4 1401.2l1.2 4.6 1.6 4.1M3158.7 1415.4l-.4 1M3122.7 1403.2l2.3-.2 4.5-3.5M3125 1410.5l4.9 2.2 5.7 1.3 3.9 4.4M3125 1410.5l.4-2.4-2.7-4.9M3125 1410.5l-1.1 5.9-1.1 7.2 3.2 5.4-2 5.6M3124.1 1434.6l7.7-2.6 5.5-1.2 4.6-3.9M3162 1435.4l-4.3-5.6M3109.5 1525.8l5.4-6.5 2.2-6.2M3137.8 1519.3l-4-4.6M3117.1 1513.1l5.6-1.2 7.2 .7 3.9 2.1M3130.6 1475.5l-3.9 4.9-5.7 3.5-3 4.9M3150.4 1491.6l-6.2 1.3-5 4.5-5.1 3.6M3134.1 1501l-4.5-3.3-4.6-3.4-7-5.5M3134.1 1501l-1 7.3 .7 6.4M3093.8 1488.5l-5 2.4-6.4 .3M3093.8 1488.5l-1.9-7.1 1.2-6.4-1-5.7M3082.4 1491.2l3.8-5.8 1.5-6.9 2.9-2.1 .8-7.3M3092.1 1469.3l-.7-.2M3088.5 1467.3l2.9 1.8M3080.9 1492.5l1.5-1.3M3110.1 1459.7l-3.4 4.3-7 5.5M3099.7 1469.5l-2.6 1.7-5-1.9M3030.4 1538l-3.2-8.2 .3-3.3-2.4-8.4M3030.4 1538l5.4-.4M3035.8 1537.6l-1.4-4.5 2.7-7.1-.2-5.7M3036.9 1520.3l-5.8-2.4-3.1-2.5M3028 1515.4l-2.9 2.7M3024.6 1542.1l5.8-4.1M3019.6 1520.9l5.5-2.8M3044.1 1541.4l-4.2-3-4.1-.8M3047.3 1522.1l-3.7 0-6.7-1.8M3028.9 1497l-1.5 6.6 1.3 7.3-.7 4.5M3106.5 1376.3l4 .1M3106.5 1376.3l-2.6 5.9-6.2 3.1M3110.5 1376.4l-.3 6.1 1.7 7.6 1.1 6.7 2.9 5.2M3097.7 1385.3l-.5 6.3 .3 6.6-2.6 4.5M3115.9 1402l-4.4 2.9-6 2.1-5.4 2.4M3094.9 1402.7l.8 2.2 4.4 4.5M3102 1373.1l4.5 3.2M3114.3 1373.8l-3.8 2.6M3079.9 1381.5l6.6 .9 5.1 2.9 6.1 0M3122.7 1403.2l-6.8-1.2M3086.7 1399l3.7 2.7 4.5 1M3097.1 1420.1l2.6-4.1 .4-6.6M3113.1 1503.5l.6-4.4 2.4-5 1.6-5.2M3113.1 1503.5l-6-.3-2.9 2M3104.2 1505.2l-5.6-1-3.7-3M3112 1486.3l-5.6 2.3-7.7 3.3M3112 1486.3l5.7 2.6M3098.7 1491.9l-1.5 4.4-2.3 4.9M3117.1 1513.1l-1.9-5.6-2.1-4M3118 1488.8l-.3 .1M3096.8 1523l1.9-4.2 4.4-9.1 1.1-4.5M3082.7 1506.1l4.7-1.1 7.5-3.8M3099.7 1469.5l3.9 6.1 4.7 5.5 3.7 5.2M3093.8 1488.5l4.9 3.4"/>
</g>
<polygon points="3182.9,1517.0 3243.5,1517.0 3246.5,1531.0 3245.4,1555.4 3180.7,1556.1 3182.1,1538.4" fill="#e1e1e1" stroke="#8a8a8a" stroke-width="1.5"/>
<polygon points="3047.6,1301.8 3045.2,1306.3 3044.3,1311.6 3042.1,1318.0 3038.9,1324.0 3038.3,1329.5 3042.5,1331.4 3048.1,1332.5 3055.0,1335.8 3059.7,1338.3 3063.7,1338.2 3069.7,1340.6 3075.7,1344.2 3081.1,1344.9 3087.8,1346.2 3091.9,1349.8 3097.3,1352.3 3099.5,1354.9 3104.9,1359.1 3105.5,1353.8 3106.4,1347.0 3108.6,1340.6 3113.7,1335.9 3118.1,1330.7 3122.6,1327.6 3124.0,1330.5 3128.6,1334.8 3130.8,1338.7 3134.8,1334.4 3140.0,1329.5 3144.5,1333.5 3149.2,1338.7 3153.8,1343.6 3155.9,1347.6 3160.3,1351.7 3161.3,1359.3 3162.2,1364.6 3167.8,1361.5 3173.5,1358.6 3177.0,1357.2 3182.3,1356.1 3188.1,1353.5 3188.9,1359.0 3191.8,1364.6 3195.9,1364.2 3203.6,1363.0 3209.5,1361.3 3213.9,1360.9 3218.2,1363.7 3221.6,1365.7 3225.0,1368.3 3226.0,1364.1 3225.0,1357.7 3225.0,1351.7 3229.3,1354.7 3236.6,1358.1 3241.7,1359.1 3249.1,1357.5 3254.6,1357.2 3259.8,1355.3 3264.3,1352.2 3271.3,1349.8 3275.2,1345.6 3279.8,1344.5 3286.0,1340.6 3290.0,1339.8 3295.9,1341.7 3300.1,1340.4 3306.4,1340.6 3311.1,1338.0 3315.6,1333.2 3322.1,1336.1 3326.1,1336.6 3332.3,1338.7 3328.1,1343.0 3326.2,1343.9 3321.2,1348.0 3321.4,1352.7 3322.8,1359.0 3324.9,1364.6 3331.0,1362.1 3336.7,1360.9 3332.5,1364.4 3330.9,1368.5 3328.6,1372.0 3328.7,1377.5 3326.1,1382.2 3324.9,1386.8 3324.8,1390.4 3324.8,1397.5 3323.0,1401.6 3326.0,1407.4 3326.4,1411.2 3328.6,1416.4 3331.1,1420.5 3334.7,1422.5 3339.7,1427.5 3341.6,1432.0 3345.2,1438.6 3341.6,1440.9 3337.6,1444.9 3336.0,1449.7 3335.4,1454.2 3335.8,1460.6 3337.8,1464.5 3335.1,1467.1 3330.9,1471.4 3328.6,1475.5 3323.2,1472.0 3319.7,1472.1 3313.8,1468.1 3309.1,1469.9 3304.5,1471.8 3303.3,1475.6 3304.1,1481.0 3304.5,1486.6 3300.0,1485.6 3292.0,1488.0 3287.9,1486.6 3284.3,1488.7 3280.6,1491.4 3276.8,1495.9 3275.5,1502.4 3275.1,1506.6 3271.9,1510.7 3271.3,1516.2 3273.4,1522.0 3277.5,1526.9 3280.5,1531.0 3281.2,1534.5 3283.9,1541.1 3284.2,1543.9 3279.7,1545.8 3274.0,1546.5 3266.7,1546.8 3262.0,1547.6 3256.7,1548.1 3250.8,1550.7 3247.2,1553.2 3245.9,1559.9 3247.3,1565.4 3245.4,1571.7 3244.8,1578.1 3243.0,1581.1 3239.8,1586.5 3242.7,1589.4 3246.3,1593.0 3251.3,1598.7 3254.6,1601.3 3258.1,1607.4 3260.0,1614.5 3262.0,1619.7 3257.1,1625.1 3255.8,1630.4 3250.9,1634.5 3247.3,1637.6 3241.3,1641.6 3238.0,1643.8 3238.4,1651.1 3239.8,1656.7 3245.5,1658.9 3248.2,1663.0 3252.8,1664.1 3251.0,1668.1 3246.7,1672.9 3245.4,1678.9 3248.4,1684.7 3248.0,1689.7 3250.9,1693.7 3247.7,1697.4 3241.2,1700.3 3236.0,1702.0 3232.4,1706.6 3230.1,1710.8 3225.0,1714.0 3220.5,1718.1 3215.6,1720.7 3212.1,1721.5 3206.5,1725.1 3200.3,1721.7 3195.5,1719.6 3189.8,1716.7 3184.9,1713.2 3180.7,1710.3 3175.9,1706.6 3172.8,1700.3 3169.6,1695.5 3164.9,1698.0 3159.5,1699.2 3154.8,1699.2 3149.9,1703.0 3145.0,1705.2 3140.0,1710.3 3136.1,1712.5 3131.1,1717.4 3128.9,1719.6 3123.5,1722.5 3120.7,1725.7 3115.1,1728.5 3111.3,1732.2 3106.7,1734.4 3100.6,1732.1 3096.1,1728.8 3091.9,1727.0 3087.2,1727.0 3081.0,1727.7 3076.5,1726.8 3069.7,1727.0 3065.1,1730.7 3059.9,1734.9 3055.0,1738.1 3051.1,1740.6 3047.5,1744.3 3043.9,1745.5 3039.5,1750.3 3035.3,1752.1 3029.1,1756.5 3026.8,1761.6 3025.1,1762.9 3021.7,1767.6 3015.9,1771.2 3011.2,1774.3 3006.5,1779.2 3003.2,1782.4 2998.5,1781.8 2992.1,1778.7 2986.1,1776.9 2982.7,1772.7 2977.3,1771.3 2972.3,1772.7 2964.2,1772.7 2958.8,1771.3 2952.4,1769.5 2947.9,1768.6 2940.3,1765.8 2933.8,1763.7 2929.2,1762.1 2923.7,1758.4 2917.2,1755.1 2913.3,1751.0 2907.1,1749.2 2902.3,1746.5 2895.8,1743.7 2892.3,1741.8 2886.7,1740.7 2879.1,1741.0 2875.4,1739.8 2867.4,1736.6 2862.7,1736.2 2857.6,1732.4 2855.3,1727.0 2857.1,1720.9 2860.0,1718.3 2862.7,1712.2 2858.7,1712.1 2851.8,1714.7 2847.9,1714.0 2846.3,1709.7 2843.0,1702.9 2842.4,1699.2 2844.8,1695.3 2846.0,1691.8 2842.9,1687.6 2842.7,1681.6 2840.5,1675.2 2837.4,1671.3 2835.5,1666.4 2835.0,1660.4 2835.4,1653.8 2836.3,1649.4 2836.8,1641.9 2838.4,1635.3 2841.5,1630.1 2842.6,1624.3 2846.0,1619.7 2847.8,1615.2 2851.7,1611.8 2855.3,1608.7 2859.8,1605.6 2862.7,1602.8 2866.4,1601.3 2867.8,1594.3 2869.3,1588.7 2872.6,1584.8 2873.8,1579.1 2876.6,1574.1 2882.5,1568.0 2884.9,1564.3 2890.7,1560.4 2894.7,1557.9 2899.7,1553.2 2902.1,1548.6 2905.2,1543.9 2911.3,1545.4 2915.8,1544.9 2921.8,1543.9 2926.2,1539.3 2929.0,1533.3 2931.6,1527.6 2936.6,1523.6 2937.8,1518.2 2940.8,1510.3 2944.0,1505.1 2945.3,1501.2 2950.1,1495.8 2951.4,1490.3 2955.4,1487.3 2960.1,1485.6 2964.3,1483.2 2969.9,1481.1 2974.8,1485.2 2981.0,1486.6 2983.6,1481.8 2982.7,1478.2 2984.7,1471.8 2986.0,1465.9 2986.9,1460.4 2990.2,1455.2 2992.1,1449.7 2992.1,1443.2 2992.5,1436.0 2993.7,1430.0 2995.8,1423.8 2995.9,1417.2 2998.2,1412.6 3000.5,1408.3 3002.5,1403.5 3003.2,1397.9 3005.1,1392.9 3005.3,1385.1 3006.9,1379.4 3012.0,1373.4 3014.9,1370.0 3018.0,1364.6 3017.6,1360.1 3021.0,1353.9 3021.4,1348.9 3021.7,1342.4 3023.1,1336.3 3026.6,1331.1 3029.1,1323.9 3033.1,1320.0 3035.5,1315.3 3038.3,1309.2 3043.5,1306.0" fill="none" stroke="#808080" stroke-width="1.9" stroke-linejoin="round"/>
</g>
<rect x="3081.9" y="1480" width="43.4" height="38.7" fill="none" stroke="#fa0000" stroke-width="7.7"/>
<text x="3147.3" y="1325.8" font-size="40.5" fill="#000">TO</text>
<text x="2832.4" y="1460.7" font-size="40.5" fill="#000">MT</text>
<text x="3358.8" y="1384.9" font-size="40.5" fill="#000">BA</text>
<text x="3305.6" y="1642.6" font-size="40.5" fill="#000">MG</text>
<text x="2795.4" y="1763.9" font-size="40.5" fill="#000">MS</text>
<rect x="2742.2" y="1276.3" width="696.4" height="544.4" fill="none" stroke="#4e4e4e" stroke-width="4.5"/>
<text x="2742.8" y="1893.3" font-size="36.6" font-weight="bold" text-anchor="start" fill="#000" textLength="279.0" lengthAdjust="spacing">Fonte de Dados</text>
<text x="2742.8" y="1946.3" font-size="32.8" font-weight="normal" text-anchor="start" fill="#000" textLength="446.0" lengthAdjust="spacing">Imagens Rapideye - Ano 2013</text>
<text x="2742.8" y="1984.4" font-size="32.8" font-weight="normal" text-anchor="start" fill="#000" textLength="684.4" lengthAdjust="spacing">Áreas edificadas - Base Cartográfica Contínua</text>
<text x="2742.8" y="2022.9" font-size="32.8" font-weight="normal" text-anchor="start" fill="#000">do Brasil, escala 1:250.000</text>
<text x="2742.8" y="2099.1" font-size="32.8" font-weight="normal" text-anchor="start" fill="#000" textLength="563.0" lengthAdjust="spacing">Sistema de Coordenadas Geográficas</text>
<text x="2742.8" y="2137.8" font-size="32.8" font-weight="normal" text-anchor="start" fill="#000">Datum SIRGAS 2000</text>
<defs><radialGradient id="lgA" cx="0.58" cy="0.62" r="0.62"><stop offset="0" stop-color="#0f8a07"/><stop offset="0.35" stop-color="#1fab0f"/><stop offset="0.8" stop-color="#2cc41c"/><stop offset="1" stop-color="#3ad82a"/></radialGradient>
<radialGradient id="lgB" cx="0.5" cy="0.5" r="0.5"><stop offset="0" stop-color="#fff" stop-opacity="0.75"/><stop offset="0.6" stop-color="#fff" stop-opacity="0.45"/><stop offset="1" stop-color="#fff" stop-opacity="0"/></radialGradient>
<clipPath id="lgC"><circle cx="3019.6" cy="2303.3" r="52.6"/></clipPath></defs>
<polygon points="3032.1,2204.6 3047.1,2190.3 3126.8,2270.6 3111.2,2285" fill="#e3bd35"/>
<circle cx="3019.6" cy="2303.3" r="56.6" fill="#0c3307"/>
<circle cx="3019.6" cy="2303.3" r="53.2" fill="url(#lgA)"/>
<g clip-path="url(#lgC)"><ellipse cx="3004" cy="2276" rx="44" ry="27" fill="url(#lgB)" transform="rotate(-28 3004 2276)"/></g>
<text transform="translate(3081.7,2354.9) scale(1.143,1.1)" font-size="66" font-weight="bold" fill="#70665d">f</text><text transform="translate(3106.3,2354.9) scale(1.102,1.1)" font-size="66" font-weight="bold" fill="#70665d">b</text><text transform="translate(3149.7,2354.9) scale(0.961,1.1)" font-size="66" font-weight="bold" fill="#70665d">d</text><text transform="translate(3190.4,2354.9) scale(0.763,1.1)" font-size="66" font-weight="bold" fill="#70665d">s</text>
</svg>
</body></html>
